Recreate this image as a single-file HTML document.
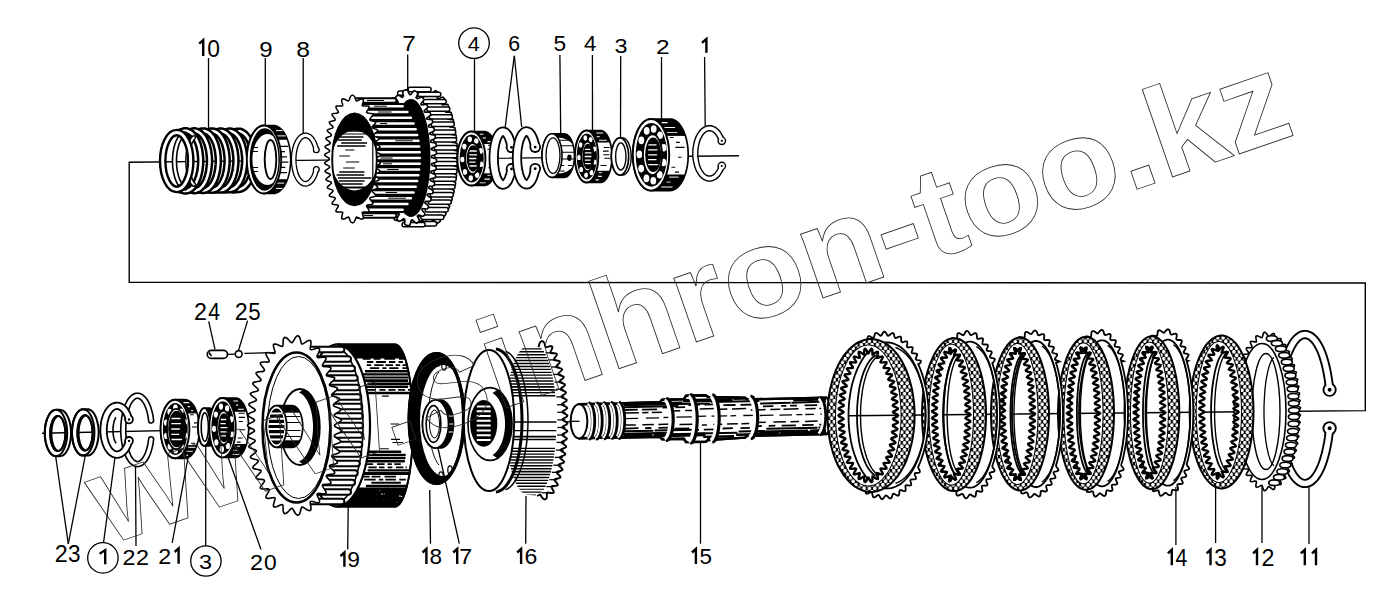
<!DOCTYPE html>
<html><head><meta charset="utf-8"><style>
html,body{margin:0;padding:0;background:#fff;overflow:hidden;}
svg{display:block;}
text{font-family:"Liberation Sans",sans-serif;}
</style></head><body>
<svg width="1381" height="607" viewBox="0 0 1381 607">
<rect width="1381" height="607" fill="#fff"/>
<defs>
<pattern id="tex" patternUnits="userSpaceOnUse" width="5.4" height="7">
<rect width="5.4" height="7" fill="#000"/>
<ellipse cx="2.7" cy="1.75" rx="1.7" ry="2.05" fill="#fff"/>
<ellipse cx="0" cy="5.25" rx="1.7" ry="2.05" fill="#fff"/>
<ellipse cx="5.4" cy="5.25" rx="1.7" ry="2.05" fill="#fff"/>
</pattern>
</defs>
<polyline points="739,155.7 129.2,162.2 129.2,282.3 1365.3,283 1365.3,410.6 850,415.7 42,433.3" fill="none" stroke="#000" stroke-width="1.4"/>
<path d="M231.3,131.5 231.9,131.3 232.6,131.1 233.2,131 233.9,131 234.6,131 235.2,131.1 235.9,131.3 236.5,131.5 237.2,131.7 237.8,132 238.5,132.4 239.1,132.8 239.7,133.3 240.3,133.8 240.9,134.4 241.5,135 242.1,135.7 242.6,136.4 243.2,137.2 243.7,138" fill="none" stroke="#000" stroke-width="5.5" />
<path d="M243.7,184 243.2,184.8 242.6,185.6 242.1,186.3 241.5,187 240.9,187.6 240.3,188.2 239.7,188.7 239.1,189.2 238.5,189.6 237.8,190 237.2,190.3 236.5,190.5 235.9,190.7 235.2,190.9 234.6,191 233.9,191 233.2,191 232.6,190.9 231.9,190.7 231.3,190.5" fill="none" stroke="#000" stroke-width="5.5" />
<path d="M222.5,131.5 223.1,131.3 223.8,131.1 224.4,131 225.1,131 225.8,131 226.4,131.1 227.1,131.3 227.7,131.5 228.4,131.7 229,132 229.7,132.4 230.3,132.8 230.9,133.3 231.5,133.8 232.1,134.4 232.7,135 233.3,135.7 233.8,136.4 234.4,137.2 234.9,138" fill="none" stroke="#000" stroke-width="5.5" />
<path d="M234.9,184 234.4,184.8 233.8,185.6 233.3,186.3 232.7,187 232.1,187.6 231.5,188.2 230.9,188.7 230.3,189.2 229.7,189.6 229,190 228.4,190.3 227.7,190.5 227.1,190.7 226.4,190.9 225.8,191 225.1,191 224.4,191 223.8,190.9 223.1,190.7 222.5,190.5" fill="none" stroke="#000" stroke-width="5.5" />
<path d="M213.7,131.5 214.3,131.3 215,131.1 215.6,131 216.3,131 217,131 217.6,131.1 218.3,131.3 218.9,131.5 219.6,131.7 220.2,132 220.9,132.4 221.5,132.8 222.1,133.3 222.7,133.8 223.3,134.4 223.9,135 224.5,135.7 225,136.4 225.6,137.2 226.1,138" fill="none" stroke="#000" stroke-width="5.5" />
<path d="M226.1,184 225.6,184.8 225,185.6 224.5,186.3 223.9,187 223.3,187.6 222.7,188.2 222.1,188.7 221.5,189.2 220.9,189.6 220.2,190 219.6,190.3 218.9,190.5 218.3,190.7 217.6,190.9 217,191 216.3,191 215.6,191 215,190.9 214.3,190.7 213.7,190.5" fill="none" stroke="#000" stroke-width="5.5" />
<path d="M204.9,131.5 205.5,131.3 206.2,131.1 206.8,131 207.5,131 208.2,131 208.8,131.1 209.5,131.3 210.1,131.5 210.8,131.7 211.4,132 212.1,132.4 212.7,132.8 213.3,133.3 213.9,133.8 214.5,134.4 215.1,135 215.7,135.7 216.2,136.4 216.8,137.2 217.3,138" fill="none" stroke="#000" stroke-width="5.5" />
<path d="M217.3,184 216.8,184.8 216.2,185.6 215.7,186.3 215.1,187 214.5,187.6 213.9,188.2 213.3,188.7 212.7,189.2 212.1,189.6 211.4,190 210.8,190.3 210.1,190.5 209.5,190.7 208.8,190.9 208.2,191 207.5,191 206.8,191 206.2,190.9 205.5,190.7 204.9,190.5" fill="none" stroke="#000" stroke-width="5.5" />
<path d="M196.1,131.5 196.7,131.3 197.4,131.1 198,131 198.7,131 199.4,131 200,131.1 200.7,131.3 201.3,131.5 202,131.7 202.6,132 203.3,132.4 203.9,132.8 204.5,133.3 205.1,133.8 205.7,134.4 206.3,135 206.9,135.7 207.4,136.4 208,137.2 208.5,138" fill="none" stroke="#000" stroke-width="5.5" />
<path d="M208.5,184 208,184.8 207.4,185.6 206.9,186.3 206.3,187 205.7,187.6 205.1,188.2 204.5,188.7 203.9,189.2 203.3,189.6 202.6,190 202,190.3 201.3,190.5 200.7,190.7 200,190.9 199.4,191 198.7,191 198,191 197.4,190.9 196.7,190.7 196.1,190.5" fill="none" stroke="#000" stroke-width="5.5" />
<path d="M187.3,131.5 187.9,131.3 188.6,131.1 189.2,131 189.9,131 190.6,131 191.2,131.1 191.9,131.3 192.5,131.5 193.2,131.7 193.8,132 194.5,132.4 195.1,132.8 195.7,133.3 196.3,133.8 196.9,134.4 197.5,135 198.1,135.7 198.6,136.4 199.2,137.2 199.7,138" fill="none" stroke="#000" stroke-width="5.5" />
<path d="M199.7,184 199.2,184.8 198.6,185.6 198.1,186.3 197.5,187 196.9,187.6 196.3,188.2 195.7,188.7 195.1,189.2 194.5,189.6 193.8,190 193.2,190.3 192.5,190.5 191.9,190.7 191.2,190.9 190.6,191 189.9,191 189.2,191 188.6,190.9 187.9,190.7 187.3,190.5" fill="none" stroke="#000" stroke-width="5.5" />
<path d="M178.5,131.5 179.1,131.3 179.8,131.1 180.4,131 181.1,131 181.8,131 182.4,131.1 183.1,131.3 183.7,131.5 184.4,131.7 185,132 185.7,132.4 186.3,132.8 186.9,133.3 187.5,133.8 188.1,134.4 188.7,135 189.3,135.7 189.8,136.4 190.4,137.2 190.9,138" fill="none" stroke="#000" stroke-width="5.5" />
<path d="M190.9,184 190.4,184.8 189.8,185.6 189.3,186.3 188.7,187 188.1,187.6 187.5,188.2 186.9,188.7 186.3,189.2 185.7,189.6 185,190 184.4,190.3 183.7,190.5 183.1,190.7 182.4,190.9 181.8,191 181.1,191 180.4,191 179.8,190.9 179.1,190.7 178.5,190.5" fill="none" stroke="#000" stroke-width="5.5" />
<path d="M234.4,132.1 235.3,131.7 236.2,131.4 237.1,131.2 238,131.2 239,131.2 239.9,131.3 240.8,131.5 241.7,131.9 242.6,132.4 243.5,132.9 244.4,133.6 245.2,134.3 246,135.2 246.8,136.1 247.6,137.2 248.3,138.3 249,139.5 249.6,140.8 250.2,142.2 250.8,143.6 251.3,145.1 251.7,146.6 252.1,148.2 252.5,149.9 252.8,151.5 253,153.2 253.2,155 253.4,156.7 253.5,158.5 253.5,160.3 253.5,162.1 253.4,163.9 253.2,165.6 253,167.4 252.8,169.1 252.5,170.7 252.1,172.4 251.7,174 251.3,175.5 250.8,177 250.2,178.4 249.6,179.8 249,181.1 248.3,182.3 247.6,183.4 246.8,184.5 246,185.4 245.2,186.3 244.4,187 243.5,187.7 242.6,188.2 241.7,188.7 240.8,189.1 239.9,189.3 239,189.4 238,189.4 237.1,189.4 236.2,189.2 235.3,188.9 234.4,188.5" fill="none" stroke="#000" stroke-width="7.6" stroke-linecap="round"/>
<path d="M234.4,132.1 235.3,131.7 236.2,131.4 237.1,131.2 238,131.2 239,131.2 239.9,131.3 240.8,131.5 241.7,131.9 242.6,132.4 243.5,132.9 244.4,133.6 245.2,134.3 246,135.2 246.8,136.1 247.6,137.2 248.3,138.3 249,139.5 249.6,140.8 250.2,142.2 250.8,143.6 251.3,145.1 251.7,146.6 252.1,148.2 252.5,149.9 252.8,151.5 253,153.2 253.2,155 253.4,156.7 253.5,158.5 253.5,160.3 253.5,162.1 253.4,163.9 253.2,165.6 253,167.4 252.8,169.1 252.5,170.7 252.1,172.4 251.7,174 251.3,175.5 250.8,177 250.2,178.4 249.6,179.8 249,181.1 248.3,182.3 247.6,183.4 246.8,184.5 246,185.4 245.2,186.3 244.4,187 243.5,187.7 242.6,188.2 241.7,188.7 240.8,189.1 239.9,189.3 239,189.4 238,189.4 237.1,189.4 236.2,189.2 235.3,188.9 234.4,188.5" fill="none" stroke="#fff" stroke-width="2.6" stroke-linecap="round"/>
<path d="M225.6,132.1 226.5,131.7 227.4,131.4 228.3,131.2 229.2,131.1 230.2,131.1 231.1,131.3 232,131.5 232.9,131.9 233.8,132.3 234.7,132.9 235.6,133.5 236.4,134.3 237.2,135.2 238,136.1 238.8,137.2 239.5,138.3 240.2,139.5 240.8,140.8 241.4,142.2 242,143.6 242.5,145.1 242.9,146.6 243.3,148.2 243.7,149.9 244,151.6 244.2,153.3 244.4,155.1 244.6,156.8 244.7,158.6 244.7,160.4 244.7,162.2 244.6,164 244.4,165.7 244.2,167.5 244,169.2 243.7,170.9 243.3,172.6 242.9,174.2 242.5,175.7 242,177.2 241.4,178.6 240.8,180 240.2,181.3 239.5,182.5 238.8,183.6 238,184.7 237.2,185.6 236.4,186.5 235.6,187.3 234.7,187.9 233.8,188.5 232.9,188.9 232,189.3 231.1,189.5 230.2,189.7 229.2,189.7 228.3,189.6 227.4,189.4 226.5,189.1 225.6,188.7" fill="none" stroke="#000" stroke-width="7.6" stroke-linecap="round"/>
<path d="M225.6,132.1 226.5,131.7 227.4,131.4 228.3,131.2 229.2,131.1 230.2,131.1 231.1,131.3 232,131.5 232.9,131.9 233.8,132.3 234.7,132.9 235.6,133.5 236.4,134.3 237.2,135.2 238,136.1 238.8,137.2 239.5,138.3 240.2,139.5 240.8,140.8 241.4,142.2 242,143.6 242.5,145.1 242.9,146.6 243.3,148.2 243.7,149.9 244,151.6 244.2,153.3 244.4,155.1 244.6,156.8 244.7,158.6 244.7,160.4 244.7,162.2 244.6,164 244.4,165.7 244.2,167.5 244,169.2 243.7,170.9 243.3,172.6 242.9,174.2 242.5,175.7 242,177.2 241.4,178.6 240.8,180 240.2,181.3 239.5,182.5 238.8,183.6 238,184.7 237.2,185.6 236.4,186.5 235.6,187.3 234.7,187.9 233.8,188.5 232.9,188.9 232,189.3 231.1,189.5 230.2,189.7 229.2,189.7 228.3,189.6 227.4,189.4 226.5,189.1 225.6,188.7" fill="none" stroke="#fff" stroke-width="2.6" stroke-linecap="round"/>
<path d="M216.8,132.1 217.7,131.6 218.6,131.3 219.5,131.1 220.4,131.1 221.4,131.1 222.3,131.2 223.2,131.5 224.1,131.8 225,132.3 225.9,132.8 226.8,133.5 227.6,134.3 228.4,135.1 229.2,136.1 230,137.1 230.7,138.3 231.4,139.5 232,140.8 232.6,142.2 233.2,143.6 233.7,145.1 234.1,146.7 234.5,148.3 234.9,149.9 235.2,151.6 235.4,153.4 235.6,155.1 235.8,156.9 235.9,158.7 235.9,160.5 235.9,162.3 235.8,164.1 235.6,165.9 235.4,167.6 235.2,169.4 234.9,171.1 234.5,172.7 234.1,174.3 233.7,175.9 233.2,177.4 232.6,178.8 232,180.2 231.4,181.5 230.7,182.7 230,183.9 229.2,184.9 228.4,185.9 227.6,186.7 226.8,187.5 225.9,188.2 225,188.7 224.1,189.2 223.2,189.5 222.3,189.8 221.4,189.9 220.4,189.9 219.5,189.9 218.6,189.7 217.7,189.4 216.8,188.9" fill="none" stroke="#000" stroke-width="7.6" stroke-linecap="round"/>
<path d="M216.8,132.1 217.7,131.6 218.6,131.3 219.5,131.1 220.4,131.1 221.4,131.1 222.3,131.2 223.2,131.5 224.1,131.8 225,132.3 225.9,132.8 226.8,133.5 227.6,134.3 228.4,135.1 229.2,136.1 230,137.1 230.7,138.3 231.4,139.5 232,140.8 232.6,142.2 233.2,143.6 233.7,145.1 234.1,146.7 234.5,148.3 234.9,149.9 235.2,151.6 235.4,153.4 235.6,155.1 235.8,156.9 235.9,158.7 235.9,160.5 235.9,162.3 235.8,164.1 235.6,165.9 235.4,167.6 235.2,169.4 234.9,171.1 234.5,172.7 234.1,174.3 233.7,175.9 233.2,177.4 232.6,178.8 232,180.2 231.4,181.5 230.7,182.7 230,183.9 229.2,184.9 228.4,185.9 227.6,186.7 226.8,187.5 225.9,188.2 225,188.7 224.1,189.2 223.2,189.5 222.3,189.8 221.4,189.9 220.4,189.9 219.5,189.9 218.6,189.7 217.7,189.4 216.8,188.9" fill="none" stroke="#fff" stroke-width="2.6" stroke-linecap="round"/>
<path d="M208,132 208.9,131.6 209.8,131.3 210.7,131.1 211.6,131 212.6,131 213.5,131.2 214.4,131.4 215.3,131.8 216.2,132.2 217.1,132.8 218,133.5 218.8,134.2 219.6,135.1 220.4,136.1 221.2,137.1 221.9,138.3 222.6,139.5 223.2,140.8 223.8,142.2 224.4,143.6 224.9,145.1 225.3,146.7 225.7,148.3 226.1,150 226.4,151.7 226.6,153.4 226.8,155.2 227,157 227.1,158.8 227.1,160.6 227.1,162.4 227,164.2 226.8,166 226.6,167.8 226.4,169.5 226.1,171.2 225.7,172.9 225.3,174.5 224.9,176.1 224.4,177.6 223.8,179 223.2,180.4 222.6,181.7 221.9,182.9 221.2,184.1 220.4,185.1 219.6,186.1 218.8,187 218,187.7 217.1,188.4 216.2,189 215.3,189.4 214.4,189.8 213.5,190 212.6,190.2 211.6,190.2 210.7,190.1 209.8,189.9 208.9,189.6 208,189.2" fill="none" stroke="#000" stroke-width="7.6" stroke-linecap="round"/>
<path d="M208,132 208.9,131.6 209.8,131.3 210.7,131.1 211.6,131 212.6,131 213.5,131.2 214.4,131.4 215.3,131.8 216.2,132.2 217.1,132.8 218,133.5 218.8,134.2 219.6,135.1 220.4,136.1 221.2,137.1 221.9,138.3 222.6,139.5 223.2,140.8 223.8,142.2 224.4,143.6 224.9,145.1 225.3,146.7 225.7,148.3 226.1,150 226.4,151.7 226.6,153.4 226.8,155.2 227,157 227.1,158.8 227.1,160.6 227.1,162.4 227,164.2 226.8,166 226.6,167.8 226.4,169.5 226.1,171.2 225.7,172.9 225.3,174.5 224.9,176.1 224.4,177.6 223.8,179 223.2,180.4 222.6,181.7 221.9,182.9 221.2,184.1 220.4,185.1 219.6,186.1 218.8,187 218,187.7 217.1,188.4 216.2,189 215.3,189.4 214.4,189.8 213.5,190 212.6,190.2 211.6,190.2 210.7,190.1 209.8,189.9 208.9,189.6 208,189.2" fill="none" stroke="#fff" stroke-width="2.6" stroke-linecap="round"/>
<path d="M199.2,132 200.1,131.5 201,131.2 201.9,131 202.8,131 203.8,131 204.7,131.1 205.6,131.4 206.5,131.7 207.4,132.2 208.3,132.7 209.2,133.4 210,134.2 210.8,135.1 211.6,136 212.4,137.1 213.1,138.2 213.8,139.5 214.4,140.8 215,142.2 215.6,143.6 216.1,145.2 216.5,146.7 216.9,148.4 217.3,150 217.6,151.8 217.8,153.5 218,155.3 218.2,157.1 218.3,158.9 218.3,160.7 218.3,162.5 218.2,164.3 218,166.1 217.8,167.9 217.6,169.6 217.3,171.4 216.9,173 216.5,174.7 216.1,176.2 215.6,177.8 215,179.2 214.4,180.6 213.8,181.9 213.1,183.2 212.4,184.3 211.6,185.4 210.8,186.3 210,187.2 209.2,188 208.3,188.7 207.4,189.2 206.5,189.7 205.6,190 204.7,190.3 203.8,190.4 202.8,190.4 201.9,190.4 201,190.2 200.1,189.9 199.2,189.4" fill="none" stroke="#000" stroke-width="7.6" stroke-linecap="round"/>
<path d="M199.2,132 200.1,131.5 201,131.2 201.9,131 202.8,131 203.8,131 204.7,131.1 205.6,131.4 206.5,131.7 207.4,132.2 208.3,132.7 209.2,133.4 210,134.2 210.8,135.1 211.6,136 212.4,137.1 213.1,138.2 213.8,139.5 214.4,140.8 215,142.2 215.6,143.6 216.1,145.2 216.5,146.7 216.9,148.4 217.3,150 217.6,151.8 217.8,153.5 218,155.3 218.2,157.1 218.3,158.9 218.3,160.7 218.3,162.5 218.2,164.3 218,166.1 217.8,167.9 217.6,169.6 217.3,171.4 216.9,173 216.5,174.7 216.1,176.2 215.6,177.8 215,179.2 214.4,180.6 213.8,181.9 213.1,183.2 212.4,184.3 211.6,185.4 210.8,186.3 210,187.2 209.2,188 208.3,188.7 207.4,189.2 206.5,189.7 205.6,190 204.7,190.3 203.8,190.4 202.8,190.4 201.9,190.4 201,190.2 200.1,189.9 199.2,189.4" fill="none" stroke="#fff" stroke-width="2.6" stroke-linecap="round"/>
<path d="M190.4,131.9 191.3,131.5 192.2,131.2 193.1,131 194,130.9 195,130.9 195.9,131.1 196.8,131.3 197.7,131.7 198.6,132.1 199.5,132.7 200.4,133.4 201.2,134.2 202,135 202.8,136 203.6,137.1 204.3,138.2 205,139.5 205.6,140.8 206.2,142.2 206.8,143.7 207.3,145.2 207.7,146.8 208.1,148.4 208.5,150.1 208.8,151.8 209,153.6 209.2,155.4 209.4,157.2 209.5,159 209.5,160.8 209.5,162.6 209.4,164.4 209.2,166.2 209,168 208.8,169.8 208.5,171.5 208.1,173.2 207.7,174.8 207.3,176.4 206.8,177.9 206.2,179.4 205.6,180.8 205,182.1 204.3,183.4 203.6,184.5 202.8,185.6 202,186.6 201.2,187.4 200.4,188.2 199.5,188.9 198.6,189.5 197.7,189.9 196.8,190.3 195.9,190.5 195,190.7 194,190.7 193.1,190.6 192.2,190.4 191.3,190.1 190.4,189.7" fill="none" stroke="#000" stroke-width="7.6" stroke-linecap="round"/>
<path d="M190.4,131.9 191.3,131.5 192.2,131.2 193.1,131 194,130.9 195,130.9 195.9,131.1 196.8,131.3 197.7,131.7 198.6,132.1 199.5,132.7 200.4,133.4 201.2,134.2 202,135 202.8,136 203.6,137.1 204.3,138.2 205,139.5 205.6,140.8 206.2,142.2 206.8,143.7 207.3,145.2 207.7,146.8 208.1,148.4 208.5,150.1 208.8,151.8 209,153.6 209.2,155.4 209.4,157.2 209.5,159 209.5,160.8 209.5,162.6 209.4,164.4 209.2,166.2 209,168 208.8,169.8 208.5,171.5 208.1,173.2 207.7,174.8 207.3,176.4 206.8,177.9 206.2,179.4 205.6,180.8 205,182.1 204.3,183.4 203.6,184.5 202.8,185.6 202,186.6 201.2,187.4 200.4,188.2 199.5,188.9 198.6,189.5 197.7,189.9 196.8,190.3 195.9,190.5 195,190.7 194,190.7 193.1,190.6 192.2,190.4 191.3,190.1 190.4,189.7" fill="none" stroke="#fff" stroke-width="2.6" stroke-linecap="round"/>
<path d="M181.6,131.9 182.5,131.5 183.4,131.1 184.3,130.9 185.2,130.9 186.2,130.9 187.1,131 188,131.3 188.9,131.6 189.8,132.1 190.7,132.7 191.6,133.3 192.4,134.1 193.2,135 194,136 194.8,137.1 195.5,138.2 196.2,139.5 196.8,140.8 197.4,142.2 198,143.7 198.5,145.2 198.9,146.8 199.3,148.4 199.7,150.1 200,151.9 200.2,153.6 200.4,155.4 200.6,157.2 200.7,159.1 200.7,160.9 200.7,162.7 200.6,164.6 200.4,166.4 200.2,168.2 200,169.9 199.7,171.7 199.3,173.4 198.9,175 198.5,176.6 198,178.1 197.4,179.6 196.8,181 196.2,182.3 195.5,183.6 194.8,184.7 194,185.8 193.2,186.8 192.4,187.7 191.6,188.5 190.7,189.1 189.8,189.7 188.9,190.2 188,190.5 187.1,190.8 186.2,190.9 185.2,190.9 184.3,190.9 183.4,190.7 182.5,190.3 181.6,189.9" fill="none" stroke="#000" stroke-width="7.6" stroke-linecap="round"/>
<path d="M181.6,131.9 182.5,131.5 183.4,131.1 184.3,130.9 185.2,130.9 186.2,130.9 187.1,131 188,131.3 188.9,131.6 189.8,132.1 190.7,132.7 191.6,133.3 192.4,134.1 193.2,135 194,136 194.8,137.1 195.5,138.2 196.2,139.5 196.8,140.8 197.4,142.2 198,143.7 198.5,145.2 198.9,146.8 199.3,148.4 199.7,150.1 200,151.9 200.2,153.6 200.4,155.4 200.6,157.2 200.7,159.1 200.7,160.9 200.7,162.7 200.6,164.6 200.4,166.4 200.2,168.2 200,169.9 199.7,171.7 199.3,173.4 198.9,175 198.5,176.6 198,178.1 197.4,179.6 196.8,181 196.2,182.3 195.5,183.6 194.8,184.7 194,185.8 193.2,186.8 192.4,187.7 191.6,188.5 190.7,189.1 189.8,189.7 188.9,190.2 188,190.5 187.1,190.8 186.2,190.9 185.2,190.9 184.3,190.9 183.4,190.7 182.5,190.3 181.6,189.9" fill="none" stroke="#fff" stroke-width="2.6" stroke-linecap="round"/>
<path d="M185,187.9 184.4,187.7 183.9,187.5 183.3,187.3 182.8,186.9 182.2,186.5 181.7,186 181.2,185.5 180.7,184.9 180.2,184.3 179.7,183.6 179.2,182.8 178.8,182 178.3,181.1 177.9,180.2 177.5,179.2 177.1,178.2 176.8,177.2 176.5,176.1 176.2,175 175.9,173.8 175.6,172.6 175.4,171.4 175.2,170.2 175,168.9 174.8,167.6 174.7,166.3 174.6,165 174.6,163.7 174.5,162.3 174.5,161 174.5,159.7 174.6,158.3 174.6,157 174.7,155.7 174.8,154.4 175,153.1 175.2,151.8 175.4,150.6 175.6,149.4 175.9,148.2 176.2,147 176.5,145.9 176.8,144.8 177.1,143.8 177.5,142.8 177.9,141.8 178.3,140.9 178.8,140 179.2,139.2 179.7,138.4 180.2,137.7 180.7,137.1 181.2,136.5 181.7,136 182.2,135.5 182.8,135.1 183.3,134.7 183.9,134.5 184.4,134.3 185,134.1" fill="none" stroke="#000" stroke-width="5.6" stroke-linecap="round"/>
<path d="M185,187.9 184.4,187.7 183.9,187.5 183.3,187.3 182.8,186.9 182.2,186.5 181.7,186 181.2,185.5 180.7,184.9 180.2,184.3 179.7,183.6 179.2,182.8 178.8,182 178.3,181.1 177.9,180.2 177.5,179.2 177.1,178.2 176.8,177.2 176.5,176.1 176.2,175 175.9,173.8 175.6,172.6 175.4,171.4 175.2,170.2 175,168.9 174.8,167.6 174.7,166.3 174.6,165 174.6,163.7 174.5,162.3 174.5,161 174.5,159.7 174.6,158.3 174.6,157 174.7,155.7 174.8,154.4 175,153.1 175.2,151.8 175.4,150.6 175.6,149.4 175.9,148.2 176.2,147 176.5,145.9 176.8,144.8 177.1,143.8 177.5,142.8 177.9,141.8 178.3,140.9 178.8,140 179.2,139.2 179.7,138.4 180.2,137.7 180.7,137.1 181.2,136.5 181.7,136 182.2,135.5 182.8,135.1 183.3,134.7 183.9,134.5 184.4,134.3 185,134.1" fill="none" stroke="#fff" stroke-width="2.4" stroke-linecap="round"/>
<path d="M193.8,184.5 193.4,184.1 193,183.7 192.7,183.3 192.3,182.8 192,182.3 191.7,181.7 191.4,181.1 191.1,180.5 190.8,179.9 190.5,179.2 190.2,178.5 189.9,177.7 189.7,177 189.4,176.2 189.2,175.3 189,174.5 188.8,173.6 188.6,172.7 188.4,171.8 188.3,170.9 188.1,170 188,169 187.9,168 187.8,167 187.7,166.1 187.6,165.1 187.6,164 187.5,163 187.5,162 187.5,161 187.5,160 187.5,159 187.6,158 187.6,156.9 187.7,155.9 187.8,155 187.9,154 188,153 188.1,152 188.3,151.1 188.4,150.2 188.6,149.3 188.8,148.4 189,147.5 189.2,146.7 189.4,145.8 189.7,145 189.9,144.3 190.2,143.5 190.5,142.8 190.8,142.1 191.1,141.5 191.4,140.9 191.7,140.3 192,139.7 192.3,139.2 192.7,138.7 193,138.3 193.4,137.9 193.8,137.5" fill="none" stroke="#000" stroke-width="4.8" stroke-linecap="round"/>
<path d="M193.8,184.5 193.4,184.1 193,183.7 192.7,183.3 192.3,182.8 192,182.3 191.7,181.7 191.4,181.1 191.1,180.5 190.8,179.9 190.5,179.2 190.2,178.5 189.9,177.7 189.7,177 189.4,176.2 189.2,175.3 189,174.5 188.8,173.6 188.6,172.7 188.4,171.8 188.3,170.9 188.1,170 188,169 187.9,168 187.8,167 187.7,166.1 187.6,165.1 187.6,164 187.5,163 187.5,162 187.5,161 187.5,160 187.5,159 187.6,158 187.6,156.9 187.7,155.9 187.8,155 187.9,154 188,153 188.1,152 188.3,151.1 188.4,150.2 188.6,149.3 188.8,148.4 189,147.5 189.2,146.7 189.4,145.8 189.7,145 189.9,144.3 190.2,143.5 190.5,142.8 190.8,142.1 191.1,141.5 191.4,140.9 191.7,140.3 192,139.7 192.3,139.2 192.7,138.7 193,138.3 193.4,137.9 193.8,137.5" fill="none" stroke="#fff" stroke-width="2.0" stroke-linecap="round"/>
<ellipse cx="176.7" cy="161.0" rx="14.0" ry="28.4" fill="none" stroke="#000" stroke-width="7.8" />
<ellipse cx="176.7" cy="161.0" rx="14.0" ry="28.4" fill="none" stroke="#fff" stroke-width="3.0" />
<path d="M264,193.5 262.7,193.4 261.3,193.1 260,192.6 258.7,191.8 257.4,190.9 256.2,189.8 255,188.5 253.9,187 252.8,185.4 251.8,183.5 250.9,181.6 250.1,179.5 249.3,177.3 248.7,174.9 248.1,172.5 247.6,170 247.3,167.4 247,164.8 246.9,162.2 246.8,159.5 246.9,156.8 247,154.2 247.3,151.6 247.6,149 248.1,146.5 248.7,144.1 249.3,141.7 250.1,139.5 250.9,137.4 251.8,135.5 252.8,133.6 253.9,132 255,130.5 256.2,129.2 257.4,128.1 258.7,127.2 260,126.4 261.3,125.9 262.7,125.6 264,125.5 273.5,125.5 274.8,125.6 276.2,125.9 277.5,126.4 278.8,127.2 280.1,128.1 281.3,129.2 282.5,130.5 283.6,132 284.7,133.6 285.7,135.5 286.6,137.4 287.4,139.5 288.2,141.7 288.8,144.1 289.4,146.5 289.9,149 290.2,151.6 290.5,154.2 290.6,156.8 290.7,159.5 290.6,162.2 290.5,164.8 290.2,167.4 289.9,170 289.4,172.5 288.8,174.9 288.2,177.3 287.4,179.5 286.6,181.6 285.7,183.5 284.7,185.4 283.6,187 282.5,188.5 281.3,189.8 280.1,190.9 278.8,191.8 277.5,192.6 276.2,193.1 274.8,193.4 273.5,193.5Z" fill="#fff" stroke="#000" stroke-width="1.6" />
<clipPath id="k1"><path d="M273.5,125.5 274.8,125.6 276.2,125.9 277.5,126.4 278.8,127.2 280.1,128.1 281.3,129.2 282.5,130.5 283.6,132 284.7,133.6 285.7,135.5 286.6,137.4 287.4,139.5 288.2,141.7 288.8,144.1 289.4,146.5 289.9,149 290.2,151.6 290.5,154.2 290.6,156.8 290.7,159.5 290.6,162.2 290.5,164.8 290.2,167.4 289.9,170 289.4,172.5 288.8,174.9 288.2,177.3 287.4,179.5 286.6,181.6 285.7,183.5 284.7,185.4 283.6,187 282.5,188.5 281.3,189.8 280.1,190.9 278.8,191.8 277.5,192.6 276.2,193.1 274.8,193.4 273.5,193.5 264,193.5 265.3,193.4 266.7,193.1 268,192.6 269.3,191.8 270.6,190.9 271.8,189.8 273,188.5 274.1,187 275.2,185.4 276.2,183.5 277.1,181.6 277.9,179.5 278.7,177.3 279.3,174.9 279.9,172.5 280.4,170 280.7,167.4 281,164.8 281.1,162.2 281.2,159.5 281.1,156.8 281,154.2 280.7,151.6 280.4,149 279.9,146.5 279.3,144.1 278.7,141.7 277.9,139.5 277.1,137.4 276.2,135.5 275.2,133.6 274.1,132 273,130.5 271.8,129.2 270.6,128.1 269.3,127.2 268,126.4 266.7,125.9 265.3,125.6 264,125.5Z"/></clipPath><g clip-path="url(#k1)">
<rect x="264" y="125.5" width="28.7" height="14.28" fill="#000"/>
<rect x="264" y="179.22" width="28.7" height="14.28" fill="#000"/>
<line x1="276.0" y1="130.6" x2="286.2" y2="130.6" stroke="#fff" stroke-width="1.0" />
<line x1="276.0" y1="135.9" x2="285.8" y2="135.9" stroke="#fff" stroke-width="1.0" />
<line x1="276.0" y1="141.1" x2="284.7" y2="141.1" stroke="#fff" stroke-width="1.0" />
<line x1="278.6" y1="146.4" x2="288.3" y2="146.4" stroke="#000" stroke-width="1.2" />
<line x1="278.6" y1="151.6" x2="285.0" y2="151.6" stroke="#000" stroke-width="1.2" />
<line x1="278.6" y1="156.9" x2="286.9" y2="156.9" stroke="#000" stroke-width="1.2" />
<line x1="278.6" y1="162.1" x2="288.4" y2="162.1" stroke="#000" stroke-width="1.2" />
<line x1="278.6" y1="167.4" x2="285.3" y2="167.4" stroke="#000" stroke-width="1.2" />
<line x1="278.6" y1="172.6" x2="287.1" y2="172.6" stroke="#000" stroke-width="1.2" />
<line x1="276.0" y1="177.9" x2="287.0" y2="177.9" stroke="#fff" stroke-width="1.0" />
<line x1="276.0" y1="183.1" x2="284.2" y2="183.1" stroke="#fff" stroke-width="1.0" />
<line x1="276.0" y1="188.4" x2="285.9" y2="188.4" stroke="#fff" stroke-width="1.0" />
</g>
<ellipse cx="264.0" cy="159.5" rx="17.2" ry="34.0" fill="#fff" stroke="#000" stroke-width="1.9" />
<clipPath id="k2"><path d="M279.2,159.5 279,164.3 278.5,168.9 277.6,173.3 276.4,177.4 275,181 273.3,184.1 271.3,186.6 269.2,188.4 267.1,189.5 264.8,189.9 262.5,189.5 260.4,188.4 258.3,186.6 256.3,184.1 254.6,181 253.2,177.4 252,173.3 251.1,168.9 250.6,164.3 250.4,159.5 250.6,154.7 251.1,150.1 252,145.7 253.2,141.6 254.6,138 256.3,134.9 258.3,132.4 260.4,130.6 262.5,129.5 264.8,129.1 267.1,129.5 269.2,130.6 271.3,132.4 273.3,134.9 275,138 276.4,141.6 277.6,145.7 278.5,150.1 279,154.7 279.2,159.5Z"/></clipPath><g clip-path="url(#k2)">
<ellipse cx="264.8" cy="159.5" rx="14.4" ry="30.4" fill="#000" stroke="#000" stroke-width="0" />
<ellipse cx="267.3" cy="159.5" rx="14.9" ry="25.4" fill="#fff" stroke="#000" stroke-width="0" />
<line x1="250.0" y1="147.5" x2="258.0" y2="147.5" stroke="#000" stroke-width="1.1" />
<line x1="250.0" y1="151.5" x2="258.0" y2="151.5" stroke="#000" stroke-width="1.1" />
<line x1="250.0" y1="167.5" x2="258.0" y2="167.5" stroke="#000" stroke-width="1.1" />
<line x1="250.0" y1="171.5" x2="258.0" y2="171.5" stroke="#000" stroke-width="1.1" />
</g>
<ellipse cx="264.8" cy="159.5" rx="14.4" ry="30.4" fill="none" stroke="#000" stroke-width="1.5" />
<ellipse cx="270.5" cy="159.5" rx="5.8" ry="19.5" fill="none" stroke="#000" stroke-width="1.9" />
<path d="M316.3,169.4 315.9,170.9 315.5,172.4 315.1,173.7 314.6,175 314.1,176.3 313.5,177.4 312.9,178.5 312.2,179.5 311.6,180.4 310.9,181.2 310.1,181.9 309.4,182.5 308.6,182.9 307.8,183.3 307,183.6 306.2,183.8 305.4,183.8 304.6,183.7 303.8,183.6 303,183.3 302.3,182.9 301.5,182.4 300.8,181.8 300,181 299.3,180.2 298.7,179.3 298,178.3 297.4,177.2 296.9,176.1 296.3,174.8 295.8,173.5 295.4,172.1 295,170.7 294.7,169.2 294.4,167.7 294.1,166.1 293.9,164.5 293.8,162.9 293.7,161.2 293.7,159.6 293.7,158 293.8,156.3 293.9,154.7 294.1,153.1 294.4,151.5 294.7,150 295,148.5 295.4,147.1 295.8,145.7 296.3,144.4 296.9,143.1 297.4,142 298,140.9 298.7,139.9 299.3,139 300,138.2 300.8,137.4 301.5,136.8 302.3,136.3 303,135.9 303.8,135.6 304.6,135.5 305.4,135.4 306.2,135.4 307,135.6 307.8,135.9 308.6,136.3 309.4,136.7 310.1,137.3 310.9,138 311.6,138.8 312.2,139.7 312.9,140.7 313.5,141.8 314.1,142.9 314.6,144.2 315.1,145.5 315.5,146.8 315.9,148.3 316.3,149.8" fill="none" stroke="#000" stroke-width="5.800000000000001" stroke-linecap="round"/>
<circle cx="316.3" cy="169.4" r="3.5" fill="#000"/>
<circle cx="316.3" cy="149.8" r="3.5" fill="#000"/>
<path d="M316.3,169.4 315.9,170.9 315.5,172.4 315.1,173.7 314.6,175 314.1,176.3 313.5,177.4 312.9,178.5 312.2,179.5 311.6,180.4 310.9,181.2 310.1,181.9 309.4,182.5 308.6,182.9 307.8,183.3 307,183.6 306.2,183.8 305.4,183.8 304.6,183.7 303.8,183.6 303,183.3 302.3,182.9 301.5,182.4 300.8,181.8 300,181 299.3,180.2 298.7,179.3 298,178.3 297.4,177.2 296.9,176.1 296.3,174.8 295.8,173.5 295.4,172.1 295,170.7 294.7,169.2 294.4,167.7 294.1,166.1 293.9,164.5 293.8,162.9 293.7,161.2 293.7,159.6 293.7,158 293.8,156.3 293.9,154.7 294.1,153.1 294.4,151.5 294.7,150 295,148.5 295.4,147.1 295.8,145.7 296.3,144.4 296.9,143.1 297.4,142 298,140.9 298.7,139.9 299.3,139 300,138.2 300.8,137.4 301.5,136.8 302.3,136.3 303,135.9 303.8,135.6 304.6,135.5 305.4,135.4 306.2,135.4 307,135.6 307.8,135.9 308.6,136.3 309.4,136.7 310.1,137.3 310.9,138 311.6,138.8 312.2,139.7 312.9,140.7 313.5,141.8 314.1,142.9 314.6,144.2 315.1,145.5 315.5,146.8 315.9,148.3 316.3,149.8" fill="none" stroke="#fff" stroke-width="3.2" stroke-linecap="round"/>
<circle cx="316.3" cy="169.4" r="2.2" fill="#fff"/>
<circle cx="316.3" cy="149.8" r="2.2" fill="#fff"/>
<path d="M452.5,157.5 455.8,158.4 457.5,159.4 457.5,160.3 457.5,161.2 457.4,162.1 454.5,163 452.4,163.8 452.4,164.7 453.9,165.7 457.1,166.8 457.2,167.7 457.2,168.6 457.1,169.5 455.8,170.4 452.5,171 451.9,171.9 451.8,172.8 454.9,174 456.6,175.1 456.5,176 456.4,176.9 456.3,177.9 453.4,178.4 451.1,179.1 451,180 452.4,181.1 455.5,182.5 455.6,183.4 455.4,184.3 455.3,185.3 454,186 450.6,186.3 449.9,187.1 449.7,188 452.5,189.5 454.2,190.8 454,191.7 453.8,192.6 453.6,193.5 450.7,193.8 448.3,194.1 448.1,195 449.2,196.2 452.1,198 452.2,199 451.9,199.9 451.6,200.8 450.3,201.4 446.9,201.3 446,201.9 445.7,202.7 448.1,204.6 449.7,206.3 449.3,207.2 448.9,208.1 448.5,209 445.7,208.7 443.2,208.5 442.8,209.3 443.5,210.8 445.9,213.2 445.8,214.3 445.2,215.2 444.6,216 443.3,216.3 440.1,215.1 438.9,215.4 438.3,216.1 439.7,218.8 440.4,221 439.5,221.8 438.6,222.5 437.5,223.2 435.2,221.6 433.3,219.8 432.4,220.1 431.8,221.6 431.1,225 429.6,225.5 428.2,225.4 426.8,225.1 425.7,223.9 425.9,220.4 425.5,219.2 424.7,218.8 422.3,220.5 420,221.4 419.2,220.6 418.4,219.8 417.6,219 418.9,216.6 420.3,214.3 419.8,213.6 418.3,213.5 415,214.4 414,213.8 413.5,213 413,212.1 413.3,210.8 415.8,208.5 416.2,207.3 415.9,206.5 413,206.7 410.5,206.7 410.2,205.8 409.8,204.9 409.5,204 411.4,202.3 413.6,200.6 413.3,199.8 412,199.2 408.6,199.3 407.7,198.6 407.5,197.6 407.2,196.7 407.6,195.6 410.6,193.9 411.4,192.8 411.2,191.9 408.4,191.6 405.9,191.2 405.7,190.3 405.5,189.4 405.3,188.5 407.4,187.1 409.9,185.8 409.7,184.9 408.6,184.1 405.3,183.8 404.4,182.9 404.2,182 404.1,181.1 404.6,180.1 407.7,178.8 408.7,177.7 408.6,176.8 405.9,176.2 403.4,175.6 403.3,174.6 403.2,173.7 403.2,172.8 405.3,171.7 408,170.6 407.9,169.7 407,168.8 403.7,168.1 402.8,167.2 402.7,166.3 402.7,165.4 403.2,164.4 406.4,163.4 407.6,162.5 407.5,161.6 405.1,160.7 402.5,159.8 402.5,158.9 402.5,158 402.5,157 404.6,156.1 407.5,155.2 407.5,154.3 406.8,153.4 403.5,152.4 402.6,151.5 402.6,150.5 402.7,149.6 403.2,148.7 406.5,148 407.8,147.1 407.9,146.2 405.5,145.2 403,144.1 403.1,143.1 403.2,142.2 403.2,141.3 405.3,140.6 408.4,140 408.5,139.1 407.9,138.1 404.8,136.8 403.8,135.7 404,134.8 404.1,133.9 404.6,133 407.9,132.6 409.4,131.9 409.6,131 407.5,129.7 405,128.4 405.1,127.4 405.3,126.5 405.5,125.6 407.6,125.1 410.8,124.8 411,123.9 410.6,122.9 407.6,121.3 406.7,120.1 407,119.2 407.2,118.3 407.7,117.4 411.1,117.4 412.8,117 413,116.1 411.2,114.6 408.9,112.8 409.2,111.9 409.5,111 409.8,110.1 411.9,109.9 415.2,110.2 415.5,109.3 415.4,108.3 412.8,106.1 412.1,104.7 412.5,103.8 413,102.9 413.6,102.1 417,102.9 418.8,102.9 419.2,102.2 418,100.2 416.3,97.7 416.9,96.8 417.6,96 418.4,95.2 420.4,95.6 423.3,97.4 424,96.8 424.5,95.9 423.7,92.6 424.2,90.8 425.4,90.3 426.8,89.9 428.2,89.7 429.7,92.9 430.7,94.5 431.6,94.7 433,92.9 435.2,90.6 436.4,91.1 437.5,91.8 438.6,92.5 438.5,94.5 437.1,97.6 437.7,98.3 438.6,98.7 441.7,97.3 443.4,97.3 444,98.1 444.6,99 445.2,99.8 443,102.4 441.9,104.1 442.4,104.9 444.5,104.8 447.7,104.3 448.1,105.1 448.5,106 448.9,106.9 447.8,108.4 445.2,110.5 445.3,111.4 445.9,112.2 449.3,111.9 451,112.4 451.3,113.3 451.6,114.2 451.9,115.1 449.1,116.9 447.6,118.3 447.8,119.1 449.9,119.5 453.2,119.6 453.4,120.6 453.6,121.5 453.8,122.4 452.6,123.6 449.6,125.2 449.5,126.1 449.9,127 453.2,127.3 454.9,127.9 455.1,128.8 455.3,129.7 455.4,130.7 452.5,132.1 450.8,133.2 450.9,134.1 452.8,134.8 456.1,135.3 456.2,136.2 456.3,137.1 456.4,138.1 455.1,139.1 452,140.4 451.7,141.3 451.9,142.2 455.2,142.8 457,143.6 457,144.5 457.1,145.5 457.2,146.4 454.2,147.5 452.3,148.5 452.3,149.4 454,150.2 457.3,151 457.4,151.9 457.4,152.9 457.5,153.8 456.2,154.7 452.9,155.7 452.5,156.6 452.5,157.5Z" fill="#fff" stroke="#000" stroke-width="1.6" />
<rect x="391.6" y="98.0" width="23.0" height="4.4" rx="2" fill="#fff" stroke="#000" stroke-width="1.5"/>
<rect x="397.6" y="90.9" width="23.0" height="4.4" rx="2" fill="#fff" stroke="#000" stroke-width="1.5"/>
<rect x="408.1" y="87.3" width="23.0" height="4.4" rx="2" fill="#fff" stroke="#000" stroke-width="1.5"/>
<rect x="417.8" y="92.2" width="23.0" height="4.4" rx="2" fill="#fff" stroke="#000" stroke-width="1.5"/>
<rect x="423.2" y="99.4" width="23.0" height="4.4" rx="2" fill="#fff" stroke="#000" stroke-width="1.5"/>
<rect x="426.8" y="106.9" width="23.0" height="4.4" rx="2" fill="#fff" stroke="#000" stroke-width="1.5"/>
<rect x="429.4" y="114.7" width="23.0" height="4.4" rx="2" fill="#fff" stroke="#000" stroke-width="1.5"/>
<rect x="431.2" y="122.1" width="23.0" height="4.4" rx="2" fill="#fff" stroke="#000" stroke-width="1.5"/>
<rect x="432.7" y="130.1" width="23.0" height="4.4" rx="2" fill="#fff" stroke="#000" stroke-width="1.5"/>
<rect x="433.6" y="137.7" width="23.0" height="4.4" rx="2" fill="#fff" stroke="#000" stroke-width="1.5"/>
<rect x="434.2" y="145.5" width="23.0" height="4.4" rx="2" fill="#fff" stroke="#000" stroke-width="1.5"/>
<rect x="434.5" y="153.4" width="23.0" height="4.4" rx="2" fill="#fff" stroke="#000" stroke-width="1.5"/>
<rect x="434.4" y="161.4" width="23.0" height="4.4" rx="2" fill="#fff" stroke="#000" stroke-width="1.5"/>
<rect x="434.0" y="169.3" width="23.0" height="4.4" rx="2" fill="#fff" stroke="#000" stroke-width="1.5"/>
<rect x="433.2" y="176.9" width="23.0" height="4.4" rx="2" fill="#fff" stroke="#000" stroke-width="1.5"/>
<rect x="432.0" y="184.7" width="23.0" height="4.4" rx="2" fill="#fff" stroke="#000" stroke-width="1.5"/>
<rect x="430.3" y="192.5" width="23.0" height="4.4" rx="2" fill="#fff" stroke="#000" stroke-width="1.5"/>
<rect x="428.2" y="199.9" width="23.0" height="4.4" rx="2" fill="#fff" stroke="#000" stroke-width="1.5"/>
<rect x="425.2" y="207.5" width="23.0" height="4.4" rx="2" fill="#fff" stroke="#000" stroke-width="1.5"/>
<rect x="420.8" y="215.0" width="23.0" height="4.4" rx="2" fill="#fff" stroke="#000" stroke-width="1.5"/>
<rect x="413.6" y="221.6" width="23.0" height="4.4" rx="2" fill="#fff" stroke="#000" stroke-width="1.5"/>
<rect x="402.1" y="222.4" width="23.0" height="4.4" rx="2" fill="#fff" stroke="#000" stroke-width="1.5"/>
<rect x="394.1" y="216.2" width="23.0" height="4.4" rx="2" fill="#fff" stroke="#000" stroke-width="1.5"/>
<path d="M431.5,157.5 434.8,158.4 436.5,159.4 436.5,160.3 436.5,161.2 436.4,162.1 433.5,163 431.4,163.8 431.4,164.7 432.9,165.7 436.1,166.8 436.2,167.7 436.2,168.6 436.1,169.5 434.8,170.4 431.5,171 430.9,171.9 430.8,172.8 433.9,174 435.6,175.1 435.5,176 435.4,176.9 435.3,177.9 432.4,178.4 430.1,179.1 430,180 431.4,181.1 434.5,182.5 434.6,183.4 434.4,184.3 434.3,185.3 433,186 429.6,186.3 428.9,187.1 428.7,188 431.5,189.5 433.2,190.8 433,191.7 432.8,192.6 432.6,193.5 429.7,193.8 427.3,194.1 427.1,195 428.2,196.2 431.1,198 431.2,199 430.9,199.9 430.6,200.8 429.3,201.4 425.9,201.3 425,201.9 424.7,202.7 427.1,204.6 428.7,206.3 428.3,207.2 427.9,208.1 427.5,209 424.7,208.7 422.2,208.5 421.8,209.3 422.5,210.8 424.9,213.2 424.8,214.3 424.2,215.2 423.6,216 422.3,216.3 419.1,215.1 417.9,215.4 417.3,216.1 418.7,218.8 419.4,221 418.5,221.8 417.6,222.5 416.5,223.2 414.2,221.6 412.3,219.8 411.4,220.1 410.8,221.6 410.1,225 408.6,225.5 407.2,225.4 405.8,225.1 404.7,223.9 404.9,220.4 404.5,219.2 403.7,218.8 401.3,220.5 399,221.4 398.2,220.6 397.4,219.8 396.6,219 397.9,216.6 399.3,214.3 398.8,213.6 397.3,213.5 394,214.4 393,213.8 392.5,213 392,212.1 392.3,210.8 394.8,208.5 395.2,207.3 394.9,206.5 392,206.7 389.5,206.7 389.2,205.8 388.8,204.9 388.5,204 390.4,202.3 392.6,200.6 392.3,199.8 391,199.2 387.6,199.3 386.7,198.6 386.5,197.6 386.2,196.7 386.6,195.6 389.6,193.9 390.4,192.8 390.2,191.9 387.4,191.6 384.9,191.2 384.7,190.3 384.5,189.4 384.3,188.5 386.4,187.1 388.9,185.8 388.7,184.9 387.6,184.1 384.3,183.8 383.4,182.9 383.2,182 383.1,181.1 383.6,180.1 386.7,178.8 387.7,177.7 387.6,176.8 384.9,176.2 382.4,175.6 382.3,174.6 382.2,173.7 382.2,172.8 384.3,171.7 387,170.6 386.9,169.7 386,168.8 382.7,168.1 381.8,167.2 381.7,166.3 381.7,165.4 382.2,164.4 385.4,163.4 386.6,162.5 386.5,161.6 384.1,160.7 381.5,159.8 381.5,158.9 381.5,158 381.5,157 383.6,156.1 386.5,155.2 386.5,154.3 385.8,153.4 382.5,152.4 381.6,151.5 381.6,150.5 381.7,149.6 382.2,148.7 385.5,148 386.8,147.1 386.9,146.2 384.5,145.2 382,144.1 382.1,143.1 382.2,142.2 382.2,141.3 384.3,140.6 387.4,140 387.5,139.1 386.9,138.1 383.8,136.8 382.8,135.7 383,134.8 383.1,133.9 383.6,133 386.9,132.6 388.4,131.9 388.6,131 386.5,129.7 384,128.4 384.1,127.4 384.3,126.5 384.5,125.6 386.6,125.1 389.8,124.8 390,123.9 389.6,122.9 386.6,121.3 385.7,120.1 386,119.2 386.2,118.3 386.7,117.4 390.1,117.4 391.8,117 392,116.1 390.2,114.6 387.9,112.8 388.2,111.9 388.5,111 388.8,110.1 390.9,109.9 394.2,110.2 394.5,109.3 394.4,108.3 391.8,106.1 391.1,104.7 391.5,103.8 392,102.9 392.6,102.1 396,102.9 397.8,102.9 398.2,102.2 397,100.2 395.3,97.7 395.9,96.8 396.6,96 397.4,95.2 399.4,95.6 402.3,97.4 403,96.8 403.5,95.9 402.7,92.6 403.2,90.8 404.4,90.3 405.8,89.9 407.2,89.7 408.7,92.9 409.7,94.5 410.6,94.7 412,92.9 414.2,90.6 415.4,91.1 416.5,91.8 417.6,92.5 417.5,94.5 416.1,97.6 416.7,98.3 417.6,98.7 420.7,97.3 422.4,97.3 423,98.1 423.6,99 424.2,99.8 422,102.4 420.9,104.1 421.4,104.9 423.5,104.8 426.7,104.3 427.1,105.1 427.5,106 427.9,106.9 426.8,108.4 424.2,110.5 424.3,111.4 424.9,112.2 428.3,111.9 430,112.4 430.3,113.3 430.6,114.2 430.9,115.1 428.1,116.9 426.6,118.3 426.8,119.1 428.9,119.5 432.2,119.6 432.4,120.6 432.6,121.5 432.8,122.4 431.6,123.6 428.6,125.2 428.5,126.1 428.9,127 432.2,127.3 433.9,127.9 434.1,128.8 434.3,129.7 434.4,130.7 431.5,132.1 429.8,133.2 429.9,134.1 431.8,134.8 435.1,135.3 435.2,136.2 435.3,137.1 435.4,138.1 434.1,139.1 431,140.4 430.7,141.3 430.9,142.2 434.2,142.8 436,143.6 436,144.5 436.1,145.5 436.2,146.4 433.2,147.5 431.3,148.5 431.3,149.4 433,150.2 436.3,151 436.4,151.9 436.4,152.9 436.5,153.8 435.2,154.7 431.9,155.7 431.5,156.6 431.5,157.5Z" fill="#fff" stroke="#000" stroke-width="1.6" />
<ellipse cx="411.0" cy="158.0" rx="19.5" ry="59.0" fill="#000" stroke="#000" stroke-width="0" />
<rect x="353.4" y="98.3" width="43.0" height="4.4" rx="2.2" fill="#fff" stroke="#000" stroke-width="1.9"/>
<line x1="367.0" y1="100.5" x2="384.1" y2="100.5" stroke="#000" stroke-width="1.0" />
<rect x="359.5" y="104.0" width="45.3" height="4.4" rx="2.2" fill="#fff" stroke="#000" stroke-width="1.9"/>
<line x1="373.8" y1="106.2" x2="386.8" y2="106.2" stroke="#000" stroke-width="1.0" />
<rect x="363.0" y="109.8" width="46.6" height="4.4" rx="2.2" fill="#fff" stroke="#000" stroke-width="1.9"/>
<line x1="378.0" y1="112.0" x2="391.6" y2="112.0" stroke="#000" stroke-width="1.0" />
<rect x="365.5" y="115.5" width="47.6" height="4.4" rx="2.2" fill="#fff" stroke="#000" stroke-width="1.9"/>
<rect x="367.5" y="121.3" width="48.3" height="4.4" rx="2.2" fill="#fff" stroke="#000" stroke-width="1.9"/>
<line x1="380.1" y1="123.5" x2="387.2" y2="123.5" stroke="#000" stroke-width="1.0" />
<rect x="369.0" y="127.0" width="48.9" height="4.4" rx="2.2" fill="#fff" stroke="#000" stroke-width="1.9"/>
<rect x="370.1" y="132.8" width="49.3" height="4.4" rx="2.2" fill="#fff" stroke="#000" stroke-width="1.9"/>
<rect x="371.0" y="138.6" width="49.6" height="4.4" rx="2.2" fill="#fff" stroke="#000" stroke-width="1.9"/>
<line x1="395.3" y1="140.8" x2="412.8" y2="140.8" stroke="#000" stroke-width="1.0" />
<rect x="371.5" y="144.3" width="49.8" height="4.4" rx="2.2" fill="#fff" stroke="#000" stroke-width="1.9"/>
<rect x="371.9" y="150.1" width="50.0" height="4.4" rx="2.2" fill="#fff" stroke="#000" stroke-width="1.9"/>
<rect x="372.0" y="155.8" width="50.0" height="4.4" rx="2.2" fill="#fff" stroke="#000" stroke-width="1.9"/>
<line x1="380.3" y1="158.0" x2="392.6" y2="158.0" stroke="#000" stroke-width="1.0" />
<rect x="371.9" y="161.6" width="50.0" height="4.4" rx="2.2" fill="#fff" stroke="#000" stroke-width="1.9"/>
<line x1="383.1" y1="163.8" x2="392.0" y2="163.8" stroke="#000" stroke-width="1.0" />
<rect x="371.5" y="167.3" width="49.8" height="4.4" rx="2.2" fill="#fff" stroke="#000" stroke-width="1.9"/>
<line x1="387.3" y1="169.5" x2="398.6" y2="169.5" stroke="#000" stroke-width="1.0" />
<rect x="371.0" y="173.1" width="49.6" height="4.4" rx="2.2" fill="#fff" stroke="#000" stroke-width="1.9"/>
<rect x="370.1" y="178.8" width="49.3" height="4.4" rx="2.2" fill="#fff" stroke="#000" stroke-width="1.9"/>
<rect x="369.0" y="184.6" width="48.9" height="4.4" rx="2.2" fill="#fff" stroke="#000" stroke-width="1.9"/>
<rect x="367.5" y="190.3" width="48.3" height="4.4" rx="2.2" fill="#fff" stroke="#000" stroke-width="1.9"/>
<line x1="385.6" y1="192.5" x2="397.1" y2="192.5" stroke="#000" stroke-width="1.0" />
<rect x="365.5" y="196.1" width="47.6" height="4.4" rx="2.2" fill="#fff" stroke="#000" stroke-width="1.9"/>
<line x1="388.1" y1="198.2" x2="406.0" y2="198.2" stroke="#000" stroke-width="1.0" />
<rect x="363.0" y="201.8" width="46.6" height="4.4" rx="2.2" fill="#fff" stroke="#000" stroke-width="1.9"/>
<rect x="359.5" y="207.6" width="45.3" height="4.4" rx="2.2" fill="#fff" stroke="#000" stroke-width="1.9"/>
<rect x="353.4" y="213.3" width="43.0" height="4.4" rx="2.2" fill="#fff" stroke="#000" stroke-width="1.9"/>
<line x1="363.7" y1="215.5" x2="373.1" y2="215.5" stroke="#000" stroke-width="1.0" />
<path d="M375.5,159 376.1,159.9 377.6,160.8 379.3,161.8 380.3,162.7 380.2,163.6 379,164.5 377.2,165.4 375.7,166.2 375.3,167.1 376.1,168.1 377.6,169.1 379.2,170.1 380,171.1 379.6,172 378.1,172.8 376.3,173.5 375,174.3 374.7,175.2 375.6,176.2 377.1,177.3 378.6,178.4 379.1,179.4 378.5,180.3 376.8,181 375,181.6 373.8,182.3 373.6,183.2 374.6,184.3 376.2,185.6 377.4,186.7 377.7,187.8 376.8,188.5 375,189.1 373.2,189.6 372.1,190.3 372.1,191.2 373.1,192.4 374.6,193.8 375.6,195 375.6,196 374.4,196.6 372.5,197 370.7,197.4 369.8,198 369.9,199 370.9,200.4 372.2,201.9 373,203.2 372.6,204.1 371.2,204.6 369.3,204.7 367.5,204.9 366.6,205.5 366.8,206.6 367.8,208.2 368.8,209.9 369.1,211.2 368.4,212 366.8,212.1 364.8,211.9 363.2,211.9 362.3,212.4 362.4,213.6 363,215.5 363.4,217.4 363.1,218.7 361.9,219.1 360.2,218.7 358.4,217.8 356.9,217.1 356.1,217.4 355.5,218.7 354.9,220.6 353.8,222.3 352.5,223 351.2,222.3 350.1,220.6 349.5,218.7 348.9,217.4 348.1,217.1 346.6,217.8 344.8,218.7 343.1,219.1 341.9,218.7 341.6,217.4 342,215.5 342.6,213.6 342.7,212.4 341.8,211.9 340.2,211.9 338.2,212.1 336.6,212 335.9,211.2 336.2,209.9 337.2,208.2 338.2,206.6 338.4,205.5 337.5,204.9 335.7,204.7 333.8,204.6 332.4,204.1 332,203.2 332.8,201.9 334.1,200.4 335.1,199 335.2,198 334.3,197.4 332.5,197 330.6,196.6 329.4,196 329.4,195 330.4,193.8 331.9,192.4 332.9,191.2 332.9,190.3 331.8,189.6 330,189.1 328.2,188.5 327.3,187.8 327.6,186.7 328.8,185.6 330.4,184.3 331.4,183.2 331.2,182.3 330,181.6 328.2,181 326.5,180.3 325.9,179.4 326.4,178.4 327.9,177.3 329.4,176.2 330.3,175.2 330,174.3 328.7,173.5 326.9,172.8 325.4,172 325,171.1 325.8,170.1 327.4,169.1 328.9,168.1 329.7,167.1 329.3,166.2 327.8,165.4 326,164.5 324.8,163.6 324.7,162.7 325.7,161.8 327.4,160.8 328.9,159.9 329.5,159 328.9,158.1 327.4,157.2 325.7,156.2 324.7,155.3 324.8,154.4 326,153.5 327.8,152.6 329.3,151.8 329.7,150.9 328.9,149.9 327.4,148.9 325.8,147.9 325,146.9 325.4,146 326.9,145.2 328.7,144.5 330,143.7 330.3,142.8 329.4,141.8 327.9,140.7 326.4,139.6 325.9,138.6 326.5,137.7 328.2,137 330,136.4 331.2,135.7 331.4,134.8 330.4,133.7 328.8,132.4 327.6,131.3 327.3,130.2 328.2,129.5 330,128.9 331.8,128.4 332.9,127.7 332.9,126.8 331.9,125.6 330.4,124.2 329.4,123 329.4,122 330.6,121.4 332.5,121 334.3,120.6 335.2,120 335.1,119 334.1,117.6 332.8,116.1 332,114.8 332.4,113.9 333.8,113.4 335.7,113.3 337.5,113.1 338.4,112.5 338.2,111.4 337.2,109.8 336.2,108.1 335.9,106.8 336.6,106 338.2,105.9 340.2,106.1 341.8,106.1 342.7,105.6 342.6,104.4 342,102.5 341.6,100.6 341.9,99.3 343.1,98.9 344.8,99.3 346.6,100.2 348.1,100.9 348.9,100.6 349.5,99.3 350.1,97.4 351.2,95.7 352.5,95 353.8,95.7 354.9,97.4 355.5,99.3 356.1,100.6 356.9,100.9 358.4,100.2 360.2,99.3 361.9,98.9 363.1,99.3 363.4,100.6 363,102.5 362.4,104.4 362.3,105.6 363.2,106.1 364.8,106.1 366.8,105.9 368.4,106 369.1,106.8 368.8,108.1 367.8,109.8 366.8,111.4 366.6,112.5 367.5,113.1 369.3,113.3 371.2,113.4 372.6,113.9 373,114.8 372.2,116.1 370.9,117.6 369.9,119 369.8,120 370.7,120.6 372.5,121 374.4,121.4 375.6,122 375.6,123 374.6,124.2 373.1,125.6 372.1,126.8 372.1,127.7 373.2,128.4 375,128.9 376.8,129.5 377.7,130.2 377.4,131.3 376.2,132.4 374.6,133.7 373.6,134.8 373.8,135.7 375,136.4 376.8,137 378.5,137.7 379.1,138.6 378.6,139.6 377.1,140.7 375.6,141.8 374.7,142.8 375,143.7 376.3,144.5 378.1,145.2 379.6,146 380,146.9 379.2,147.9 377.6,148.9 376.1,149.9 375.3,150.9 375.7,151.8 377.2,152.6 379,153.5 380.2,154.4 380.3,155.3 379.3,156.2 377.6,157.2 376.1,158.1 375.5,159Z" fill="#fff" stroke="#000" stroke-width="1.5" />
<clipPath id="k3"><path d="M376.8,159.4 376.5,166.6 375.7,173.6 374.4,180.3 372.5,186.4 370.3,191.9 367.6,196.6 364.6,200.4 361.4,203.1 358,204.8 354.5,205.4 351,204.8 347.6,203.1 344.4,200.4 341.4,196.6 338.7,191.9 336.5,186.4 334.6,180.3 333.3,173.6 332.5,166.6 332.2,159.4 332.5,152.2 333.3,145.2 334.6,138.5 336.5,132.4 338.7,126.9 341.4,122.2 344.4,118.4 347.6,115.7 351,114 354.5,113.4 358,114 361.4,115.7 364.6,118.4 367.6,122.2 370.3,126.9 372.5,132.4 374.4,138.5 375.7,145.2 376.5,152.2 376.8,159.4Z"/></clipPath><g clip-path="url(#k3)">
<ellipse cx="354.5" cy="159.4" rx="22.3" ry="46.0" fill="#000" stroke="#000" stroke-width="0" />
<ellipse cx="354.5" cy="160.4" rx="22.8" ry="30.0" fill="#fff" stroke="#000" stroke-width="0" />
<line x1="337.6" y1="131.0" x2="366.4" y2="131.0" stroke="#000" stroke-width="1.4219730999288476" />
<line x1="339.8" y1="134.0" x2="365.5" y2="134.0" stroke="#000" stroke-width="1.239317315543888" />
<line x1="336.3" y1="137.0" x2="363.4" y2="137.0" stroke="#000" stroke-width="1.3556124085968047" />
<line x1="337.6" y1="140.0" x2="361.8" y2="140.0" stroke="#000" stroke-width="1.4821581045134686" />
<line x1="341.2" y1="143.0" x2="367.0" y2="143.0" stroke="#000" stroke-width="1.583440884326497" />
<line x1="337.1" y1="146.0" x2="365.5" y2="146.0" stroke="#000" stroke-width="1.720827184285978" />
<line x1="339.3" y1="172.0" x2="364.4" y2="172.0" stroke="#000" stroke-width="1.6028468852217554" />
<line x1="336.6" y1="175.0" x2="364.2" y2="175.0" stroke="#000" stroke-width="1.5546597497587906" />
<line x1="338.0" y1="178.0" x2="371.5" y2="178.0" stroke="#000" stroke-width="1.7193163421873674" />
<line x1="339.0" y1="181.0" x2="364.6" y2="181.0" stroke="#000" stroke-width="1.727287680153289" />
<line x1="340.5" y1="184.0" x2="362.6" y2="184.0" stroke="#000" stroke-width="1.4369780424004464" />
<line x1="341.0" y1="187.5" x2="367.4" y2="187.5" stroke="#000" stroke-width="1.7613520330227126" />
<line x1="345.2" y1="150.0" x2="354.4" y2="150.0" stroke="#000" stroke-width="1.0" />
<line x1="339.3" y1="156.0" x2="349.9" y2="156.0" stroke="#000" stroke-width="1.0" />
<line x1="345.9" y1="162.0" x2="359.2" y2="162.0" stroke="#000" stroke-width="1.0" />
<line x1="343.2" y1="168.0" x2="354.8" y2="168.0" stroke="#000" stroke-width="1.0" />
<line x1="372.8" y1="129.4" x2="372.8" y2="189.4" stroke="#000" stroke-width="1.2" />
</g>
<ellipse cx="354.5" cy="159.4" rx="22.3" ry="46.0" fill="none" stroke="#000" stroke-width="1.9" />
<path d="M471.4,185.5 470.3,185.4 469.2,185.2 468.1,184.8 467.1,184.2 466,183.4 465,182.6 464.1,181.5 463.2,180.3 462.3,179 461.5,177.6 460.8,176 460.1,174.4 459.5,172.6 458.9,170.8 458.5,168.8 458.1,166.8 457.8,164.8 457.6,162.7 457.4,160.6 457.4,158.5 457.4,156.4 457.6,154.3 457.8,152.2 458.1,150.2 458.5,148.2 458.9,146.2 459.5,144.4 460.1,142.6 460.8,141 461.5,139.4 462.3,138 463.2,136.7 464.1,135.5 465,134.4 466,133.6 467.1,132.8 468.1,132.2 469.2,131.8 470.3,131.6 471.4,131.5 483.8,131.5 484.9,131.6 486,131.8 487.1,132.2 488.1,132.8 489.2,133.6 490.2,134.4 491.1,135.5 492,136.7 492.9,138 493.7,139.4 494.4,141 495.1,142.6 495.7,144.4 496.3,146.2 496.7,148.2 497.1,150.2 497.4,152.2 497.6,154.3 497.8,156.4 497.8,158.5 497.8,160.6 497.6,162.7 497.4,164.8 497.1,166.8 496.7,168.8 496.3,170.8 495.7,172.6 495.1,174.4 494.4,176 493.7,177.6 492.9,179 492,180.3 491.1,181.5 490.2,182.6 489.2,183.4 488.1,184.2 487.1,184.8 486,185.2 484.9,185.4 483.8,185.5Z" fill="#fff" stroke="#000" stroke-width="1.7" />
<clipPath id="k4"><path d="M483.8,131.5 484.9,131.6 486,131.8 487.1,132.2 488.1,132.8 489.2,133.6 490.2,134.4 491.1,135.5 492,136.7 492.9,138 493.7,139.4 494.4,141 495.1,142.6 495.7,144.4 496.3,146.2 496.7,148.2 497.1,150.2 497.4,152.2 497.6,154.3 497.8,156.4 497.8,158.5 497.8,160.6 497.6,162.7 497.4,164.8 497.1,166.8 496.7,168.8 496.3,170.8 495.7,172.6 495.1,174.4 494.4,176 493.7,177.6 492.9,179 492,180.3 491.1,181.5 490.2,182.6 489.2,183.4 488.1,184.2 487.1,184.8 486,185.2 484.9,185.4 483.8,185.5 471.4,185.5 472.5,185.4 473.6,185.2 474.7,184.8 475.7,184.2 476.8,183.4 477.8,182.6 478.7,181.5 479.6,180.3 480.5,179 481.3,177.6 482,176 482.7,174.4 483.3,172.6 483.9,170.8 484.3,168.8 484.7,166.8 485,164.8 485.2,162.7 485.4,160.6 485.4,158.5 485.4,156.4 485.2,154.3 485,152.2 484.7,150.2 484.3,148.2 483.9,146.2 483.3,144.4 482.7,142.6 482,141 481.3,139.4 480.5,138 479.6,136.7 478.7,135.5 477.8,134.4 476.8,133.6 475.7,132.8 474.7,132.2 473.6,131.8 472.5,131.6 471.4,131.5Z"/></clipPath><g clip-path="url(#k4)">
<rect x="471.4" y="130.5" width="28.4" height="13.5" fill="#000"/>
<rect x="471.4" y="173.3" width="28.4" height="13.5" fill="#000"/>
<line x1="479.9" y1="134.2" x2="483.4" y2="134.2" stroke="#fff" stroke-width="0.9980291213053405" />
<line x1="482.6" y1="137.9" x2="486.1" y2="137.9" stroke="#fff" stroke-width="1.0007955072425374" />
<line x1="487.5" y1="141.7" x2="492.5" y2="141.7" stroke="#fff" stroke-width="1.1825813012527193" />
<line x1="488.3" y1="145.4" x2="492.2" y2="145.4" stroke="#000" stroke-width="1.1" />
<line x1="487.5" y1="149.2" x2="491.1" y2="149.2" stroke="#000" stroke-width="1.1" />
<line x1="488.3" y1="167.8" x2="493.3" y2="167.8" stroke="#000" stroke-width="1.1" />
<line x1="487.3" y1="175.3" x2="493.0" y2="175.3" stroke="#fff" stroke-width="0.8433591263174609" />
<line x1="484.4" y1="179.1" x2="489.9" y2="179.1" stroke="#fff" stroke-width="1.0529768878552077" />
<line x1="479.7" y1="182.8" x2="485.7" y2="182.8" stroke="#fff" stroke-width="0.8446731036326952" />
</g>
<ellipse cx="471.4" cy="158.5" rx="14.0" ry="27.0" fill="#fff" stroke="#000" stroke-width="1.9" />
<ellipse cx="471.7" cy="158.5" rx="12.0" ry="24.0" fill="#000" stroke="#000" stroke-width="0" />
<ellipse cx="481.1" cy="164.3" rx="2.2" ry="2.8" fill="#fff" stroke="#000" stroke-width="0" />
<ellipse cx="477.1" cy="175.1" rx="2.2" ry="2.8" fill="#fff" stroke="#000" stroke-width="0" />
<ellipse cx="470.8" cy="178.1" rx="2.2" ry="2.8" fill="#fff" stroke="#000" stroke-width="0" />
<ellipse cx="465.0" cy="171.9" rx="2.2" ry="2.8" fill="#fff" stroke="#000" stroke-width="0" />
<ellipse cx="462.5" cy="159.5" rx="2.2" ry="2.8" fill="#fff" stroke="#000" stroke-width="0" />
<ellipse cx="464.4" cy="146.6" rx="2.2" ry="2.8" fill="#fff" stroke="#000" stroke-width="0" />
<ellipse cx="469.8" cy="139.3" rx="2.2" ry="2.8" fill="#fff" stroke="#000" stroke-width="0" />
<ellipse cx="476.3" cy="141.0" rx="2.2" ry="2.8" fill="#fff" stroke="#000" stroke-width="0" />
<ellipse cx="480.7" cy="150.9" rx="2.2" ry="2.8" fill="#fff" stroke="#000" stroke-width="0" />
<ellipse cx="472.5" cy="158.5" rx="7.3" ry="15.4" fill="#fff" stroke="#000" stroke-width="1.8" />
<clipPath id="k5"><path d="M478.7,158.5 478.6,160.4 478.4,162.3 478.1,164.1 477.6,165.8 477,167.3 476.4,168.5 475.6,169.6 474.8,170.3 474,170.8 473.1,170.9 472.2,170.8 471.3,170.3 470.5,169.6 469.8,168.5 469.1,167.3 468.5,165.8 468.1,164.1 467.8,162.3 467.5,160.4 467.5,158.5 467.5,156.6 467.8,154.7 468.1,152.9 468.5,151.2 469.1,149.7 469.8,148.5 470.5,147.4 471.3,146.7 472.2,146.2 473.1,146.1 474,146.2 474.8,146.7 475.6,147.4 476.4,148.5 477,149.7 477.6,151.2 478.1,152.9 478.4,154.7 478.6,156.6 478.7,158.5Z"/></clipPath><g clip-path="url(#k5)">
<ellipse cx="473.1" cy="158.5" rx="5.6" ry="12.4" fill="#000" stroke="#000" stroke-width="0" />
<line x1="469.2" y1="151.0" x2="477.4" y2="151.0" stroke="#fff" stroke-width="1.3" />
<line x1="469.2" y1="154.8" x2="477.2" y2="154.8" stroke="#fff" stroke-width="1.3" />
<line x1="469.2" y1="158.5" x2="476.3" y2="158.5" stroke="#fff" stroke-width="1.3" />
<line x1="469.2" y1="162.2" x2="475.6" y2="162.2" stroke="#fff" stroke-width="1.3" />
<line x1="469.2" y1="166.0" x2="477.3" y2="166.0" stroke="#fff" stroke-width="1.3" />
</g>
<ellipse cx="473.1" cy="158.5" rx="5.6" ry="12.4" fill="none" stroke="#000" stroke-width="1.5" />
<path d="M511.5,168.9 511.2,170.5 510.9,172.1 510.6,173.6 510.2,175 509.7,176.3 509.3,177.6 508.8,178.8 508.3,179.9 507.8,180.8 507.2,181.7 506.6,182.5 506.1,183.1 505.5,183.7 504.8,184.1 504.2,184.4 503.6,184.5 503,184.6 502.3,184.5 501.7,184.3 501.1,184 500.5,183.6 499.8,183 499.3,182.4 498.7,181.6 498.1,180.7 497.6,179.7 497.1,178.6 496.6,177.4 496.2,176.1 495.8,174.8 495.4,173.3 495,171.8 494.7,170.3 494.5,168.6 494.2,166.9 494,165.2 493.9,163.5 493.8,161.7 493.7,159.9 493.7,158.1 493.7,156.3 493.8,154.5 493.9,152.7 494,151 494.2,149.3 494.5,147.6 494.7,145.9 495,144.4 495.4,142.9 495.8,141.4 496.2,140.1 496.6,138.8 497.1,137.6 497.6,136.5 498.1,135.5 498.7,134.6 499.3,133.8 499.8,133.2 500.5,132.6 501.1,132.2 501.7,131.9 502.3,131.7 503,131.6 503.6,131.7 504.2,131.8 504.8,132.1 505.5,132.5 506.1,133.1 506.6,133.7 507.2,134.5 507.8,135.4 508.3,136.3 508.8,137.4 509.3,138.6 509.7,139.9 510.2,141.2 510.6,142.6 510.9,144.1 511.2,145.7 511.5,147.3" fill="none" stroke="#000" stroke-width="10.2" stroke-linecap="round"/>
<circle cx="511.5" cy="168.9" r="5.8" fill="#000"/>
<circle cx="511.5" cy="147.3" r="5.8" fill="#000"/>
<path d="M511.5,168.9 511.2,170.5 510.9,172.1 510.6,173.6 510.2,175 509.7,176.3 509.3,177.6 508.8,178.8 508.3,179.9 507.8,180.8 507.2,181.7 506.6,182.5 506.1,183.1 505.5,183.7 504.8,184.1 504.2,184.4 503.6,184.5 503,184.6 502.3,184.5 501.7,184.3 501.1,184 500.5,183.6 499.8,183 499.3,182.4 498.7,181.6 498.1,180.7 497.6,179.7 497.1,178.6 496.6,177.4 496.2,176.1 495.8,174.8 495.4,173.3 495,171.8 494.7,170.3 494.5,168.6 494.2,166.9 494,165.2 493.9,163.5 493.8,161.7 493.7,159.9 493.7,158.1 493.7,156.3 493.8,154.5 493.9,152.7 494,151 494.2,149.3 494.5,147.6 494.7,145.9 495,144.4 495.4,142.9 495.8,141.4 496.2,140.1 496.6,138.8 497.1,137.6 497.6,136.5 498.1,135.5 498.7,134.6 499.3,133.8 499.8,133.2 500.5,132.6 501.1,132.2 501.7,131.9 502.3,131.7 503,131.6 503.6,131.7 504.2,131.8 504.8,132.1 505.5,132.5 506.1,133.1 506.6,133.7 507.2,134.5 507.8,135.4 508.3,136.3 508.8,137.4 509.3,138.6 509.7,139.9 510.2,141.2 510.6,142.6 510.9,144.1 511.2,145.7 511.5,147.3" fill="none" stroke="#fff" stroke-width="6.6" stroke-linecap="round"/>
<circle cx="511.5" cy="168.9" r="4.0" fill="#fff"/>
<circle cx="511.5" cy="147.3" r="4.0" fill="#fff"/>
<circle cx="511.5" cy="168.9" r="1.4" fill="#000"/>
<circle cx="511.5" cy="147.3" r="1.4" fill="#000"/>
<path d="M535.2,168.7 534.9,170.3 534.6,171.9 534.2,173.4 533.8,174.8 533.4,176.1 532.9,177.4 532.4,178.6 531.9,179.7 531.4,180.6 530.8,181.5 530.2,182.3 529.6,182.9 529,183.5 528.4,183.9 527.7,184.2 527.1,184.3 526.5,184.4 525.8,184.3 525.2,184.1 524.5,183.8 523.9,183.4 523.3,182.8 522.7,182.2 522.1,181.4 521.5,180.5 521,179.5 520.5,178.4 520,177.2 519.5,175.9 519.1,174.6 518.7,173.1 518.4,171.6 518.1,170.1 517.8,168.4 517.5,166.7 517.3,165 517.2,163.3 517.1,161.5 517,159.7 517,157.9 517,156.1 517.1,154.3 517.2,152.5 517.3,150.8 517.5,149.1 517.8,147.4 518.1,145.7 518.4,144.2 518.7,142.7 519.1,141.2 519.5,139.9 520,138.6 520.5,137.4 521,136.3 521.5,135.3 522.1,134.4 522.7,133.6 523.3,133 523.9,132.4 524.5,132 525.2,131.7 525.8,131.5 526.5,131.4 527.1,131.5 527.7,131.6 528.4,131.9 529,132.3 529.6,132.9 530.2,133.5 530.8,134.3 531.4,135.2 531.9,136.1 532.4,137.2 532.9,138.4 533.4,139.7 533.8,141 534.2,142.4 534.6,143.9 534.9,145.5 535.2,147.1" fill="none" stroke="#000" stroke-width="10.2" stroke-linecap="round"/>
<circle cx="535.2" cy="168.7" r="5.8" fill="#000"/>
<circle cx="535.2" cy="147.1" r="5.8" fill="#000"/>
<path d="M535.2,168.7 534.9,170.3 534.6,171.9 534.2,173.4 533.8,174.8 533.4,176.1 532.9,177.4 532.4,178.6 531.9,179.7 531.4,180.6 530.8,181.5 530.2,182.3 529.6,182.9 529,183.5 528.4,183.9 527.7,184.2 527.1,184.3 526.5,184.4 525.8,184.3 525.2,184.1 524.5,183.8 523.9,183.4 523.3,182.8 522.7,182.2 522.1,181.4 521.5,180.5 521,179.5 520.5,178.4 520,177.2 519.5,175.9 519.1,174.6 518.7,173.1 518.4,171.6 518.1,170.1 517.8,168.4 517.5,166.7 517.3,165 517.2,163.3 517.1,161.5 517,159.7 517,157.9 517,156.1 517.1,154.3 517.2,152.5 517.3,150.8 517.5,149.1 517.8,147.4 518.1,145.7 518.4,144.2 518.7,142.7 519.1,141.2 519.5,139.9 520,138.6 520.5,137.4 521,136.3 521.5,135.3 522.1,134.4 522.7,133.6 523.3,133 523.9,132.4 524.5,132 525.2,131.7 525.8,131.5 526.5,131.4 527.1,131.5 527.7,131.6 528.4,131.9 529,132.3 529.6,132.9 530.2,133.5 530.8,134.3 531.4,135.2 531.9,136.1 532.4,137.2 532.9,138.4 533.4,139.7 533.8,141 534.2,142.4 534.6,143.9 534.9,145.5 535.2,147.1" fill="none" stroke="#fff" stroke-width="6.6" stroke-linecap="round"/>
<circle cx="535.2" cy="168.7" r="4.0" fill="#fff"/>
<circle cx="535.2" cy="147.1" r="4.0" fill="#fff"/>
<circle cx="535.2" cy="168.7" r="1.4" fill="#000"/>
<circle cx="535.2" cy="147.1" r="1.4" fill="#000"/>
<path d="M552,177.4 551.2,177.3 550.4,177.1 549.7,176.8 548.9,176.3 548.2,175.7 547.5,175 546.8,174.2 546.1,173.2 545.5,172.2 544.9,171 544.4,169.8 543.9,168.4 543.5,167 543.1,165.5 542.8,163.9 542.5,162.3 542.3,160.7 542.1,159 542,157.3 542,155.6 542,153.9 542.1,152.2 542.3,150.5 542.5,148.9 542.8,147.3 543.1,145.7 543.5,144.2 543.9,142.8 544.4,141.4 544.9,140.2 545.5,139 546.1,138 546.8,137 547.5,136.2 548.2,135.5 548.9,134.9 549.7,134.4 550.4,134.1 551.2,133.9 552,133.8 564.4,133.8 565.2,133.9 566,134.1 566.7,134.4 567.5,134.9 568.2,135.5 568.9,136.2 569.6,137 570.3,138 570.9,139 571.5,140.2 572,141.4 572.5,142.8 572.9,144.2 573.3,145.7 573.6,147.3 573.9,148.9 574.1,150.5 574.3,152.2 574.4,153.9 574.4,155.6 574.4,157.3 574.3,159 574.1,160.7 573.9,162.3 573.6,163.9 573.3,165.5 572.9,167 572.5,168.4 572,169.8 571.5,171 570.9,172.2 570.3,173.2 569.6,174.2 568.9,175 568.2,175.7 567.5,176.3 566.7,176.8 566,177.1 565.2,177.3 564.4,177.4Z" fill="#fff" stroke="#000" stroke-width="1.5" />
<clipPath id="k6"><path d="M564.4,133.8 565.2,133.9 566,134.1 566.7,134.4 567.5,134.9 568.2,135.5 568.9,136.2 569.6,137 570.3,138 570.9,139 571.5,140.2 572,141.4 572.5,142.8 572.9,144.2 573.3,145.7 573.6,147.3 573.9,148.9 574.1,150.5 574.3,152.2 574.4,153.9 574.4,155.6 574.4,157.3 574.3,159 574.1,160.7 573.9,162.3 573.6,163.9 573.3,165.5 572.9,167 572.5,168.4 572,169.8 571.5,171 570.9,172.2 570.3,173.2 569.6,174.2 568.9,175 568.2,175.7 567.5,176.3 566.7,176.8 566,177.1 565.2,177.3 564.4,177.4 552,177.4 552.8,177.3 553.6,177.1 554.3,176.8 555.1,176.3 555.8,175.7 556.5,175 557.2,174.2 557.9,173.2 558.5,172.2 559.1,171 559.6,169.8 560.1,168.4 560.5,167 560.9,165.5 561.2,163.9 561.5,162.3 561.7,160.7 561.9,159 562,157.3 562,155.6 562,153.9 561.9,152.2 561.7,150.5 561.5,148.9 561.2,147.3 560.9,145.7 560.5,144.2 560.1,142.8 559.6,141.4 559.1,140.2 558.5,139 557.9,138 557.2,137 556.5,136.2 555.8,135.5 555.1,134.9 554.3,134.4 553.6,134.1 552.8,133.9 552,133.8Z"/></clipPath><g clip-path="url(#k6)">
<line x1="542.0" y1="134.1" x2="574.4" y2="134.1" stroke="#000" stroke-width="1.1" />
<line x1="542.0" y1="136.2" x2="574.4" y2="136.2" stroke="#000" stroke-width="1.1" />
<line x1="542.0" y1="140.2" x2="574.4" y2="140.2" stroke="#000" stroke-width="1.1" />
<line x1="542.0" y1="145.7" x2="574.4" y2="145.7" stroke="#000" stroke-width="1.1" />
<line x1="542.0" y1="152.2" x2="574.4" y2="152.2" stroke="#000" stroke-width="1.1" />
<line x1="542.0" y1="159.0" x2="574.4" y2="159.0" stroke="#000" stroke-width="1.1" />
<line x1="542.0" y1="165.5" x2="550.1" y2="165.5" stroke="#000" stroke-width="1.1" />
<line x1="554.0" y1="165.5" x2="564.1" y2="165.5" stroke="#000" stroke-width="1.1" />
<line x1="567.8" y1="165.5" x2="572.0" y2="165.5" stroke="#000" stroke-width="1.1" />
<line x1="542.0" y1="171.0" x2="551.0" y2="171.0" stroke="#000" stroke-width="1.1" />
<line x1="553.7" y1="171.0" x2="556.8" y2="171.0" stroke="#000" stroke-width="1.1" />
<line x1="558.5" y1="171.0" x2="564.6" y2="171.0" stroke="#000" stroke-width="1.1" />
<line x1="568.3" y1="171.0" x2="574.4" y2="171.0" stroke="#000" stroke-width="1.1" />
<line x1="542.0" y1="175.0" x2="574.4" y2="175.0" stroke="#000" stroke-width="1.1" />
<line x1="542.0" y1="177.1" x2="551.8" y2="177.1" stroke="#000" stroke-width="1.1" />
<line x1="553.2" y1="177.1" x2="556.2" y2="177.1" stroke="#000" stroke-width="1.1" />
<line x1="559.8" y1="177.1" x2="565.1" y2="177.1" stroke="#000" stroke-width="1.1" />
<line x1="566.8" y1="177.1" x2="574.4" y2="177.1" stroke="#000" stroke-width="1.1" />
<path d="M580.6,155.6 580.3,159 579.5,162.3 578.2,165.5 576.3,168.4 574,171 571.4,173.2 568.4,175 565.1,176.3 561.7,177.1 558.2,177.4 554.7,177.1 551.3,176.3 548,175 545,173.2 542.4,171 540.1,168.4 538.2,165.5 536.9,162.3 536.1,159 535.8,155.6 536.1,152.2 536.9,148.9 538.2,145.7 540.1,142.8 542.4,140.2 545,138 548,136.2 551.3,134.9 554.7,134.1 558.2,133.8 561.7,134.1 565.1,134.9 568.4,136.2 571.4,138 574,140.2 576.3,142.8 578.2,145.7 579.5,148.9 580.3,152.2 580.6,155.6Z" fill="none" stroke="#000" stroke-width="7.63" />
</g>
<ellipse cx="552.0" cy="155.6" rx="10.0" ry="21.8" fill="#fff" stroke="#000" stroke-width="1.6" />
<ellipse cx="553.0" cy="155.6" rx="7.0" ry="17.8" fill="none" stroke="#000" stroke-width="1.3" />
<ellipse cx="569.4" cy="157.7" rx="2.2" ry="3.2" fill="#000" stroke="#000" stroke-width="0" />
<path d="M586.6,182.5 585.7,182.4 584.8,182.2 583.9,181.8 583,181.2 582.1,180.5 581.3,179.7 580.5,178.7 579.7,177.5 579,176.3 578.3,174.9 577.7,173.4 577.1,171.8 576.6,170.1 576.2,168.3 575.8,166.4 575.5,164.5 575.2,162.6 575,160.6 574.9,158.5 574.9,156.5 574.9,154.5 575,152.4 575.2,150.4 575.5,148.5 575.8,146.6 576.2,144.7 576.6,142.9 577.1,141.2 577.7,139.6 578.3,138.1 579,136.7 579.7,135.5 580.5,134.3 581.3,133.3 582.1,132.5 583,131.8 583.9,131.2 584.8,130.8 585.7,130.6 586.6,130.5 600.3,130.5 601.2,130.6 602.1,130.8 603,131.2 603.9,131.8 604.8,132.5 605.6,133.3 606.4,134.3 607.2,135.5 607.9,136.7 608.6,138.1 609.2,139.6 609.8,141.2 610.3,142.9 610.7,144.7 611.1,146.6 611.4,148.5 611.7,150.4 611.9,152.4 612,154.5 612,156.5 612,158.5 611.9,160.6 611.7,162.6 611.4,164.5 611.1,166.4 610.7,168.3 610.3,170.1 609.8,171.8 609.2,173.4 608.6,174.9 607.9,176.3 607.2,177.5 606.4,178.7 605.6,179.7 604.8,180.5 603.9,181.2 603,181.8 602.1,182.2 601.2,182.4 600.3,182.5Z" fill="#fff" stroke="#000" stroke-width="1.7" />
<clipPath id="k7"><path d="M600.3,130.5 601.2,130.6 602.1,130.8 603,131.2 603.9,131.8 604.8,132.5 605.6,133.3 606.4,134.3 607.2,135.5 607.9,136.7 608.6,138.1 609.2,139.6 609.8,141.2 610.3,142.9 610.7,144.7 611.1,146.6 611.4,148.5 611.7,150.4 611.9,152.4 612,154.5 612,156.5 612,158.5 611.9,160.6 611.7,162.6 611.4,164.5 611.1,166.4 610.7,168.3 610.3,170.1 609.8,171.8 609.2,173.4 608.6,174.9 607.9,176.3 607.2,177.5 606.4,178.7 605.6,179.7 604.8,180.5 603.9,181.2 603,181.8 602.1,182.2 601.2,182.4 600.3,182.5 586.6,182.5 587.5,182.4 588.4,182.2 589.3,181.8 590.2,181.2 591.1,180.5 591.9,179.7 592.7,178.7 593.5,177.5 594.2,176.3 594.9,174.9 595.5,173.4 596.1,171.8 596.6,170.1 597,168.3 597.4,166.4 597.7,164.5 598,162.6 598.2,160.6 598.3,158.5 598.3,156.5 598.3,154.5 598.2,152.4 598,150.4 597.7,148.5 597.4,146.6 597,144.7 596.6,142.9 596.1,141.2 595.5,139.6 594.9,138.1 594.2,136.7 593.5,135.5 592.7,134.3 591.9,133.3 591.1,132.5 590.2,131.8 589.3,131.2 588.4,130.8 587.5,130.6 586.6,130.5Z"/></clipPath><g clip-path="url(#k7)">
<rect x="586.6" y="129.5" width="27.4" height="13.0" fill="#000"/>
<rect x="586.6" y="170.8" width="27.4" height="13.0" fill="#000"/>
<line x1="596.4" y1="133.1" x2="602.9" y2="133.1" stroke="#fff" stroke-width="1.0425173139654726" />
<line x1="596.7" y1="136.7" x2="599.8" y2="136.7" stroke="#fff" stroke-width="1.131409281441884" />
<line x1="599.1" y1="140.3" x2="606.6" y2="140.3" stroke="#fff" stroke-width="0.9865801860369208" />
<line x1="603.7" y1="147.5" x2="609.5" y2="147.5" stroke="#000" stroke-width="1.1" />
<line x1="603.0" y1="151.1" x2="608.6" y2="151.1" stroke="#000" stroke-width="1.1" />
<line x1="603.3" y1="154.7" x2="609.4" y2="154.7" stroke="#000" stroke-width="1.1" />
<line x1="604.4" y1="158.3" x2="610.0" y2="158.3" stroke="#000" stroke-width="1.1" />
<line x1="600.5" y1="165.5" x2="606.6" y2="165.5" stroke="#000" stroke-width="1.1" />
<line x1="599.0" y1="172.7" x2="602.0" y2="172.7" stroke="#fff" stroke-width="0.8985810223994672" />
<line x1="598.2" y1="176.3" x2="601.8" y2="176.3" stroke="#fff" stroke-width="1.2756865018817898" />
<line x1="595.6" y1="179.9" x2="598.7" y2="179.9" stroke="#fff" stroke-width="1.127701996686592" />
</g>
<ellipse cx="586.6" cy="156.5" rx="11.7" ry="26.0" fill="#fff" stroke="#000" stroke-width="1.9" />
<ellipse cx="586.8" cy="156.5" rx="10.1" ry="23.1" fill="#000" stroke="#000" stroke-width="0" />
<ellipse cx="594.7" cy="162.1" rx="1.9" ry="2.7" fill="#fff" stroke="#000" stroke-width="0" />
<ellipse cx="591.4" cy="172.5" rx="1.9" ry="2.7" fill="#fff" stroke="#000" stroke-width="0" />
<ellipse cx="586.1" cy="175.3" rx="1.9" ry="2.7" fill="#fff" stroke="#000" stroke-width="0" />
<ellipse cx="581.2" cy="169.4" rx="1.9" ry="2.7" fill="#fff" stroke="#000" stroke-width="0" />
<ellipse cx="579.1" cy="157.4" rx="1.9" ry="2.7" fill="#fff" stroke="#000" stroke-width="0" />
<ellipse cx="580.7" cy="145.0" rx="1.9" ry="2.7" fill="#fff" stroke="#000" stroke-width="0" />
<ellipse cx="585.3" cy="138.0" rx="1.9" ry="2.7" fill="#fff" stroke="#000" stroke-width="0" />
<ellipse cx="590.7" cy="139.6" rx="1.9" ry="2.7" fill="#fff" stroke="#000" stroke-width="0" />
<ellipse cx="594.4" cy="149.1" rx="1.9" ry="2.7" fill="#fff" stroke="#000" stroke-width="0" />
<ellipse cx="587.5" cy="156.5" rx="6.1" ry="14.8" fill="#fff" stroke="#000" stroke-width="1.8" />
<clipPath id="k8"><path d="M592.7,156.5 592.6,158.4 592.5,160.2 592.2,161.9 591.8,163.5 591.3,165 590.8,166.2 590.1,167.2 589.5,167.9 588.7,168.3 588,168.5 587.3,168.3 586.6,167.9 585.9,167.2 585.3,166.2 584.7,165 584.2,163.5 583.8,161.9 583.6,160.2 583.4,158.4 583.3,156.5 583.4,154.6 583.6,152.8 583.8,151.1 584.2,149.5 584.7,148 585.3,146.8 585.9,145.8 586.6,145.1 587.3,144.7 588,144.5 588.7,144.7 589.5,145.1 590.1,145.8 590.8,146.8 591.3,148 591.8,149.5 592.2,151.1 592.5,152.8 592.6,154.6 592.7,156.5Z"/></clipPath><g clip-path="url(#k8)">
<ellipse cx="588.0" cy="156.5" rx="4.7" ry="12.0" fill="#000" stroke="#000" stroke-width="0" />
<line x1="584.7" y1="149.3" x2="590.3" y2="149.3" stroke="#fff" stroke-width="1.3" />
<line x1="584.7" y1="152.9" x2="591.6" y2="152.9" stroke="#fff" stroke-width="1.3" />
<line x1="584.7" y1="156.5" x2="591.5" y2="156.5" stroke="#fff" stroke-width="1.3" />
<line x1="584.7" y1="160.1" x2="590.6" y2="160.1" stroke="#fff" stroke-width="1.3" />
<line x1="584.7" y1="163.7" x2="590.9" y2="163.7" stroke="#fff" stroke-width="1.3" />
</g>
<ellipse cx="588.0" cy="156.5" rx="4.7" ry="12.0" fill="none" stroke="#000" stroke-width="1.5" />
<path d="M620,175.1 619.3,175 618.6,174.9 618,174.6 617.3,174.2 616.7,173.7 616.1,173.1 615.5,172.4 614.9,171.5 614.3,170.6 613.8,169.7 613.4,168.6 613,167.4 612.6,166.2 612.2,164.9 612,163.6 611.7,162.2 611.5,160.8 611.4,159.4 611.3,158 611.3,156.5 611.3,155 611.4,153.6 611.5,152.2 611.7,150.8 612,149.4 612.2,148.1 612.6,146.8 613,145.6 613.4,144.4 613.8,143.3 614.3,142.4 614.9,141.5 615.5,140.6 616.1,139.9 616.7,139.3 617.3,138.8 618,138.4 618.6,138.1 619.3,138 620,137.9 622.5,137.9 623.2,138 623.9,138.1 624.5,138.4 625.2,138.8 625.8,139.3 626.4,139.9 627,140.6 627.6,141.5 628.2,142.4 628.7,143.3 629.1,144.4 629.5,145.6 629.9,146.8 630.3,148.1 630.5,149.4 630.8,150.8 631,152.2 631.1,153.6 631.2,155 631.2,156.5 631.2,158 631.1,159.4 631,160.8 630.8,162.2 630.5,163.6 630.3,164.9 629.9,166.2 629.5,167.4 629.1,168.6 628.7,169.7 628.2,170.6 627.6,171.5 627,172.4 626.4,173.1 625.8,173.7 625.2,174.2 624.5,174.6 623.9,174.9 623.2,175 622.5,175.1Z" fill="#fff" stroke="#000" stroke-width="1.4" />
<ellipse cx="620.0" cy="156.5" rx="8.7" ry="18.6" fill="#fff" stroke="#000" stroke-width="1.6" />
<ellipse cx="620.8" cy="156.5" rx="5.2" ry="13.6" fill="none" stroke="#000" stroke-width="1.4" />
<path d="M651,190.6 649.6,190.5 648.2,190.2 646.8,189.6 645.4,188.8 644,187.9 642.7,186.7 641.5,185.3 640.3,183.8 639.2,182 638.1,180.1 637.2,178.1 636.3,175.8 635.5,173.5 634.8,171.1 634.2,168.5 633.7,165.9 633.3,163.2 633,160.4 632.9,157.6 632.8,154.8 632.9,152 633,149.2 633.3,146.4 633.7,143.7 634.2,141.1 634.8,138.5 635.5,136.1 636.3,133.8 637.2,131.5 638.1,129.5 639.2,127.6 640.3,125.8 641.5,124.3 642.7,122.9 644,121.7 645.4,120.8 646.8,120 648.2,119.4 649.6,119.1 651,119 670,119 671.4,119.1 672.8,119.4 674.2,120 675.6,120.8 677,121.7 678.3,122.9 679.5,124.3 680.7,125.8 681.8,127.6 682.9,129.5 683.8,131.5 684.7,133.8 685.5,136.1 686.2,138.5 686.8,141.1 687.3,143.7 687.7,146.4 688,149.2 688.1,152 688.2,154.8 688.1,157.6 688,160.4 687.7,163.2 687.3,165.9 686.8,168.5 686.2,171.1 685.5,173.5 684.7,175.8 683.8,178.1 682.9,180.1 681.8,182 680.7,183.8 679.5,185.3 678.3,186.7 677,187.9 675.6,188.8 674.2,189.6 672.8,190.2 671.4,190.5 670,190.6Z" fill="#fff" stroke="#000" stroke-width="1.7" />
<clipPath id="k9"><path d="M670,119 671.4,119.1 672.8,119.4 674.2,120 675.6,120.8 677,121.7 678.3,122.9 679.5,124.3 680.7,125.8 681.8,127.6 682.9,129.5 683.8,131.5 684.7,133.8 685.5,136.1 686.2,138.5 686.8,141.1 687.3,143.7 687.7,146.4 688,149.2 688.1,152 688.2,154.8 688.1,157.6 688,160.4 687.7,163.2 687.3,165.9 686.8,168.5 686.2,171.1 685.5,173.5 684.7,175.8 683.8,178.1 682.9,180.1 681.8,182 680.7,183.8 679.5,185.3 678.3,186.7 677,187.9 675.6,188.8 674.2,189.6 672.8,190.2 671.4,190.5 670,190.6 651,190.6 652.4,190.5 653.8,190.2 655.2,189.6 656.6,188.8 658,187.9 659.3,186.7 660.5,185.3 661.7,183.8 662.8,182 663.9,180.1 664.8,178.1 665.7,175.8 666.5,173.5 667.2,171.1 667.8,168.5 668.3,165.9 668.7,163.2 669,160.4 669.1,157.6 669.2,154.8 669.1,152 669,149.2 668.7,146.4 668.3,143.7 667.8,141.1 667.2,138.5 666.5,136.1 665.7,133.8 664.8,131.5 663.9,129.5 662.8,127.6 661.7,125.8 660.5,124.3 659.3,122.9 658,121.7 656.6,120.8 655.2,120 653.8,119.4 652.4,119.1 651,119Z"/></clipPath><g clip-path="url(#k9)">
<rect x="651.0" y="118.0" width="39.2" height="17.9" fill="#000"/>
<rect x="651.0" y="174.5" width="39.2" height="17.9" fill="#000"/>
<line x1="661.7" y1="122.6" x2="667.6" y2="122.6" stroke="#fff" stroke-width="1.125467236519927" />
<line x1="664.6" y1="127.5" x2="675.1" y2="127.5" stroke="#fff" stroke-width="0.9828444584562928" />
<line x1="667.0" y1="132.5" x2="677.3" y2="132.5" stroke="#fff" stroke-width="0.8187478292209924" />
<line x1="669.9" y1="137.5" x2="673.5" y2="137.5" stroke="#000" stroke-width="1.1" />
<line x1="676.0" y1="142.4" x2="679.8" y2="142.4" stroke="#000" stroke-width="1.1" />
<line x1="675.4" y1="147.4" x2="684.6" y2="147.4" stroke="#000" stroke-width="1.1" />
<line x1="678.1" y1="157.3" x2="681.4" y2="157.3" stroke="#000" stroke-width="1.1" />
<line x1="671.5" y1="167.2" x2="675.3" y2="167.2" stroke="#000" stroke-width="1.1" />
<line x1="674.8" y1="172.1" x2="679.0" y2="172.1" stroke="#000" stroke-width="1.1" />
<line x1="669.1" y1="177.1" x2="678.5" y2="177.1" stroke="#fff" stroke-width="0.9861987713628657" />
<line x1="666.5" y1="182.1" x2="670.6" y2="182.1" stroke="#fff" stroke-width="0.8298005849831164" />
<line x1="661.3" y1="187.0" x2="672.6" y2="187.0" stroke="#fff" stroke-width="1.0137961528347015" />
</g>
<ellipse cx="651.0" cy="154.8" rx="18.2" ry="35.8" fill="#fff" stroke="#000" stroke-width="1.9" />
<ellipse cx="651.4" cy="154.8" rx="15.7" ry="31.9" fill="#000" stroke="#000" stroke-width="0" />
<ellipse cx="663.6" cy="162.5" rx="2.9" ry="3.8" fill="#fff" stroke="#000" stroke-width="0" />
<ellipse cx="659.7" cy="174.8" rx="2.9" ry="3.8" fill="#fff" stroke="#000" stroke-width="0" />
<ellipse cx="653.3" cy="180.7" rx="2.9" ry="3.8" fill="#fff" stroke="#000" stroke-width="0" />
<ellipse cx="646.4" cy="178.4" rx="2.9" ry="3.8" fill="#fff" stroke="#000" stroke-width="0" />
<ellipse cx="641.2" cy="168.6" rx="2.9" ry="3.8" fill="#fff" stroke="#000" stroke-width="0" />
<ellipse cx="639.4" cy="154.4" rx="2.9" ry="3.8" fill="#fff" stroke="#000" stroke-width="0" />
<ellipse cx="641.4" cy="140.4" rx="2.9" ry="3.8" fill="#fff" stroke="#000" stroke-width="0" />
<ellipse cx="646.7" cy="130.9" rx="2.9" ry="3.8" fill="#fff" stroke="#000" stroke-width="0" />
<ellipse cx="653.7" cy="129.0" rx="2.9" ry="3.8" fill="#fff" stroke="#000" stroke-width="0" />
<ellipse cx="660.0" cy="135.3" rx="2.9" ry="3.8" fill="#fff" stroke="#000" stroke-width="0" />
<ellipse cx="663.7" cy="147.8" rx="2.9" ry="3.8" fill="#fff" stroke="#000" stroke-width="0" />
<ellipse cx="652.5" cy="154.8" rx="9.5" ry="20.4" fill="#fff" stroke="#000" stroke-width="1.8" />
<clipPath id="k10"><path d="M660.5,154.8 660.4,157.4 660.1,159.9 659.7,162.3 659.1,164.5 658.3,166.4 657.5,168.1 656.5,169.5 655.4,170.5 654.3,171.1 653.2,171.3 652,171.1 650.9,170.5 649.9,169.5 648.9,168.1 648,166.4 647.3,164.5 646.7,162.3 646.3,159.9 646,157.4 645.9,154.8 646,152.2 646.3,149.7 646.7,147.3 647.3,145.1 648,143.2 648.9,141.5 649.9,140.1 650.9,139.1 652,138.5 653.2,138.3 654.3,138.5 655.4,139.1 656.5,140.1 657.5,141.5 658.3,143.2 659.1,145.1 659.7,147.3 660.1,149.7 660.4,152.2 660.5,154.8Z"/></clipPath><g clip-path="url(#k10)">
<ellipse cx="653.2" cy="154.8" rx="7.3" ry="16.5" fill="#000" stroke="#000" stroke-width="0" />
<line x1="648.1" y1="144.9" x2="656.5" y2="144.9" stroke="#fff" stroke-width="1.3" />
<line x1="648.1" y1="149.9" x2="657.5" y2="149.9" stroke="#fff" stroke-width="1.3" />
<line x1="648.1" y1="154.8" x2="657.0" y2="154.8" stroke="#fff" stroke-width="1.3" />
<line x1="648.1" y1="159.7" x2="656.5" y2="159.7" stroke="#fff" stroke-width="1.3" />
<line x1="648.1" y1="164.7" x2="658.3" y2="164.7" stroke="#fff" stroke-width="1.3" />
</g>
<ellipse cx="653.2" cy="154.8" rx="7.3" ry="16.5" fill="none" stroke="#000" stroke-width="1.5" />
<path d="M721.8,166 721.3,167.4 720.8,168.7 720.2,170 719.5,171.2 718.9,172.3 718.1,173.4 717.4,174.4 716.6,175.2 715.8,176 714.9,176.7 714.1,177.3 713.2,177.7 712.3,178.1 711.4,178.4 710.4,178.5 709.5,178.6 708.6,178.5 707.6,178.4 706.7,178.1 705.8,177.7 704.9,177.3 704.1,176.7 703.2,176 702.4,175.2 701.6,174.4 700.9,173.4 700.1,172.3 699.5,171.2 698.8,170 698.2,168.7 697.7,167.4 697.2,166 696.8,164.5 696.4,163 696.1,161.5 695.8,159.9 695.6,158.3 695.4,156.7 695.3,155 695.3,153.4 695.3,151.8 695.4,150.1 695.6,148.5 695.8,146.9 696.1,145.3 696.4,143.8 696.8,142.3 697.2,140.8 697.7,139.4 698.2,138.1 698.8,136.8 699.5,135.6 700.1,134.5 700.9,133.4 701.6,132.4 702.4,131.6 703.2,130.8 704.1,130.1 704.9,129.5 705.8,129.1 706.7,128.7 707.6,128.4 708.6,128.3 709.5,128.2 710.4,128.3 711.4,128.4 712.3,128.7 713.2,129.1 714.1,129.5 714.9,130.1 715.8,130.8 716.6,131.6 717.4,132.4 718.1,133.4 718.9,134.5 719.5,135.6 720.2,136.8 720.8,138.1 721.3,139.4 721.8,140.8" fill="none" stroke="#000" stroke-width="6.4" stroke-linecap="round"/>
<circle cx="721.8" cy="166.0" r="4.4" fill="#000"/>
<circle cx="721.8" cy="140.8" r="4.4" fill="#000"/>
<path d="M721.8,166 721.3,167.4 720.8,168.7 720.2,170 719.5,171.2 718.9,172.3 718.1,173.4 717.4,174.4 716.6,175.2 715.8,176 714.9,176.7 714.1,177.3 713.2,177.7 712.3,178.1 711.4,178.4 710.4,178.5 709.5,178.6 708.6,178.5 707.6,178.4 706.7,178.1 705.8,177.7 704.9,177.3 704.1,176.7 703.2,176 702.4,175.2 701.6,174.4 700.9,173.4 700.1,172.3 699.5,171.2 698.8,170 698.2,168.7 697.7,167.4 697.2,166 696.8,164.5 696.4,163 696.1,161.5 695.8,159.9 695.6,158.3 695.4,156.7 695.3,155 695.3,153.4 695.3,151.8 695.4,150.1 695.6,148.5 695.8,146.9 696.1,145.3 696.4,143.8 696.8,142.3 697.2,140.8 697.7,139.4 698.2,138.1 698.8,136.8 699.5,135.6 700.1,134.5 700.9,133.4 701.6,132.4 702.4,131.6 703.2,130.8 704.1,130.1 704.9,129.5 705.8,129.1 706.7,128.7 707.6,128.4 708.6,128.3 709.5,128.2 710.4,128.3 711.4,128.4 712.3,128.7 713.2,129.1 714.1,129.5 714.9,130.1 715.8,130.8 716.6,131.6 717.4,132.4 718.1,133.4 718.9,134.5 719.5,135.6 720.2,136.8 720.8,138.1 721.3,139.4 721.8,140.8" fill="none" stroke="#fff" stroke-width="3.6" stroke-linecap="round"/>
<circle cx="721.8" cy="166.0" r="3.0" fill="#fff"/>
<circle cx="721.8" cy="140.8" r="3.0" fill="#fff"/>
<circle cx="721.8" cy="166.0" r="1.1" fill="#000"/>
<circle cx="721.8" cy="140.8" r="1.1" fill="#000"/>
<path d="M56,456.2 55.1,456.1 54.2,455.9 53.4,455.6 52.5,455.1 51.7,454.4 50.9,453.7 50.1,452.8 49.4,451.8 48.7,450.6 48.1,449.4 47.5,448.1 46.9,446.6 46.5,445.1 46,443.5 45.7,441.9 45.3,440.2 45.1,438.4 44.9,436.6 44.8,434.8 44.8,433 44.8,431.2 44.9,429.4 45.1,427.6 45.3,425.8 45.7,424.1 46,422.5 46.5,420.9 46.9,419.4 47.5,417.9 48.1,416.6 48.7,415.4 49.4,414.2 50.1,413.2 50.9,412.3 51.7,411.6 52.5,410.9 53.4,410.4 54.2,410.1 55.1,409.9 56,409.8 59.8,409.8 60.7,409.9 61.6,410.1 62.4,410.4 63.3,410.9 64.1,411.6 64.9,412.3 65.7,413.2 66.4,414.2 67.1,415.4 67.7,416.6 68.3,417.9 68.9,419.4 69.3,420.9 69.8,422.5 70.1,424.1 70.5,425.8 70.7,427.6 70.9,429.4 71,431.2 71,433 71,434.8 70.9,436.6 70.7,438.4 70.5,440.2 70.1,441.9 69.8,443.5 69.3,445.1 68.9,446.6 68.3,448.1 67.7,449.4 67.1,450.6 66.4,451.8 65.7,452.8 64.9,453.7 64.1,454.4 63.3,455.1 62.4,455.6 61.6,455.9 60.7,456.1 59.8,456.2Z M65.4,433.5 65.4,435.3 65.2,437.2 65,438.9 64.7,440.7 64.4,442.3 63.9,443.8 63.4,445.3 62.9,446.6 62.3,447.7 61.6,448.7 60.9,449.6 60.1,450.2 59.4,450.7 58.6,451 57.8,451.1 57,451 56.2,450.7 55.5,450.2 54.7,449.6 54,448.7 53.3,447.7 52.7,446.6 52.2,445.3 51.7,443.8 51.2,442.3 50.9,440.7 50.6,438.9 50.4,437.2 50.2,435.3 50.2,433.5 50.2,431.7 50.4,429.8 50.6,428.1 50.9,426.3 51.2,424.7 51.7,423.2 52.2,421.7 52.7,420.4 53.3,419.3 54,418.3 54.7,417.4 55.5,416.8 56.2,416.3 57,416 57.8,415.9 58.6,416 59.4,416.3 60.1,416.8 60.9,417.4 61.6,418.3 62.3,419.3 62.9,420.4 63.4,421.7 63.9,423.2 64.4,424.7 64.7,426.3 65,428.1 65.2,429.8 65.4,431.7 65.4,433.5Z" fill="#fff" stroke="#000" stroke-width="2.0" fill-rule="evenodd"/>
<ellipse cx="56.0" cy="433.0" rx="11.2" ry="23.2" fill="none" stroke="#000" stroke-width="2.0" />
<path d="M56.5,450.8 56,450.6 55.5,450.2 55,449.8 54.5,449.3 54,448.7 53.6,448.1 53.1,447.4 52.7,446.6 52.3,445.7 52,444.8 51.7,443.8 51.4,442.8 51.1,441.8 50.9,440.7 50.7,439.5 50.5,438.4 50.4,437.2 50.3,435.9 50.2,434.7 50.2,433.5 50.2,432.3 50.3,431 50.4,429.8 50.5,428.6 50.7,427.5 50.9,426.3 51.1,425.2 51.4,424.2 51.7,423.2 52,422.2 52.3,421.3 52.7,420.4 53.1,419.6 53.6,418.9 54,418.3 54.5,417.7 55,417.2 55.5,416.8 56,416.4 56.5,416.2 57.9,417.3 57.4,417.6 57,417.9 56.5,418.3 56.1,418.8 55.7,419.3 55.3,419.9 54.9,420.6 54.6,421.3 54.3,422.1 53.9,423 53.7,423.9 53.4,424.8 53.2,425.8 53,426.8 52.8,427.9 52.7,429 52.5,430.1 52.5,431.2 52.4,432.4 52.4,433.5 52.4,434.6 52.5,435.8 52.5,436.9 52.7,438 52.8,439.1 53,440.2 53.2,441.2 53.4,442.2 53.7,443.1 53.9,444 54.3,444.9 54.6,445.7 54.9,446.4 55.3,447.1 55.7,447.7 56.1,448.2 56.5,448.7 57,449.1 57.4,449.4 57.9,449.6Z" fill="#000" stroke="#000" stroke-width="0" />
<ellipse cx="57.8" cy="433.5" rx="7.6" ry="17.6" fill="none" stroke="#000" stroke-width="1.9" />
<path d="M83.2,455.6 82.3,455.5 81.4,455.3 80.6,455 79.7,454.5 78.9,453.8 78.1,453.1 77.3,452.2 76.6,451.2 75.9,450.1 75.3,448.8 74.7,447.5 74.1,446.1 73.7,444.5 73.2,442.9 72.9,441.3 72.5,439.6 72.3,437.8 72.1,436 72,434.2 72,432.4 72,430.6 72.1,428.8 72.3,427 72.5,425.2 72.9,423.5 73.2,421.9 73.7,420.3 74.1,418.8 74.7,417.3 75.3,416 75.9,414.8 76.6,413.6 77.3,412.6 78.1,411.7 78.9,411 79.7,410.3 80.6,409.9 81.4,409.5 82.3,409.3 83.2,409.2 87.4,409.2 88.3,409.3 89.2,409.5 90,409.9 90.9,410.3 91.7,411 92.5,411.7 93.3,412.6 94,413.6 94.7,414.8 95.3,416 95.9,417.3 96.5,418.8 96.9,420.3 97.4,421.9 97.7,423.5 98.1,425.2 98.3,427 98.5,428.8 98.6,430.6 98.6,432.4 98.6,434.2 98.5,436 98.3,437.8 98.1,439.6 97.7,441.3 97.4,442.9 96.9,444.5 96.5,446.1 95.9,447.5 95.3,448.8 94.7,450.1 94,451.2 93.3,452.2 92.5,453.1 91.7,453.8 90.9,454.5 90,455 89.2,455.3 88.3,455.5 87.4,455.6Z M92.6,432.9 92.6,434.8 92.4,436.6 92.2,438.4 91.9,440.1 91.6,441.7 91.1,443.3 90.6,444.7 90.1,446 89.5,447.2 88.8,448.2 88.1,449 87.3,449.7 86.6,450.1 85.8,450.4 85,450.5 84.2,450.4 83.4,450.1 82.7,449.7 81.9,449 81.2,448.2 80.5,447.2 79.9,446 79.4,444.7 78.9,443.3 78.4,441.7 78.1,440.1 77.8,438.4 77.6,436.6 77.4,434.8 77.4,432.9 77.4,431.1 77.6,429.3 77.8,427.5 78.1,425.8 78.4,424.1 78.9,422.6 79.4,421.1 79.9,419.8 80.5,418.7 81.2,417.7 81.9,416.8 82.7,416.2 83.4,415.7 84.2,415.4 85,415.3 85.8,415.4 86.6,415.7 87.3,416.2 88.1,416.8 88.8,417.7 89.5,418.7 90.1,419.8 90.6,421.1 91.1,422.6 91.6,424.1 91.9,425.8 92.2,427.5 92.4,429.3 92.6,431.1 92.6,432.9Z" fill="#fff" stroke="#000" stroke-width="2.0" fill-rule="evenodd"/>
<ellipse cx="83.2" cy="432.4" rx="11.2" ry="23.2" fill="none" stroke="#000" stroke-width="2.0" />
<path d="M83.7,450.2 83.2,450 82.7,449.7 82.2,449.2 81.7,448.7 81.2,448.2 80.8,447.5 80.3,446.8 79.9,446 79.5,445.1 79.2,444.2 78.9,443.3 78.6,442.2 78.3,441.2 78.1,440.1 77.9,438.9 77.7,437.8 77.6,436.6 77.5,435.4 77.4,434.1 77.4,432.9 77.4,431.7 77.5,430.5 77.6,429.3 77.7,428.1 77.9,426.9 78.1,425.8 78.3,424.7 78.6,423.6 78.9,422.6 79.2,421.6 79.5,420.7 79.9,419.8 80.3,419 80.8,418.3 81.2,417.7 81.7,417.1 82.2,416.6 82.7,416.2 83.2,415.8 83.7,415.6 85.1,416.8 84.6,417 84.2,417.3 83.7,417.7 83.3,418.2 82.9,418.7 82.5,419.3 82.1,420 81.8,420.7 81.5,421.5 81.1,422.4 80.9,423.3 80.6,424.2 80.4,425.2 80.2,426.2 80,427.3 79.9,428.4 79.7,429.5 79.7,430.6 79.6,431.8 79.6,432.9 79.6,434.1 79.7,435.2 79.7,436.3 79.9,437.4 80,438.5 80.2,439.6 80.4,440.6 80.6,441.6 80.9,442.6 81.1,443.5 81.5,444.3 81.8,445.1 82.1,445.8 82.5,446.5 82.9,447.1 83.3,447.7 83.7,448.1 84.2,448.5 84.6,448.8 85.1,449.1Z" fill="#000" stroke="#000" stroke-width="0" />
<ellipse cx="85.0" cy="432.9" rx="7.6" ry="17.6" fill="none" stroke="#000" stroke-width="1.9" />
<path d="M151.1,439.3 150.8,441.7 150.5,443.9 150,446.1 149.5,448.2 148.9,450.2 148.3,452.2 147.6,454 146.9,455.6 146.1,457.2 145.2,458.6 144.4,459.8 143.5,460.9 142.5,461.9 141.6,462.7 140.6,463.3 139.6,463.7 138.6,464 137.5,464.1 136.5,464 135.5,463.8 134.5,463.3 133.5,462.7 132.6,462 131.6,461 130.7,460 129.8,458.7 129,457.3 128.2,455.8 127.5,454.1 126.8,452.3 126.1,450.4 125.6,448.4 125,446.3 124.6,444.1 124.2,441.9 123.9,439.6 123.6,437.2 123.4,434.8 123.3,432.3 123.3,429.9 123.3,427.5 123.4,425 123.6,422.6 123.9,420.2 124.2,417.9 124.6,415.7 125,413.5 125.6,411.4 126.1,409.4 126.8,407.5 127.5,405.7 128.2,404 129,402.5 129.8,401.1 130.7,399.8 131.6,398.8 132.6,397.8 133.5,397.1 134.5,396.5 135.5,396 136.5,395.8 137.5,395.7 138.6,395.8 139.6,396.1 140.6,396.5 141.6,397.1 142.5,397.9 143.5,398.9 144.4,400 145.2,401.2 146.1,402.6 146.9,404.2 147.6,405.8 148.3,407.6 148.9,409.6 149.5,411.6 150,413.7 150.5,415.9 150.8,418.1 151.1,420.5" fill="none" stroke="#000" stroke-width="6.6" stroke-linecap="round"/>
<path d="M151.1,439.3 150.8,441.7 150.5,443.9 150,446.1 149.5,448.2 148.9,450.2 148.3,452.2 147.6,454 146.9,455.6 146.1,457.2 145.2,458.6 144.4,459.8 143.5,460.9 142.5,461.9 141.6,462.7 140.6,463.3 139.6,463.7 138.6,464 137.5,464.1 136.5,464 135.5,463.8 134.5,463.3 133.5,462.7 132.6,462 131.6,461 130.7,460 129.8,458.7 129,457.3 128.2,455.8 127.5,454.1 126.8,452.3 126.1,450.4 125.6,448.4 125,446.3 124.6,444.1 124.2,441.9 123.9,439.6 123.6,437.2 123.4,434.8 123.3,432.3 123.3,429.9 123.3,427.5 123.4,425 123.6,422.6 123.9,420.2 124.2,417.9 124.6,415.7 125,413.5 125.6,411.4 126.1,409.4 126.8,407.5 127.5,405.7 128.2,404 129,402.5 129.8,401.1 130.7,399.8 131.6,398.8 132.6,397.8 133.5,397.1 134.5,396.5 135.5,396 136.5,395.8 137.5,395.7 138.6,395.8 139.6,396.1 140.6,396.5 141.6,397.1 142.5,397.9 143.5,398.9 144.4,400 145.2,401.2 146.1,402.6 146.9,404.2 147.6,405.8 148.3,407.6 148.9,409.6 149.5,411.6 150,413.7 150.5,415.9 150.8,418.1 151.1,420.5" fill="none" stroke="#fff" stroke-width="3.4" stroke-linecap="round"/>
<path d="M129,440.9 128.6,442.3 128.1,443.7 127.6,445.1 127.1,446.3 126.4,447.5 125.8,448.6 125.1,449.7 124.3,450.6 123.6,451.5 122.8,452.2 121.9,452.9 121.1,453.4 120.2,453.9 119.3,454.2 118.5,454.5 117.6,454.6 116.7,454.6 115.8,454.5 114.9,454.3 114,454 113.1,453.6 112.3,453 111.4,452.4 110.6,451.7 109.8,450.8 109.1,449.9 108.4,448.9 107.7,447.8 107.1,446.6 106.5,445.4 106,444.1 105.5,442.7 105.1,441.3 104.7,439.8 104.3,438.2 104.1,436.7 103.9,435.1 103.7,433.5 103.6,431.8 103.6,430.2 103.6,428.6 103.7,426.9 103.9,425.3 104.1,423.7 104.3,422.2 104.7,420.6 105.1,419.1 105.5,417.7 106,416.3 106.5,415 107.1,413.8 107.7,412.6 108.4,411.5 109.1,410.5 109.8,409.6 110.6,408.7 111.4,408 112.3,407.4 113.1,406.8 114,406.4 114.9,406.1 115.8,405.9 116.7,405.8 117.6,405.8 118.5,405.9 119.3,406.2 120.2,406.5 121.1,407 121.9,407.5 122.8,408.2 123.6,408.9 124.3,409.8 125.1,410.7 125.8,411.8 126.4,412.9 127.1,414.1 127.6,415.3 128.1,416.7 128.6,418.1 129,419.5" fill="none" stroke="#000" stroke-width="8.2" stroke-linecap="round"/>
<circle cx="129.0" cy="440.9" r="4.8" fill="#000"/>
<circle cx="129.0" cy="419.5" r="4.8" fill="#000"/>
<path d="M129,440.9 128.6,442.3 128.1,443.7 127.6,445.1 127.1,446.3 126.4,447.5 125.8,448.6 125.1,449.7 124.3,450.6 123.6,451.5 122.8,452.2 121.9,452.9 121.1,453.4 120.2,453.9 119.3,454.2 118.5,454.5 117.6,454.6 116.7,454.6 115.8,454.5 114.9,454.3 114,454 113.1,453.6 112.3,453 111.4,452.4 110.6,451.7 109.8,450.8 109.1,449.9 108.4,448.9 107.7,447.8 107.1,446.6 106.5,445.4 106,444.1 105.5,442.7 105.1,441.3 104.7,439.8 104.3,438.2 104.1,436.7 103.9,435.1 103.7,433.5 103.6,431.8 103.6,430.2 103.6,428.6 103.7,426.9 103.9,425.3 104.1,423.7 104.3,422.2 104.7,420.6 105.1,419.1 105.5,417.7 106,416.3 106.5,415 107.1,413.8 107.7,412.6 108.4,411.5 109.1,410.5 109.8,409.6 110.6,408.7 111.4,408 112.3,407.4 113.1,406.8 114,406.4 114.9,406.1 115.8,405.9 116.7,405.8 117.6,405.8 118.5,405.9 119.3,406.2 120.2,406.5 121.1,407 121.9,407.5 122.8,408.2 123.6,408.9 124.3,409.8 125.1,410.7 125.8,411.8 126.4,412.9 127.1,414.1 127.6,415.3 128.1,416.7 128.6,418.1 129,419.5" fill="none" stroke="#fff" stroke-width="4.6" stroke-linecap="round"/>
<circle cx="129.0" cy="440.9" r="3.0" fill="#fff"/>
<circle cx="129.0" cy="419.5" r="3.0" fill="#fff"/>
<circle cx="129.0" cy="440.9" r="1.2" fill="#000"/>
<circle cx="129.0" cy="419.5" r="1.2" fill="#000"/>
<path d="M116,443.2 115.7,442.8 115.5,442.3 115.2,441.9 115,441.3 114.8,440.8 114.5,440.2 114.3,439.6 114.1,439 114,438.4 113.8,437.7 113.7,437 113.5,436.3 113.4,435.6 113.3,434.8 113.2,434.1 113.1,433.3 113.1,432.5 113,431.8 113,431 113,430.2 113,429.4 113,428.6 113.1,427.9 113.1,427.1 113.2,426.3 113.3,425.6 113.4,424.8 113.5,424.1 113.7,423.4 113.8,422.7 114,422 114.1,421.4 114.3,420.8 114.5,420.2 114.8,419.6 115,419.1 115.2,418.5 115.5,418.1 115.7,417.6 116,417.2" fill="none" stroke="#000" stroke-width="1.6" />
<path d="M175,458.3 173.9,458.2 172.7,457.9 171.6,457.5 170.6,456.9 169.5,456.1 168.5,455.1 167.5,454 166.5,452.7 165.6,451.3 164.8,449.7 164.1,448 163.4,446.2 162.7,444.3 162.2,442.3 161.7,440.2 161.3,438.1 161,435.8 160.8,433.6 160.6,431.3 160.6,429 160.6,426.7 160.8,424.4 161,422.2 161.3,419.9 161.7,417.8 162.2,415.7 162.7,413.7 163.4,411.8 164.1,410 164.8,408.3 165.6,406.7 166.5,405.3 167.5,404 168.5,402.9 169.5,401.9 170.6,401.1 171.6,400.5 172.7,400.1 173.9,399.8 175,399.7 185,399.7 186.1,399.8 187.3,400.1 188.4,400.5 189.4,401.1 190.5,401.9 191.5,402.9 192.5,404 193.5,405.3 194.4,406.7 195.2,408.3 195.9,410 196.6,411.8 197.3,413.7 197.8,415.7 198.3,417.8 198.7,419.9 199,422.2 199.2,424.4 199.4,426.7 199.4,429 199.4,431.3 199.2,433.6 199,435.8 198.7,438.1 198.3,440.2 197.8,442.3 197.3,444.3 196.6,446.2 195.9,448 195.2,449.7 194.4,451.3 193.5,452.7 192.5,454 191.5,455.1 190.5,456.1 189.4,456.9 188.4,457.5 187.3,457.9 186.1,458.2 185,458.3Z" fill="#fff" stroke="#000" stroke-width="1.7" />
<clipPath id="k11"><path d="M185,399.7 186.1,399.8 187.3,400.1 188.4,400.5 189.4,401.1 190.5,401.9 191.5,402.9 192.5,404 193.5,405.3 194.4,406.7 195.2,408.3 195.9,410 196.6,411.8 197.3,413.7 197.8,415.7 198.3,417.8 198.7,419.9 199,422.2 199.2,424.4 199.4,426.7 199.4,429 199.4,431.3 199.2,433.6 199,435.8 198.7,438.1 198.3,440.2 197.8,442.3 197.3,444.3 196.6,446.2 195.9,448 195.2,449.7 194.4,451.3 193.5,452.7 192.5,454 191.5,455.1 190.5,456.1 189.4,456.9 188.4,457.5 187.3,457.9 186.1,458.2 185,458.3 175,458.3 176.1,458.2 177.3,457.9 178.4,457.5 179.4,456.9 180.5,456.1 181.5,455.1 182.5,454 183.5,452.7 184.4,451.3 185.2,449.7 185.9,448 186.6,446.2 187.3,444.3 187.8,442.3 188.3,440.2 188.7,438.1 189,435.8 189.2,433.6 189.4,431.3 189.4,429 189.4,426.7 189.2,424.4 189,422.2 188.7,419.9 188.3,417.8 187.8,415.7 187.3,413.7 186.6,411.8 185.9,410 185.2,408.3 184.4,406.7 183.5,405.3 182.5,404 181.5,402.9 180.5,401.9 179.4,401.1 178.4,400.5 177.3,400.1 176.1,399.8 175,399.7Z"/></clipPath><g clip-path="url(#k11)">
<rect x="175.0" y="398.7" width="26.4" height="14.7" fill="#000"/>
<rect x="175.0" y="445.1" width="26.4" height="14.7" fill="#000"/>
<line x1="183.4" y1="402.6" x2="189.2" y2="402.6" stroke="#fff" stroke-width="1.1174999702023602" />
<line x1="187.7" y1="406.7" x2="189.9" y2="406.7" stroke="#fff" stroke-width="1.1963166791001232" />
<line x1="191.0" y1="410.7" x2="193.3" y2="410.7" stroke="#fff" stroke-width="1.0525420767350058" />
<line x1="190.1" y1="414.8" x2="193.8" y2="414.8" stroke="#000" stroke-width="1.1" />
<line x1="194.0" y1="422.9" x2="197.4" y2="422.9" stroke="#000" stroke-width="1.1" />
<line x1="192.0" y1="427.0" x2="197.0" y2="427.0" stroke="#000" stroke-width="1.1" />
<line x1="191.1" y1="443.2" x2="195.1" y2="443.2" stroke="#000" stroke-width="1.1" />
<line x1="188.2" y1="447.3" x2="195.5" y2="447.3" stroke="#fff" stroke-width="0.9842233204216665" />
<line x1="186.5" y1="451.3" x2="192.9" y2="451.3" stroke="#fff" stroke-width="0.8624385506235543" />
<line x1="186.5" y1="455.4" x2="188.0" y2="455.4" stroke="#fff" stroke-width="1.0760014374869245" />
</g>
<ellipse cx="175.0" cy="429.0" rx="14.4" ry="29.3" fill="#fff" stroke="#000" stroke-width="1.9" />
<ellipse cx="175.3" cy="429.0" rx="12.4" ry="26.1" fill="#000" stroke="#000" stroke-width="0" />
<ellipse cx="184.9" cy="435.3" rx="2.3" ry="3.1" fill="#fff" stroke="#000" stroke-width="0" />
<ellipse cx="181.4" cy="446.1" rx="2.3" ry="3.1" fill="#fff" stroke="#000" stroke-width="0" />
<ellipse cx="175.7" cy="450.4" rx="2.3" ry="3.1" fill="#fff" stroke="#000" stroke-width="0" />
<ellipse cx="169.9" cy="446.5" rx="2.3" ry="3.1" fill="#fff" stroke="#000" stroke-width="0" />
<ellipse cx="166.3" cy="435.9" rx="2.3" ry="3.1" fill="#fff" stroke="#000" stroke-width="0" />
<ellipse cx="166.2" cy="422.7" rx="2.3" ry="3.1" fill="#fff" stroke="#000" stroke-width="0" />
<ellipse cx="169.7" cy="411.9" rx="2.3" ry="3.1" fill="#fff" stroke="#000" stroke-width="0" />
<ellipse cx="175.4" cy="407.6" rx="2.3" ry="3.1" fill="#fff" stroke="#000" stroke-width="0" />
<ellipse cx="181.2" cy="411.5" rx="2.3" ry="3.1" fill="#fff" stroke="#000" stroke-width="0" />
<ellipse cx="184.8" cy="422.1" rx="2.3" ry="3.1" fill="#fff" stroke="#000" stroke-width="0" />
<ellipse cx="176.2" cy="429.0" rx="9.2" ry="20.2" fill="#fff" stroke="#000" stroke-width="1.8" />
<clipPath id="k12"><path d="M184.5,429 184.4,431.8 184.1,434.4 183.7,437 183,439.3 182.2,441.4 181.3,443.2 180.3,444.7 179.1,445.7 177.9,446.4 176.7,446.6 175.5,446.4 174.3,445.7 173.2,444.7 172.2,443.2 171.2,441.4 170.4,439.3 169.8,437 169.3,434.4 169,431.8 169,429 169,426.2 169.3,423.6 169.8,421 170.4,418.7 171.2,416.6 172.2,414.8 173.2,413.3 174.3,412.3 175.5,411.6 176.7,411.4 177.9,411.6 179.1,412.3 180.3,413.3 181.3,414.8 182.2,416.6 183,418.7 183.7,421 184.1,423.6 184.4,426.2 184.5,429Z"/></clipPath><g clip-path="url(#k12)">
<ellipse cx="176.7" cy="429.0" rx="7.8" ry="17.6" fill="#000" stroke="#000" stroke-width="0" />
<line x1="171.3" y1="418.5" x2="180.4" y2="418.5" stroke="#fff" stroke-width="1.3" />
<line x1="171.3" y1="423.7" x2="180.9" y2="423.7" stroke="#fff" stroke-width="1.3" />
<line x1="171.3" y1="429.0" x2="179.8" y2="429.0" stroke="#fff" stroke-width="1.3" />
<line x1="171.3" y1="434.3" x2="179.2" y2="434.3" stroke="#fff" stroke-width="1.3" />
<line x1="171.3" y1="439.5" x2="182.4" y2="439.5" stroke="#fff" stroke-width="1.3" />
</g>
<ellipse cx="176.7" cy="429.0" rx="7.8" ry="17.6" fill="none" stroke="#000" stroke-width="1.5" />
<path d="M204.2,445.8 203.7,445.7 203.2,445.6 202.8,445.3 202.3,444.9 201.8,444.4 201.4,443.8 201,443 200.6,442.2 200.2,441.3 199.8,440.3 199.5,439.2 199.2,438.1 198.9,436.8 198.7,435.5 198.5,434.2 198.3,432.8 198.2,431.4 198.1,429.9 198,428.5 198,427 198,425.5 198.1,424.1 198.2,422.6 198.3,421.2 198.5,419.8 198.7,418.5 198.9,417.2 199.2,415.9 199.5,414.8 199.8,413.7 200.2,412.7 200.6,411.8 201,411 201.4,410.2 201.8,409.6 202.3,409.1 202.8,408.7 203.2,408.4 203.7,408.3 204.2,408.2 209.7,408.2 210.2,408.3 210.7,408.4 211.1,408.7 211.6,409.1 212.1,409.6 212.5,410.2 212.9,411 213.3,411.8 213.7,412.7 214.1,413.7 214.4,414.8 214.7,415.9 215,417.2 215.2,418.5 215.4,419.8 215.6,421.2 215.7,422.6 215.8,424.1 215.9,425.5 215.9,427 215.9,428.5 215.8,429.9 215.7,431.4 215.6,432.8 215.4,434.2 215.2,435.5 215,436.8 214.7,438.1 214.4,439.2 214.1,440.3 213.7,441.3 213.3,442.2 212.9,443 212.5,443.8 212.1,444.4 211.6,444.9 211.1,445.3 210.7,445.6 210.2,445.7 209.7,445.8Z" fill="#fff" stroke="#000" stroke-width="1.7" />
<clipPath id="k13"><path d="M209.7,408.2 210.2,408.3 210.7,408.4 211.1,408.7 211.6,409.1 212.1,409.6 212.5,410.2 212.9,411 213.3,411.8 213.7,412.7 214.1,413.7 214.4,414.8 214.7,415.9 215,417.2 215.2,418.5 215.4,419.8 215.6,421.2 215.7,422.6 215.8,424.1 215.9,425.5 215.9,427 215.9,428.5 215.8,429.9 215.7,431.4 215.6,432.8 215.4,434.2 215.2,435.5 215,436.8 214.7,438.1 214.4,439.2 214.1,440.3 213.7,441.3 213.3,442.2 212.9,443 212.5,443.8 212.1,444.4 211.6,444.9 211.1,445.3 210.7,445.6 210.2,445.7 209.7,445.8 204.2,445.8 204.7,445.7 205.2,445.6 205.6,445.3 206.1,444.9 206.6,444.4 207,443.8 207.4,443 207.8,442.2 208.2,441.3 208.6,440.3 208.9,439.2 209.2,438.1 209.5,436.8 209.7,435.5 209.9,434.2 210.1,432.8 210.2,431.4 210.3,429.9 210.4,428.5 210.4,427 210.4,425.5 210.3,424.1 210.2,422.6 210.1,421.2 209.9,419.8 209.7,418.5 209.5,417.2 209.2,415.9 208.9,414.8 208.6,413.7 208.2,412.7 207.8,411.8 207.4,411 207,410.2 206.6,409.6 206.1,409.1 205.6,408.7 205.2,408.4 204.7,408.3 204.2,408.2Z"/></clipPath><g clip-path="url(#k13)">
<path d="M209.7,408.2 210.2,408.3 210.7,408.4 211.1,408.7 211.6,409.1 212.1,409.6 212.5,410.2 212.9,411 213.3,411.8 213.7,412.7 214.1,413.7 214.4,414.8 214.7,415.9 215,417.2 215.2,418.5 215.4,419.8 215.6,421.2 215.7,422.6 215.8,424.1 215.9,425.5 215.9,427 215.9,428.5 215.8,429.9 215.7,431.4 215.6,432.8 215.4,434.2 215.2,435.5 215,436.8 214.7,438.1 214.4,439.2 214.1,440.3 213.7,441.3 213.3,442.2 212.9,443 212.5,443.8 212.1,444.4 211.6,444.9 211.1,445.3 210.7,445.6 210.2,445.7 209.7,445.8 204.2,445.8 204.7,445.7 205.2,445.6 205.6,445.3 206.1,444.9 206.6,444.4 207,443.8 207.4,443 207.8,442.2 208.2,441.3 208.6,440.3 208.9,439.2 209.2,438.1 209.5,436.8 209.7,435.5 209.9,434.2 210.1,432.8 210.2,431.4 210.3,429.9 210.4,428.5 210.4,427 210.4,425.5 210.3,424.1 210.2,422.6 210.1,421.2 209.9,419.8 209.7,418.5 209.5,417.2 209.2,415.9 208.9,414.8 208.6,413.7 208.2,412.7 207.8,411.8 207.4,411 207,410.2 206.6,409.6 206.1,409.1 205.6,408.7 205.2,408.4 204.7,408.3 204.2,408.2Z" fill="#000" stroke="#000" stroke-width="0" />
<line x1="208.2" y1="421.0" x2="216.2" y2="421.0" stroke="#fff" stroke-width="1.0" />
<line x1="208.2" y1="429.0" x2="216.2" y2="429.0" stroke="#fff" stroke-width="1.0" />
<line x1="208.2" y1="436.0" x2="216.2" y2="436.0" stroke="#fff" stroke-width="1.0" />
</g>
<ellipse cx="204.2" cy="427.0" rx="6.2" ry="18.8" fill="#fff" stroke="#000" stroke-width="1.8" />
<ellipse cx="204.8" cy="427.0" rx="3.6" ry="14.3" fill="none" stroke="#000" stroke-width="1.6" />
<path d="M222.5,457.4 221.5,457.3 220.4,457 219.4,456.6 218.4,455.9 217.4,455.1 216.5,454.2 215.6,453 214.7,451.7 213.9,450.3 213.2,448.7 212.5,447 211.8,445.2 211.2,443.2 210.7,441.2 210.3,439.1 209.9,436.9 209.7,434.6 209.5,432.3 209.3,430 209.3,427.7 209.3,425.4 209.5,423.1 209.7,420.8 209.9,418.5 210.3,416.3 210.7,414.2 211.2,412.2 211.8,410.2 212.5,408.4 213.2,406.7 213.9,405.1 214.7,403.7 215.6,402.4 216.5,401.2 217.4,400.3 218.4,399.5 219.4,398.8 220.4,398.4 221.5,398.1 222.5,398 235.5,398 236.5,398.1 237.6,398.4 238.6,398.8 239.6,399.5 240.6,400.3 241.5,401.2 242.4,402.4 243.3,403.7 244.1,405.1 244.8,406.7 245.5,408.4 246.2,410.2 246.8,412.2 247.3,414.2 247.7,416.3 248.1,418.5 248.3,420.8 248.5,423.1 248.7,425.4 248.7,427.7 248.7,430 248.5,432.3 248.3,434.6 248.1,436.9 247.7,439.1 247.3,441.2 246.8,443.2 246.2,445.2 245.5,447 244.8,448.7 244.1,450.3 243.3,451.7 242.4,453 241.5,454.2 240.6,455.1 239.6,455.9 238.6,456.6 237.6,457 236.5,457.3 235.5,457.4Z" fill="#fff" stroke="#000" stroke-width="1.7" />
<clipPath id="k14"><path d="M235.5,398 236.5,398.1 237.6,398.4 238.6,398.8 239.6,399.5 240.6,400.3 241.5,401.2 242.4,402.4 243.3,403.7 244.1,405.1 244.8,406.7 245.5,408.4 246.2,410.2 246.8,412.2 247.3,414.2 247.7,416.3 248.1,418.5 248.3,420.8 248.5,423.1 248.7,425.4 248.7,427.7 248.7,430 248.5,432.3 248.3,434.6 248.1,436.9 247.7,439.1 247.3,441.2 246.8,443.2 246.2,445.2 245.5,447 244.8,448.7 244.1,450.3 243.3,451.7 242.4,453 241.5,454.2 240.6,455.1 239.6,455.9 238.6,456.6 237.6,457 236.5,457.3 235.5,457.4 222.5,457.4 223.5,457.3 224.6,457 225.6,456.6 226.6,455.9 227.6,455.1 228.5,454.2 229.4,453 230.3,451.7 231.1,450.3 231.8,448.7 232.5,447 233.2,445.2 233.8,443.2 234.3,441.2 234.7,439.1 235.1,436.9 235.3,434.6 235.5,432.3 235.7,430 235.7,427.7 235.7,425.4 235.5,423.1 235.3,420.8 235.1,418.5 234.7,416.3 234.3,414.2 233.8,412.2 233.2,410.2 232.5,408.4 231.8,406.7 231.1,405.1 230.3,403.7 229.4,402.4 228.5,401.2 227.6,400.3 226.6,399.5 225.6,398.8 224.6,398.4 223.5,398.1 222.5,398Z"/></clipPath><g clip-path="url(#k14)">
<rect x="222.5" y="397.0" width="28.2" height="14.8" fill="#000"/>
<rect x="222.5" y="444.0" width="28.2" height="14.8" fill="#000"/>
<line x1="233.4" y1="401.0" x2="238.1" y2="401.0" stroke="#fff" stroke-width="1.183254628181322" />
<line x1="236.2" y1="405.1" x2="238.1" y2="405.1" stroke="#fff" stroke-width="1.1178629348029947" />
<line x1="237.9" y1="409.2" x2="243.9" y2="409.2" stroke="#fff" stroke-width="1.086470334624611" />
<line x1="238.3" y1="413.3" x2="244.8" y2="413.3" stroke="#000" stroke-width="1.1" />
<line x1="238.7" y1="417.4" x2="245.0" y2="417.4" stroke="#000" stroke-width="1.1" />
<line x1="238.8" y1="421.5" x2="242.9" y2="421.5" stroke="#000" stroke-width="1.1" />
<line x1="240.0" y1="429.8" x2="245.2" y2="429.8" stroke="#000" stroke-width="1.1" />
<line x1="237.7" y1="438.0" x2="242.7" y2="438.0" stroke="#000" stroke-width="1.1" />
<line x1="236.9" y1="442.1" x2="240.6" y2="442.1" stroke="#000" stroke-width="1.1" />
<line x1="237.1" y1="446.2" x2="240.1" y2="446.2" stroke="#fff" stroke-width="1.1451249050229149" />
<line x1="233.2" y1="450.3" x2="237.2" y2="450.3" stroke="#fff" stroke-width="0.8116723636819174" />
<line x1="232.6" y1="454.4" x2="239.2" y2="454.4" stroke="#fff" stroke-width="0.9098328067881283" />
</g>
<ellipse cx="222.5" cy="427.7" rx="13.2" ry="29.7" fill="#fff" stroke="#000" stroke-width="1.9" />
<ellipse cx="222.8" cy="427.7" rx="11.4" ry="26.4" fill="#000" stroke="#000" stroke-width="0" />
<ellipse cx="231.6" cy="434.1" rx="2.1" ry="3.1" fill="#fff" stroke="#000" stroke-width="0" />
<ellipse cx="227.9" cy="445.9" rx="2.1" ry="3.1" fill="#fff" stroke="#000" stroke-width="0" />
<ellipse cx="221.9" cy="449.2" rx="2.1" ry="3.1" fill="#fff" stroke="#000" stroke-width="0" />
<ellipse cx="216.4" cy="442.4" rx="2.1" ry="3.1" fill="#fff" stroke="#000" stroke-width="0" />
<ellipse cx="214.1" cy="428.8" rx="2.1" ry="3.1" fill="#fff" stroke="#000" stroke-width="0" />
<ellipse cx="215.9" cy="414.6" rx="2.1" ry="3.1" fill="#fff" stroke="#000" stroke-width="0" />
<ellipse cx="221.0" cy="406.6" rx="2.1" ry="3.1" fill="#fff" stroke="#000" stroke-width="0" />
<ellipse cx="227.1" cy="408.4" rx="2.1" ry="3.1" fill="#fff" stroke="#000" stroke-width="0" />
<ellipse cx="231.3" cy="419.3" rx="2.1" ry="3.1" fill="#fff" stroke="#000" stroke-width="0" />
<ellipse cx="223.6" cy="427.7" rx="6.9" ry="16.9" fill="#fff" stroke="#000" stroke-width="1.8" />
<clipPath id="k15"><path d="M229.4,427.7 229.3,429.8 229.1,431.9 228.8,433.9 228.4,435.7 227.8,437.4 227.2,438.8 226.5,439.9 225.7,440.7 224.9,441.2 224.1,441.4 223.3,441.2 222.5,440.7 221.7,439.9 221,438.8 220.4,437.4 219.8,435.7 219.4,433.9 219.1,431.9 218.9,429.8 218.8,427.7 218.9,425.6 219.1,423.5 219.4,421.5 219.8,419.7 220.4,418 221,416.6 221.7,415.5 222.5,414.7 223.3,414.2 224.1,414 224.9,414.2 225.7,414.7 226.5,415.5 227.2,416.6 227.8,418 228.4,419.7 228.8,421.5 229.1,423.5 229.3,425.6 229.4,427.7Z"/></clipPath><g clip-path="url(#k15)">
<ellipse cx="224.1" cy="427.7" rx="5.3" ry="13.7" fill="#000" stroke="#000" stroke-width="0" />
<line x1="220.4" y1="419.5" x2="226.3" y2="419.5" stroke="#fff" stroke-width="1.3" />
<line x1="220.4" y1="423.6" x2="225.7" y2="423.6" stroke="#fff" stroke-width="1.3" />
<line x1="220.4" y1="427.7" x2="227.4" y2="427.7" stroke="#fff" stroke-width="1.3" />
<line x1="220.4" y1="431.8" x2="226.5" y2="431.8" stroke="#fff" stroke-width="1.3" />
<line x1="220.4" y1="435.9" x2="226.0" y2="435.9" stroke="#fff" stroke-width="1.3" />
</g>
<ellipse cx="224.1" cy="427.7" rx="5.3" ry="13.7" fill="none" stroke="#000" stroke-width="1.5" />
<rect x="207.3" y="350.4" width="20.2" height="8" rx="4" fill="#fff" stroke="#000" stroke-width="1.7"/>
<line x1="209.0" y1="352.5" x2="211.5" y2="356.0" stroke="#000" stroke-width="1.6" />
<line x1="227.5" y1="354.3" x2="235.3" y2="354.2" stroke="#000" stroke-width="1.3" />
<circle cx="238.7" cy="354" r="3.4" fill="#fff" stroke="#000" stroke-width="1.6"/>
<line x1="244.4" y1="353.4" x2="293.0" y2="352.0" stroke="#000" stroke-width="1.3" />
<path d="M337,506.5 334.4,506.3 331.8,505.5 329.3,504.3 326.8,502.5 324.4,500.3 322,497.7 319.8,494.6 317.6,491 315.6,487.1 313.7,482.8 311.9,478.1 310.3,473.1 308.9,467.8 307.6,462.3 306.5,456.5 305.6,450.5 304.9,444.4 304.4,438.2 304.1,431.9 304,425.5 304.1,419.1 304.4,412.8 304.9,406.6 305.6,400.5 306.5,394.5 307.6,388.7 308.9,383.2 310.3,377.9 311.9,372.9 313.7,368.2 315.6,363.9 317.6,360 319.8,356.4 322,353.3 324.4,350.7 326.8,348.5 329.3,346.7 331.8,345.5 334.4,344.7 337,344.5 395,344.5 396.4,344.7 397.8,345.5 399.2,346.7 400.6,348.5 401.9,350.7 403.2,353.3 404.4,356.4 405.6,360 406.7,363.9 407.7,368.2 408.7,372.9 409.6,377.9 410.3,383.2 411,388.7 411.6,394.5 412.1,400.5 412.5,406.6 412.8,412.8 412.9,419.1 413,425.5 412.9,431.9 412.8,438.2 412.5,444.4 412.1,450.5 411.6,456.5 411,462.3 410.3,467.8 409.6,473.1 408.7,478.1 407.7,482.8 406.7,487.1 405.6,491 404.4,494.6 403.2,497.7 401.9,500.3 400.6,502.5 399.2,504.3 397.8,505.5 396.4,506.3 395,506.5Z" fill="#fff" stroke="#000" stroke-width="1.8" />
<clipPath id="k16"><path d="M395,344.5 396.4,344.7 397.8,345.5 399.2,346.7 400.6,348.5 401.9,350.7 403.2,353.3 404.4,356.4 405.6,360 406.7,363.9 407.7,368.2 408.7,372.9 409.6,377.9 410.3,383.2 411,388.7 411.6,394.5 412.1,400.5 412.5,406.6 412.8,412.8 412.9,419.1 413,425.5 412.9,431.9 412.8,438.2 412.5,444.4 412.1,450.5 411.6,456.5 411,462.3 410.3,467.8 409.6,473.1 408.7,478.1 407.7,482.8 406.7,487.1 405.6,491 404.4,494.6 403.2,497.7 401.9,500.3 400.6,502.5 399.2,504.3 397.8,505.5 396.4,506.3 395,506.5 337,506.5 339.6,506.3 342.2,505.5 344.7,504.3 347.2,502.5 349.6,500.3 352,497.7 354.2,494.6 356.4,491 358.4,487.1 360.3,482.8 362.1,478.1 363.7,473.1 365.1,467.8 366.4,462.3 367.5,456.5 368.4,450.5 369.1,444.4 369.6,438.2 369.9,431.9 370,425.5 369.9,419.1 369.6,412.8 369.1,406.6 368.4,400.5 367.5,394.5 366.4,388.7 365.1,383.2 363.7,377.9 362.1,372.9 360.3,368.2 358.4,363.9 356.4,360 354.2,356.4 352,353.3 349.6,350.7 347.2,348.5 344.7,346.7 342.2,345.5 339.6,344.7 337,344.5Z"/></clipPath><g clip-path="url(#k16)">
<rect x="330" y="343.5" width="100" height="15" fill="#000"/>
<rect x="330" y="487.5" width="100" height="20" fill="#000"/>
<rect x="396.4" y="501.3" width="1.3" height="1.3" fill="#fff"/>
<rect x="390.7" y="497.2" width="1.3" height="1.3" fill="#fff"/>
<rect x="386.2" y="504.5" width="1.3" height="1.3" fill="#fff"/>
<rect x="382.4" y="491.7" width="1.3" height="1.3" fill="#fff"/>
<rect x="381.4" y="493.4" width="1.3" height="1.3" fill="#fff"/>
<rect x="383.8" y="493.5" width="1.3" height="1.3" fill="#fff"/>
<rect x="375.9" y="494.4" width="1.3" height="1.3" fill="#fff"/>
<rect x="383.2" y="498.0" width="1.3" height="1.3" fill="#fff"/>
<rect x="379.3" y="490.6" width="1.3" height="1.3" fill="#fff"/>
<rect x="379.3" y="497.6" width="1.3" height="1.3" fill="#fff"/>
<rect x="386.0" y="500.5" width="1.3" height="1.3" fill="#fff"/>
<rect x="400.9" y="495.7" width="1.3" height="1.3" fill="#fff"/>
<rect x="375.6" y="500.4" width="1.3" height="1.3" fill="#fff"/>
<rect x="399.2" y="495.4" width="1.3" height="1.3" fill="#fff"/>
<line x1="366.2" y1="346.5" x2="404.8" y2="346.5" stroke="#000" stroke-width="2.667045492878671" />
<line x1="368.5" y1="349.6" x2="415.3" y2="349.6" stroke="#000" stroke-width="2.4362015460526885" />
<line x1="367.4" y1="352.7" x2="412.8" y2="352.7" stroke="#000" stroke-width="2.110834801999655" />
<line x1="365.6" y1="355.8" x2="401.7" y2="355.8" stroke="#000" stroke-width="2.00556392047985" />
<line x1="362.7" y1="358.9" x2="370.6" y2="358.9" stroke="#000" stroke-width="1.8" />
<line x1="373.6" y1="358.9" x2="380.5" y2="358.9" stroke="#000" stroke-width="1.8" />
<line x1="384.3" y1="358.9" x2="395.2" y2="358.9" stroke="#000" stroke-width="1.8" />
<line x1="399.0" y1="358.9" x2="405.0" y2="358.9" stroke="#000" stroke-width="1.8" />
<line x1="407.0" y1="358.9" x2="407.7" y2="358.9" stroke="#000" stroke-width="1.8" />
<line x1="367.0" y1="362.0" x2="373.3" y2="362.0" stroke="#000" stroke-width="1.8" />
<line x1="376.1" y1="362.0" x2="385.9" y2="362.0" stroke="#000" stroke-width="1.8" />
<line x1="388.9" y1="362.0" x2="395.3" y2="362.0" stroke="#000" stroke-width="1.8" />
<line x1="398.6" y1="362.0" x2="403.0" y2="362.0" stroke="#000" stroke-width="1.8" />
<line x1="366.7" y1="365.1" x2="371.2" y2="365.1" stroke="#000" stroke-width="1.8" />
<line x1="374.2" y1="365.1" x2="383.5" y2="365.1" stroke="#000" stroke-width="1.8" />
<line x1="385.5" y1="365.1" x2="393.0" y2="365.1" stroke="#000" stroke-width="1.8" />
<line x1="395.6" y1="365.1" x2="400.2" y2="365.1" stroke="#000" stroke-width="1.8" />
<line x1="402.6" y1="365.1" x2="408.9" y2="365.1" stroke="#000" stroke-width="1.8" />
<line x1="411.8" y1="365.1" x2="412.0" y2="365.1" stroke="#000" stroke-width="1.8" />
<line x1="369.9" y1="368.2" x2="379.1" y2="368.2" stroke="#000" stroke-width="1.8" />
<line x1="382.4" y1="368.2" x2="386.5" y2="368.2" stroke="#000" stroke-width="1.8" />
<line x1="389.2" y1="368.2" x2="398.5" y2="368.2" stroke="#000" stroke-width="1.8" />
<line x1="402.4" y1="368.2" x2="410.9" y2="368.2" stroke="#000" stroke-width="1.8" />
<line x1="365.0" y1="371.3" x2="415.3" y2="371.3" stroke="#000" stroke-width="2.407314308389643" />
<line x1="356.0" y1="374.4" x2="412.4" y2="374.4" stroke="#000" stroke-width="2.168466931963939" />
<line x1="358.4" y1="377.5" x2="408.4" y2="377.5" stroke="#000" stroke-width="2.108710098194188" />
<line x1="360.5" y1="380.6" x2="408.2" y2="380.6" stroke="#000" stroke-width="2.7075824184219113" />
<line x1="367.3" y1="383.7" x2="415.3" y2="383.7" stroke="#000" stroke-width="2.5450205596014848" />
<line x1="359.9" y1="386.8" x2="408.1" y2="386.8" stroke="#000" stroke-width="2.3827641483286905" />
<line x1="356.1" y1="389.9" x2="363.7" y2="389.9" stroke="#000" stroke-width="1.8" />
<line x1="367.6" y1="389.9" x2="375.7" y2="389.9" stroke="#000" stroke-width="1.8" />
<line x1="379.4" y1="389.9" x2="385.5" y2="389.9" stroke="#000" stroke-width="1.8" />
<line x1="388.4" y1="389.9" x2="395.5" y2="389.9" stroke="#000" stroke-width="1.8" />
<line x1="398.1" y1="389.9" x2="405.1" y2="389.9" stroke="#000" stroke-width="1.8" />
<line x1="408.0" y1="389.9" x2="413.6" y2="389.9" stroke="#000" stroke-width="1.8" />
<line x1="356.6" y1="393.0" x2="410.7" y2="393.0" stroke="#000" stroke-width="2.330528739794528" />
<line x1="382.1" y1="396.1" x2="388.7" y2="396.1" stroke="#000" stroke-width="1.1" />
<line x1="390.6" y1="424.0" x2="399.0" y2="424.0" stroke="#000" stroke-width="1.1" />
<line x1="391.1" y1="439.4" x2="400.0" y2="439.4" stroke="#000" stroke-width="1.1" />
<line x1="392.5" y1="442.5" x2="403.1" y2="442.5" stroke="#000" stroke-width="1.1" />
<line x1="380.1" y1="448.7" x2="388.8" y2="448.7" stroke="#000" stroke-width="1.1" />
<line x1="362.6" y1="451.8" x2="401.2" y2="451.8" stroke="#000" stroke-width="2.437792202267758" />
<line x1="364.8" y1="454.9" x2="405.7" y2="454.9" stroke="#000" stroke-width="2.541464705711555" />
<line x1="359.4" y1="458.0" x2="405.5" y2="458.0" stroke="#000" stroke-width="2.176833680600862" />
<line x1="362.6" y1="461.1" x2="404.9" y2="461.1" stroke="#000" stroke-width="2.636119338501527" />
<line x1="357.1" y1="464.2" x2="362.1" y2="464.2" stroke="#000" stroke-width="1.8" />
<line x1="365.1" y1="464.2" x2="373.1" y2="464.2" stroke="#000" stroke-width="1.8" />
<line x1="377.0" y1="464.2" x2="384.6" y2="464.2" stroke="#000" stroke-width="1.8" />
<line x1="387.6" y1="464.2" x2="391.8" y2="464.2" stroke="#000" stroke-width="1.8" />
<line x1="394.3" y1="464.2" x2="400.8" y2="464.2" stroke="#000" stroke-width="1.8" />
<line x1="368.4" y1="467.3" x2="376.7" y2="467.3" stroke="#000" stroke-width="1.8" />
<line x1="379.0" y1="467.3" x2="384.5" y2="467.3" stroke="#000" stroke-width="1.8" />
<line x1="387.7" y1="467.3" x2="392.4" y2="467.3" stroke="#000" stroke-width="1.8" />
<line x1="395.9" y1="467.3" x2="403.4" y2="467.3" stroke="#000" stroke-width="1.8" />
<line x1="405.5" y1="467.3" x2="406.7" y2="467.3" stroke="#000" stroke-width="1.8" />
<line x1="367.6" y1="470.4" x2="413.5" y2="470.4" stroke="#000" stroke-width="2.2171761289142" />
<line x1="363.3" y1="473.5" x2="411.9" y2="473.5" stroke="#000" stroke-width="2.7734455434369556" />
<line x1="362.2" y1="476.6" x2="369.6" y2="476.6" stroke="#000" stroke-width="1.8" />
<line x1="371.6" y1="476.6" x2="380.5" y2="476.6" stroke="#000" stroke-width="1.8" />
<line x1="384.5" y1="476.6" x2="396.0" y2="476.6" stroke="#000" stroke-width="1.8" />
<line x1="400.0" y1="476.6" x2="400.3" y2="476.6" stroke="#000" stroke-width="1.8" />
<line x1="356.2" y1="479.7" x2="360.8" y2="479.7" stroke="#000" stroke-width="1.8" />
<line x1="364.1" y1="479.7" x2="375.7" y2="479.7" stroke="#000" stroke-width="1.8" />
<line x1="378.8" y1="479.7" x2="383.3" y2="479.7" stroke="#000" stroke-width="1.8" />
<line x1="385.3" y1="479.7" x2="395.9" y2="479.7" stroke="#000" stroke-width="1.8" />
<line x1="399.3" y1="479.7" x2="405.8" y2="479.7" stroke="#000" stroke-width="1.8" />
<line x1="409.7" y1="479.7" x2="414.9" y2="479.7" stroke="#000" stroke-width="1.8" />
<line x1="371.4" y1="482.8" x2="400.9" y2="482.8" stroke="#000" stroke-width="2.1439092643040385" />
<line x1="365.9" y1="485.9" x2="407.8" y2="485.9" stroke="#000" stroke-width="2.5021973756956277" />
<line x1="356.8" y1="489.0" x2="415.7" y2="489.0" stroke="#000" stroke-width="2.1670043410916726" />
<line x1="365.1" y1="492.1" x2="404.3" y2="492.1" stroke="#000" stroke-width="2.2521750749227802" />
<line x1="358.6" y1="495.2" x2="370.5" y2="495.2" stroke="#000" stroke-width="1.8" />
<line x1="374.1" y1="495.2" x2="379.9" y2="495.2" stroke="#000" stroke-width="1.8" />
<line x1="383.1" y1="495.2" x2="388.5" y2="495.2" stroke="#000" stroke-width="1.8" />
<line x1="390.9" y1="495.2" x2="397.9" y2="495.2" stroke="#000" stroke-width="1.8" />
<line x1="401.4" y1="495.2" x2="405.9" y2="495.2" stroke="#000" stroke-width="1.8" />
<line x1="359.3" y1="498.3" x2="402.6" y2="498.3" stroke="#000" stroke-width="2.7241048783396145" />
<line x1="362.1" y1="501.4" x2="408.6" y2="501.4" stroke="#000" stroke-width="2.4217947330309566" />
<line x1="360.9" y1="504.5" x2="403.0" y2="504.5" stroke="#000" stroke-width="2.5048798898295566" />
</g>
<path d="M337,506.5 334.4,506.3 331.8,505.5 329.3,504.3 326.8,502.5 324.4,500.3 322,497.7 319.8,494.6 317.6,491 315.6,487.1 313.7,482.8 311.9,478.1 310.3,473.1 308.9,467.8 307.6,462.3 306.5,456.5 305.6,450.5 304.9,444.4 304.4,438.2 304.1,431.9 304,425.5 304.1,419.1 304.4,412.8 304.9,406.6 305.6,400.5 306.5,394.5 307.6,388.7 308.9,383.2 310.3,377.9 311.9,372.9 313.7,368.2 315.6,363.9 317.6,360 319.8,356.4 322,353.3 324.4,350.7 326.8,348.5 329.3,346.7 331.8,345.5 334.4,344.7 337,344.5 395,344.5 396.4,344.7 397.8,345.5 399.2,346.7 400.6,348.5 401.9,350.7 403.2,353.3 404.4,356.4 405.6,360 406.7,363.9 407.7,368.2 408.7,372.9 409.6,377.9 410.3,383.2 411,388.7 411.6,394.5 412.1,400.5 412.5,406.6 412.8,412.8 412.9,419.1 413,425.5 412.9,431.9 412.8,438.2 412.5,444.4 412.1,450.5 411.6,456.5 411,462.3 410.3,467.8 409.6,473.1 408.7,478.1 407.7,482.8 406.7,487.1 405.6,491 404.4,494.6 403.2,497.7 401.9,500.3 400.6,502.5 399.2,504.3 397.8,505.5 396.4,506.3 395,506.5Z" fill="none" stroke="#000" stroke-width="1.8" />
<path d="M337,344.5 339.6,344.7 342.2,345.5 344.7,346.7 347.2,348.5 349.6,350.7 352,353.3 354.2,356.4 356.4,360 358.4,363.9 360.3,368.2 362.1,372.9 363.7,377.9 365.1,383.2 366.4,388.7 367.5,394.5 368.4,400.5 369.1,406.6 369.6,412.8 369.9,419.1 370,425.5 369.9,431.9 369.6,438.2 369.1,444.4 368.4,450.5 367.5,456.5 366.4,462.3 365.1,467.8 363.7,473.1 362.1,478.1 360.3,482.8 358.4,487.1 356.4,491 354.2,494.6 352,497.7 349.6,500.3 347.2,502.5 344.7,504.3 342.2,505.5 339.6,506.3 337,506.5" fill="none" stroke="#000" stroke-width="2.2" />
<path d="M337,347.7 339,348.3 341.1,349.4 343.1,350.9 345.1,352.8 347.1,355.1 348.9,357.8 350.7,360.9 352.4,364.4 354,368.2 355.5,372.3 356.9,376.7 358.1,381.4 359.2,386.4 360.2,391.6 361.1,396.9 361.7,402.4 362.3,408.1 362.7,413.8 362.9,419.7 363,425.5 362.9,431.3 362.7,437.2 362.3,442.9 361.7,448.6 361.1,454.1 360.2,459.4 359.2,464.6 358.1,469.6 356.9,474.3 355.5,478.7 354,482.8 352.4,486.6 350.7,490.1 348.9,493.2 347.1,495.9 345.1,498.2 343.1,500.1 341.1,501.6 339,502.7 337,503.3" fill="none" stroke="#000" stroke-width="1.6" />
<rect x="301.0" y="346.7" width="43.4" height="5.6" rx="2.8" fill="#fff" stroke="#000" stroke-width="2.0"/>
<rect x="310.7" y="356.2" width="40.3" height="5.6" rx="2.8" fill="#fff" stroke="#000" stroke-width="2.0"/>
<rect x="316.6" y="365.7" width="38.4" height="5.6" rx="2.8" fill="#fff" stroke="#000" stroke-width="2.0"/>
<rect x="320.7" y="375.2" width="37.0" height="5.6" rx="2.8" fill="#fff" stroke="#000" stroke-width="2.0"/>
<rect x="323.7" y="384.7" width="36.1" height="5.6" rx="2.8" fill="#fff" stroke="#000" stroke-width="2.0"/>
<rect x="325.9" y="394.2" width="35.4" height="5.6" rx="2.8" fill="#fff" stroke="#000" stroke-width="2.0"/>
<rect x="327.4" y="403.7" width="34.9" height="5.6" rx="2.8" fill="#fff" stroke="#000" stroke-width="2.0"/>
<rect x="328.2" y="413.2" width="34.6" height="5.6" rx="2.8" fill="#fff" stroke="#000" stroke-width="2.0"/>
<rect x="328.5" y="422.7" width="34.5" height="5.6" rx="2.8" fill="#fff" stroke="#000" stroke-width="2.0"/>
<rect x="328.2" y="432.2" width="34.6" height="5.6" rx="2.8" fill="#fff" stroke="#000" stroke-width="2.0"/>
<rect x="327.4" y="441.7" width="34.9" height="5.6" rx="2.8" fill="#fff" stroke="#000" stroke-width="2.0"/>
<rect x="325.9" y="451.2" width="35.4" height="5.6" rx="2.8" fill="#fff" stroke="#000" stroke-width="2.0"/>
<rect x="323.7" y="460.7" width="36.1" height="5.6" rx="2.8" fill="#fff" stroke="#000" stroke-width="2.0"/>
<rect x="320.7" y="470.2" width="37.0" height="5.6" rx="2.8" fill="#fff" stroke="#000" stroke-width="2.0"/>
<rect x="316.6" y="479.7" width="38.4" height="5.6" rx="2.8" fill="#fff" stroke="#000" stroke-width="2.0"/>
<rect x="310.7" y="489.2" width="40.3" height="5.6" rx="2.8" fill="#fff" stroke="#000" stroke-width="2.0"/>
<rect x="301.0" y="498.7" width="43.4" height="5.6" rx="2.8" fill="#fff" stroke="#000" stroke-width="2.0"/>
<path d="M334.5,425.5 335,426.4 336.4,427.3 338.3,428.3 340.1,429.2 341.2,430.2 341.4,431.1 340.5,432 338.8,432.9 336.8,433.7 335.2,434.6 334.3,435.4 334.4,436.3 335.5,437.3 337.2,438.3 339,439.4 340.3,440.4 340.8,441.4 340.2,442.3 338.7,443.1 336.7,443.8 334.8,444.5 333.6,445.3 333.3,446.2 334,447.2 335.5,448.3 337.3,449.5 338.8,450.6 339.5,451.7 339.2,452.6 337.9,453.3 336,454 333.9,454.5 332.4,455.2 331.7,456 332.1,457 333.3,458.1 334.9,459.4 336.5,460.7 337.4,461.9 337.4,462.8 336.3,463.5 334.5,464.1 332.4,464.5 330.6,465 329.6,465.6 329.5,466.6 330.4,467.7 331.8,469.1 333.4,470.5 334.5,471.9 334.7,472.9 333.9,473.7 332.3,474.1 330.2,474.4 328.2,474.7 326.8,475.2 326.3,476 326.8,477.1 328,478.5 329.4,480.1 330.6,481.6 331,482.8 330.5,483.6 329,484.1 327,484.2 324.9,484.3 323.2,484.5 322.4,485.1 322.4,486.1 323.3,487.6 324.5,489.3 325.6,491 326.1,492.4 325.8,493.3 324.5,493.7 322.6,493.7 320.5,493.5 318.6,493.4 317.4,493.6 317,494.5 317.4,495.9 318.3,497.7 319.2,499.6 319.6,501.3 319.4,502.4 318.3,502.9 316.6,502.7 314.5,502.1 312.6,501.5 311.1,501.3 310.3,501.8 310.2,503 310.5,504.9 310.9,507 311,509 310.6,510.3 309.6,510.7 308,510.3 306.2,509.3 304.5,508.1 303,507.2 302,507 301.3,507.8 300.8,509.5 300.4,511.6 299.7,513.6 298.7,514.9 297.6,515.3 296.3,514.5 295.1,513 294,511 293.1,509.4 292.2,508.4 291.3,508.5 290.2,509.4 288.8,511 287.3,512.5 285.7,513.5 284.5,513.6 283.6,512.6 283.2,510.9 283.1,508.7 283.1,506.7 282.9,505.2 282.2,504.6 281,504.7 279.3,505.5 277.3,506.4 275.4,507 274.1,506.9 273.4,506.1 273.5,504.5 274,502.5 274.7,500.6 275.1,498.9 274.9,497.9 273.9,497.5 272.3,497.7 270.2,498.1 268.2,498.4 266.7,498.3 265.9,497.5 266.1,496.2 266.9,494.5 268,492.7 268.9,491.1 269.2,489.8 268.6,489.1 267.1,488.9 265.1,489 263,489 261.3,488.8 260.4,488.2 260.4,487.1 261.3,485.6 262.6,483.9 263.8,482.4 264.5,481.1 264.3,480.2 263.2,479.6 261.3,479.4 259.2,479.2 257.4,478.9 256.2,478.3 256.1,477.4 256.8,476.1 258.2,474.6 259.7,473.2 260.8,471.8 261,470.8 260.2,470.1 258.6,469.7 256.5,469.3 254.6,468.9 253.2,468.3 252.8,467.4 253.4,466.3 254.7,465 256.3,463.6 257.7,462.3 258.3,461.3 258,460.4 256.7,459.8 254.7,459.3 252.7,458.7 251.1,458.1 250.4,457.3 250.8,456.3 252,455.1 253.7,453.8 255.3,452.6 256.3,451.6 256.3,450.6 255.3,449.9 253.6,449.2 251.6,448.6 249.8,447.9 248.9,447 248.9,446.1 250,445 251.6,443.9 253.4,442.8 254.7,441.7 255.2,440.8 254.6,439.9 253.1,439.2 251.2,438.4 249.3,437.6 248.1,436.7 247.9,435.8 248.7,434.8 250.2,433.8 252.1,432.8 253.7,431.8 254.5,430.9 254.3,430 253.1,429.1 251.3,428.3 249.4,427.4 248,426.4 247.5,425.5 248,424.6 249.4,423.6 251.3,422.7 253.1,421.9 254.3,421 254.5,420.1 253.7,419.2 252.1,418.2 250.2,417.2 248.7,416.2 247.9,415.2 248.1,414.3 249.3,413.4 251.2,412.6 253.1,411.8 254.6,411.1 255.2,410.2 254.7,409.3 253.4,408.2 251.6,407.1 250,406 248.9,404.9 248.9,404 249.8,403.1 251.6,402.4 253.6,401.8 255.3,401.1 256.3,400.4 256.3,399.4 255.3,398.4 253.7,397.2 252,395.9 250.8,394.7 250.4,393.7 251.1,392.9 252.7,392.3 254.7,391.7 256.7,391.2 258,390.6 258.3,389.7 257.7,388.7 256.3,387.4 254.7,386 253.4,384.7 252.8,383.6 253.2,382.7 254.6,382.1 256.5,381.7 258.6,381.3 260.2,380.9 261,380.2 260.8,379.2 259.7,377.8 258.2,376.4 256.8,374.9 256.1,373.6 256.2,372.7 257.4,372.1 259.2,371.8 261.3,371.6 263.2,371.4 264.3,370.8 264.5,369.9 263.8,368.6 262.6,367.1 261.3,365.4 260.4,363.9 260.4,362.8 261.3,362.2 263,362 265.1,362 267.1,362.1 268.6,361.9 269.2,361.2 268.9,359.9 268,358.3 266.9,356.5 266.1,354.8 265.9,353.5 266.7,352.7 268.2,352.6 270.2,352.9 272.3,353.3 273.9,353.5 274.9,353.1 275.1,352.1 274.7,350.4 274,348.5 273.5,346.5 273.4,344.9 274.1,344.1 275.4,344 277.3,344.6 279.3,345.5 281,346.3 282.2,346.4 282.9,345.8 283.1,344.3 283.1,342.3 283.2,340.1 283.6,338.4 284.5,337.4 285.7,337.5 287.3,338.5 288.8,340 290.2,341.6 291.3,342.5 292.2,342.6 293.1,341.6 294,340 295.1,338 296.3,336.5 297.6,335.7 298.7,336.1 299.7,337.4 300.4,339.4 300.8,341.5 301.3,343.2 302,344 303,343.8 304.5,342.9 306.2,341.7 308,340.7 309.6,340.3 310.6,340.7 311,342 310.9,344 310.5,346.1 310.2,348 310.3,349.2 311.1,349.7 312.6,349.5 314.5,348.9 316.6,348.3 318.3,348.1 319.4,348.6 319.6,349.7 319.2,351.4 318.3,353.3 317.4,355.1 317,356.5 317.4,357.4 318.6,357.6 320.5,357.5 322.6,357.3 324.5,357.3 325.8,357.7 326.1,358.6 325.6,360 324.5,361.7 323.3,363.4 322.4,364.9 322.4,365.9 323.2,366.5 324.9,366.7 327,366.8 329,366.9 330.5,367.4 331,368.2 330.6,369.4 329.4,370.9 328,372.5 326.8,373.9 326.3,375 326.8,375.8 328.2,376.3 330.2,376.6 332.3,376.9 333.9,377.3 334.7,378.1 334.5,379.1 333.4,380.5 331.8,381.9 330.4,383.3 329.5,384.4 329.6,385.4 330.6,386 332.4,386.5 334.5,386.9 336.3,387.5 337.4,388.2 337.4,389.1 336.5,390.3 334.9,391.6 333.3,392.9 332.1,394 331.7,395 332.4,395.8 333.9,396.5 336,397 337.9,397.7 339.2,398.4 339.5,399.3 338.8,400.4 337.3,401.5 335.5,402.7 334,403.8 333.3,404.8 333.6,405.7 334.8,406.5 336.7,407.2 338.7,407.9 340.2,408.7 340.8,409.6 340.3,410.6 339,411.6 337.2,412.7 335.5,413.7 334.4,414.7 334.3,415.6 335.2,416.4 336.8,417.3 338.8,418.1 340.5,419 341.4,419.9 341.2,420.8 340.1,421.8 338.3,422.7 336.4,423.7 335,424.6 334.5,425.5Z" fill="#fff" stroke="#000" stroke-width="1.6" />
<ellipse cx="296.5" cy="427.5" rx="34.0" ry="75.0" fill="none" stroke="#000" stroke-width="2.6" />
<ellipse cx="298.5" cy="427.5" rx="31.0" ry="71.0" fill="none" stroke="#000" stroke-width="1.0" />
<ellipse cx="300.0" cy="427.0" rx="19.8" ry="38.0" fill="#fff" stroke="#000" stroke-width="1.8" />
<path d="M303.4,389.6 304.8,390.1 306.1,390.9 307.4,391.8 308.7,392.8 309.9,394.1 311.1,395.5 312.2,397.1 313.2,398.8 314.2,400.6 315.2,402.6 316,404.7 316.8,406.9 317.5,409.2 318.1,411.5 318.6,414 319,416.5 319.4,419.1 319.6,421.7 319.8,424.3 319.8,427 319.8,429.7 319.6,432.3 319.4,434.9 319,437.5 318.6,440 318.1,442.5 317.5,444.8 316.8,447.1 316,449.3 315.2,451.4 314.2,453.4 313.2,455.2 312.2,456.9 311.1,458.5 309.9,459.9 308.7,461.2 307.4,462.2 306.1,463.1 304.8,463.9 303.4,464.4 299,461.5 300.1,461 301.3,460.3 302.4,459.5 303.5,458.5 304.5,457.3 305.5,456 306.5,454.6 307.4,453 308.2,451.3 309,449.5 309.8,447.6 310.4,445.5 311,443.4 311.5,441.2 312,439 312.3,436.6 312.6,434.3 312.8,431.9 313,429.4 313,427 313,424.6 312.8,422.1 312.6,419.7 312.3,417.4 312,415 311.5,412.8 311,410.6 310.4,408.5 309.8,406.4 309,404.5 308.2,402.7 307.4,401 306.5,399.4 305.5,398 304.5,396.7 303.5,395.5 302.4,394.5 301.3,393.7 300.1,393 299,392.5Z" fill="#000" stroke="#000" stroke-width="0" />
<path d="M276.5,447.3 275.7,447.2 274.9,447 274.1,446.7 273.3,446.3 272.6,445.7 271.9,445 271.2,444.2 270.5,443.3 269.9,442.3 269.3,441.2 268.7,440 268.2,438.7 267.8,437.4 267.4,435.9 267.1,434.5 266.8,432.9 266.6,431.4 266.4,429.8 266.3,428.1 266.3,426.5 266.3,424.9 266.4,423.2 266.6,421.6 266.8,420.1 267.1,418.5 267.4,417.1 267.8,415.6 268.2,414.3 268.7,413 269.3,411.8 269.9,410.7 270.5,409.7 271.2,408.8 271.9,408 272.6,407.3 273.3,406.7 274.1,406.3 274.9,406 275.7,405.8 276.5,405.7 292.5,405.7 293.3,405.8 294.1,406 294.9,406.3 295.7,406.7 296.4,407.3 297.1,408 297.8,408.8 298.5,409.7 299.1,410.7 299.7,411.8 300.3,413 300.8,414.3 301.2,415.6 301.6,417.1 301.9,418.5 302.2,420.1 302.4,421.6 302.6,423.2 302.7,424.9 302.7,426.5 302.7,428.1 302.6,429.8 302.4,431.4 302.2,432.9 301.9,434.5 301.6,435.9 301.2,437.4 300.8,438.7 300.3,440 299.7,441.2 299.1,442.3 298.5,443.3 297.8,444.2 297.1,445 296.4,445.7 295.7,446.3 294.9,446.7 294.1,447 293.3,447.2 292.5,447.3Z" fill="#fff" stroke="#000" stroke-width="1.7" />
<clipPath id="k17"><path d="M292.5,405.7 293.3,405.8 294.1,406 294.9,406.3 295.7,406.7 296.4,407.3 297.1,408 297.8,408.8 298.5,409.7 299.1,410.7 299.7,411.8 300.3,413 300.8,414.3 301.2,415.6 301.6,417.1 301.9,418.5 302.2,420.1 302.4,421.6 302.6,423.2 302.7,424.9 302.7,426.5 302.7,428.1 302.6,429.8 302.4,431.4 302.2,432.9 301.9,434.5 301.6,435.9 301.2,437.4 300.8,438.7 300.3,440 299.7,441.2 299.1,442.3 298.5,443.3 297.8,444.2 297.1,445 296.4,445.7 295.7,446.3 294.9,446.7 294.1,447 293.3,447.2 292.5,447.3 276.5,447.3 277.3,447.2 278.1,447 278.9,446.7 279.7,446.3 280.4,445.7 281.1,445 281.8,444.2 282.5,443.3 283.1,442.3 283.7,441.2 284.3,440 284.8,438.7 285.2,437.4 285.6,435.9 285.9,434.5 286.2,432.9 286.4,431.4 286.6,429.8 286.7,428.1 286.7,426.5 286.7,424.9 286.6,423.2 286.4,421.6 286.2,420.1 285.9,418.5 285.6,417.1 285.2,415.6 284.8,414.3 284.3,413 283.7,411.8 283.1,410.7 282.5,409.7 281.8,408.8 281.1,408 280.4,407.3 279.7,406.7 278.9,406.3 278.1,406 277.3,405.8 276.5,405.7Z"/></clipPath><g clip-path="url(#k17)">
<rect x="276.5" y="405.7" width="30" height="7" fill="#000"/>
<rect x="276.5" y="440.3" width="30" height="7" fill="#000"/>
<line x1="281.5" y1="416.5" x2="300.5" y2="416.5" stroke="#000" stroke-width="1.1" />
<line x1="281.5" y1="422.5" x2="300.5" y2="422.5" stroke="#000" stroke-width="1.1" />
<line x1="281.5" y1="430.5" x2="300.5" y2="430.5" stroke="#000" stroke-width="1.1" />
<line x1="281.5" y1="436.5" x2="300.5" y2="436.5" stroke="#000" stroke-width="1.1" />
</g>
<ellipse cx="276.5" cy="426.5" rx="10.2" ry="20.8" fill="#fff" stroke="#000" stroke-width="1.8" />
<clipPath id="k18"><path d="M284.7,426.5 284.6,429.4 284.3,432.2 283.8,434.8 283.1,437.3 282.3,439.4 281.3,441.3 280.2,442.8 279,443.9 277.8,444.6 276.5,444.8 275.2,444.6 274,443.9 272.8,442.8 271.7,441.3 270.7,439.4 269.9,437.3 269.2,434.8 268.7,432.2 268.4,429.4 268.3,426.5 268.4,423.6 268.7,420.8 269.2,418.2 269.9,415.7 270.7,413.6 271.7,411.7 272.8,410.2 274,409.1 275.2,408.4 276.5,408.2 277.8,408.4 279,409.1 280.2,410.2 281.3,411.7 282.3,413.6 283.1,415.7 283.8,418.2 284.3,420.8 284.6,423.6 284.7,426.5Z"/></clipPath><g clip-path="url(#k18)">
<ellipse cx="276.5" cy="426.5" rx="8.2" ry="18.3" fill="#000" stroke="#000" stroke-width="0" />
<line x1="267.5" y1="413.5" x2="285.5" y2="413.5" stroke="#fff" stroke-width="2.0" />
<line x1="267.5" y1="418.7" x2="285.5" y2="418.7" stroke="#fff" stroke-width="2.0" />
<line x1="267.5" y1="423.9" x2="285.5" y2="423.9" stroke="#fff" stroke-width="2.0" />
<line x1="267.5" y1="429.1" x2="285.5" y2="429.1" stroke="#fff" stroke-width="2.0" />
<line x1="267.5" y1="434.3" x2="285.5" y2="434.3" stroke="#fff" stroke-width="2.0" />
<line x1="267.5" y1="439.5" x2="285.5" y2="439.5" stroke="#fff" stroke-width="2.0" />
</g>
<ellipse cx="436.5" cy="418.5" rx="28.0" ry="65.5" fill="#fff" stroke="#000" stroke-width="2.0" />
<clipPath id="k19"><path d="M464.5,418.5 464.2,428.7 463.1,438.7 461.4,448.2 459.2,457 456.3,464.8 453,471.5 449.2,476.9 445.2,480.8 440.9,483.2 436.5,484 432.1,483.2 427.8,480.8 423.8,476.9 420,471.5 416.7,464.8 413.8,457 411.6,448.2 409.9,438.7 408.8,428.7 408.5,418.5 408.8,408.3 409.9,398.3 411.6,388.8 413.8,380 416.7,372.2 420,365.5 423.8,360.1 427.8,356.2 432.1,353.8 436.5,353 440.9,353.8 445.2,356.2 449.2,360.1 453,365.5 456.3,372.2 459.2,380 461.4,388.8 463.1,398.3 464.2,408.3 464.5,418.5Z"/></clipPath><g clip-path="url(#k19)">
<ellipse cx="436.5" cy="418.5" rx="28.0" ry="65.5" fill="#000" stroke="#000" stroke-width="0" />
<ellipse cx="443.0" cy="420.5" rx="23.0" ry="55.5" fill="#fff" stroke="#000" stroke-width="0" />
</g>
<ellipse cx="436.5" cy="418.5" rx="28.0" ry="65.5" fill="none" stroke="#000" stroke-width="2.0" />
<path d="M442.8,356.9 444.5,357.9 446.2,359.1 447.9,360.6 449.5,362.3 451,364.4 452.5,366.7 453.9,369.2 455.2,372.1 456.5,375.1 457.7,378.3 458.7,381.8 459.7,385.4 460.6,389.2 461.3,393.1 462,397.1 462.5,401.3 463,405.5 463.3,409.8 463.4,414.1 463.5,418.5 463.4,422.9 463.3,427.2 463,431.5 462.5,435.7 462,439.9 461.3,443.9 460.6,447.8 459.7,451.6 458.7,455.2 457.7,458.7 456.5,461.9 455.2,464.9 453.9,467.8 452.5,470.3 451,472.6 449.5,474.7 447.9,476.4 446.2,477.9 444.5,479.1 442.8,480.1" fill="none" stroke="#000" stroke-width="2.6" />
<path d="M446.9,361 448.3,362.2 449.5,363.5 450.8,365.1 452,367 453.2,369 454.3,371.3 455.3,373.8 456.3,376.4 457.3,379.3 458.2,382.3 459,385.4 459.7,388.8 460.3,392.2 460.9,395.7 461.4,399.4 461.8,403.1 462.1,406.9 462.3,410.7 462.5,414.6 462.5,418.5 462.5,422.4 462.3,426.3 462.1,430.1 461.8,433.9 461.4,437.6 460.9,441.3 460.3,444.8 459.7,448.2 459,451.6 458.2,454.7 457.3,457.7 456.3,460.6 455.3,463.2 454.3,465.7 453.2,468 452,470 450.8,471.9 449.5,473.5 448.3,474.8 446.9,476" fill="none" stroke="#000" stroke-width="1.2" />
<ellipse cx="438.0" cy="362.0" rx="2.2" ry="4.2" fill="none" stroke="#000" stroke-width="1.2" />
<ellipse cx="444.0" cy="366.0" rx="2.2" ry="4.2" fill="none" stroke="#000" stroke-width="1.2" />
<ellipse cx="450.0" cy="470.0" rx="2.2" ry="4.2" fill="none" stroke="#000" stroke-width="1.2" />
<ellipse cx="441.0" cy="476.0" rx="2.2" ry="4.2" fill="none" stroke="#000" stroke-width="1.2" />
<path d="M439,465 438.1,463.9 437.2,462.6 436.4,461.2 435.6,459.5 434.8,457.8 434,455.9 433.3,453.8 432.6,451.6 432,449.3 431.4,446.9 430.9,444.4 430.4,441.7 429.9,439 429.6,436.2 429.2,433.4 429,430.5 428.8,427.5 428.6,424.5 428.5,421.5 428.5,418.5 428.5,415.5 428.6,412.5 428.8,409.5 429,406.5 429.2,403.6 429.6,400.8 429.9,398 430.4,395.3 430.9,392.6 431.4,390.1 432,387.7 432.6,385.4 433.3,383.2 434,381.1 434.8,379.2 435.6,377.5 436.4,375.8 437.2,374.4 438.1,373.1 439,372" fill="none" stroke="#000" stroke-width="1.0" />
<path d="M435.5,448 434.5,447.9 433.5,447.7 432.5,447.3 431.5,446.8 430.5,446.2 429.6,445.4 428.7,444.5 427.9,443.4 427.1,442.2 426.3,441 425.6,439.6 425,438.1 424.4,436.5 423.9,434.9 423.5,433.2 423.1,431.4 422.9,429.6 422.7,427.8 422.5,425.9 422.5,424 422.5,422.1 422.7,420.2 422.9,418.4 423.1,416.6 423.5,414.8 423.9,413.1 424.4,411.5 425,409.9 425.6,408.4 426.3,407 427.1,405.8 427.9,404.6 428.7,403.5 429.6,402.6 430.5,401.8 431.5,401.2 432.5,400.7 433.5,400.3 434.5,400.1 435.5,400 440.5,400 441.5,400.1 442.5,400.3 443.5,400.7 444.5,401.2 445.5,401.8 446.4,402.6 447.3,403.5 448.1,404.6 448.9,405.8 449.7,407 450.4,408.4 451,409.9 451.6,411.5 452.1,413.1 452.5,414.8 452.9,416.6 453.1,418.4 453.3,420.2 453.5,422.1 453.5,424 453.5,425.9 453.3,427.8 453.1,429.6 452.9,431.4 452.5,433.2 452.1,434.9 451.6,436.5 451,438.1 450.4,439.6 449.7,441 448.9,442.2 448.1,443.4 447.3,444.5 446.4,445.4 445.5,446.2 444.5,446.8 443.5,447.3 442.5,447.7 441.5,447.9 440.5,448Z" fill="#fff" stroke="#000" stroke-width="1.6" />
<clipPath id="k20"><path d="M440.5,400 441.5,400.1 442.5,400.3 443.5,400.7 444.5,401.2 445.5,401.8 446.4,402.6 447.3,403.5 448.1,404.6 448.9,405.8 449.7,407 450.4,408.4 451,409.9 451.6,411.5 452.1,413.1 452.5,414.8 452.9,416.6 453.1,418.4 453.3,420.2 453.5,422.1 453.5,424 453.5,425.9 453.3,427.8 453.1,429.6 452.9,431.4 452.5,433.2 452.1,434.9 451.6,436.5 451,438.1 450.4,439.6 449.7,441 448.9,442.2 448.1,443.4 447.3,444.5 446.4,445.4 445.5,446.2 444.5,446.8 443.5,447.3 442.5,447.7 441.5,447.9 440.5,448 435.5,448 436.5,447.9 437.5,447.7 438.5,447.3 439.5,446.8 440.5,446.2 441.4,445.4 442.3,444.5 443.1,443.4 443.9,442.2 444.7,441 445.4,439.6 446,438.1 446.6,436.5 447.1,434.9 447.5,433.2 447.9,431.4 448.1,429.6 448.3,427.8 448.5,425.9 448.5,424 448.5,422.1 448.3,420.2 448.1,418.4 447.9,416.6 447.5,414.8 447.1,413.1 446.6,411.5 446,409.9 445.4,408.4 444.7,407 443.9,405.8 443.1,404.6 442.3,403.5 441.4,402.6 440.5,401.8 439.5,401.2 438.5,400.7 437.5,400.3 436.5,400.1 435.5,400Z"/></clipPath><g clip-path="url(#k20)">
<path d="M440.5,400 441.5,400.1 442.5,400.3 443.5,400.7 444.5,401.2 445.5,401.8 446.4,402.6 447.3,403.5 448.1,404.6 448.9,405.8 449.7,407 450.4,408.4 451,409.9 451.6,411.5 452.1,413.1 452.5,414.8 452.9,416.6 453.1,418.4 453.3,420.2 453.5,422.1 453.5,424 453.5,425.9 453.3,427.8 453.1,429.6 452.9,431.4 452.5,433.2 452.1,434.9 451.6,436.5 451,438.1 450.4,439.6 449.7,441 448.9,442.2 448.1,443.4 447.3,444.5 446.4,445.4 445.5,446.2 444.5,446.8 443.5,447.3 442.5,447.7 441.5,447.9 440.5,448 435.5,448 436.5,447.9 437.5,447.7 438.5,447.3 439.5,446.8 440.5,446.2 441.4,445.4 442.3,444.5 443.1,443.4 443.9,442.2 444.7,441 445.4,439.6 446,438.1 446.6,436.5 447.1,434.9 447.5,433.2 447.9,431.4 448.1,429.6 448.3,427.8 448.5,425.9 448.5,424 448.5,422.1 448.3,420.2 448.1,418.4 447.9,416.6 447.5,414.8 447.1,413.1 446.6,411.5 446,409.9 445.4,408.4 444.7,407 443.9,405.8 443.1,404.6 442.3,403.5 441.4,402.6 440.5,401.8 439.5,401.2 438.5,400.7 437.5,400.3 436.5,400.1 435.5,400Z" fill="#000" stroke="#000" stroke-width="0" />
<line x1="443.5" y1="416.0" x2="453.5" y2="416.0" stroke="#fff" stroke-width="1.0" />
<line x1="443.5" y1="424.0" x2="453.5" y2="424.0" stroke="#fff" stroke-width="1.0" />
<line x1="443.5" y1="432.0" x2="453.5" y2="432.0" stroke="#fff" stroke-width="1.0" />
</g>
<ellipse cx="435.5" cy="424.0" rx="13.0" ry="24.0" fill="#fff" stroke="#000" stroke-width="1.7" />
<ellipse cx="433.5" cy="424.0" rx="7.4" ry="18.4" fill="none" stroke="#000" stroke-width="1.6" />
<ellipse cx="434.5" cy="424.0" rx="5.0" ry="14.0" fill="none" stroke="#000" stroke-width="1.0" />
<path d="M538.4,347.1 538.9,346.1 539.3,344.1 540.2,342.1 541.7,341 543.3,341.5 544.5,343.3 545,345.4 545.3,346.9 546.2,347.3 547.8,346.8 549.8,346.2 551.6,346.1 552.4,346.9 552.2,348.5 551.3,350.3 550.5,351.9 550.7,352.9 551.9,353.3 553.9,353.3 555.8,353.4 556.9,354 556.7,355.2 555.6,356.7 554.3,358.3 553.8,359.5 554.5,360.2 556.2,360.5 558.2,360.8 559.6,361.3 559.8,362.3 558.8,363.6 557.4,365 556.3,366.3 556.4,367.2 557.7,367.7 559.7,368.2 561.4,368.7 562.1,369.5 561.4,370.6 560,371.9 558.5,373.2 558.1,374.2 558.9,375 560.7,375.5 562.6,376.1 563.7,376.8 563.5,377.8 562.2,379 560.5,380.2 559.6,381.3 559.8,382.2 561.3,382.9 563.2,383.5 564.7,384.2 565,385.1 564,386.2 562.4,387.3 561,388.4 560.6,389.4 561.6,390.2 563.5,390.9 565.2,391.6 566,392.4 565.5,393.4 564,394.5 562.3,395.6 561.4,396.6 561.9,397.4 563.5,398.2 565.3,399 566.6,399.8 566.6,400.7 565.3,401.7 563.6,402.8 562.2,403.8 562.1,404.7 563.3,405.5 565.1,406.3 566.7,407.2 567.2,408.1 566.4,409 564.7,410 563,411 562.4,411.9 563,412.8 564.7,413.7 566.4,414.5 567.4,415.4 567.1,416.4 565.6,417.3 563.8,418.2 562.6,419.1 562.7,420 564,421 565.8,421.9 567.2,422.8 567.4,423.7 566.3,424.6 564.5,425.5 562.9,426.4 562.4,427.3 563.3,428.2 565,429.2 566.6,430.1 567.3,431.1 566.6,432 565,432.8 563.2,433.7 562.2,434.5 562.5,435.4 563.9,436.4 565.6,437.5 566.8,438.4 566.6,439.4 565.3,440.2 563.4,441 561.9,441.8 561.7,442.6 562.7,443.6 564.4,444.7 565.8,445.8 566.2,446.7 565.3,447.6 563.4,448.3 561.7,449 560.8,449.8 561.3,450.8 562.8,451.9 564.5,453 565.3,454.1 564.8,455 563.3,455.7 561.3,456.3 560,457 559.9,457.9 561.1,459 562.7,460.2 563.9,461.4 564,462.3 562.7,463.1 560.8,463.6 559.1,464.2 558.5,465 559.1,466.1 560.6,467.3 562,468.6 562.5,469.7 561.7,470.5 560,471 558,471.4 556.8,472.1 556.9,473 558.1,474.3 559.6,475.7 560.5,476.9 560.1,477.8 558.6,478.3 556.6,478.7 555,479.1 554.5,479.9 555.2,481.1 556.5,482.6 557.6,484.1 557.7,485.2 556.5,485.7 554.5,485.9 552.6,486 551.5,486.5 551.6,487.5 552.5,489.2 553.5,490.9 553.8,492.4 552.9,493.1 551.1,493 549,492.6 547.5,492.5 546.9,493.1 546.9,494.7 546.9,496.9 546.4,498.7 545,499.5 543.2,498.8 541.8,497.1 540.8,495.4 540.1,494.7 538.9,495.1 537.1,496 524.1,493.9 522.6,492.8 521,491.4 519.6,489.6 518.1,487.5 516.8,485 515.4,482.3 514.1,479.2 512.9,475.9 511.8,472.3 510.8,468.4 509.8,464.3 508.9,460 508.1,455.5 507.4,450.8 506.9,446 506.4,441 506,436 505.7,430.9 505.6,425.7 505.5,420.5 505.6,415.3 505.7,410.1 506,405 506.4,400 506.9,395 507.4,390.2 508.1,385.5 508.9,381 509.8,376.7 510.8,372.6 511.8,368.7 512.9,365.1 514.1,361.8 515.4,358.7 516.8,356 518.1,353.5 519.6,351.4 521,349.6 522.6,348.2 524.1,347.1Z" fill="#fff" stroke="#000" stroke-width="0" />
<clipPath id="k21"><path d="M538.4,347.1 538.9,346.1 539.3,344.1 540.2,342.1 541.7,341 543.3,341.5 544.5,343.3 545,345.4 545.3,346.9 546.2,347.3 547.8,346.8 549.8,346.2 551.6,346.1 552.4,346.9 552.2,348.5 551.3,350.3 550.5,351.9 550.7,352.9 551.9,353.3 553.9,353.3 555.8,353.4 556.9,354 556.7,355.2 555.6,356.7 554.3,358.3 553.8,359.5 554.5,360.2 556.2,360.5 558.2,360.8 559.6,361.3 559.8,362.3 558.8,363.6 557.4,365 556.3,366.3 556.4,367.2 557.7,367.7 559.7,368.2 561.4,368.7 562.1,369.5 561.4,370.6 560,371.9 558.5,373.2 558.1,374.2 558.9,375 560.7,375.5 562.6,376.1 563.7,376.8 563.5,377.8 562.2,379 560.5,380.2 559.6,381.3 559.8,382.2 561.3,382.9 563.2,383.5 564.7,384.2 565,385.1 564,386.2 562.4,387.3 561,388.4 560.6,389.4 561.6,390.2 563.5,390.9 565.2,391.6 566,392.4 565.5,393.4 564,394.5 562.3,395.6 561.4,396.6 561.9,397.4 563.5,398.2 565.3,399 566.6,399.8 566.6,400.7 565.3,401.7 563.6,402.8 562.2,403.8 562.1,404.7 563.3,405.5 565.1,406.3 566.7,407.2 567.2,408.1 566.4,409 564.7,410 563,411 562.4,411.9 563,412.8 564.7,413.7 566.4,414.5 567.4,415.4 567.1,416.4 565.6,417.3 563.8,418.2 562.6,419.1 562.7,420 564,421 565.8,421.9 567.2,422.8 567.4,423.7 566.3,424.6 564.5,425.5 562.9,426.4 562.4,427.3 563.3,428.2 565,429.2 566.6,430.1 567.3,431.1 566.6,432 565,432.8 563.2,433.7 562.2,434.5 562.5,435.4 563.9,436.4 565.6,437.5 566.8,438.4 566.6,439.4 565.3,440.2 563.4,441 561.9,441.8 561.7,442.6 562.7,443.6 564.4,444.7 565.8,445.8 566.2,446.7 565.3,447.6 563.4,448.3 561.7,449 560.8,449.8 561.3,450.8 562.8,451.9 564.5,453 565.3,454.1 564.8,455 563.3,455.7 561.3,456.3 560,457 559.9,457.9 561.1,459 562.7,460.2 563.9,461.4 564,462.3 562.7,463.1 560.8,463.6 559.1,464.2 558.5,465 559.1,466.1 560.6,467.3 562,468.6 562.5,469.7 561.7,470.5 560,471 558,471.4 556.8,472.1 556.9,473 558.1,474.3 559.6,475.7 560.5,476.9 560.1,477.8 558.6,478.3 556.6,478.7 555,479.1 554.5,479.9 555.2,481.1 556.5,482.6 557.6,484.1 557.7,485.2 556.5,485.7 554.5,485.9 552.6,486 551.5,486.5 551.6,487.5 552.5,489.2 553.5,490.9 553.8,492.4 552.9,493.1 551.1,493 549,492.6 547.5,492.5 546.9,493.1 546.9,494.7 546.9,496.9 546.4,498.7 545,499.5 543.2,498.8 541.8,497.1 540.8,495.4 540.1,494.7 538.9,495.1 537.1,496 524.1,493.9 522.6,492.8 521,491.4 519.6,489.6 518.1,487.5 516.8,485 515.4,482.3 514.1,479.2 512.9,475.9 511.8,472.3 510.8,468.4 509.8,464.3 508.9,460 508.1,455.5 507.4,450.8 506.9,446 506.4,441 506,436 505.7,430.9 505.6,425.7 505.5,420.5 505.6,415.3 505.7,410.1 506,405 506.4,400 506.9,395 507.4,390.2 508.1,385.5 508.9,381 509.8,376.7 510.8,372.6 511.8,368.7 512.9,365.1 514.1,361.8 515.4,358.7 516.8,356 518.1,353.5 519.6,351.4 521,349.6 522.6,348.2 524.1,347.1Z"/></clipPath><g clip-path="url(#k21)">
<line x1="505.0" y1="346.0" x2="536.0" y2="346.0" stroke="#000" stroke-width="1.3169136649484452" />
<line x1="505.0" y1="348.9" x2="541.7" y2="348.9" stroke="#000" stroke-width="1.3882883993607764" />
<line x1="505.0" y1="351.8" x2="544.0" y2="351.8" stroke="#000" stroke-width="1.350171575963399" />
<line x1="505.0" y1="354.8" x2="545.6" y2="354.8" stroke="#000" stroke-width="1.368055552270354" />
<line x1="505.0" y1="357.7" x2="547.0" y2="357.7" stroke="#000" stroke-width="1.3457094379699377" />
<line x1="505.0" y1="360.6" x2="548.2" y2="360.6" stroke="#000" stroke-width="1.4946234958365625" />
<line x1="505.0" y1="363.5" x2="549.2" y2="363.5" stroke="#000" stroke-width="1.255313229134047" />
<line x1="505.0" y1="366.5" x2="550.1" y2="366.5" stroke="#000" stroke-width="1.4809975544620904" />
<line x1="505.0" y1="369.4" x2="550.9" y2="369.4" stroke="#000" stroke-width="1.106077024176407" />
<line x1="505.0" y1="372.3" x2="551.6" y2="372.3" stroke="#000" stroke-width="1.2812262228797875" />
<line x1="505.0" y1="375.2" x2="552.3" y2="375.2" stroke="#000" stroke-width="1.3010380104186314" />
<line x1="505.0" y1="378.1" x2="552.9" y2="378.1" stroke="#000" stroke-width="1.1851703105197005" />
<line x1="505.0" y1="381.1" x2="553.4" y2="381.1" stroke="#000" stroke-width="1.5460485500191505" />
<line x1="505.0" y1="384.0" x2="553.9" y2="384.0" stroke="#000" stroke-width="1.2860649512209672" />
<line x1="505.0" y1="386.9" x2="554.3" y2="386.9" stroke="#000" stroke-width="1.5735451961473406" />
<line x1="505.0" y1="389.8" x2="554.7" y2="389.8" stroke="#000" stroke-width="1.6737230223542072" />
<line x1="505.0" y1="392.7" x2="555.0" y2="392.7" stroke="#000" stroke-width="1.2521036029772756" />
<line x1="505.0" y1="395.7" x2="555.3" y2="395.7" stroke="#000" stroke-width="1.5845820945771698" />
<line x1="505.0" y1="422.0" x2="556.5" y2="422.0" stroke="#000" stroke-width="1.3086683265609718" />
<line x1="505.0" y1="430.7" x2="556.3" y2="430.7" stroke="#000" stroke-width="1.275813197696606" />
<line x1="505.0" y1="436.6" x2="556.0" y2="436.6" stroke="#000" stroke-width="1.5995423406359943" />
<line x1="505.0" y1="439.5" x2="555.8" y2="439.5" stroke="#000" stroke-width="1.4140236006963316" />
<line x1="505.0" y1="448.3" x2="555.0" y2="448.3" stroke="#000" stroke-width="1.2825428500014897" />
<line x1="505.0" y1="451.2" x2="554.7" y2="451.2" stroke="#000" stroke-width="1.3765293901574502" />
<line x1="505.0" y1="454.1" x2="554.3" y2="454.1" stroke="#000" stroke-width="1.1394391707968239" />
<line x1="505.0" y1="457.0" x2="553.9" y2="457.0" stroke="#000" stroke-width="1.5195711321335457" />
<line x1="505.0" y1="459.9" x2="553.4" y2="459.9" stroke="#000" stroke-width="1.536729475184359" />
<line x1="505.0" y1="462.9" x2="552.9" y2="462.9" stroke="#000" stroke-width="1.1078406666746705" />
<line x1="505.0" y1="465.8" x2="552.3" y2="465.8" stroke="#000" stroke-width="1.6054570266498276" />
<line x1="505.0" y1="468.7" x2="551.6" y2="468.7" stroke="#000" stroke-width="1.3949191541104968" />
<line x1="505.0" y1="471.6" x2="550.9" y2="471.6" stroke="#000" stroke-width="1.6512592412824296" />
<line x1="505.0" y1="474.5" x2="550.1" y2="474.5" stroke="#000" stroke-width="1.3850469337359064" />
<line x1="505.0" y1="477.5" x2="549.2" y2="477.5" stroke="#000" stroke-width="1.5774429684412778" />
<line x1="505.0" y1="480.4" x2="548.2" y2="480.4" stroke="#000" stroke-width="1.3725598476810488" />
<line x1="505.0" y1="483.3" x2="547.0" y2="483.3" stroke="#000" stroke-width="1.467816387466283" />
<line x1="505.0" y1="486.2" x2="545.6" y2="486.2" stroke="#000" stroke-width="1.3995394408151793" />
<line x1="505.0" y1="489.2" x2="544.0" y2="489.2" stroke="#000" stroke-width="1.1136525644425326" />
<line x1="505.0" y1="492.1" x2="541.7" y2="492.1" stroke="#000" stroke-width="1.1863694535512341" />
<line x1="505.0" y1="495.0" x2="536.0" y2="495.0" stroke="#000" stroke-width="1.2393569406249818" />
</g>
<path d="M538.4,347.1 538.9,346.1 539.3,344.1 540.2,342.1 541.7,341 543.3,341.5 544.5,343.3 545,345.4 545.3,346.9 546.2,347.3 547.8,346.8 549.8,346.2 551.6,346.1 552.4,346.9 552.2,348.5 551.3,350.3 550.5,351.9 550.7,352.9 551.9,353.3 553.9,353.3 555.8,353.4 556.9,354 556.7,355.2 555.6,356.7 554.3,358.3 553.8,359.5 554.5,360.2 556.2,360.5 558.2,360.8 559.6,361.3 559.8,362.3 558.8,363.6 557.4,365 556.3,366.3 556.4,367.2 557.7,367.7 559.7,368.2 561.4,368.7 562.1,369.5 561.4,370.6 560,371.9 558.5,373.2 558.1,374.2 558.9,375 560.7,375.5 562.6,376.1 563.7,376.8 563.5,377.8 562.2,379 560.5,380.2 559.6,381.3 559.8,382.2 561.3,382.9 563.2,383.5 564.7,384.2 565,385.1 564,386.2 562.4,387.3 561,388.4 560.6,389.4 561.6,390.2 563.5,390.9 565.2,391.6 566,392.4 565.5,393.4 564,394.5 562.3,395.6 561.4,396.6 561.9,397.4 563.5,398.2 565.3,399 566.6,399.8 566.6,400.7 565.3,401.7 563.6,402.8 562.2,403.8 562.1,404.7 563.3,405.5 565.1,406.3 566.7,407.2 567.2,408.1 566.4,409 564.7,410 563,411 562.4,411.9 563,412.8 564.7,413.7 566.4,414.5 567.4,415.4 567.1,416.4 565.6,417.3 563.8,418.2 562.6,419.1 562.7,420 564,421 565.8,421.9 567.2,422.8 567.4,423.7 566.3,424.6 564.5,425.5 562.9,426.4 562.4,427.3 563.3,428.2 565,429.2 566.6,430.1 567.3,431.1 566.6,432 565,432.8 563.2,433.7 562.2,434.5 562.5,435.4 563.9,436.4 565.6,437.5 566.8,438.4 566.6,439.4 565.3,440.2 563.4,441 561.9,441.8 561.7,442.6 562.7,443.6 564.4,444.7 565.8,445.8 566.2,446.7 565.3,447.6 563.4,448.3 561.7,449 560.8,449.8 561.3,450.8 562.8,451.9 564.5,453 565.3,454.1 564.8,455 563.3,455.7 561.3,456.3 560,457 559.9,457.9 561.1,459 562.7,460.2 563.9,461.4 564,462.3 562.7,463.1 560.8,463.6 559.1,464.2 558.5,465 559.1,466.1 560.6,467.3 562,468.6 562.5,469.7 561.7,470.5 560,471 558,471.4 556.8,472.1 556.9,473 558.1,474.3 559.6,475.7 560.5,476.9 560.1,477.8 558.6,478.3 556.6,478.7 555,479.1 554.5,479.9 555.2,481.1 556.5,482.6 557.6,484.1 557.7,485.2 556.5,485.7 554.5,485.9 552.6,486 551.5,486.5 551.6,487.5 552.5,489.2 553.5,490.9 553.8,492.4 552.9,493.1 551.1,493 549,492.6 547.5,492.5 546.9,493.1 546.9,494.7 546.9,496.9 546.4,498.7 545,499.5 543.2,498.8 541.8,497.1 540.8,495.4 540.1,494.7 538.9,495.1 537.1,496" fill="none" stroke="#000" stroke-width="1.9" />
<line x1="545.6" y1="352.8" x2="553.6" y2="352.8" stroke="#000" stroke-width="1.3" />
<line x1="548.9" y1="359.9" x2="556.9" y2="359.9" stroke="#000" stroke-width="1.3" />
<line x1="551.3" y1="367.0" x2="559.3" y2="367.0" stroke="#000" stroke-width="1.3" />
<line x1="553.1" y1="374.4" x2="561.1" y2="374.4" stroke="#000" stroke-width="1.3" />
<line x1="554.6" y1="382.1" x2="562.6" y2="382.1" stroke="#000" stroke-width="1.3" />
<line x1="555.6" y1="389.3" x2="563.6" y2="389.3" stroke="#000" stroke-width="1.3" />
<line x1="556.4" y1="396.9" x2="564.4" y2="396.9" stroke="#000" stroke-width="1.3" />
<line x1="557.0" y1="404.8" x2="565.0" y2="404.8" stroke="#000" stroke-width="1.3" />
<line x1="557.4" y1="412.3" x2="565.4" y2="412.3" stroke="#000" stroke-width="1.3" />
<line x1="557.5" y1="419.9" x2="565.5" y2="419.9" stroke="#000" stroke-width="1.3" />
<line x1="557.4" y1="427.5" x2="565.4" y2="427.5" stroke="#000" stroke-width="1.3" />
<line x1="557.1" y1="435.0" x2="565.1" y2="435.0" stroke="#000" stroke-width="1.3" />
<line x1="556.6" y1="442.4" x2="564.6" y2="442.4" stroke="#000" stroke-width="1.3" />
<line x1="555.8" y1="450.1" x2="563.8" y2="450.1" stroke="#000" stroke-width="1.3" />
<line x1="554.8" y1="457.4" x2="562.8" y2="457.4" stroke="#000" stroke-width="1.3" />
<line x1="553.4" y1="465.2" x2="561.4" y2="465.2" stroke="#000" stroke-width="1.3" />
<line x1="551.7" y1="472.3" x2="559.7" y2="472.3" stroke="#000" stroke-width="1.3" />
<line x1="549.4" y1="479.7" x2="557.4" y2="479.7" stroke="#000" stroke-width="1.3" />
<line x1="546.4" y1="486.6" x2="554.4" y2="486.6" stroke="#000" stroke-width="1.3" />
<line x1="541.9" y1="492.8" x2="549.9" y2="492.8" stroke="#000" stroke-width="1.3" />
<path d="M495.9,349 498,349.4 500.1,350.3 502.1,351.5 504.1,353.1 506,355.2 507.8,357.6 509.6,360.4 511.3,363.5 512.9,367 514.4,370.8 515.8,374.9 517.1,379.3 518.2,383.9 519.2,388.7 520,393.7 520.7,398.9 521.3,404.2 521.7,409.6 521.9,415 522,420.5 521.9,426 521.7,431.4 521.3,436.8 520.7,442.1 520,447.3 519.2,452.3 518.2,457.1 517.1,461.7 515.8,466.1 514.4,470.2 512.9,474 511.3,477.5 509.6,480.6 507.8,483.4 506,485.8 504.1,487.9 502.1,489.5 500.1,490.7 498,491.6 495.9,492" fill="none" stroke="#000" stroke-width="3.0" />
<path d="M505.6,351.2 507.5,352.1 509.3,353.3 511,354.8 512.7,356.8 514.4,359 516,361.5 517.5,364.4 519,367.5 520.4,370.9 521.6,374.6 522.8,378.5 523.9,382.6 524.8,386.9 525.6,391.4 526.4,396 526.9,400.7 527.4,405.6 527.7,410.5 527.9,415.5 528,420.5 527.9,425.5 527.7,430.5 527.4,435.4 526.9,440.3 526.4,445 525.6,449.6 524.8,454.1 523.9,458.4 522.8,462.5 521.6,466.4 520.4,470.1 519,473.5 517.5,476.6 516,479.5 514.4,482 512.7,484.2 511,486.2 509.3,487.7 507.5,488.9 505.6,489.8" fill="none" stroke="#000" stroke-width="1.5" />
<ellipse cx="489.0" cy="420.5" rx="25.2" ry="70.5" fill="#fff" stroke="#000" stroke-width="2.0" />
<ellipse cx="490.0" cy="424.0" rx="22.0" ry="36.4" fill="#fff" stroke="#000" stroke-width="1.6" />
<path d="M497.5,389.8 498.8,390.6 500,391.6 501.2,392.6 502.3,393.8 503.4,395.1 504.4,396.5 505.4,398 506.3,399.6 507.2,401.3 508,403.1 508.8,405 509.4,406.9 510,408.9 510.5,411 511,413.1 511.3,415.2 511.6,417.4 511.8,419.6 512,421.8 512,424 512,426.2 511.8,428.4 511.6,430.6 511.3,432.8 511,434.9 510.5,437 510,439.1 509.4,441.1 508.8,443 508,444.9 507.2,446.7 506.3,448.4 505.4,450 504.4,451.5 503.4,452.9 502.3,454.2 501.2,455.4 500,456.4 498.8,457.4 497.5,458.2 492.5,455 493.6,454.3 494.6,453.4 495.6,452.4 496.6,451.4 497.6,450.2 498.5,448.9 499.3,447.5 500.1,446.1 500.9,444.5 501.6,442.9 502.2,441.2 502.8,439.5 503.3,437.7 503.7,435.8 504.1,433.9 504.4,432 504.7,430 504.9,428 505,426 505,424 505,422 504.9,420 504.7,418 504.4,416 504.1,414.1 503.7,412.2 503.3,410.3 502.8,408.5 502.2,406.8 501.6,405.1 500.9,403.5 500.1,401.9 499.3,400.5 498.5,399.1 497.6,397.8 496.6,396.6 495.6,395.6 494.6,394.6 493.6,393.7 492.5,393Z" fill="#000" stroke="#000" stroke-width="0" />
<clipPath id="k22"><path d="M496.4,423.4 496.2,426.9 495.8,430.3 495,433.6 494,436.6 492.7,439.2 491.2,441.5 489.5,443.4 487.6,444.7 485.7,445.5 483.7,445.8 481.7,445.5 479.8,444.7 477.9,443.4 476.2,441.5 474.7,439.2 473.4,436.6 472.4,433.6 471.6,430.3 471.2,426.9 471,423.4 471.2,419.9 471.6,416.5 472.4,413.2 473.4,410.2 474.7,407.6 476.2,405.3 477.9,403.4 479.8,402.1 481.7,401.3 483.7,401 485.7,401.3 487.6,402.1 489.5,403.4 491.2,405.3 492.7,407.6 494,410.2 495,413.2 495.8,416.5 496.2,419.9 496.4,423.4Z"/></clipPath><g clip-path="url(#k22)">
<ellipse cx="483.7" cy="423.4" rx="12.7" ry="22.4" fill="#000" stroke="#000" stroke-width="0" />
<line x1="476.7" y1="406.4" x2="490.7" y2="406.4" stroke="#fff" stroke-width="2.0" />
<line x1="476.7" y1="411.2" x2="490.7" y2="411.2" stroke="#fff" stroke-width="2.0" />
<line x1="476.7" y1="416.0" x2="490.7" y2="416.0" stroke="#fff" stroke-width="2.0" />
<line x1="476.7" y1="420.8" x2="490.7" y2="420.8" stroke="#fff" stroke-width="2.0" />
<line x1="476.7" y1="425.6" x2="490.7" y2="425.6" stroke="#fff" stroke-width="2.0" />
<line x1="476.7" y1="430.4" x2="490.7" y2="430.4" stroke="#fff" stroke-width="2.0" />
<line x1="476.7" y1="435.2" x2="490.7" y2="435.2" stroke="#fff" stroke-width="2.0" />
<line x1="476.7" y1="440.0" x2="490.7" y2="440.0" stroke="#fff" stroke-width="2.0" />
</g>
<ellipse cx="483.7" cy="423.4" rx="12.7" ry="22.4" fill="none" stroke="#000" stroke-width="1.8" />
<path d="M579,404.3 622,403.4 624,403.1 660,402.3 662,399.7 684,399.2 686,395.7 706,395.3 708,397 745,397.6 747,399.4 826,397.7 826,397.7 826.4,397.7 826.9,397.9 827.3,398.2 827.7,398.6 828.1,399.1 828.5,399.6 828.9,400.3 829.2,401.1 829.6,402 829.9,403 830.2,404 830.4,405.2 830.7,406.4 830.9,407.6 831.1,408.9 831.2,410.2 831.3,411.6 831.4,413 831.5,414.4 831.5,415.9 831.5,417.3 831.4,418.7 831.3,420.1 831.2,421.5 831.1,422.8 830.9,424.1 830.7,425.4 830.4,426.6 830.2,427.7 829.9,428.7 829.6,429.7 829.2,430.6 828.9,431.4 828.5,432.1 828.1,432.7 827.7,433.2 827.3,433.6 826.9,433.8 826.4,434 826,434.1 826,434.1 747,435.8 745,437.6 708,440 706,441.7 686,442.1 684,438.8 662,439.3 660,436.7 624,437.5 622,437.4 579,438.3Z" fill="#fff" stroke="#000" stroke-width="2.4" stroke-linejoin="round"/>
<clipPath id="k23"><path d="M579,404.3 622,403.4 624,403.1 660,402.3 662,399.7 684,399.2 686,395.7 706,395.3 708,397 745,397.6 747,399.4 826,397.7 826,397.7 826.4,397.7 826.9,397.9 827.3,398.2 827.7,398.6 828.1,399.1 828.5,399.6 828.9,400.3 829.2,401.1 829.6,402 829.9,403 830.2,404 830.4,405.2 830.7,406.4 830.9,407.6 831.1,408.9 831.2,410.2 831.3,411.6 831.4,413 831.5,414.4 831.5,415.9 831.5,417.3 831.4,418.7 831.3,420.1 831.2,421.5 831.1,422.8 830.9,424.1 830.7,425.4 830.4,426.6 830.2,427.7 829.9,428.7 829.6,429.7 829.2,430.6 828.9,431.4 828.5,432.1 828.1,432.7 827.7,433.2 827.3,433.6 826.9,433.8 826.4,434 826,434.1 826,434.1 747,435.8 745,437.6 708,440 706,441.7 686,442.1 684,438.8 662,439.3 660,436.7 624,437.5 622,437.4 579,438.3Z"/></clipPath><g clip-path="url(#k23)">
<line x1="624.0" y1="404.5" x2="682.6" y2="403.2" stroke="#000" stroke-width="3.6" />
<line x1="683.1" y1="400.8" x2="732.6" y2="399.7" stroke="#000" stroke-width="3.6" />
<line x1="733.3" y1="398.1" x2="792.8" y2="396.8" stroke="#000" stroke-width="3.6" />
<line x1="793.3" y1="399.8" x2="826.0" y2="398.6" stroke="#000" stroke-width="3.6" />
<line x1="624.0" y1="407.2" x2="678.3" y2="406.0" stroke="#000" stroke-width="2.0" />
<line x1="680.3" y1="404.0" x2="709.9" y2="403.4" stroke="#000" stroke-width="2.0" />
<line x1="710.9" y1="402.1" x2="759.2" y2="401.0" stroke="#000" stroke-width="2.0" />
<line x1="760.1" y1="403.5" x2="790.7" y2="402.8" stroke="#000" stroke-width="2.0" />
<line x1="791.5" y1="402.8" x2="826.0" y2="401.6" stroke="#000" stroke-width="2.0" />
<line x1="624.0" y1="410.0" x2="637.8" y2="409.7" stroke="#000" stroke-width="1.8" />
<line x1="641.9" y1="409.6" x2="657.1" y2="409.3" stroke="#000" stroke-width="1.8" />
<line x1="662.6" y1="407.6" x2="670.2" y2="407.4" stroke="#000" stroke-width="1.8" />
<line x1="675.4" y1="407.3" x2="685.1" y2="407.1" stroke="#000" stroke-width="1.8" />
<line x1="688.5" y1="405.0" x2="699.7" y2="404.7" stroke="#000" stroke-width="1.8" />
<line x1="704.5" y1="404.6" x2="715.7" y2="404.4" stroke="#000" stroke-width="1.8" />
<line x1="723.4" y1="405.2" x2="735.5" y2="405.0" stroke="#000" stroke-width="1.8" />
<line x1="740.5" y1="404.8" x2="755.0" y2="404.5" stroke="#000" stroke-width="1.8" />
<line x1="763.0" y1="406.3" x2="773.4" y2="406.1" stroke="#000" stroke-width="1.8" />
<line x1="781.1" y1="405.9" x2="786.3" y2="405.8" stroke="#000" stroke-width="1.8" />
<line x1="790.0" y1="405.7" x2="796.9" y2="405.6" stroke="#000" stroke-width="1.8" />
<line x1="804.6" y1="405.4" x2="817.2" y2="405.1" stroke="#000" stroke-width="1.8" />
<line x1="823.8" y1="405.0" x2="826.0" y2="404.8" stroke="#000" stroke-width="1.8" />
<line x1="624.0" y1="413.1" x2="638.8" y2="412.8" stroke="#000" stroke-width="1.5" />
<line x1="642.3" y1="412.7" x2="648.5" y2="412.5" stroke="#000" stroke-width="1.5" />
<line x1="651.8" y1="412.5" x2="661.9" y2="412.3" stroke="#000" stroke-width="1.5" />
<line x1="669.1" y1="411.0" x2="680.2" y2="410.8" stroke="#000" stroke-width="1.5" />
<line x1="685.2" y1="410.6" x2="695.8" y2="410.4" stroke="#000" stroke-width="1.5" />
<line x1="699.7" y1="408.9" x2="715.1" y2="408.6" stroke="#000" stroke-width="1.5" />
<line x1="719.9" y1="409.2" x2="727.4" y2="409.0" stroke="#000" stroke-width="1.5" />
<line x1="732.0" y1="408.9" x2="746.1" y2="408.6" stroke="#000" stroke-width="1.5" />
<line x1="750.7" y1="409.9" x2="765.6" y2="409.6" stroke="#000" stroke-width="1.5" />
<line x1="770.3" y1="409.4" x2="780.2" y2="409.2" stroke="#000" stroke-width="1.5" />
<line x1="783.5" y1="409.2" x2="798.5" y2="408.8" stroke="#000" stroke-width="1.5" />
<line x1="805.5" y1="408.7" x2="815.7" y2="408.4" stroke="#000" stroke-width="1.5" />
<line x1="819.3" y1="408.4" x2="826.0" y2="408.1" stroke="#000" stroke-width="1.5" />
<line x1="624.0" y1="418.6" x2="638.2" y2="418.3" stroke="#000" stroke-width="1.3" />
<line x1="645.9" y1="418.1" x2="659.0" y2="417.8" stroke="#000" stroke-width="1.3" />
<line x1="663.5" y1="417.5" x2="668.9" y2="417.3" stroke="#000" stroke-width="1.3" />
<line x1="676.4" y1="417.2" x2="691.8" y2="416.8" stroke="#000" stroke-width="1.3" />
<line x1="695.6" y1="416.4" x2="706.1" y2="416.2" stroke="#000" stroke-width="1.3" />
<line x1="711.5" y1="416.2" x2="727.2" y2="415.9" stroke="#000" stroke-width="1.3" />
<line x1="730.4" y1="415.8" x2="736.1" y2="415.7" stroke="#000" stroke-width="1.3" />
<line x1="743.3" y1="415.5" x2="754.6" y2="415.3" stroke="#000" stroke-width="1.3" />
<line x1="759.9" y1="415.5" x2="773.5" y2="415.2" stroke="#000" stroke-width="1.3" />
<line x1="779.4" y1="415.1" x2="792.0" y2="414.8" stroke="#000" stroke-width="1.3" />
<line x1="796.3" y1="414.7" x2="802.3" y2="414.6" stroke="#000" stroke-width="1.3" />
<line x1="805.3" y1="414.5" x2="814.0" y2="414.3" stroke="#000" stroke-width="1.3" />
<line x1="820.2" y1="414.2" x2="826.0" y2="414.0" stroke="#000" stroke-width="1.3" />
<line x1="624.0" y1="425.1" x2="635.8" y2="424.9" stroke="#000" stroke-width="1.5" />
<line x1="642.3" y1="424.7" x2="653.9" y2="424.5" stroke="#000" stroke-width="1.5" />
<line x1="658.4" y1="424.4" x2="672.5" y2="424.1" stroke="#000" stroke-width="1.5" />
<line x1="679.5" y1="424.6" x2="694.3" y2="424.3" stroke="#000" stroke-width="1.5" />
<line x1="701.8" y1="425.1" x2="706.9" y2="425.0" stroke="#000" stroke-width="1.5" />
<line x1="713.3" y1="424.4" x2="722.1" y2="424.2" stroke="#000" stroke-width="1.5" />
<line x1="727.1" y1="424.1" x2="737.8" y2="423.8" stroke="#000" stroke-width="1.5" />
<line x1="741.5" y1="423.7" x2="749.2" y2="423.6" stroke="#000" stroke-width="1.5" />
<line x1="757.1" y1="422.5" x2="765.8" y2="422.3" stroke="#000" stroke-width="1.5" />
<line x1="773.4" y1="422.1" x2="785.9" y2="421.8" stroke="#000" stroke-width="1.5" />
<line x1="790.5" y1="421.7" x2="799.0" y2="421.6" stroke="#000" stroke-width="1.5" />
<line x1="805.0" y1="421.4" x2="817.7" y2="421.1" stroke="#000" stroke-width="1.5" />
<line x1="822.4" y1="421.0" x2="826.0" y2="420.9" stroke="#000" stroke-width="1.5" />
<line x1="624.0" y1="428.6" x2="638.5" y2="428.2" stroke="#000" stroke-width="1.8" />
<line x1="645.1" y1="428.1" x2="651.3" y2="428.0" stroke="#000" stroke-width="1.8" />
<line x1="658.5" y1="427.8" x2="669.8" y2="427.6" stroke="#000" stroke-width="1.8" />
<line x1="674.5" y1="428.7" x2="689.3" y2="428.4" stroke="#000" stroke-width="1.8" />
<line x1="693.0" y1="429.9" x2="699.0" y2="429.8" stroke="#000" stroke-width="1.8" />
<line x1="703.8" y1="429.7" x2="716.9" y2="429.4" stroke="#000" stroke-width="1.8" />
<line x1="722.6" y1="428.5" x2="732.9" y2="428.2" stroke="#000" stroke-width="1.8" />
<line x1="740.5" y1="428.1" x2="749.8" y2="427.9" stroke="#000" stroke-width="1.8" />
<line x1="756.8" y1="426.1" x2="761.8" y2="426.0" stroke="#000" stroke-width="1.8" />
<line x1="768.7" y1="425.9" x2="775.4" y2="425.7" stroke="#000" stroke-width="1.8" />
<line x1="781.7" y1="425.6" x2="795.9" y2="425.3" stroke="#000" stroke-width="1.8" />
<line x1="802.2" y1="425.1" x2="813.6" y2="424.9" stroke="#000" stroke-width="1.8" />
<line x1="819.3" y1="424.7" x2="826.0" y2="424.5" stroke="#000" stroke-width="1.8" />
<line x1="624.0" y1="431.3" x2="653.3" y2="430.7" stroke="#000" stroke-width="2.0" />
<line x1="654.7" y1="430.6" x2="695.5" y2="429.7" stroke="#000" stroke-width="2.0" />
<line x1="696.2" y1="433.6" x2="737.4" y2="432.7" stroke="#000" stroke-width="2.0" />
<line x1="738.6" y1="431.5" x2="764.8" y2="431.0" stroke="#000" stroke-width="2.0" />
<line x1="766.4" y1="428.8" x2="817.5" y2="427.7" stroke="#000" stroke-width="2.0" />
<line x1="818.5" y1="427.7" x2="826.0" y2="426.5" stroke="#000" stroke-width="2.0" />
<line x1="624.0" y1="433.9" x2="670.5" y2="432.9" stroke="#000" stroke-width="2.4" />
<line x1="671.6" y1="434.9" x2="702.5" y2="434.2" stroke="#000" stroke-width="2.4" />
<line x1="703.2" y1="436.9" x2="734.1" y2="436.2" stroke="#000" stroke-width="2.4" />
<line x1="736.1" y1="434.8" x2="758.5" y2="434.3" stroke="#000" stroke-width="2.4" />
<line x1="760.4" y1="431.7" x2="808.3" y2="430.6" stroke="#000" stroke-width="2.4" />
<line x1="810.0" y1="430.6" x2="826.0" y2="430.1" stroke="#000" stroke-width="2.4" />
<line x1="624.0" y1="436.1" x2="652.2" y2="435.5" stroke="#000" stroke-width="3.8" />
<line x1="653.7" y1="435.5" x2="705.5" y2="434.3" stroke="#000" stroke-width="3.8" />
<line x1="707.1" y1="439.8" x2="748.5" y2="438.9" stroke="#000" stroke-width="3.8" />
<line x1="750.3" y1="434.3" x2="779.5" y2="433.6" stroke="#000" stroke-width="3.8" />
<line x1="780.2" y1="433.6" x2="826.0" y2="432.4" stroke="#000" stroke-width="3.8" />
</g>
<path d="M579,404.3 622,403.4 624,403.1 660,402.3 662,399.7 684,399.2 686,395.7 706,395.3 708,397 745,397.6 747,399.4 826,397.7 826,397.7 826.4,397.7 826.9,397.9 827.3,398.2 827.7,398.6 828.1,399.1 828.5,399.6 828.9,400.3 829.2,401.1 829.6,402 829.9,403 830.2,404 830.4,405.2 830.7,406.4 830.9,407.6 831.1,408.9 831.2,410.2 831.3,411.6 831.4,413 831.5,414.4 831.5,415.9 831.5,417.3 831.4,418.7 831.3,420.1 831.2,421.5 831.1,422.8 830.9,424.1 830.7,425.4 830.4,426.6 830.2,427.7 829.9,428.7 829.6,429.7 829.2,430.6 828.9,431.4 828.5,432.1 828.1,432.7 827.7,433.2 827.3,433.6 826.9,433.8 826.4,434 826,434.1 826,434.1 747,435.8 745,437.6 708,440 706,441.7 686,442.1 684,438.8 662,439.3 660,436.7 624,437.5 622,437.4 579,438.3Z" fill="none" stroke="#000" stroke-width="2.4" stroke-linejoin="round"/>
<path d="M588.5,404.1 588.9,404.1 589.3,404.3 589.7,404.6 590,404.9 590.4,405.4 590.8,405.9 591.1,406.6 591.4,407.3 591.7,408.2 592,409.1 592.3,410.1 592.5,411.1 592.8,412.2 593,413.4 593.1,414.6 593.3,415.8 593.4,417.1 593.4,418.4 593.5,419.8 593.5,421.1 593.5,422.4 593.4,423.8 593.4,425.1 593.3,426.3 593.1,427.6 593,428.8 592.8,430 592.5,431.1 592.3,432.1 592,433.1 591.7,434 591.4,434.8 591.1,435.6 590.8,436.2 590.4,436.8 590,437.3 589.7,437.6 589.3,437.9 588.9,438 588.5,438.1" fill="none" stroke="#000" stroke-width="5.2" />
<path d="M587.5,404.1 587.9,404.2 588.2,404.4 588.6,404.7 589,405.1 589.3,405.6 589.7,406.1 590,406.8 590.3,407.5 590.6,408.4 590.9,409.3 591.2,410.3 591.4,411.3 591.6,412.4 591.8,413.5 591.9,414.7 592.1,416 592.2,417.2 592.2,418.5 592.3,419.8 592.3,421.1 592.3,422.4 592.2,423.7 592.2,425 592.1,426.2 591.9,427.5 591.8,428.6 591.6,429.8 591.4,430.9 591.2,431.9 590.9,432.9 590.6,433.8 590.3,434.6 590,435.4 589.7,436 589.3,436.6 589,437.1 588.6,437.5 588.2,437.8 587.9,438 587.5,438.1" fill="none" stroke="#fff" stroke-width="2.0" />
<path d="M596,403.9 596.4,404 596.8,404.1 597.2,404.4 597.5,404.8 597.9,405.2 598.3,405.8 598.6,406.4 598.9,407.2 599.2,408 599.5,408.9 599.8,409.9 600,410.9 600.3,412 600.5,413.2 600.6,414.4 600.8,415.7 600.9,417 600.9,418.3 601,419.6 601,420.9 601,422.3 600.9,423.6 600.9,424.9 600.8,426.2 600.6,427.4 600.5,428.6 600.3,429.8 600,430.9 599.8,432 599.5,432.9 599.2,433.9 598.9,434.7 598.6,435.4 598.3,436.1 597.9,436.6 597.5,437.1 597.2,437.5 596.8,437.7 596.4,437.9 596,437.9" fill="none" stroke="#000" stroke-width="5.2" />
<path d="M595,403.9 595.4,404 595.7,404.2 596.1,404.5 596.5,404.9 596.8,405.4 597.2,406 597.5,406.6 597.8,407.4 598.1,408.2 598.4,409.1 598.7,410.1 598.9,411.1 599.1,412.2 599.3,413.4 599.4,414.6 599.6,415.8 599.7,417 599.7,418.3 599.8,419.6 599.8,420.9 599.8,422.2 599.7,423.5 599.7,424.8 599.6,426.1 599.4,427.3 599.3,428.5 599.1,429.6 598.9,430.7 598.7,431.8 598.4,432.7 598.1,433.6 597.8,434.5 597.5,435.2 597.2,435.9 596.8,436.5 596.5,436.9 596.1,437.3 595.7,437.6 595.4,437.8 595,437.9" fill="none" stroke="#fff" stroke-width="2.0" />
<path d="M603.5,403.8 603.9,403.8 604.3,404 604.7,404.2 605,404.6 605.4,405.1 605.8,405.6 606.1,406.3 606.4,407 606.7,407.8 607,408.7 607.3,409.7 607.5,410.8 607.8,411.9 608,413 608.1,414.3 608.3,415.5 608.4,416.8 608.4,418.1 608.5,419.4 608.5,420.8 608.5,422.1 608.4,423.4 608.4,424.7 608.3,426 608.1,427.3 608,428.5 607.8,429.6 607.5,430.8 607.3,431.8 607,432.8 606.7,433.7 606.4,434.5 606.1,435.3 605.8,435.9 605.4,436.5 605,436.9 604.7,437.3 604.3,437.6 603.9,437.7 603.5,437.8" fill="none" stroke="#000" stroke-width="5.2" />
<path d="M602.5,403.8 602.9,403.9 603.2,404.1 603.6,404.4 604,404.7 604.3,405.2 604.7,405.8 605,406.5 605.3,407.2 605.6,408 605.9,409 606.2,409.9 606.4,411 606.6,412.1 606.8,413.2 606.9,414.4 607.1,415.6 607.2,416.9 607.2,418.2 607.3,419.5 607.3,420.8 607.3,422.1 607.2,423.4 607.2,424.6 607.1,425.9 606.9,427.1 606.8,428.3 606.6,429.5 606.4,430.6 606.2,431.6 605.9,432.6 605.6,433.5 605.3,434.3 605,435.1 604.7,435.7 604.3,436.3 604,436.8 603.6,437.2 603.2,437.5 602.9,437.7 602.5,437.8" fill="none" stroke="#fff" stroke-width="2.0" />
<path d="M611,403.6 611.4,403.6 611.8,403.8 612.2,404.1 612.5,404.4 612.9,404.9 613.3,405.4 613.6,406.1 613.9,406.8 614.2,407.7 614.5,408.6 614.8,409.6 615,410.6 615.3,411.7 615.5,412.9 615.6,414.1 615.8,415.3 615.9,416.6 615.9,417.9 616,419.3 616,420.6 616,421.9 615.9,423.3 615.9,424.6 615.8,425.8 615.6,427.1 615.5,428.3 615.3,429.5 615,430.6 614.8,431.6 614.5,432.6 614.2,433.5 613.9,434.3 613.6,435.1 613.3,435.7 612.9,436.3 612.5,436.8 612.2,437.1 611.8,437.4 611.4,437.5 611,437.6" fill="none" stroke="#000" stroke-width="5.2" />
<path d="M610,403.6 610.4,403.7 610.7,403.9 611.1,404.2 611.5,404.6 611.8,405.1 612.2,405.6 612.5,406.3 612.8,407.1 613.1,407.9 613.4,408.8 613.7,409.8 613.9,410.8 614.1,411.9 614.3,413 614.4,414.2 614.6,415.5 614.7,416.7 614.7,418 614.8,419.3 614.8,420.6 614.8,421.9 614.7,423.2 614.7,424.5 614.6,425.7 614.4,427 614.3,428.2 614.1,429.3 613.9,430.4 613.7,431.4 613.4,432.4 613.1,433.3 612.8,434.1 612.5,434.9 612.2,435.6 611.8,436.1 611.5,436.6 611.1,437 610.7,437.3 610.4,437.5 610,437.6" fill="none" stroke="#fff" stroke-width="2.0" />
<path d="M618.5,403.4 618.9,403.5 619.3,403.6 619.7,403.9 620,404.3 620.4,404.7 620.8,405.3 621.1,405.9 621.4,406.7 621.7,407.5 622,408.4 622.3,409.4 622.5,410.4 622.8,411.5 623,412.7 623.1,413.9 623.3,415.2 623.4,416.5 623.4,417.8 623.5,419.1 623.5,420.4 623.5,421.8 623.4,423.1 623.4,424.4 623.3,425.7 623.1,426.9 623,428.1 622.8,429.3 622.5,430.4 622.3,431.5 622,432.5 621.7,433.4 621.4,434.2 621.1,434.9 620.8,435.6 620.4,436.1 620,436.6 619.7,437 619.3,437.2 618.9,437.4 618.5,437.4" fill="none" stroke="#000" stroke-width="5.2" />
<path d="M617.5,403.4 617.9,403.5 618.2,403.7 618.6,404 619,404.4 619.3,404.9 619.7,405.5 620,406.1 620.3,406.9 620.6,407.7 620.9,408.6 621.2,409.6 621.4,410.6 621.6,411.7 621.8,412.9 621.9,414.1 622.1,415.3 622.2,416.5 622.2,417.8 622.3,419.1 622.3,420.4 622.3,421.7 622.2,423 622.2,424.3 622.1,425.6 621.9,426.8 621.8,428 621.6,429.1 621.4,430.2 621.2,431.3 620.9,432.2 620.6,433.1 620.3,434 620,434.7 619.7,435.4 619.3,436 619,436.4 618.6,436.8 618.2,437.1 617.9,437.3 617.5,437.4" fill="none" stroke="#fff" stroke-width="2.0" />
<path d="M666,399.6 666.5,399.7 666.9,399.9 667.4,400.2 667.9,400.6 668.3,401.1 668.7,401.8 669.1,402.5 669.5,403.4 669.9,404.4 670.2,405.4 670.6,406.6 670.9,407.8 671.1,409.1 671.3,410.4 671.5,411.9 671.7,413.3 671.8,414.8 671.9,416.3 672,417.9 672,419.4 672,421 671.9,422.5 671.8,424.1 671.7,425.5 671.5,427 671.3,428.4 671.1,429.8 670.9,431.1 670.6,432.3 670.2,433.4 669.9,434.5 669.5,435.4 669.1,436.3 668.7,437.1 668.3,437.7 667.9,438.3 667.4,438.7 666.9,439 666.5,439.2 666,439.2" fill="none" stroke="#000" stroke-width="5.5" />
<path d="M664.5,400.2 665,400.4 665.4,400.7 665.8,401 666.2,401.5 666.7,402.1 667,402.8 667.4,403.6 667.8,404.4 668.1,405.4 668.4,406.4 668.7,407.5 669,408.6 669.2,409.9 669.4,411.1 669.6,412.4 669.7,413.8 669.9,415.2 669.9,416.6 670,418 670,419.4 670,420.9 669.9,422.3 669.9,423.7 669.7,425.1 669.6,426.4 669.4,427.7 669.2,429 669,430.2 668.7,431.4 668.4,432.5 668.1,433.5 667.8,434.4 667.4,435.3 667,436.1 666.7,436.7 666.2,437.3 665.8,437.8 665.4,438.2 665,438.5 664.5,438.7" fill="none" stroke="#fff" stroke-width="3.2" />
<path d="M690,395.7 690.5,395.8 690.9,396 691.4,396.3 691.9,396.8 692.3,397.5 692.7,398.2 693.1,399.1 693.5,400.1 693.9,401.3 694.2,402.5 694.6,403.8 694.9,405.3 695.1,406.8 695.3,408.4 695.5,410 695.7,411.7 695.8,413.5 695.9,415.3 696,417.1 696,418.9 696,420.7 695.9,422.5 695.8,424.3 695.7,426.1 695.5,427.8 695.3,429.4 695.1,431 694.9,432.5 694.6,434 694.2,435.3 693.9,436.5 693.5,437.7 693.1,438.7 692.7,439.6 692.3,440.3 691.9,441 691.4,441.5 690.9,441.8 690.5,442 690,442.1" fill="none" stroke="#000" stroke-width="5.5" />
<path d="M688.5,396.3 689,396.5 689.4,396.8 689.8,397.3 690.2,397.9 690.7,398.5 691,399.3 691.4,400.3 691.8,401.3 692.1,402.4 692.4,403.6 692.7,404.8 693,406.2 693.2,407.6 693.4,409.1 693.6,410.7 693.7,412.3 693.9,413.9 693.9,415.5 694,417.2 694,418.9 694,420.6 693.9,422.3 693.9,423.9 693.7,425.5 693.6,427.1 693.4,428.7 693.2,430.2 693,431.6 692.7,433 692.4,434.2 692.1,435.4 691.8,436.5 691.4,437.6 691,438.5 690.7,439.3 690.2,439.9 689.8,440.5 689.4,441 689,441.3 688.5,441.5" fill="none" stroke="#fff" stroke-width="3.2" />
<path d="M712,395.9 712.5,396 712.9,396.2 713.4,396.5 713.9,397 714.3,397.6 714.7,398.4 715.1,399.2 715.5,400.2 715.9,401.3 716.2,402.5 716.6,403.8 716.9,405.2 717.1,406.7 717.3,408.2 717.5,409.8 717.7,411.5 717.8,413.2 717.9,414.9 718,416.7 718,418.4 718,420.2 717.9,421.9 717.8,423.7 717.7,425.4 717.5,427 717.3,428.6 717.1,430.2 716.9,431.6 716.6,433 716.2,434.3 715.9,435.5 715.5,436.6 715.1,437.6 714.7,438.5 714.3,439.2 713.9,439.8 713.4,440.3 712.9,440.6 712.5,440.8 712,440.9" fill="none" stroke="#000" stroke-width="5.5" />
<path d="M710.5,396.5 711,396.7 711.4,397 711.8,397.5 712.2,398 712.7,398.7 713,399.5 713.4,400.3 713.8,401.3 714.1,402.4 714.4,403.6 714.7,404.8 715,406.1 715.2,407.5 715.4,408.9 715.6,410.4 715.7,412 715.9,413.6 715.9,415.2 716,416.8 716,418.4 716,420 715.9,421.7 715.9,423.3 715.7,424.9 715.6,426.4 715.4,427.9 715.2,429.3 715,430.7 714.7,432 714.4,433.3 714.1,434.4 713.8,435.5 713.4,436.5 713,437.4 712.7,438.1 712.2,438.8 711.8,439.4 711.4,439.8 711,440.1 710.5,440.3" fill="none" stroke="#fff" stroke-width="3.2" />
<path d="M750.5,397.6 751,397.6 751.4,397.8 751.9,398.1 752.4,398.5 752.8,399.1 753.2,399.8 753.6,400.5 754,401.4 754.4,402.4 754.7,403.4 755.1,404.6 755.4,405.8 755.6,407.1 755.8,408.5 756,409.9 756.2,411.4 756.3,412.9 756.4,414.4 756.5,416 756.5,417.6 756.5,419.1 756.4,420.7 756.3,422.2 756.2,423.8 756,425.2 755.8,426.7 755.6,428 755.4,429.3 755.1,430.6 754.7,431.7 754.4,432.8 754,433.8 753.6,434.6 753.2,435.4 752.8,436 752.4,436.6 751.9,437 751.4,437.3 751,437.5 750.5,437.6" fill="none" stroke="#000" stroke-width="5.5" />
<path d="M749,398.1 749.5,398.3 749.9,398.6 750.3,399 750.7,399.5 751.2,400.1 751.5,400.8 751.9,401.5 752.3,402.4 752.6,403.4 752.9,404.4 753.2,405.5 753.5,406.7 753.7,407.9 753.9,409.2 754.1,410.5 754.2,411.9 754.4,413.3 754.4,414.7 754.5,416.1 754.5,417.6 754.5,419 754.4,420.5 754.4,421.9 754.2,423.3 754.1,424.6 753.9,426 753.7,427.2 753.5,428.5 753.2,429.6 752.9,430.7 752.6,431.8 752.3,432.7 751.9,433.6 751.5,434.4 751.2,435.1 750.7,435.7 750.3,436.1 749.9,436.5 749.5,436.8 749,437" fill="none" stroke="#fff" stroke-width="3.2" />
<path d="M819.5,398.1 819.9,398.3 820.3,398.5 820.7,398.9 821.1,399.3 821.4,399.9 821.8,400.5 822.1,401.2 822.5,402 822.8,402.9 823.1,403.9 823.3,404.9 823.6,406 823.8,407.1 824,408.3 824.1,409.5 824.3,410.8 824.4,412 824.4,413.4 824.5,414.7 824.5,416 824.5,417.4 824.4,418.7 824.4,420 824.3,421.3 824.1,422.5 824,423.8 823.8,425 823.6,426.1 823.3,427.2 823.1,428.2 822.8,429.1 822.5,430 822.1,430.8 821.8,431.5 821.4,432.2 821.1,432.7 820.7,433.2 820.3,433.5 819.9,433.8 819.5,434" fill="none" stroke="#000" stroke-width="5" />
<path d="M818.5,398.8 818.8,399 819.2,399.4 819.6,399.8 819.9,400.3 820.2,400.9 820.6,401.5 820.9,402.2 821.2,403 821.5,403.9 821.7,404.8 821.9,405.7 822.2,406.7 822.4,407.8 822.5,408.9 822.7,410 822.8,411.2 822.9,412.4 822.9,413.6 823,414.8 823,416 823,417.2 822.9,418.5 822.9,419.7 822.8,420.8 822.7,422 822.5,423.1 822.4,424.2 822.2,425.3 821.9,426.3 821.7,427.3 821.5,428.2 821.2,429 820.9,429.8 820.6,430.5 820.2,431.2 819.9,431.7 819.6,432.2 819.2,432.7 818.8,433 818.5,433.3" fill="none" stroke="#fff" stroke-width="2.6" />
<ellipse cx="579.0" cy="421.3" rx="8.4" ry="17.0" fill="#fff" stroke="#000" stroke-width="2.0" />
<line x1="571.0" y1="421.3" x2="579.5" y2="421.3" stroke="#000" stroke-width="1.3" />
<path d="M1329.6,428.3 1329.1,433.4 1328.4,438.4 1327.6,443.3 1326.7,447.9 1325.7,452.4 1324.6,456.6 1323.4,460.6 1322.1,464.4 1320.7,467.8 1319.2,470.9 1317.6,473.8 1316,476.2 1314.3,478.4 1312.6,480.1 1310.8,481.6 1309,482.6 1307.2,483.2 1305.3,483.5 1303.5,483.4 1301.7,482.9 1299.9,482 1298.1,480.7 1296.3,479.1 1294.6,477.1 1293,474.7 1291.4,472 1289.9,469 1288.4,465.7 1287.1,462 1285.8,458.1 1284.7,454 1283.6,449.6 1282.7,445 1281.8,440.2 1281.1,435.2 1280.6,430.2 1280.1,425 1279.8,419.7 1279.6,414.4 1279.5,409 1279.6,403.6 1279.8,398.3 1280.1,393 1280.6,387.8 1281.1,382.8 1281.8,377.8 1282.7,373 1283.6,368.4 1284.7,364 1285.8,359.9 1287.1,356 1288.4,352.3 1289.9,349 1291.4,346 1293,343.3 1294.6,340.9 1296.3,338.9 1298.1,337.3 1299.9,336 1301.7,335.1 1303.5,334.6 1305.3,334.5 1307.2,334.8 1309,335.4 1310.8,336.4 1312.6,337.9 1314.3,339.6 1316,341.8 1317.6,344.2 1319.2,347.1 1320.7,350.2 1322.1,353.6 1323.4,357.4 1324.6,361.4 1325.7,365.6 1326.7,370.1 1327.6,374.7 1328.4,379.6 1329.1,384.6 1329.6,389.7" fill="none" stroke="#000" stroke-width="9.2" stroke-linecap="round"/>
<circle cx="1329.6" cy="428.3" r="7.1" fill="#000"/>
<circle cx="1329.6" cy="389.7" r="7.1" fill="#000"/>
<path d="M1329.6,428.3 1329.1,433.4 1328.4,438.4 1327.6,443.3 1326.7,447.9 1325.7,452.4 1324.6,456.6 1323.4,460.6 1322.1,464.4 1320.7,467.8 1319.2,470.9 1317.6,473.8 1316,476.2 1314.3,478.4 1312.6,480.1 1310.8,481.6 1309,482.6 1307.2,483.2 1305.3,483.5 1303.5,483.4 1301.7,482.9 1299.9,482 1298.1,480.7 1296.3,479.1 1294.6,477.1 1293,474.7 1291.4,472 1289.9,469 1288.4,465.7 1287.1,462 1285.8,458.1 1284.7,454 1283.6,449.6 1282.7,445 1281.8,440.2 1281.1,435.2 1280.6,430.2 1280.1,425 1279.8,419.7 1279.6,414.4 1279.5,409 1279.6,403.6 1279.8,398.3 1280.1,393 1280.6,387.8 1281.1,382.8 1281.8,377.8 1282.7,373 1283.6,368.4 1284.7,364 1285.8,359.9 1287.1,356 1288.4,352.3 1289.9,349 1291.4,346 1293,343.3 1294.6,340.9 1296.3,338.9 1298.1,337.3 1299.9,336 1301.7,335.1 1303.5,334.6 1305.3,334.5 1307.2,334.8 1309,335.4 1310.8,336.4 1312.6,337.9 1314.3,339.6 1316,341.8 1317.6,344.2 1319.2,347.1 1320.7,350.2 1322.1,353.6 1323.4,357.4 1324.6,361.4 1325.7,365.6 1326.7,370.1 1327.6,374.7 1328.4,379.6 1329.1,384.6 1329.6,389.7" fill="none" stroke="#fff" stroke-width="5.4" stroke-linecap="round"/>
<circle cx="1329.6" cy="428.3" r="5.2" fill="#fff"/>
<circle cx="1329.6" cy="389.7" r="5.2" fill="#fff"/>
<circle cx="1329.6" cy="428.3" r="2.0" fill="#000"/>
<circle cx="1329.6" cy="389.7" r="2.0" fill="#000"/>
<path d="M1296,411.5 1296.7,412.4 1298.3,413.3 1299.9,414.3 1300.5,415.2 1299.6,416.1 1297.9,417 1296.3,417.8 1295.9,418.7 1296.8,419.7 1298.5,420.6 1299.9,421.6 1300.1,422.6 1298.9,423.4 1297.1,424.2 1295.7,425 1295.6,425.9 1296.8,426.9 1298.4,428 1299.6,429 1299.4,429.9 1298,430.7 1296.1,431.4 1295,432.2 1295.1,433.1 1296.4,434.2 1298,435.3 1298.9,436.3 1298.3,437.2 1296.7,437.9 1294.9,438.6 1293.9,439.3 1294.4,440.3 1295.8,441.4 1297.3,442.6 1297.8,443.7 1296.9,444.4 1295.1,445 1293.4,445.6 1292.7,446.4 1293.3,447.5 1294.8,448.7 1296.1,449.9 1296.3,450.9 1295.1,451.6 1293.2,452.1 1291.6,452.6 1291.1,453.4 1292,454.6 1293.4,456 1294.5,457.2 1294.3,458.1 1292.8,458.7 1290.8,459 1289.4,459.5 1289.2,460.4 1290.2,461.7 1291.6,463.1 1292.3,464.4 1291.7,465.2 1290,465.5 1288.1,465.8 1286.9,466.2 1286.9,467.2 1287.9,468.7 1289.1,470.2 1289.4,471.4 1288.5,472.1 1286.7,472.2 1284.8,472.3 1283.8,472.7 1283.9,473.9 1284.9,475.5 1285.8,477.2 1285.7,478.3 1284.4,478.6 1282.5,478.4 1280.7,478.3 1279.9,478.8 1280.1,480.1 1280.8,482 1281.2,483.7 1280.6,484.6 1279,484.5 1277.1,483.8 1275.6,483.4 1274.8,483.9 1274.7,485.5 1274.8,487.5 1274.3,489.1 1273.2,489.5 1271.7,488.6 1270.2,487.3 1269,486.4 1268.2,486.8 1267.3,488.3 1266.1,490 1264.8,490.8 1263.7,490.2 1263,488.4 1262.5,486.5 1262,485.4 1260.9,485.5 1259.3,486.4 1257.5,487.2 1256.2,487.1 1255.8,485.9 1256.1,484 1256.5,482.2 1256.2,481.2 1254.9,481.1 1253,481.5 1251.2,481.7 1250.3,481.1 1250.6,479.7 1251.4,477.9 1252.1,476.4 1251.8,475.5 1250.3,475.3 1248.3,475.4 1246.7,475.2 1246.2,474.4 1246.9,473 1248,471.3 1248.7,470 1248.2,469.2 1246.6,469 1244.6,468.8 1243.2,468.4 1243.2,467.4 1244.2,466 1245.4,464.5 1246,463.3 1245.3,462.6 1243.5,462.3 1241.6,461.9 1240.6,461.3 1240.9,460.2 1242.1,458.9 1243.4,457.5 1243.8,456.5 1242.8,455.8 1241,455.4 1239.2,454.9 1238.5,454.1 1239.1,453 1240.6,451.7 1241.8,450.4 1241.9,449.5 1240.7,448.8 1238.8,448.3 1237.3,447.7 1236.9,446.8 1237.9,445.7 1239.4,444.5 1240.5,443.3 1240.4,442.5 1239,441.8 1237.1,441.2 1235.8,440.4 1235.8,439.5 1237,438.4 1238.6,437.2 1239.6,436.2 1239.1,435.4 1237.6,434.6 1235.7,433.9 1234.7,433.1 1235.1,432.2 1236.5,431.1 1238.1,430 1238.8,429 1238.1,428.2 1236.4,427.4 1234.7,426.7 1234,425.8 1234.7,424.8 1236.3,423.8 1237.8,422.8 1238.3,421.9 1237.3,421 1235.5,420.2 1234,419.3 1233.7,418.4 1234.7,417.5 1236.4,416.5 1237.8,415.6 1237.9,414.7 1236.7,413.8 1235,412.9 1233.7,412 1233.7,411.1 1235,410.1 1236.7,409.3 1237.9,408.4 1237.8,407.5 1236.4,406.5 1234.7,405.6 1233.7,404.6 1234,403.7 1235.5,402.9 1237.3,402 1238.3,401.2 1237.8,400.2 1236.3,399.2 1234.7,398.2 1234,397.3 1234.7,396.4 1236.4,395.6 1238.1,394.8 1238.8,394 1238.1,393 1236.5,392 1235.1,390.9 1234.7,389.9 1235.7,389.1 1237.6,388.4 1239.1,387.7 1239.6,386.8 1238.6,385.8 1237,384.6 1235.8,383.5 1235.8,382.6 1237.1,381.9 1239,381.3 1240.4,380.6 1240.5,379.7 1239.4,378.6 1237.9,377.3 1236.9,376.2 1237.3,375.3 1238.8,374.7 1240.7,374.2 1241.9,373.5 1241.8,372.6 1240.6,371.4 1239.1,370.1 1238.5,368.9 1239.2,368.2 1241,367.7 1242.8,367.2 1243.8,366.6 1243.4,365.5 1242.1,364.2 1240.9,362.8 1240.6,361.7 1241.6,361.1 1243.5,360.8 1245.3,360.4 1246,359.7 1245.4,358.6 1244.2,357.1 1243.2,355.7 1243.2,354.7 1244.6,354.2 1246.6,354.1 1248.2,353.8 1248.7,353.1 1248,351.7 1246.9,350.1 1246.2,348.7 1246.7,347.8 1248.3,347.6 1250.3,347.7 1251.8,347.5 1252.1,346.7 1251.4,345.1 1250.6,343.3 1250.3,341.9 1251.2,341.3 1253,341.5 1254.9,341.9 1256.2,341.9 1256.5,340.9 1256.1,339.1 1255.8,337.1 1256.2,335.9 1257.5,335.8 1259.3,336.6 1260.9,337.5 1262,337.6 1262.5,336.5 1263,334.6 1263.7,332.8 1264.8,332.2 1266.1,333 1267.3,334.7 1268.2,336.2 1269,336.6 1270.2,335.8 1271.7,334.4 1273.2,333.5 1274.3,333.9 1274.8,335.5 1274.7,337.5 1274.8,339.1 1275.6,339.6 1277.1,339.2 1279,338.5 1280.6,338.5 1281.2,339.3 1280.8,341 1280.1,342.9 1279.9,344.2 1280.7,344.7 1282.5,344.6 1284.4,344.4 1285.7,344.8 1285.8,345.9 1284.9,347.5 1283.9,349.2 1283.8,350.3 1284.8,350.8 1286.7,350.8 1288.5,351 1289.4,351.6 1289.1,352.8 1287.9,354.4 1286.9,355.8 1286.9,356.8 1288.1,357.3 1290,357.5 1291.7,357.9 1292.3,358.7 1291.6,359.9 1290.2,361.3 1289.2,362.6 1289.4,363.5 1290.8,364 1292.8,364.4 1294.3,364.9 1294.5,365.8 1293.4,367.1 1292,368.4 1291.1,369.6 1291.6,370.4 1293.2,371 1295.1,371.4 1296.3,372.1 1296.1,373.1 1294.8,374.3 1293.3,375.6 1292.7,376.6 1293.4,377.4 1295.1,378 1296.9,378.6 1297.8,379.4 1297.3,380.4 1295.8,381.6 1294.4,382.7 1293.9,383.7 1294.9,384.5 1296.7,385.1 1298.3,385.8 1298.9,386.7 1298,387.7 1296.4,388.9 1295.1,389.9 1295,390.9 1296.1,391.6 1298,392.4 1299.4,393.1 1299.6,394 1298.4,395.1 1296.8,396.1 1295.6,397.1 1295.7,398 1297.1,398.8 1298.9,399.6 1300.1,400.5 1299.9,401.4 1298.5,402.4 1296.8,403.4 1295.9,404.3 1296.3,405.2 1297.9,406.1 1299.6,406.9 1300.5,407.8 1299.9,408.8 1298.3,409.7 1296.7,410.6 1296,411.5Z" fill="#fff" stroke="#000" stroke-width="1.6" />
<ellipse cx="1271.8" cy="338.6" rx="5.5" ry="2.8" fill="#fff" stroke="#000" stroke-width="1.6"/>
<ellipse cx="1276.9" cy="343.2" rx="5.5" ry="2.8" fill="#fff" stroke="#000" stroke-width="1.6"/>
<ellipse cx="1280.9" cy="348.8" rx="5.5" ry="2.8" fill="#fff" stroke="#000" stroke-width="1.6"/>
<ellipse cx="1284.2" cy="355.3" rx="5.5" ry="2.8" fill="#fff" stroke="#000" stroke-width="1.6"/>
<ellipse cx="1286.8" cy="361.9" rx="5.5" ry="2.8" fill="#fff" stroke="#000" stroke-width="1.6"/>
<ellipse cx="1288.7" cy="368.4" rx="5.5" ry="2.8" fill="#fff" stroke="#000" stroke-width="1.6"/>
<ellipse cx="1290.4" cy="375.4" rx="5.5" ry="2.8" fill="#fff" stroke="#000" stroke-width="1.6"/>
<ellipse cx="1291.7" cy="382.3" rx="5.5" ry="2.8" fill="#fff" stroke="#000" stroke-width="1.6"/>
<ellipse cx="1292.7" cy="388.9" rx="5.5" ry="2.8" fill="#fff" stroke="#000" stroke-width="1.6"/>
<ellipse cx="1293.4" cy="396.3" rx="5.5" ry="2.8" fill="#fff" stroke="#000" stroke-width="1.6"/>
<ellipse cx="1293.8" cy="403.3" rx="5.5" ry="2.8" fill="#fff" stroke="#000" stroke-width="1.6"/>
<ellipse cx="1294.0" cy="410.3" rx="5.5" ry="2.8" fill="#fff" stroke="#000" stroke-width="1.6"/>
<ellipse cx="1293.9" cy="416.8" rx="5.5" ry="2.8" fill="#fff" stroke="#000" stroke-width="1.6"/>
<ellipse cx="1293.6" cy="423.8" rx="5.5" ry="2.8" fill="#fff" stroke="#000" stroke-width="1.6"/>
<ellipse cx="1293.0" cy="431.3" rx="5.5" ry="2.8" fill="#fff" stroke="#000" stroke-width="1.6"/>
<ellipse cx="1292.1" cy="438.0" rx="5.5" ry="2.8" fill="#fff" stroke="#000" stroke-width="1.6"/>
<ellipse cx="1290.9" cy="445.0" rx="5.5" ry="2.8" fill="#fff" stroke="#000" stroke-width="1.6"/>
<ellipse cx="1289.5" cy="451.7" rx="5.5" ry="2.8" fill="#fff" stroke="#000" stroke-width="1.6"/>
<ellipse cx="1287.6" cy="458.4" rx="5.5" ry="2.8" fill="#fff" stroke="#000" stroke-width="1.6"/>
<ellipse cx="1285.3" cy="465.0" rx="5.5" ry="2.8" fill="#fff" stroke="#000" stroke-width="1.6"/>
<ellipse cx="1282.4" cy="471.5" rx="5.5" ry="2.8" fill="#fff" stroke="#000" stroke-width="1.6"/>
<ellipse cx="1279.0" cy="477.2" rx="5.5" ry="2.8" fill="#fff" stroke="#000" stroke-width="1.6"/>
<ellipse cx="1274.2" cy="482.7" rx="5.5" ry="2.8" fill="#fff" stroke="#000" stroke-width="1.6"/>
<ellipse cx="1262.0" cy="411.5" rx="24.0" ry="68.0" fill="none" stroke="#000" stroke-width="1.6" />
<ellipse cx="1266.0" cy="411.5" rx="14.0" ry="58.0" fill="none" stroke="#000" stroke-width="1.4" />
<path d="M1273.9,465.7 1273.1,464.9 1272.3,463.8 1271.5,462.5 1270.7,461 1270,459.2 1269.3,457.1 1268.6,454.9 1268,452.4 1267.4,449.7 1266.8,446.9 1266.3,443.8 1265.8,440.7 1265.4,437.3 1265,433.9 1264.7,430.3 1264.5,426.7 1264.3,423 1264.1,419.2 1264,415.4 1264,411.5 1264,407.7 1264.1,403.9 1264.3,400.1 1264.5,396.4 1264.7,392.7 1265,389.1 1265.4,385.7 1265.8,382.4 1266.3,379.2 1266.8,376.2 1267.4,373.3 1268,370.6 1268.6,368.2 1269.3,365.9 1270,363.9 1270.7,362.1 1271.5,360.5 1272.3,359.2 1273.1,358.2 1273.9,357.4" fill="none" stroke="#000" stroke-width="1.3" />
<path d="M1253.5,412 1253.4,417.3 1253.2,422.6 1252.8,427.9 1252.3,433.1 1251.6,438.1 1250.7,443.1 1249.8,447.9 1248.7,452.5 1247.4,456.9 1246,461.2 1244.5,465.1 1242.9,468.8 1241.2,472.3 1239.4,475.4 1237.5,478.2 1235.6,480.7 1233.5,482.9 1231.5,484.7 1229.3,486.2 1227.1,487.3 1224.9,488.1 1222.7,488.4 1220.5,488.4 1218.3,488.1 1216.1,487.3 1213.9,486.2 1211.7,484.7 1209.7,482.9 1207.6,480.7 1205.6,478.2 1203.8,475.4 1202,472.3 1200.3,468.8 1198.7,465.1 1197.2,461.2 1195.8,456.9 1194.5,452.5 1193.4,447.9 1192.5,443.1 1191.6,438.1 1190.9,433.1 1190.4,427.9 1190,422.6 1189.8,417.3 1189.7,412 1189.8,406.6 1190,401.3 1190.4,396.1 1190.9,390.9 1191.6,385.8 1192.5,380.9 1193.4,376.1 1194.5,371.4 1195.8,367 1197.2,362.8 1198.7,358.8 1200.3,355.1 1202,351.7 1203.8,348.6 1205.6,345.7 1207.6,343.2 1209.7,341.1 1211.7,339.2 1213.9,337.8 1216.1,336.6 1218.3,335.9 1220.5,335.5 1222.7,335.5 1224.9,335.9 1227.1,336.6 1229.3,337.8 1231.5,339.2 1233.5,341.1 1235.6,343.2 1237.5,345.7 1239.4,348.6 1241.2,351.7 1242.9,355.1 1244.5,358.8 1246,362.8 1247.4,367 1248.7,371.4 1249.8,376.1 1250.7,380.9 1251.6,385.8 1252.3,390.9 1252.8,396.1 1253.2,401.3 1253.4,406.6 1253.5,412Z M1241,412 1240.9,407.1 1240.8,402.2 1240.5,397.4 1240.1,392.7 1239.7,388 1239.1,383.5 1238.4,379.1 1237.6,374.9 1236.8,370.8 1235.8,367 1234.8,363.4 1233.7,360 1232.5,356.8 1231.2,354 1229.9,351.4 1228.6,349.1 1227.1,347.1 1225.7,345.4 1224.2,344.1 1222.7,343 1221.2,342.4 1219.6,342 1218.1,342 1216.5,342.4 1215,343 1213.5,344.1 1212,345.4 1210.6,347.1 1209.1,349.1 1207.8,351.4 1206.5,354 1205.2,356.8 1204,360 1202.9,363.4 1201.9,367 1200.9,370.8 1200.1,374.9 1199.3,379.1 1198.6,383.5 1198,388 1197.6,392.7 1197.2,397.4 1196.9,402.2 1196.8,407.1 1196.7,412 1196.8,416.9 1196.9,421.7 1197.2,426.5 1197.6,431.3 1198,435.9 1198.6,440.5 1199.3,444.8 1200.1,449.1 1200.9,453.1 1201.9,457 1202.9,460.6 1204,464 1205.2,467.1 1206.5,470 1207.8,472.6 1209.1,474.9 1210.6,476.9 1212,478.6 1213.5,479.9 1215,480.9 1216.5,481.6 1218.1,481.9 1219.6,481.9 1221.2,481.6 1222.7,480.9 1224.2,479.9 1225.7,478.6 1227.1,476.9 1228.6,474.9 1229.9,472.6 1231.2,470 1232.5,467.1 1233.7,464 1234.8,460.6 1235.8,457 1236.8,453.1 1237.6,449.1 1238.4,444.8 1239.1,440.5 1239.7,435.9 1240.1,431.3 1240.5,426.5 1240.8,421.7 1240.9,416.9 1241,412Z" fill="url(#tex)" stroke="#000" stroke-width="2.0" fill-rule="evenodd"/>
<path d="M1241,412 1240.9,407.1 1240.8,402.2 1240.5,397.4 1240.1,392.7 1239.7,388 1239.1,383.5 1238.4,379.1 1237.6,374.9 1236.8,370.8 1235.8,367 1234.8,363.4 1233.7,360 1232.5,356.8 1231.2,354 1229.9,351.4 1228.6,349.1 1227.1,347.1 1225.7,345.4 1224.2,344.1 1222.7,343 1221.2,342.4 1219.6,342 1218.1,342 1216.5,342.4 1215,343 1213.5,344.1 1212,345.4 1210.6,347.1 1209.1,349.1 1207.8,351.4 1206.5,354 1205.2,356.8 1204,360 1202.9,363.4 1201.9,367 1200.9,370.8 1200.1,374.9 1199.3,379.1 1198.6,383.5 1198,388 1197.6,392.7 1197.2,397.4 1196.9,402.2 1196.8,407.1 1196.7,412 1196.8,416.9 1196.9,421.7 1197.2,426.5 1197.6,431.3 1198,435.9 1198.6,440.5 1199.3,444.8 1200.1,449.1 1200.9,453.1 1201.9,457 1202.9,460.6 1204,464 1205.2,467.1 1206.5,470 1207.8,472.6 1209.1,474.9 1210.6,476.9 1212,478.6 1213.5,479.9 1215,480.9 1216.5,481.6 1218.1,481.9 1219.6,481.9 1221.2,481.6 1222.7,480.9 1224.2,479.9 1225.7,478.6 1227.1,476.9 1228.6,474.9 1229.9,472.6 1231.2,470 1232.5,467.1 1233.7,464 1234.8,460.6 1235.8,457 1236.8,453.1 1237.6,449.1 1238.4,444.8 1239.1,440.5 1239.7,435.9 1240.1,431.3 1240.5,426.5 1240.8,421.7 1240.9,416.9 1241,412Z M1238.5,412 1237.7,411.1 1235.8,410.2 1234,409.3 1233.5,408.5 1234.6,407.6 1236.6,406.6 1238.1,405.7 1238.2,404.8 1236.8,403.9 1234.7,403.1 1233.4,402.3 1233.6,401.4 1235.2,400.4 1237.1,399.4 1238.1,398.5 1237.4,397.6 1235.5,396.8 1233.6,396.1 1232.9,395.3 1233.8,394.3 1235.7,393.3 1237.2,392.2 1237.4,391.3 1236.1,390.5 1234,389.8 1232.5,389.1 1232.4,388.2 1233.9,387.2 1235.8,386.1 1236.8,385 1236.2,384.2 1234.4,383.5 1232.3,382.9 1231.4,382.2 1232.1,381.2 1233.8,380 1235.4,378.9 1235.7,377.9 1234.5,377.2 1232.3,376.7 1230.6,376.1 1230.4,375.3 1231.6,374.1 1233.4,372.9 1234.4,371.7 1234,370.9 1232.2,370.4 1230.1,370 1228.9,369.4 1229.3,368.4 1230.8,367.1 1232.4,365.8 1232.8,364.7 1231.6,364.1 1229.5,363.9 1227.6,363.5 1227,362.8 1228,361.6 1229.6,360.1 1230.6,358.8 1230.2,358 1228.5,357.7 1226.3,357.7 1224.9,357.5 1224.9,356.6 1226.1,355 1227.4,353.4 1227.7,352.2 1226.6,351.8 1224.5,352.2 1222.6,352.5 1221.8,352.3 1222.2,351 1223.2,349.1 1223.7,347.4 1223.1,346.8 1221.6,347.4 1220.1,348.9 1219.2,349.9 1219.1,349.7 1219,348 1218.3,346.1 1217.3,345.2 1216.7,346.1 1216.8,348 1217.4,349.9 1217.4,350.7 1216.3,350.4 1214.4,349.6 1212.6,349.1 1211.8,349.6 1212.3,351 1213.5,352.8 1214.3,354.3 1213.9,354.9 1212.2,354.9 1210,354.7 1208.6,355 1208.6,356 1209.8,357.5 1211.2,359 1211.7,360.1 1210.7,360.6 1208.7,360.8 1206.7,361 1205.9,361.7 1206.7,362.9 1208.3,364.3 1209.6,365.6 1209.5,366.5 1207.9,366.9 1205.7,367.2 1204.2,367.8 1204.2,368.7 1205.6,370 1207.3,371.3 1208.1,372.3 1207.4,373.1 1205.4,373.5 1203.4,374 1202.5,374.8 1203.2,375.8 1205,377.1 1206.5,378.2 1206.7,379.2 1205.4,379.8 1203.2,380.4 1201.6,381 1201.5,381.9 1202.9,383 1204.7,384.2 1205.8,385.2 1205.3,386 1203.5,386.7 1201.5,387.4 1200.5,388.1 1201.1,389.1 1202.9,390.2 1204.6,391.3 1205.1,392.2 1203.9,393 1201.9,393.7 1200.2,394.4 1200,395.3 1201.2,396.3 1203.2,397.4 1204.5,398.3 1204.2,399.2 1202.6,400 1200.6,400.8 1199.5,401.6 1200,402.5 1201.8,403.5 1203.6,404.5 1204.3,405.4 1203.4,406.2 1201.4,407.1 1199.7,407.9 1199.3,408.8 1200.5,409.7 1202.5,410.7 1204,411.5 1204,412.4 1202.5,413.3 1200.5,414.2 1199.3,415.1 1199.7,416 1201.4,416.9 1203.4,417.7 1204.3,418.6 1203.6,419.5 1201.8,420.5 1200,421.4 1199.5,422.3 1200.6,423.2 1202.6,424 1204.2,424.8 1204.5,425.6 1203.2,426.6 1201.2,427.6 1200,428.6 1200.2,429.5 1201.9,430.3 1203.9,431 1205.1,431.8 1204.6,432.7 1202.9,433.8 1201.1,434.8 1200.5,435.8 1201.5,436.6 1203.5,437.3 1205.3,437.9 1205.8,438.8 1204.7,439.8 1202.9,440.9 1201.5,442 1201.6,442.9 1203.2,443.6 1205.4,444.2 1206.7,444.8 1206.5,445.7 1205,446.9 1203.2,448.1 1202.5,449.2 1203.4,449.9 1205.4,450.4 1207.4,450.9 1208.1,451.6 1207.3,452.7 1205.6,454 1204.2,455.3 1204.2,456.2 1205.7,456.7 1207.9,457 1209.5,457.5 1209.6,458.4 1208.3,459.6 1206.7,461.1 1205.9,462.3 1206.7,462.9 1208.7,463.2 1210.7,463.3 1211.7,463.8 1211.2,464.9 1209.8,466.5 1208.6,468 1208.6,469 1210,469.2 1212.2,469.1 1213.9,469 1214.3,469.7 1213.5,471.1 1212.3,472.9 1211.8,474.4 1212.6,474.9 1214.4,474.4 1216.3,473.5 1217.4,473.2 1217.4,474.1 1216.8,476 1216.7,477.9 1217.3,478.8 1218.3,477.9 1219,476 1219.1,474.3 1219.2,474 1220.1,475.1 1221.6,476.5 1223.1,477.2 1223.7,476.5 1223.2,474.8 1222.2,472.9 1221.8,471.7 1222.6,471.4 1224.5,471.8 1226.6,472.1 1227.7,471.8 1227.4,470.6 1226.1,468.9 1224.9,467.4 1224.9,466.5 1226.3,466.2 1228.5,466.2 1230.2,466 1230.6,465.2 1229.6,463.8 1228,462.3 1227,461.1 1227.6,460.4 1229.5,460.1 1231.6,459.8 1232.8,459.3 1232.4,458.2 1230.8,456.9 1229.3,455.5 1228.9,454.6 1230.1,454 1232.2,453.6 1234,453.1 1234.4,452.3 1233.4,451.1 1231.6,449.8 1230.4,448.7 1230.6,447.9 1232.3,447.3 1234.5,446.8 1235.7,446.1 1235.4,445.1 1233.8,443.9 1232.1,442.8 1231.4,441.8 1232.3,441 1234.4,440.4 1236.2,439.8 1236.8,439 1235.8,437.9 1233.9,436.8 1232.4,435.7 1232.5,434.9 1234,434.1 1236.1,433.4 1237.4,432.7 1237.2,431.8 1235.7,430.7 1233.8,429.7 1232.9,428.7 1233.6,427.9 1235.5,427.1 1237.4,426.4 1238.1,425.5 1237.1,424.5 1235.2,423.5 1233.6,422.6 1233.4,421.7 1234.7,420.9 1236.8,420 1238.2,419.2 1238.1,418.3 1236.6,417.3 1234.6,416.4 1233.5,415.5 1234,414.6 1235.8,413.8 1237.7,412.9 1238.5,412Z" fill="#fff" stroke="#000" stroke-width="0" fill-rule="evenodd"/>
<path d="M1238.5,412 1237.7,412.9 1235.8,413.8 1234,414.6 1233.5,415.5 1234.6,416.4 1236.6,417.3 1238.1,418.3 1238.2,419.2 1236.8,420 1234.7,420.9 1233.4,421.7 1233.6,422.6 1235.2,423.5 1237.1,424.5 1238.1,425.5 1237.4,426.4 1235.5,427.1 1233.6,427.9 1232.9,428.7 1233.8,429.7 1235.7,430.7 1237.2,431.8 1237.4,432.7 1236.1,433.4 1234,434.1 1232.5,434.9 1232.4,435.7 1233.9,436.8 1235.8,437.9 1236.8,439 1236.2,439.8 1234.4,440.4 1232.3,441 1231.4,441.8 1232.1,442.8 1233.8,443.9 1235.4,445.1 1235.7,446.1 1234.5,446.8 1232.3,447.3 1230.6,447.9 1230.4,448.7 1231.6,449.8 1233.4,451.1 1234.4,452.3 1234,453.1 1232.2,453.6 1230.1,454 1228.9,454.6 1229.3,455.5 1230.8,456.9 1232.4,458.2 1232.8,459.3 1231.6,459.8 1229.5,460.1 1227.6,460.4 1227,461.1 1228,462.3 1229.6,463.8 1230.6,465.2 1230.2,466 1228.5,466.2 1226.3,466.2 1224.9,466.5 1224.9,467.4 1226.1,468.9 1227.4,470.6 1227.7,471.8 1226.6,472.1 1224.5,471.8 1222.6,471.4 1221.8,471.7 1222.2,472.9 1223.2,474.8 1223.7,476.5 1223.1,477.2 1221.6,476.5 1220.1,475.1 1219.2,474 1219.1,474.3 1219,476 1218.3,477.9 1217.3,478.8 1216.7,477.9 1216.8,476 1217.4,474.1 1217.4,473.2 1216.3,473.5 1214.4,474.4 1212.6,474.9 1211.8,474.4 1212.3,472.9 1213.5,471.1 1214.3,469.7 1213.9,469 1212.2,469.1 1210,469.2 1208.6,469 1208.6,468 1209.8,466.5 1211.2,464.9 1211.7,463.8 1210.7,463.3 1208.7,463.2 1206.7,462.9 1205.9,462.3 1206.7,461.1 1208.3,459.6 1209.6,458.4 1209.5,457.5 1207.9,457 1205.7,456.7 1204.2,456.2 1204.2,455.3 1205.6,454 1207.3,452.7 1208.1,451.6 1207.4,450.9 1205.4,450.4 1203.4,449.9 1202.5,449.2 1203.2,448.1 1205,446.9 1206.5,445.7 1206.7,444.8 1205.4,444.2 1203.2,443.6 1201.6,442.9 1201.5,442 1202.9,440.9 1204.7,439.8 1205.8,438.8 1205.3,437.9 1203.5,437.3 1201.5,436.6 1200.5,435.8 1201.1,434.8 1202.9,433.8 1204.6,432.7 1205.1,431.8 1203.9,431 1201.9,430.3 1200.2,429.5 1200,428.6 1201.2,427.6 1203.2,426.6 1204.5,425.6 1204.2,424.8 1202.6,424 1200.6,423.2 1199.5,422.3 1200,421.4 1201.8,420.5 1203.6,419.5 1204.3,418.6 1203.4,417.7 1201.4,416.9 1199.7,416 1199.3,415.1 1200.5,414.2 1202.5,413.3 1204,412.4 1204,411.5 1202.5,410.7 1200.5,409.7 1199.3,408.8 1199.7,407.9 1201.4,407.1 1203.4,406.2 1204.3,405.4 1203.6,404.5 1201.8,403.5 1200,402.5 1199.5,401.6 1200.6,400.8 1202.6,400 1204.2,399.2 1204.5,398.3 1203.2,397.4 1201.2,396.3 1200,395.3 1200.2,394.4 1201.9,393.7 1203.9,393 1205.1,392.2 1204.6,391.3 1202.9,390.2 1201.1,389.1 1200.5,388.1 1201.5,387.4 1203.5,386.7 1205.3,386 1205.8,385.2 1204.7,384.2 1202.9,383 1201.5,381.9 1201.6,381 1203.2,380.4 1205.4,379.8 1206.7,379.2 1206.5,378.2 1205,377.1 1203.2,375.8 1202.5,374.8 1203.4,374 1205.4,373.5 1207.4,373.1 1208.1,372.3 1207.3,371.3 1205.6,370 1204.2,368.7 1204.2,367.8 1205.7,367.2 1207.9,366.9 1209.5,366.5 1209.6,365.6 1208.3,364.3 1206.7,362.9 1205.9,361.7 1206.7,361 1208.7,360.8 1210.7,360.6 1211.7,360.1 1211.2,359 1209.8,357.5 1208.6,356 1208.6,355 1210,354.7 1212.2,354.9 1213.9,354.9 1214.3,354.3 1213.5,352.8 1212.3,351 1211.8,349.6 1212.6,349.1 1214.4,349.6 1216.3,350.4 1217.4,350.7 1217.4,349.9 1216.8,348 1216.7,346.1 1217.3,345.2 1218.3,346.1 1219,348 1219.1,349.7 1219.2,349.9 1220.1,348.9 1221.6,347.4 1223.1,346.8 1223.7,347.4 1223.2,349.1 1222.2,351 1221.8,352.3 1222.6,352.5 1224.5,352.2 1226.6,351.8 1227.7,352.2 1227.4,353.4 1226.1,355 1224.9,356.6 1224.9,357.5 1226.3,357.7 1228.5,357.7 1230.2,358 1230.6,358.8 1229.6,360.1 1228,361.6 1227,362.8 1227.6,363.5 1229.5,363.9 1231.6,364.1 1232.8,364.7 1232.4,365.8 1230.8,367.1 1229.3,368.4 1228.9,369.4 1230.1,370 1232.2,370.4 1234,370.9 1234.4,371.7 1233.4,372.9 1231.6,374.1 1230.4,375.3 1230.6,376.1 1232.3,376.7 1234.5,377.2 1235.7,377.9 1235.4,378.9 1233.8,380 1232.1,381.2 1231.4,382.2 1232.3,382.9 1234.4,383.5 1236.2,384.2 1236.8,385 1235.8,386.1 1233.9,387.2 1232.4,388.2 1232.5,389.1 1234,389.8 1236.1,390.5 1237.4,391.3 1237.2,392.2 1235.7,393.3 1233.8,394.3 1232.9,395.3 1233.6,396.1 1235.5,396.8 1237.4,397.6 1238.1,398.5 1237.1,399.4 1235.2,400.4 1233.6,401.4 1233.4,402.3 1234.7,403.1 1236.8,403.9 1238.2,404.8 1238.1,405.7 1236.6,406.6 1234.6,407.6 1233.5,408.5 1234,409.3 1235.8,410.2 1237.7,411.1 1238.5,412Z" fill="none" stroke="#000" stroke-width="2.4" />
<path d="M1223.9,472.1 1222.9,471.2 1221.8,470 1220.8,468.5 1219.8,466.8 1218.8,464.8 1217.9,462.6 1217.1,460.1 1216.2,457.3 1215.4,454.4 1214.7,451.2 1214.1,447.8 1213.5,444.3 1212.9,440.6 1212.4,436.8 1212,432.8 1211.7,428.8 1211.4,424.7 1211.2,420.5 1211.1,416.2 1211.1,412 1211.1,407.7 1211.2,403.5 1211.4,399.3 1211.7,395.2 1212,391.1 1212.4,387.2 1212.9,383.3 1213.5,379.7 1214.1,376.1 1214.7,372.8 1215.4,369.6 1216.2,366.7 1217.1,363.9 1217.9,361.4 1218.8,359.2 1219.8,357.2 1220.8,355.4 1221.8,354 1222.9,352.8 1223.9,351.9" fill="none" stroke="#000" stroke-width="1.8" />
<path d="M1227.4,472.1 1226.4,471.2 1225.3,470 1224.3,468.5 1223.3,466.8 1222.3,464.8 1221.4,462.6 1220.6,460.1 1219.7,457.3 1218.9,454.4 1218.2,451.2 1217.6,447.8 1217,444.3 1216.4,440.6 1215.9,436.8 1215.5,432.8 1215.2,428.8 1214.9,424.7 1214.7,420.5 1214.6,416.2 1214.6,412 1214.6,407.7 1214.7,403.5 1214.9,399.3 1215.2,395.2 1215.5,391.1 1215.9,387.2 1216.4,383.3 1217,379.7 1217.6,376.1 1218.2,372.8 1218.9,369.6 1219.7,366.7 1220.6,363.9 1221.4,361.4 1222.3,359.2 1223.3,357.2 1224.3,355.4 1225.3,354 1226.4,352.8 1227.4,351.9" fill="none" stroke="#000" stroke-width="1.4" />
<path d="M1136.9,398.8 1136.5,397.9 1135.3,396.9 1134,395.8 1133.4,394.9 1133.9,394 1135.1,393.2 1136.6,392.4 1137.5,391.6 1137.3,390.6 1136.3,389.6 1135,388.6 1134.2,387.5 1134.4,386.6 1135.5,385.8 1137,385.1 1138.2,384.3 1138.4,383.5 1137.6,382.4 1136.3,381.3 1135.4,380.2 1135.3,379.3 1136.2,378.5 1137.7,377.8 1139.1,377.1 1139.6,376.3 1139.1,375.3 1137.9,374.1 1136.9,373 1136.6,372 1137.3,371.2 1138.7,370.6 1140.2,370 1141.1,369.2 1140.9,368.2 1139.9,367.1 1138.8,365.8 1138.3,364.8 1138.8,363.9 1140.1,363.3 1141.7,362.8 1142.8,362.2 1142.9,361.3 1142.2,360.1 1141.1,358.8 1140.5,357.6 1140.7,356.7 1141.9,356.1 1143.5,355.7 1144.9,355.2 1145.4,354.4 1144.9,353.3 1144,351.9 1143.2,350.6 1143.3,349.6 1144.3,349 1145.9,348.7 1147.5,348.4 1148.3,347.8 1148.2,346.7 1147.5,345.3 1146.8,343.9 1146.7,342.7 1147.6,342.1 1149.1,341.9 1150.8,341.9 1151.9,341.5 1152.2,340.6 1151.8,339.2 1151.3,337.6 1151.3,336.2 1152.1,335.6 1153.6,335.6 1155.2,335.9 1156.6,336 1157.3,335.4 1157.5,334.1 1157.6,332.4 1158,330.9 1159,330.2 1160.3,330.6 1161.8,331.6 1163,332.5 1164,332.7 1164.9,331.9 1165.9,330.6 1167.2,329.5 1168.5,329.4 1169.5,330.3 1170,331.9 1170.3,333.5 1170.9,334.5 1171.9,334.6 1173.4,334.1 1175,333.7 1176.3,333.9 1176.8,334.8 1176.7,336.4 1176.3,338 1176.3,339.3 1177,339.9 1178.4,340 1180.1,339.9 1181.4,340.2 1181.9,341 1181.6,342.4 1180.9,343.9 1180.4,345.2 1180.7,346.1 1181.9,346.5 1183.6,346.7 1185,347.1 1185.7,347.8 1185.4,349 1184.5,350.4 1183.7,351.7 1183.7,352.7 1184.6,353.3 1186.2,353.7 1187.7,354.1 1188.6,354.8 1188.4,355.9 1187.5,357.1 1186.5,358.4 1186.1,359.5 1186.7,360.3 1188.1,360.8 1186.7,361.3 1187.9,365.7 1189,370.3 1190,375.1 1190.8,380.1 1191.6,385.3 1192.2,390.6 1192.7,396 1193,401.5 1193.2,407.1 1193.3,412.7 1193.2,418.3 1193,423.8 1192.7,429.3 1192.2,434.7 1191.6,440 1190.8,445.2 1190,450.2 1189,455.1 1187.9,459.7 1186.7,464.1 1186.7,464.1 1186.9,465.1 1187.8,466.4 1188.8,467.7 1189.2,468.8 1188.5,469.5 1187.1,470 1185.5,470.4 1184.4,471 1184.3,471.9 1185,473.2 1185.9,474.5 1186.4,475.8 1186,476.6 1184.7,477.1 1183,477.3 1181.7,477.7 1181.2,478.4 1181.5,479.7 1182.3,481.2 1182.8,482.5 1182.6,483.5 1181.4,483.9 1179.7,484 1178.2,484.1 1177.4,484.6 1177.3,485.7 1177.8,487.3 1178.1,488.8 1177.8,490 1176.8,490.4 1175.2,490.2 1173.6,489.8 1172.4,489.9 1171.9,490.7 1171.7,492.2 1171.5,493.9 1170.8,495.1 1169.7,495.4 1168.3,494.7 1166.9,493.6 1165.9,492.8 1164.9,492.8 1163.9,493.8 1162.7,495 1161.3,495.8 1160.2,495.6 1159.4,494.4 1159.1,492.7 1158.8,491.2 1158.2,490.4 1157,490.5 1155.4,490.9 1153.8,491.2 1152.7,490.8 1152.5,489.6 1152.8,488 1153.1,486.5 1153,485.4 1152.1,484.9 1150.6,484.9 1148.9,484.8 1147.8,484.4 1147.5,483.4 1148,482 1148.8,480.5 1149.1,479.3 1148.6,478.6 1147.2,478.2 1145.5,478 1144.2,477.6 1143.8,476.7 1144.3,475.5 1145.3,474.1 1145.9,472.8 1145.7,471.9 1144.6,471.4 1143,471 1141.6,470.5 1141,469.7 1141.3,468.6 1142.3,467.3 1143.2,466.1 1143.4,465 1142.6,464.3 1141.1,463.8 1139.6,463.3 1138.8,462.6 1138.9,461.6 1139.9,460.4 1141,459.1 1141.5,458.1 1141,457.3 1139.7,456.6 1138.1,456 1137.1,455.3 1137,454.4 1137.8,453.3 1139,452.1 1139.8,451 1139.7,450.1 1138.6,449.4 1137.1,448.8 1135.8,448 1135.5,447.2 1136.1,446.1 1137.3,445 1138.4,443.9 1138.6,443 1137.8,442.2 1136.4,441.5 1135,440.7 1134.4,439.9 1134.8,438.9 1135.9,437.8 1137.2,436.8 1137.7,435.8 1137.2,434.9 1135.9,434.2 1134.5,433.4 1133.6,432.5 1133.8,431.6 1134.8,430.6 1136.1,429.6 1137,428.6 1136.8,427.7 1135.8,426.9 1134.3,426 1133.2,425.2 1133.1,424.3 1133.9,423.3 1135.3,422.3 1136.4,421.4 1136.6,420.5 1135.8,419.6 1134.4,418.7 1133.2,417.8 1132.7,416.9 1133.4,416 1134.7,415.1 1136,414.2 1136.5,413.2 1136,412.3 1134.7,411.4 1133.4,410.5 1132.7,409.6 1133.1,408.7 1134.3,407.8 1135.7,406.9 1136.5,406 1136.4,405.1 1135.3,404.2 1134,403.2 1133.1,402.2 1133.1,401.3 1134.2,400.5 1135.6,399.6 1136.7,398.8Z M1190.3,412.7 1190.2,407.6 1190.1,402.5 1189.8,397.5 1189.4,392.6 1188.9,387.7 1188.4,383 1187.7,378.4 1186.9,374 1186,369.8 1185.1,365.8 1184,362 1182.9,358.4 1181.7,355.2 1180.4,352.2 1179.1,349.5 1177.7,347.1 1176.3,345 1174.8,343.3 1173.3,341.8 1171.8,340.8 1170.2,340.1 1168.7,339.7 1167.1,339.7 1165.6,340.1 1164,340.8 1162.5,341.8 1161,343.3 1159.5,345 1158.1,347.1 1156.7,349.5 1155.4,352.2 1154.1,355.2 1152.9,358.4 1151.8,362 1150.7,365.8 1149.8,369.8 1148.9,374 1148.1,378.4 1147.4,383 1146.9,387.7 1146.4,392.6 1146,397.5 1145.7,402.5 1145.6,407.6 1145.5,412.7 1145.6,417.8 1145.7,422.8 1146,427.9 1146.4,432.8 1146.9,437.6 1147.4,442.4 1148.1,447 1148.9,451.4 1149.8,455.6 1150.7,459.6 1151.8,463.4 1152.9,466.9 1154.1,470.2 1155.4,473.2 1156.7,475.9 1158.1,478.3 1159.5,480.4 1161,482.1 1162.5,483.5 1164,484.6 1165.6,485.3 1167.1,485.6 1168.7,485.6 1170.2,485.3 1171.8,484.6 1173.3,483.5 1174.8,482.1 1176.3,480.4 1177.7,478.3 1179.1,475.9 1180.4,473.2 1181.7,470.2 1182.9,466.9 1184,463.4 1185.1,459.6 1186,455.6 1186.9,451.4 1187.7,447 1188.4,442.4 1188.9,437.6 1189.4,432.8 1189.8,427.9 1190.1,422.8 1190.2,417.8 1190.3,412.7Z" fill="#fff" stroke="#000" stroke-width="1.8" fill-rule="evenodd"/>
<path d="M1173.4,344.7 1174.8,345.7 1176.2,347.1 1177.5,348.7 1178.8,350.7 1180.1,352.9 1181.3,355.5 1182.5,358.3 1183.6,361.4 1184.6,364.7 1185.5,368.3 1186.4,372.1 1187.2,376.1 1187.9,380.3 1188.5,384.6 1189.1,389.1 1189.5,393.7 1189.9,398.3 1190.1,403.1 1190.3,407.9 1190.3,412.7 1190.3,417.5 1190.1,422.3 1189.9,427 1189.5,431.7 1189.1,436.3 1188.5,440.7 1187.9,445.1 1187.2,449.2 1186.4,453.2 1185.5,457 1184.6,460.6 1183.6,464 1182.5,467.1 1181.3,469.9 1180.1,472.4 1178.8,474.7 1177.5,476.7 1176.2,478.3 1174.8,479.6 1173.4,480.6" fill="none" stroke="#000" stroke-width="1.4" />
<path d="M1179.3,412.7 1179.2,418 1179,423.3 1178.7,428.6 1178.2,433.8 1177.6,438.8 1176.9,443.8 1176.1,448.6 1175.1,453.2 1174.1,457.6 1172.9,461.9 1171.6,465.8 1170.2,469.5 1168.8,473 1167.2,476.1 1165.6,478.9 1163.9,481.4 1162.2,483.6 1160.4,485.4 1158.5,486.9 1156.7,488 1154.8,488.8 1152.9,489.1 1150.9,489.1 1149,488.8 1147.1,488 1145.3,486.9 1143.4,485.4 1141.6,483.6 1139.9,481.4 1138.2,478.9 1136.6,476.1 1135,473 1133.6,469.5 1132.2,465.8 1130.9,461.9 1129.7,457.6 1128.7,453.2 1127.7,448.6 1126.9,443.8 1126.2,438.8 1125.6,433.8 1125.1,428.6 1124.8,423.3 1124.6,418 1124.5,412.7 1124.6,407.3 1124.8,402 1125.1,396.8 1125.6,391.6 1126.2,386.5 1126.9,381.6 1127.7,376.8 1128.7,372.1 1129.7,367.7 1130.9,363.5 1132.2,359.5 1133.6,355.8 1135,352.4 1136.6,349.3 1138.2,346.4 1139.9,343.9 1141.6,341.8 1143.4,339.9 1145.3,338.5 1147.1,337.3 1149,336.6 1150.9,336.2 1152.9,336.2 1154.8,336.6 1156.7,337.3 1158.5,338.5 1160.4,339.9 1162.2,341.8 1163.9,343.9 1165.6,346.4 1167.2,349.3 1168.8,352.4 1170.2,355.8 1171.6,359.5 1172.9,363.5 1174.1,367.7 1175.1,372.1 1176.1,376.8 1176.9,381.6 1177.6,386.5 1178.2,391.6 1178.7,396.8 1179,402 1179.2,407.3 1179.3,412.7Z M1167.8,412.7 1167.8,407.8 1167.6,402.9 1167.4,398.1 1167.1,393.4 1166.7,388.7 1166.2,384.2 1165.6,379.8 1165,375.6 1164.3,371.5 1163.5,367.7 1162.6,364.1 1161.7,360.7 1160.7,357.5 1159.7,354.6 1158.6,352.1 1157.5,349.8 1156.3,347.8 1155.1,346.1 1153.9,344.8 1152.6,343.7 1151.3,343.1 1150,342.7 1148.8,342.7 1147.5,343.1 1146.2,343.7 1144.9,344.8 1143.7,346.1 1142.5,347.8 1141.3,349.8 1140.2,352.1 1139.1,354.6 1138.1,357.5 1137.1,360.7 1136.2,364.1 1135.3,367.7 1134.5,371.5 1133.8,375.6 1133.2,379.8 1132.6,384.2 1132.1,388.7 1131.7,393.4 1131.4,398.1 1131.2,402.9 1131,407.8 1131,412.7 1131,417.6 1131.2,422.4 1131.4,427.2 1131.7,432 1132.1,436.6 1132.6,441.2 1133.2,445.5 1133.8,449.8 1134.5,453.8 1135.3,457.7 1136.2,461.3 1137.1,464.7 1138.1,467.8 1139.1,470.7 1140.2,473.3 1141.3,475.6 1142.5,477.6 1143.7,479.3 1144.9,480.6 1146.2,481.6 1147.5,482.3 1148.8,482.6 1150,482.6 1151.3,482.3 1152.6,481.6 1153.9,480.6 1155.1,479.3 1156.3,477.6 1157.5,475.6 1158.6,473.3 1159.7,470.7 1160.7,467.8 1161.7,464.7 1162.6,461.3 1163.5,457.7 1164.3,453.8 1165,449.8 1165.6,445.5 1166.2,441.2 1166.7,436.6 1167.1,432 1167.4,427.2 1167.6,422.4 1167.8,417.6 1167.8,412.7Z" fill="url(#tex)" stroke="#000" stroke-width="2.0" fill-rule="evenodd"/>
<path d="M1167.8,412.7 1167.8,407.8 1167.6,402.9 1167.4,398.1 1167.1,393.4 1166.7,388.7 1166.2,384.2 1165.6,379.8 1165,375.6 1164.3,371.5 1163.5,367.7 1162.6,364.1 1161.7,360.7 1160.7,357.5 1159.7,354.6 1158.6,352.1 1157.5,349.8 1156.3,347.8 1155.1,346.1 1153.9,344.8 1152.6,343.7 1151.3,343.1 1150,342.7 1148.8,342.7 1147.5,343.1 1146.2,343.7 1144.9,344.8 1143.7,346.1 1142.5,347.8 1141.3,349.8 1140.2,352.1 1139.1,354.6 1138.1,357.5 1137.1,360.7 1136.2,364.1 1135.3,367.7 1134.5,371.5 1133.8,375.6 1133.2,379.8 1132.6,384.2 1132.1,388.7 1131.7,393.4 1131.4,398.1 1131.2,402.9 1131,407.8 1131,412.7 1131,417.6 1131.2,422.4 1131.4,427.2 1131.7,432 1132.1,436.6 1132.6,441.2 1133.2,445.5 1133.8,449.8 1134.5,453.8 1135.3,457.7 1136.2,461.3 1137.1,464.7 1138.1,467.8 1139.1,470.7 1140.2,473.3 1141.3,475.6 1142.5,477.6 1143.7,479.3 1144.9,480.6 1146.2,481.6 1147.5,482.3 1148.8,482.6 1150,482.6 1151.3,482.3 1152.6,481.6 1153.9,480.6 1155.1,479.3 1156.3,477.6 1157.5,475.6 1158.6,473.3 1159.7,470.7 1160.7,467.8 1161.7,464.7 1162.6,461.3 1163.5,457.7 1164.3,453.8 1165,449.8 1165.6,445.5 1166.2,441.2 1166.7,436.6 1167.1,432 1167.4,427.2 1167.6,422.4 1167.8,417.6 1167.8,412.7Z M1165.3,412.7 1164.5,411.8 1162.6,410.9 1160.8,410 1160.3,409.1 1161.5,408.2 1163.4,407.3 1165,406.4 1165,405.5 1163.6,404.6 1161.5,403.8 1160.2,402.9 1160.5,402 1162.1,401.1 1164,400.1 1165,399.2 1164.3,398.3 1162.3,397.5 1160.5,396.7 1159.8,395.9 1160.8,394.9 1162.7,393.9 1164.2,392.9 1164.4,392 1163,391.2 1160.9,390.5 1159.5,389.7 1159.5,388.8 1161,387.8 1162.9,386.7 1163.9,385.7 1163.3,384.8 1161.4,384.1 1159.4,383.5 1158.6,382.7 1159.3,381.7 1161.1,380.6 1162.7,379.5 1163,378.5 1161.7,377.8 1159.6,377.2 1158,376.6 1157.8,375.7 1159.1,374.6 1161,373.4 1162,372.3 1161.5,371.5 1159.7,370.9 1157.6,370.4 1156.5,369.8 1157,368.8 1158.7,367.5 1160.3,366.2 1160.6,365.2 1159.4,364.6 1157.2,364.2 1155.4,363.8 1155,363 1156.1,361.8 1157.8,360.4 1158.8,359.2 1158.4,358.4 1156.6,358.1 1154.4,357.9 1153.1,357.5 1153.4,356.5 1154.7,355.1 1156.1,353.5 1156.3,352.4 1155.1,352 1153,352.2 1151.2,352.5 1150.5,352.1 1151.1,350.8 1152.2,349 1152.7,347.4 1152,346.8 1150.5,347.7 1149.4,349.5 1149.3,350.6 1149.5,350.2 1148.9,348.6 1147.5,347.1 1146.3,346.9 1146.2,348.1 1147.1,349.9 1148.1,351.6 1148.1,352.4 1146.8,352.4 1144.7,352.1 1142.9,352.1 1142.4,352.9 1143.3,354.3 1144.8,355.9 1145.7,357.1 1145.2,357.8 1143.4,358 1141.2,358.2 1140,358.7 1140.3,359.8 1141.8,361.1 1143.4,362.5 1143.8,363.5 1142.6,364.1 1140.5,364.4 1138.6,364.9 1138.2,365.7 1139.2,366.8 1141,368.1 1142.2,369.3 1141.9,370.1 1140.2,370.7 1138.1,371.2 1136.8,371.8 1137.1,372.8 1138.7,374 1140.5,375.2 1141.1,376.2 1140.2,376.9 1138.1,377.5 1136.3,378.1 1135.7,379 1136.7,380 1138.6,381.2 1140,382.2 1140,383.1 1138.4,383.8 1136.3,384.5 1135,385.2 1135.2,386.2 1136.8,387.2 1138.7,388.3 1139.5,389.3 1138.8,390.1 1136.8,390.8 1134.9,391.6 1134.3,392.4 1135.2,393.4 1137.1,394.4 1138.7,395.4 1138.9,396.3 1137.5,397.1 1135.4,397.9 1134,398.7 1134.1,399.6 1135.7,400.6 1137.6,401.6 1138.7,402.5 1138.1,403.4 1136.3,404.2 1134.3,405 1133.6,405.9 1134.5,406.8 1136.4,407.8 1138.1,408.7 1138.5,409.6 1137.2,410.5 1135.2,411.3 1133.7,412.2 1133.7,413.1 1135.2,414 1137.2,414.9 1138.5,415.8 1138.1,416.7 1136.4,417.6 1134.5,418.5 1133.6,419.4 1134.3,420.3 1136.3,421.2 1138.1,422 1138.7,422.9 1137.6,423.8 1135.7,424.8 1134.1,425.7 1134,426.6 1135.4,427.5 1137.5,428.2 1138.9,429.1 1138.7,430 1137.1,430.9 1135.2,432 1134.3,432.9 1134.9,433.8 1136.8,434.5 1138.8,435.3 1139.5,436.1 1138.7,437.1 1136.8,438.1 1135.2,439.2 1135,440.1 1136.3,440.9 1138.4,441.5 1140,442.3 1140,443.1 1138.6,444.2 1136.7,445.3 1135.7,446.4 1136.3,447.2 1138.1,447.9 1140.2,448.4 1141.1,449.2 1140.5,450.2 1138.7,451.4 1137.1,452.5 1136.8,453.5 1138.1,454.2 1140.2,454.7 1141.9,455.2 1142.2,456.1 1141,457.2 1139.2,458.5 1138.2,459.7 1138.6,460.5 1140.5,461 1142.6,461.3 1143.8,461.9 1143.4,462.9 1141.8,464.2 1140.3,465.6 1140,466.7 1141.2,467.2 1143.4,467.4 1145.2,467.6 1145.7,468.3 1144.8,469.5 1143.3,471.1 1142.4,472.5 1142.9,473.2 1144.7,473.3 1146.8,473 1148.1,473 1148.1,473.8 1147.1,475.4 1146.2,477.3 1146.3,478.4 1147.5,478.2 1148.9,476.8 1149.5,475.2 1149.3,474.7 1149.4,475.9 1150.5,477.6 1152,478.5 1152.7,478 1152.2,476.4 1151.1,474.5 1150.5,473.3 1151.2,472.9 1153,473.1 1155.1,473.3 1156.3,472.9 1156.1,471.8 1154.7,470.3 1153.4,468.8 1153.1,467.9 1154.4,467.4 1156.6,467.3 1158.4,467 1158.8,466.2 1157.8,464.9 1156.1,463.5 1155,462.3 1155.4,461.6 1157.2,461.1 1159.4,460.8 1160.6,460.1 1160.3,459.1 1158.7,457.9 1157,456.6 1156.5,455.6 1157.6,454.9 1159.7,454.4 1161.5,453.9 1162,453.1 1161,452 1159.1,450.8 1157.8,449.6 1158,448.8 1159.6,448.1 1161.7,447.6 1163,446.8 1162.7,445.9 1161.1,444.8 1159.3,443.6 1158.6,442.7 1159.4,441.9 1161.4,441.2 1163.3,440.5 1163.9,439.7 1162.9,438.7 1161,437.6 1159.5,436.6 1159.5,435.7 1160.9,434.9 1163,434.2 1164.4,433.4 1164.2,432.5 1162.7,431.5 1160.8,430.4 1159.8,429.5 1160.5,428.6 1162.3,427.9 1164.3,427.1 1165,426.2 1164,425.3 1162.1,424.3 1160.5,423.3 1160.2,422.4 1161.5,421.6 1163.6,420.7 1165,419.9 1165,419 1163.4,418.1 1161.5,417.1 1160.3,416.2 1160.8,415.3 1162.6,414.5 1164.5,413.6 1165.3,412.7Z" fill="#fff" stroke="#000" stroke-width="0" fill-rule="evenodd"/>
<path d="M1165.3,412.7 1164.5,413.6 1162.6,414.5 1160.8,415.3 1160.3,416.2 1161.5,417.1 1163.4,418.1 1165,419 1165,419.9 1163.6,420.7 1161.5,421.6 1160.2,422.4 1160.5,423.3 1162.1,424.3 1164,425.3 1165,426.2 1164.3,427.1 1162.3,427.9 1160.5,428.6 1159.8,429.5 1160.8,430.4 1162.7,431.5 1164.2,432.5 1164.4,433.4 1163,434.2 1160.9,434.9 1159.5,435.7 1159.5,436.6 1161,437.6 1162.9,438.7 1163.9,439.7 1163.3,440.5 1161.4,441.2 1159.4,441.9 1158.6,442.7 1159.3,443.6 1161.1,444.8 1162.7,445.9 1163,446.8 1161.7,447.6 1159.6,448.1 1158,448.8 1157.8,449.6 1159.1,450.8 1161,452 1162,453.1 1161.5,453.9 1159.7,454.4 1157.6,454.9 1156.5,455.6 1157,456.6 1158.7,457.9 1160.3,459.1 1160.6,460.1 1159.4,460.8 1157.2,461.1 1155.4,461.6 1155,462.3 1156.1,463.5 1157.8,464.9 1158.8,466.2 1158.4,467 1156.6,467.3 1154.4,467.4 1153.1,467.9 1153.4,468.8 1154.7,470.3 1156.1,471.8 1156.3,472.9 1155.1,473.3 1153,473.1 1151.2,472.9 1150.5,473.3 1151.1,474.5 1152.2,476.4 1152.7,478 1152,478.5 1150.5,477.6 1149.4,475.9 1149.3,474.7 1149.5,475.2 1148.9,476.8 1147.5,478.2 1146.3,478.4 1146.2,477.3 1147.1,475.4 1148.1,473.8 1148.1,473 1146.8,473 1144.7,473.3 1142.9,473.2 1142.4,472.5 1143.3,471.1 1144.8,469.5 1145.7,468.3 1145.2,467.6 1143.4,467.4 1141.2,467.2 1140,466.7 1140.3,465.6 1141.8,464.2 1143.4,462.9 1143.8,461.9 1142.6,461.3 1140.5,461 1138.6,460.5 1138.2,459.7 1139.2,458.5 1141,457.2 1142.2,456.1 1141.9,455.2 1140.2,454.7 1138.1,454.2 1136.8,453.5 1137.1,452.5 1138.7,451.4 1140.5,450.2 1141.1,449.2 1140.2,448.4 1138.1,447.9 1136.3,447.2 1135.7,446.4 1136.7,445.3 1138.6,444.2 1140,443.1 1140,442.3 1138.4,441.5 1136.3,440.9 1135,440.1 1135.2,439.2 1136.8,438.1 1138.7,437.1 1139.5,436.1 1138.8,435.3 1136.8,434.5 1134.9,433.8 1134.3,432.9 1135.2,432 1137.1,430.9 1138.7,430 1138.9,429.1 1137.5,428.2 1135.4,427.5 1134,426.6 1134.1,425.7 1135.7,424.8 1137.6,423.8 1138.7,422.9 1138.1,422 1136.3,421.2 1134.3,420.3 1133.6,419.4 1134.5,418.5 1136.4,417.6 1138.1,416.7 1138.5,415.8 1137.2,414.9 1135.2,414 1133.7,413.1 1133.7,412.2 1135.2,411.3 1137.2,410.5 1138.5,409.6 1138.1,408.7 1136.4,407.8 1134.5,406.8 1133.6,405.9 1134.3,405 1136.3,404.2 1138.1,403.4 1138.7,402.5 1137.6,401.6 1135.7,400.6 1134.1,399.6 1134,398.7 1135.4,397.9 1137.5,397.1 1138.9,396.3 1138.7,395.4 1137.1,394.4 1135.2,393.4 1134.3,392.4 1134.9,391.6 1136.8,390.8 1138.8,390.1 1139.5,389.3 1138.7,388.3 1136.8,387.2 1135.2,386.2 1135,385.2 1136.3,384.5 1138.4,383.8 1140,383.1 1140,382.2 1138.6,381.2 1136.7,380 1135.7,379 1136.3,378.1 1138.1,377.5 1140.2,376.9 1141.1,376.2 1140.5,375.2 1138.7,374 1137.1,372.8 1136.8,371.8 1138.1,371.2 1140.2,370.7 1141.9,370.1 1142.2,369.3 1141,368.1 1139.2,366.8 1138.2,365.7 1138.6,364.9 1140.5,364.4 1142.6,364.1 1143.8,363.5 1143.4,362.5 1141.8,361.1 1140.3,359.8 1140,358.7 1141.2,358.2 1143.4,358 1145.2,357.8 1145.7,357.1 1144.8,355.9 1143.3,354.3 1142.4,352.9 1142.9,352.1 1144.7,352.1 1146.8,352.4 1148.1,352.4 1148.1,351.6 1147.1,349.9 1146.2,348.1 1146.3,346.9 1147.5,347.1 1148.9,348.6 1149.5,350.2 1149.3,350.6 1149.4,349.5 1150.5,347.7 1152,346.8 1152.7,347.4 1152.2,349 1151.1,350.8 1150.5,352.1 1151.2,352.5 1153,352.2 1155.1,352 1156.3,352.4 1156.1,353.5 1154.7,355.1 1153.4,356.5 1153.1,357.5 1154.4,357.9 1156.6,358.1 1158.4,358.4 1158.8,359.2 1157.8,360.4 1156.1,361.8 1155,363 1155.4,363.8 1157.2,364.2 1159.4,364.6 1160.6,365.2 1160.3,366.2 1158.7,367.5 1157,368.8 1156.5,369.8 1157.6,370.4 1159.7,370.9 1161.5,371.5 1162,372.3 1161,373.4 1159.1,374.6 1157.8,375.7 1158,376.6 1159.6,377.2 1161.7,377.8 1163,378.5 1162.7,379.5 1161.1,380.6 1159.3,381.7 1158.6,382.7 1159.4,383.5 1161.4,384.1 1163.3,384.8 1163.9,385.7 1162.9,386.7 1161,387.8 1159.5,388.8 1159.5,389.7 1160.9,390.5 1163,391.2 1164.4,392 1164.2,392.9 1162.7,393.9 1160.8,394.9 1159.8,395.9 1160.5,396.7 1162.3,397.5 1164.3,398.3 1165,399.2 1164,400.1 1162.1,401.1 1160.5,402 1160.2,402.9 1161.5,403.8 1163.6,404.6 1165,405.5 1165,406.4 1163.4,407.3 1161.5,408.2 1160.3,409.1 1160.8,410 1162.6,410.9 1164.5,411.8 1165.3,412.7Z" fill="none" stroke="#000" stroke-width="2.4" />
<path d="M1153.6,472.8 1152.7,471.9 1151.9,470.7 1151,469.2 1150.2,467.5 1149.4,465.5 1148.6,463.3 1147.9,460.7 1147.2,458 1146.6,455.1 1146,451.9 1145.4,448.5 1144.9,445 1144.5,441.3 1144.1,437.5 1143.7,433.5 1143.5,429.5 1143.2,425.4 1143.1,421.2 1143,416.9 1143,412.7 1143,408.4 1143.1,404.2 1143.2,400 1143.5,395.9 1143.7,391.8 1144.1,387.9 1144.5,384 1144.9,380.4 1145.4,376.8 1146,373.5 1146.6,370.3 1147.2,367.3 1147.9,364.6 1148.6,362.1 1149.4,359.9 1150.2,357.9 1151,356.1 1151.9,354.7 1152.7,353.5 1153.6,352.6" fill="none" stroke="#000" stroke-width="1.8" />
<path d="M1157.1,472.8 1156.2,471.9 1155.4,470.7 1154.5,469.2 1153.7,467.5 1152.9,465.5 1152.1,463.3 1151.4,460.7 1150.7,458 1150.1,455.1 1149.5,451.9 1148.9,448.5 1148.4,445 1148,441.3 1147.6,437.5 1147.2,433.5 1147,429.5 1146.7,425.4 1146.6,421.2 1146.5,416.9 1146.5,412.7 1146.5,408.4 1146.6,404.2 1146.7,400 1147,395.9 1147.2,391.8 1147.6,387.9 1148,384 1148.4,380.4 1148.9,376.8 1149.5,373.5 1150.1,370.3 1150.7,367.3 1151.4,364.6 1152.1,362.1 1152.9,359.9 1153.7,357.9 1154.5,356.1 1155.4,354.7 1156.2,353.5 1157.1,352.6" fill="none" stroke="#000" stroke-width="1.4" />
<path d="M1070.4,399.4 1070,398.5 1068.8,397.5 1067.5,396.5 1066.9,395.5 1067.4,394.7 1068.6,393.8 1070.1,393.1 1071,392.2 1070.9,391.3 1069.9,390.3 1068.6,389.2 1067.7,388.2 1067.9,387.3 1069,386.5 1070.5,385.8 1071.7,385 1071.9,384.2 1071.2,383.1 1069.9,382 1068.9,380.9 1068.8,380 1069.7,379.2 1071.2,378.5 1072.6,377.8 1073.2,377 1072.7,376 1071.6,374.9 1070.5,373.7 1070.1,372.7 1070.8,371.9 1072.2,371.3 1073.7,370.7 1074.6,370 1074.5,369 1073.6,367.8 1072.5,366.6 1071.9,365.5 1072.3,364.6 1073.6,364 1075.2,363.5 1076.3,362.9 1076.6,362.1 1075.9,360.9 1074.9,359.6 1074.1,358.4 1074.3,357.5 1075.4,356.8 1077,356.4 1078.4,356 1079,355.2 1078.7,354.1 1077.8,352.8 1077,351.4 1076.9,350.4 1077.8,349.8 1079.4,349.4 1081,349.2 1081.9,348.6 1082,347.6 1081.3,346.2 1080.6,344.8 1080.4,343.6 1081.1,342.9 1082.6,342.6 1084.3,342.6 1085.5,342.3 1086,341.5 1085.7,340.2 1085.2,338.6 1085.1,337.2 1085.7,336.4 1087.1,336.3 1088.8,336.6 1090.2,336.8 1091,336.4 1091.3,335.2 1091.3,333.5 1091.6,331.9 1092.5,331.1 1093.8,331.2 1095.3,332.1 1096.6,333.1 1097.6,333.4 1098.4,332.8 1099.4,331.5 1100.6,330.3 1101.9,329.8 1103,330.5 1103.7,332 1104.1,333.6 1104.6,334.8 1105.5,335 1106.9,334.6 1108.5,334.1 1109.9,334 1110.6,334.8 1110.7,336.2 1110.3,337.9 1110.2,339.3 1110.7,340 1112,340.2 1113.7,340.1 1115.2,340.2 1115.9,340.9 1115.8,342.1 1115.2,343.7 1114.6,345.1 1114.7,346.1 1115.7,346.6 1117.3,346.8 1118.9,347 1119.8,347.6 1119.8,348.7 1119,350.1 1118.2,351.4 1117.9,352.6 1118.5,353.3 1120,353.7 1121.6,354 1122.7,354.6 1122.9,355.6 1122.1,356.8 1121.1,358.1 1120.5,359.3 1120.8,360.1 1122,360.7 1123.6,361.2 1121.2,361.9 1122.5,366.3 1123.6,370.9 1124.6,375.8 1125.5,380.8 1126.3,386 1126.9,391.3 1127.4,396.7 1127.7,402.2 1127.9,407.8 1128,413.3 1127.9,418.9 1127.7,424.5 1127.4,430 1126.9,435.4 1126.3,440.7 1125.5,445.9 1124.6,450.9 1123.6,455.7 1122.5,460.4 1121.2,464.8 1121.2,464.8 1121.4,465.8 1122.4,467 1123.4,468.3 1123.7,469.4 1123,470.2 1121.6,470.7 1120,471 1118.9,471.6 1118.8,472.5 1119.5,473.8 1120.4,475.2 1120.9,476.4 1120.5,477.3 1119.2,477.7 1117.5,477.9 1116.2,478.3 1115.6,479 1116,480.2 1116.7,481.7 1117.3,483.1 1117,484.1 1115.9,484.6 1114.2,484.6 1112.7,484.7 1111.8,485.1 1111.7,486.2 1112.1,487.8 1112.5,489.4 1112.3,490.5 1111.2,491 1109.7,490.8 1108,490.4 1106.9,490.4 1106.3,491.1 1106.1,492.6 1105.9,494.3 1105.3,495.6 1104.2,496 1102.8,495.4 1101.4,494.3 1100.3,493.4 1099.4,493.4 1098.5,494.4 1097.3,495.6 1096,496.5 1094.8,496.5 1093.9,495.3 1093.5,493.7 1093.2,492.2 1092.6,491.4 1091.5,491.4 1089.9,491.9 1088.3,492.2 1087.1,491.9 1086.7,490.9 1087,489.3 1087.3,487.7 1087.3,486.5 1086.4,486 1084.9,486 1083.3,486 1082,485.7 1081.6,484.8 1082,483.4 1082.8,481.9 1083.1,480.6 1082.7,479.8 1081.4,479.4 1079.7,479.3 1078.4,478.9 1077.8,478.1 1078.2,476.9 1079.1,475.5 1079.8,474.2 1079.7,473.2 1078.7,472.6 1077.2,472.3 1075.7,471.8 1074.9,471.1 1075.1,470.1 1076,468.8 1077,467.5 1077.3,466.4 1076.6,465.7 1075.2,465.2 1073.6,464.7 1072.6,464 1072.6,463 1073.5,461.8 1074.6,460.6 1075.2,459.5 1074.9,458.6 1073.7,458 1072.1,457.4 1070.9,456.8 1070.6,455.9 1071.3,454.8 1072.5,453.6 1073.4,452.5 1073.5,451.6 1072.6,450.8 1071.1,450.2 1069.7,449.5 1069.1,448.7 1069.6,447.6 1070.7,446.5 1071.9,445.4 1072.3,444.4 1071.7,443.6 1070.3,442.9 1068.9,442.2 1068,441.4 1068.2,440.4 1069.3,439.4 1070.5,438.3 1071.3,437.3 1071,436.4 1069.9,435.6 1068.4,434.9 1067.3,434 1067.2,433.1 1068.1,432.1 1069.4,431.1 1070.4,430.1 1070.5,429.2 1069.6,428.4 1068.2,427.5 1067,426.7 1066.6,425.8 1067.2,424.9 1068.5,423.9 1069.7,422.9 1070.2,422 1069.6,421.1 1068.3,420.2 1066.9,419.4 1066.3,418.5 1066.6,417.6 1067.8,416.6 1069.2,415.7 1070,414.8 1069.7,413.9 1068.6,413 1067.2,412.1 1066.3,411.1 1066.4,410.2 1067.4,409.3 1068.8,408.4 1069.9,407.6 1070,406.7 1069.2,405.7 1067.8,404.8 1066.7,403.8 1066.5,402.9 1067.3,402 1068.7,401.2 1070,400.3 1070.4,399.4Z M1125,413.3 1124.9,408.2 1124.8,403.2 1124.5,398.2 1124.1,393.2 1123.6,388.4 1123,383.6 1122.3,379.1 1121.5,374.7 1120.6,370.4 1119.6,366.4 1118.5,362.6 1117.4,359.1 1116.2,355.8 1114.9,352.8 1113.5,350.1 1112.1,347.7 1110.6,345.7 1109.1,343.9 1107.6,342.5 1106,341.4 1104.4,340.7 1102.8,340.4 1101.2,340.4 1099.6,340.7 1098,341.4 1096.4,342.5 1094.9,343.9 1093.4,345.7 1091.9,347.7 1090.5,350.1 1089.1,352.8 1087.8,355.8 1086.6,359.1 1085.5,362.6 1084.4,366.4 1083.4,370.4 1082.5,374.7 1081.7,379.1 1081,383.6 1080.4,388.4 1079.9,393.2 1079.5,398.2 1079.2,403.2 1079.1,408.2 1079,413.3 1079.1,418.4 1079.2,423.5 1079.5,428.5 1079.9,433.5 1080.4,438.3 1081,443 1081.7,447.6 1082.5,452 1083.4,456.2 1084.4,460.3 1085.5,464.1 1086.6,467.6 1087.8,470.9 1089.1,473.9 1090.5,476.6 1091.9,479 1093.4,481 1094.9,482.8 1096.4,484.2 1098,485.2 1099.6,485.9 1101.2,486.3 1102.8,486.3 1104.4,485.9 1106,485.2 1107.6,484.2 1109.1,482.8 1110.6,481 1112.1,479 1113.5,476.6 1114.9,473.9 1116.2,470.9 1117.4,467.6 1118.5,464.1 1119.6,460.3 1120.6,456.2 1121.5,452 1122.3,447.6 1123,443 1123.6,438.3 1124.1,433.5 1124.5,428.5 1124.8,423.5 1124.9,418.4 1125,413.3Z" fill="#fff" stroke="#000" stroke-width="1.8" fill-rule="evenodd"/>
<path d="M1107.6,345.4 1109.1,346.4 1110.5,347.7 1111.9,349.4 1113.2,351.3 1114.5,353.6 1115.7,356.1 1116.9,359 1118.1,362.1 1119.1,365.4 1120.1,369 1121,372.8 1121.8,376.8 1122.5,380.9 1123.2,385.3 1123.7,389.7 1124.2,394.3 1124.5,399 1124.8,403.7 1124.9,408.5 1125,413.3 1124.9,418.2 1124.8,422.9 1124.5,427.7 1124.2,432.4 1123.7,436.9 1123.2,441.4 1122.5,445.7 1121.8,449.9 1121,453.9 1120.1,457.7 1119.1,461.3 1118.1,464.6 1116.9,467.7 1115.7,470.5 1114.5,473.1 1113.2,475.4 1111.9,477.3 1110.5,479 1109.1,480.3 1107.6,481.3" fill="none" stroke="#000" stroke-width="1.4" />
<path d="M1114,413.3 1113.9,418.7 1113.7,424 1113.4,429.2 1112.9,434.4 1112.3,439.5 1111.6,444.5 1110.7,449.3 1109.7,453.9 1108.7,458.3 1107.4,462.5 1106.1,466.5 1104.7,470.2 1103.2,473.6 1101.7,476.8 1100,479.6 1098.3,482.1 1096.5,484.3 1094.7,486.1 1092.8,487.6 1090.9,488.7 1088.9,489.4 1087,489.8 1085,489.8 1083.1,489.4 1081.1,488.7 1079.2,487.6 1077.3,486.1 1075.5,484.3 1073.7,482.1 1072,479.6 1070.3,476.8 1068.8,473.6 1067.3,470.2 1065.9,466.5 1064.6,462.5 1063.3,458.3 1062.3,453.9 1061.3,449.3 1060.4,444.5 1059.7,439.5 1059.1,434.4 1058.6,429.2 1058.3,424 1058.1,418.7 1058,413.3 1058.1,408 1058.3,402.7 1058.6,397.4 1059.1,392.3 1059.7,387.2 1060.4,382.2 1061.3,377.4 1062.3,372.8 1063.3,368.4 1064.6,364.2 1065.9,360.2 1067.3,356.5 1068.8,353.1 1070.3,349.9 1072,347.1 1073.7,344.6 1075.5,342.4 1077.3,340.6 1079.2,339.1 1081.1,338 1083.1,337.3 1085,336.9 1087,336.9 1088.9,337.3 1090.9,338 1092.8,339.1 1094.7,340.6 1096.5,342.4 1098.3,344.6 1100,347.1 1101.7,349.9 1103.2,353.1 1104.7,356.5 1106.1,360.2 1107.4,364.2 1108.7,368.4 1109.7,372.8 1110.7,377.4 1111.6,382.2 1112.3,387.2 1112.9,392.3 1113.4,397.4 1113.7,402.7 1113.9,408 1114,413.3Z M1102.5,413.3 1102.5,408.5 1102.3,403.6 1102.1,398.8 1101.8,394 1101.4,389.4 1100.9,384.9 1100.3,380.5 1099.6,376.2 1098.9,372.2 1098.1,368.3 1097.2,364.7 1096.2,361.3 1095.2,358.2 1094.1,355.3 1093,352.7 1091.8,350.4 1090.6,348.4 1089.4,346.8 1088.1,345.4 1086.8,344.4 1085.5,343.7 1084.2,343.4 1082.8,343.4 1081.5,343.7 1080.2,344.4 1078.9,345.4 1077.6,346.8 1076.4,348.4 1075.2,350.4 1074,352.7 1072.9,355.3 1071.8,358.2 1070.8,361.3 1069.8,364.7 1068.9,368.3 1068.1,372.2 1067.4,376.2 1066.7,380.5 1066.1,384.9 1065.6,389.4 1065.2,394 1064.9,398.8 1064.7,403.6 1064.5,408.5 1064.5,413.3 1064.5,418.2 1064.7,423.1 1064.9,427.9 1065.2,432.6 1065.6,437.3 1066.1,441.8 1066.7,446.2 1067.4,450.4 1068.1,454.5 1068.9,458.3 1069.8,462 1070.8,465.4 1071.8,468.5 1072.9,471.4 1074,474 1075.2,476.3 1076.4,478.2 1077.6,479.9 1078.9,481.3 1080.2,482.3 1081.5,483 1082.8,483.3 1084.2,483.3 1085.5,483 1086.8,482.3 1088.1,481.3 1089.4,479.9 1090.6,478.2 1091.8,476.3 1093,474 1094.1,471.4 1095.2,468.5 1096.2,465.4 1097.2,462 1098.1,458.3 1098.9,454.5 1099.6,450.4 1100.3,446.2 1100.9,441.8 1101.4,437.3 1101.8,432.6 1102.1,427.9 1102.3,423.1 1102.5,418.2 1102.5,413.3Z" fill="url(#tex)" stroke="#000" stroke-width="2.0" fill-rule="evenodd"/>
<path d="M1102.5,413.3 1102.5,408.5 1102.3,403.6 1102.1,398.8 1101.8,394 1101.4,389.4 1100.9,384.9 1100.3,380.5 1099.6,376.2 1098.9,372.2 1098.1,368.3 1097.2,364.7 1096.2,361.3 1095.2,358.2 1094.1,355.3 1093,352.7 1091.8,350.4 1090.6,348.4 1089.4,346.8 1088.1,345.4 1086.8,344.4 1085.5,343.7 1084.2,343.4 1082.8,343.4 1081.5,343.7 1080.2,344.4 1078.9,345.4 1077.6,346.8 1076.4,348.4 1075.2,350.4 1074,352.7 1072.9,355.3 1071.8,358.2 1070.8,361.3 1069.8,364.7 1068.9,368.3 1068.1,372.2 1067.4,376.2 1066.7,380.5 1066.1,384.9 1065.6,389.4 1065.2,394 1064.9,398.8 1064.7,403.6 1064.5,408.5 1064.5,413.3 1064.5,418.2 1064.7,423.1 1064.9,427.9 1065.2,432.6 1065.6,437.3 1066.1,441.8 1066.7,446.2 1067.4,450.4 1068.1,454.5 1068.9,458.3 1069.8,462 1070.8,465.4 1071.8,468.5 1072.9,471.4 1074,474 1075.2,476.3 1076.4,478.2 1077.6,479.9 1078.9,481.3 1080.2,482.3 1081.5,483 1082.8,483.3 1084.2,483.3 1085.5,483 1086.8,482.3 1088.1,481.3 1089.4,479.9 1090.6,478.2 1091.8,476.3 1093,474 1094.1,471.4 1095.2,468.5 1096.2,465.4 1097.2,462 1098.1,458.3 1098.9,454.5 1099.6,450.4 1100.3,446.2 1100.9,441.8 1101.4,437.3 1101.8,432.6 1102.1,427.9 1102.3,423.1 1102.5,418.2 1102.5,413.3Z M1100,413.3 1099.2,412.4 1097.3,411.6 1095.5,410.7 1095,409.8 1096.1,408.9 1098.1,408 1099.7,407 1099.7,406.1 1098.3,405.3 1096.3,404.4 1094.9,403.6 1095.1,402.7 1096.7,401.7 1098.7,400.8 1099.6,399.8 1099,398.9 1097.1,398.2 1095.2,397.4 1094.5,396.5 1095.3,395.6 1097.2,394.6 1098.8,393.5 1099.1,392.6 1097.8,391.8 1095.8,391.1 1094.2,390.4 1094.1,389.5 1095.5,388.4 1097.4,387.4 1098.5,386.3 1098.1,385.5 1096.3,384.8 1094.2,384.1 1093.2,383.4 1093.8,382.4 1095.5,381.3 1097.2,380.1 1097.7,379.2 1096.5,378.4 1094.4,377.8 1092.7,377.2 1092.3,376.4 1093.5,375.3 1095.3,374.1 1096.5,373 1096.2,372.1 1094.5,371.5 1092.4,371.1 1091.1,370.4 1091.4,369.5 1092.9,368.2 1094.6,366.9 1095.1,365.9 1094.1,365.2 1092.1,364.8 1090.1,364.5 1089.4,363.8 1090.3,362.6 1091.9,361.2 1093.2,359.9 1093,359 1091.4,358.6 1089.2,358.5 1087.7,358.2 1087.6,357.4 1088.7,356 1090.2,354.4 1090.7,353.1 1089.8,352.6 1087.8,352.8 1085.8,353.1 1084.8,352.9 1085.2,351.8 1086.2,350.1 1086.8,348.3 1086.4,347.5 1085,348.1 1083.8,349.7 1083.4,351.1 1083.6,351.1 1083.2,349.7 1082,348.1 1080.6,347.5 1080.2,348.3 1080.8,350.1 1081.8,351.8 1082.2,352.9 1081.2,353.1 1079.2,352.8 1077.2,352.6 1076.3,353.1 1076.8,354.4 1078.3,356 1079.4,357.4 1079.3,358.2 1077.8,358.5 1075.6,358.6 1074,359 1073.8,359.9 1075.1,361.2 1076.7,362.6 1077.6,363.8 1076.9,364.5 1074.9,364.8 1072.9,365.2 1071.9,365.9 1072.4,366.9 1074.1,368.2 1075.6,369.5 1075.9,370.4 1074.6,371.1 1072.5,371.5 1070.8,372.1 1070.5,373 1071.7,374.1 1073.5,375.3 1074.7,376.4 1074.3,377.2 1072.6,377.8 1070.5,378.4 1069.3,379.2 1069.8,380.1 1071.5,381.3 1073.2,382.4 1073.8,383.4 1072.8,384.1 1070.7,384.8 1068.9,385.5 1068.5,386.3 1069.6,387.4 1071.5,388.4 1072.9,389.5 1072.8,390.4 1071.2,391.1 1069.2,391.8 1067.9,392.6 1068.2,393.5 1069.8,394.6 1071.7,395.6 1072.5,396.5 1071.8,397.4 1069.9,398.2 1068,398.9 1067.4,399.8 1068.3,400.8 1070.3,401.7 1071.9,402.7 1072.1,403.6 1070.7,404.4 1068.7,405.3 1067.3,406.1 1067.3,407 1068.9,408 1070.9,408.9 1072,409.8 1071.5,410.7 1069.7,411.6 1067.8,412.4 1067,413.3 1067.8,414.2 1069.7,415.1 1071.5,416 1072,416.9 1070.9,417.8 1068.9,418.7 1067.3,419.6 1067.3,420.6 1068.7,421.4 1070.7,422.2 1072.1,423.1 1071.9,424 1070.3,424.9 1068.3,425.9 1067.4,426.9 1068,427.7 1069.9,428.5 1071.8,429.3 1072.5,430.1 1071.7,431.1 1069.8,432.1 1068.2,433.1 1067.9,434.1 1069.2,434.9 1071.2,435.6 1072.8,436.3 1072.9,437.2 1071.5,438.2 1069.6,439.3 1068.5,440.4 1068.9,441.2 1070.7,441.9 1072.8,442.6 1073.8,443.3 1073.2,444.3 1071.5,445.4 1069.8,446.5 1069.3,447.5 1070.5,448.3 1072.6,448.8 1074.3,449.4 1074.7,450.3 1073.5,451.4 1071.7,452.6 1070.5,453.7 1070.8,454.6 1072.5,455.2 1074.6,455.6 1075.9,456.3 1075.6,457.2 1074.1,458.4 1072.4,459.7 1071.9,460.8 1072.9,461.5 1074.9,461.9 1076.9,462.2 1077.6,462.9 1076.7,464.1 1075.1,465.5 1073.8,466.8 1074,467.7 1075.6,468.1 1077.8,468.2 1079.3,468.5 1079.4,469.3 1078.3,470.7 1076.8,472.3 1076.3,473.6 1077.2,474.1 1079.2,473.9 1081.2,473.6 1082.2,473.8 1081.8,474.8 1080.8,476.6 1080.2,478.4 1080.6,479.2 1082,478.6 1083.2,477 1083.6,475.6 1083.4,475.6 1083.8,477 1085,478.6 1086.4,479.2 1086.8,478.4 1086.2,476.6 1085.2,474.8 1084.8,473.8 1085.8,473.6 1087.8,473.9 1089.8,474.1 1090.7,473.6 1090.2,472.3 1088.7,470.7 1087.6,469.3 1087.7,468.5 1089.2,468.2 1091.4,468.1 1093,467.7 1093.2,466.8 1091.9,465.5 1090.3,464.1 1089.4,462.9 1090.1,462.2 1092.1,461.9 1094.1,461.5 1095.1,460.8 1094.6,459.7 1092.9,458.4 1091.4,457.2 1091.1,456.3 1092.4,455.6 1094.5,455.2 1096.2,454.6 1096.5,453.7 1095.3,452.6 1093.5,451.4 1092.3,450.3 1092.7,449.4 1094.4,448.8 1096.5,448.3 1097.7,447.5 1097.2,446.5 1095.5,445.4 1093.8,444.3 1093.2,443.3 1094.2,442.6 1096.3,441.9 1098.1,441.2 1098.5,440.4 1097.4,439.3 1095.5,438.2 1094.1,437.2 1094.2,436.3 1095.8,435.6 1097.8,434.9 1099.1,434.1 1098.8,433.1 1097.2,432.1 1095.3,431.1 1094.5,430.1 1095.2,429.3 1097.1,428.5 1099,427.7 1099.6,426.9 1098.7,425.9 1096.7,424.9 1095.1,424 1094.9,423.1 1096.3,422.2 1098.3,421.4 1099.7,420.6 1099.7,419.6 1098.1,418.7 1096.1,417.8 1095,416.9 1095.5,416 1097.3,415.1 1099.2,414.2 1100,413.3Z" fill="#fff" stroke="#000" stroke-width="0" fill-rule="evenodd"/>
<path d="M1100,413.3 1099.2,414.2 1097.3,415.1 1095.5,416 1095,416.9 1096.1,417.8 1098.1,418.7 1099.7,419.6 1099.7,420.6 1098.3,421.4 1096.3,422.2 1094.9,423.1 1095.1,424 1096.7,424.9 1098.7,425.9 1099.6,426.9 1099,427.7 1097.1,428.5 1095.2,429.3 1094.5,430.1 1095.3,431.1 1097.2,432.1 1098.8,433.1 1099.1,434.1 1097.8,434.9 1095.8,435.6 1094.2,436.3 1094.1,437.2 1095.5,438.2 1097.4,439.3 1098.5,440.4 1098.1,441.2 1096.3,441.9 1094.2,442.6 1093.2,443.3 1093.8,444.3 1095.5,445.4 1097.2,446.5 1097.7,447.5 1096.5,448.3 1094.4,448.8 1092.7,449.4 1092.3,450.3 1093.5,451.4 1095.3,452.6 1096.5,453.7 1096.2,454.6 1094.5,455.2 1092.4,455.6 1091.1,456.3 1091.4,457.2 1092.9,458.4 1094.6,459.7 1095.1,460.8 1094.1,461.5 1092.1,461.9 1090.1,462.2 1089.4,462.9 1090.3,464.1 1091.9,465.5 1093.2,466.8 1093,467.7 1091.4,468.1 1089.2,468.2 1087.7,468.5 1087.6,469.3 1088.7,470.7 1090.2,472.3 1090.7,473.6 1089.8,474.1 1087.8,473.9 1085.8,473.6 1084.8,473.8 1085.2,474.8 1086.2,476.6 1086.8,478.4 1086.4,479.2 1085,478.6 1083.8,477 1083.4,475.6 1083.6,475.6 1083.2,477 1082,478.6 1080.6,479.2 1080.2,478.4 1080.8,476.6 1081.8,474.8 1082.2,473.8 1081.2,473.6 1079.2,473.9 1077.2,474.1 1076.3,473.6 1076.8,472.3 1078.3,470.7 1079.4,469.3 1079.3,468.5 1077.8,468.2 1075.6,468.1 1074,467.7 1073.8,466.8 1075.1,465.5 1076.7,464.1 1077.6,462.9 1076.9,462.2 1074.9,461.9 1072.9,461.5 1071.9,460.8 1072.4,459.7 1074.1,458.4 1075.6,457.2 1075.9,456.3 1074.6,455.6 1072.5,455.2 1070.8,454.6 1070.5,453.7 1071.7,452.6 1073.5,451.4 1074.7,450.3 1074.3,449.4 1072.6,448.8 1070.5,448.3 1069.3,447.5 1069.8,446.5 1071.5,445.4 1073.2,444.3 1073.8,443.3 1072.8,442.6 1070.7,441.9 1068.9,441.2 1068.5,440.4 1069.6,439.3 1071.5,438.2 1072.9,437.2 1072.8,436.3 1071.2,435.6 1069.2,434.9 1067.9,434.1 1068.2,433.1 1069.8,432.1 1071.7,431.1 1072.5,430.1 1071.8,429.3 1069.9,428.5 1068,427.7 1067.4,426.9 1068.3,425.9 1070.3,424.9 1071.9,424 1072.1,423.1 1070.7,422.2 1068.7,421.4 1067.3,420.6 1067.3,419.6 1068.9,418.7 1070.9,417.8 1072,416.9 1071.5,416 1069.7,415.1 1067.8,414.2 1067,413.3 1067.8,412.4 1069.7,411.6 1071.5,410.7 1072,409.8 1070.9,408.9 1068.9,408 1067.3,407 1067.3,406.1 1068.7,405.3 1070.7,404.4 1072.1,403.6 1071.9,402.7 1070.3,401.7 1068.3,400.8 1067.4,399.8 1068,398.9 1069.9,398.2 1071.8,397.4 1072.5,396.5 1071.7,395.6 1069.8,394.6 1068.2,393.5 1067.9,392.6 1069.2,391.8 1071.2,391.1 1072.8,390.4 1072.9,389.5 1071.5,388.4 1069.6,387.4 1068.5,386.3 1068.9,385.5 1070.7,384.8 1072.8,384.1 1073.8,383.4 1073.2,382.4 1071.5,381.3 1069.8,380.1 1069.3,379.2 1070.5,378.4 1072.6,377.8 1074.3,377.2 1074.7,376.4 1073.5,375.3 1071.7,374.1 1070.5,373 1070.8,372.1 1072.5,371.5 1074.6,371.1 1075.9,370.4 1075.6,369.5 1074.1,368.2 1072.4,366.9 1071.9,365.9 1072.9,365.2 1074.9,364.8 1076.9,364.5 1077.6,363.8 1076.7,362.6 1075.1,361.2 1073.8,359.9 1074,359 1075.6,358.6 1077.8,358.5 1079.3,358.2 1079.4,357.4 1078.3,356 1076.8,354.4 1076.3,353.1 1077.2,352.6 1079.2,352.8 1081.2,353.1 1082.2,352.9 1081.8,351.8 1080.8,350.1 1080.2,348.3 1080.6,347.5 1082,348.1 1083.2,349.7 1083.6,351.1 1083.4,351.1 1083.8,349.7 1085,348.1 1086.4,347.5 1086.8,348.3 1086.2,350.1 1085.2,351.8 1084.8,352.9 1085.8,353.1 1087.8,352.8 1089.8,352.6 1090.7,353.1 1090.2,354.4 1088.7,356 1087.6,357.4 1087.7,358.2 1089.2,358.5 1091.4,358.6 1093,359 1093.2,359.9 1091.9,361.2 1090.3,362.6 1089.4,363.8 1090.1,364.5 1092.1,364.8 1094.1,365.2 1095.1,365.9 1094.6,366.9 1092.9,368.2 1091.4,369.5 1091.1,370.4 1092.4,371.1 1094.5,371.5 1096.2,372.1 1096.5,373 1095.3,374.1 1093.5,375.3 1092.3,376.4 1092.7,377.2 1094.4,377.8 1096.5,378.4 1097.7,379.2 1097.2,380.1 1095.5,381.3 1093.8,382.4 1093.2,383.4 1094.2,384.1 1096.3,384.8 1098.1,385.5 1098.5,386.3 1097.4,387.4 1095.5,388.4 1094.1,389.5 1094.2,390.4 1095.8,391.1 1097.8,391.8 1099.1,392.6 1098.8,393.5 1097.2,394.6 1095.3,395.6 1094.5,396.5 1095.2,397.4 1097.1,398.2 1099,398.9 1099.6,399.8 1098.7,400.8 1096.7,401.7 1095.1,402.7 1094.9,403.6 1096.3,404.4 1098.3,405.3 1099.7,406.1 1099.7,407 1098.1,408 1096.1,408.9 1095,409.8 1095.5,410.7 1097.3,411.6 1099.2,412.4 1100,413.3Z" fill="none" stroke="#000" stroke-width="2.4" />
<path d="M1087.8,473.4 1086.9,472.5 1086,471.4 1085.2,469.9 1084.3,468.2 1083.5,466.2 1082.7,463.9 1082,461.4 1081.3,458.7 1080.6,455.7 1080,452.6 1079.4,449.2 1078.9,445.7 1078.4,442 1078,438.2 1077.7,434.2 1077.4,430.2 1077.1,426 1077,421.8 1076.9,417.6 1076.9,413.3 1076.9,409.1 1077,404.9 1077.1,400.7 1077.4,396.5 1077.7,392.5 1078,388.5 1078.4,384.7 1078.9,381 1079.4,377.5 1080,374.1 1080.6,371 1081.3,368 1082,365.3 1082.7,362.8 1083.5,360.5 1084.3,358.5 1085.2,356.8 1086,355.3 1086.9,354.2 1087.8,353.3" fill="none" stroke="#000" stroke-width="1.8" />
<path d="M1091.3,473.4 1090.4,472.5 1089.5,471.4 1088.7,469.9 1087.8,468.2 1087,466.2 1086.2,463.9 1085.5,461.4 1084.8,458.7 1084.1,455.7 1083.5,452.6 1082.9,449.2 1082.4,445.7 1081.9,442 1081.5,438.2 1081.2,434.2 1080.9,430.2 1080.6,426 1080.5,421.8 1080.4,417.6 1080.4,413.3 1080.4,409.1 1080.5,404.9 1080.6,400.7 1080.9,396.5 1081.2,392.5 1081.5,388.5 1081.9,384.7 1082.4,381 1082.9,377.5 1083.5,374.1 1084.1,371 1084.8,368 1085.5,365.3 1086.2,362.8 1087,360.5 1087.8,358.5 1088.7,356.8 1089.5,355.3 1090.4,354.2 1091.3,353.3" fill="none" stroke="#000" stroke-width="1.4" />
<path d="M1003.5,400.1 1003,399.2 1001.8,398.2 1000.5,397.2 1000,396.2 1000.4,395.3 1001.7,394.5 1003.1,393.7 1004,392.9 1003.9,392 1002.9,390.9 1001.6,389.9 1000.8,388.8 1001,387.9 1002.1,387.2 1003.6,386.4 1004.8,385.7 1005,384.8 1004.2,383.8 1003,382.6 1002,381.6 1001.9,380.6 1002.9,379.8 1004.4,379.2 1005.7,378.5 1006.3,377.7 1005.8,376.7 1004.7,375.5 1003.6,374.3 1003.3,373.3 1004,372.5 1005.4,371.9 1006.9,371.3 1007.8,370.6 1007.6,369.6 1006.7,368.4 1005.6,367.2 1005.1,366.1 1005.5,365.3 1006.9,364.7 1008.5,364.2 1009.6,363.6 1009.8,362.7 1009.1,361.5 1008.1,360.2 1007.4,359 1007.6,358.1 1008.8,357.5 1010.4,357.1 1011.8,356.7 1012.3,355.9 1011.9,354.8 1011,353.4 1010.3,352.1 1010.3,351 1011.3,350.4 1012.9,350.2 1014.5,349.9 1015.3,349.3 1015.3,348.3 1014.6,346.9 1013.9,345.4 1013.9,344.2 1014.7,343.6 1016.2,343.4 1017.9,343.4 1019,343.1 1019.4,342.2 1019.1,340.8 1018.6,339.2 1018.6,337.8 1019.3,337.1 1020.7,337.1 1022.4,337.5 1023.8,337.6 1024.6,337.1 1024.8,335.8 1024.8,334.1 1025.2,332.6 1026,331.9 1027.4,332.1 1028.9,333.1 1030.1,334 1031.1,334.1 1032,333.4 1032.9,332 1034.1,330.8 1035.3,330.4 1036.3,331.1 1037.1,332.6 1037.6,334.2 1038.2,335.2 1039.1,335.3 1040.6,334.7 1042.2,334.1 1043.5,334.1 1044.2,334.9 1044.3,336.4 1044,338.1 1044,339.4 1044.7,340.1 1046,340.1 1047.7,339.9 1049.2,340.1 1049.8,340.8 1049.7,342.1 1049,343.7 1048.6,345.1 1048.8,346 1050,346.4 1051.6,346.5 1053.1,346.8 1053.9,347.4 1053.8,348.6 1053,350 1052.3,351.4 1052.2,352.4 1053,353 1054.5,353.4 1056.1,353.7 1057.1,354.4 1057.1,355.4 1056.3,356.7 1055.3,358 1054.9,359.1 1055.4,359.9 1056.7,360.4 1058.3,360.9 1059.5,361.5 1056,362.6 1057.3,367 1058.4,371.6 1059.5,376.4 1060.4,381.5 1061.2,386.6 1061.8,391.9 1062.3,397.4 1062.7,402.9 1062.9,408.4 1063,414 1062.9,419.6 1062.7,425.1 1062.3,430.6 1061.8,436.1 1061.2,441.4 1060.4,446.5 1059.5,451.6 1058.4,456.4 1057.3,461 1056,465.4 1056,465.4 1056.2,466.4 1057.1,467.7 1058.1,469 1058.4,470.1 1057.7,470.9 1056.3,471.3 1054.7,471.7 1053.6,472.3 1053.5,473.2 1054.1,474.4 1055.1,475.8 1055.5,477.1 1055.1,477.9 1053.8,478.3 1052.1,478.6 1050.8,478.9 1050.2,479.7 1050.6,480.9 1051.3,482.4 1051.8,483.8 1051.5,484.7 1050.4,485.2 1048.7,485.2 1047.2,485.2 1046.3,485.7 1046.2,486.8 1046.6,488.4 1047,490 1046.7,491.1 1045.7,491.5 1044.1,491.3 1042.5,490.9 1041.3,490.9 1040.7,491.7 1040.6,493.2 1040.4,494.9 1039.8,496.2 1038.7,496.5 1037.3,495.8 1035.9,494.8 1034.8,494 1033.9,494.1 1033,495.1 1031.9,496.4 1030.6,497.4 1029.4,497.3 1028.5,496.2 1028,494.5 1027.6,493.1 1026.9,492.4 1025.8,492.5 1024.2,493.1 1022.7,493.5 1021.5,493.2 1021.1,492.1 1021.3,490.5 1021.5,488.9 1021.4,487.8 1020.5,487.4 1019,487.4 1017.3,487.5 1016.1,487.1 1015.7,486.2 1016.1,484.8 1016.8,483.2 1017.1,482 1016.5,481.2 1015.2,481 1013.5,480.8 1012.2,480.4 1011.7,479.6 1012.1,478.4 1012.9,476.9 1013.6,475.6 1013.4,474.7 1012.3,474.2 1010.7,473.9 1009.2,473.5 1008.5,472.7 1008.8,471.6 1009.7,470.3 1010.6,469 1010.9,468 1010.1,467.3 1008.6,466.8 1007,466.3 1006.1,465.6 1006.2,464.6 1007.1,463.4 1008.1,462.2 1008.7,461.1 1008.3,460.2 1007,459.6 1005.4,459.1 1004.3,458.4 1004.1,457.5 1004.8,456.4 1006,455.2 1006.8,454.1 1006.8,453.2 1005.7,452.4 1004.2,451.8 1002.9,451.1 1002.4,450.3 1003,449.3 1004.2,448.1 1005.2,447 1005.5,446 1004.8,445.2 1003.3,444.5 1001.9,443.8 1001.2,443 1001.5,442 1002.6,441 1003.8,439.9 1004.5,438.9 1004.1,438 1002.8,437.3 1001.3,436.5 1000.4,435.7 1000.4,434.7 1001.4,433.7 1002.7,432.7 1003.6,431.7 1003.5,430.8 1002.5,430 1001.1,429.2 999.9,428.3 999.7,427.4 1000.4,426.5 1001.8,425.5 1002.9,424.5 1003.2,423.6 1002.5,422.7 1001.1,421.9 999.8,421 999.3,420.1 999.8,419.1 1001.1,418.2 1002.4,417.3 1003,416.4 1002.6,415.5 1001.4,414.6 1000,413.6 999.2,412.7 999.5,411.8 1000.6,410.9 1002,410 1003,409.1 1002.9,408.2 1001.9,407.3 1000.5,406.3 999.6,405.4 999.5,404.5 1000.4,403.6 1001.9,402.7 1003.1,401.9 1003.4,401 1002.6,400.1Z M1060,414 1059.9,408.9 1059.8,403.8 1059.5,398.8 1059.1,393.9 1058.6,389 1057.9,384.3 1057.2,379.7 1056.4,375.3 1055.4,371.1 1054.4,367.1 1053.3,363.3 1052.1,359.8 1050.8,356.5 1049.4,353.5 1048,350.8 1046.5,348.4 1045,346.3 1043.4,344.6 1041.8,343.2 1040.2,342.1 1038.5,341.4 1036.8,341 1035.2,341 1033.5,341.4 1031.8,342.1 1030.2,343.2 1028.6,344.6 1027,346.3 1025.5,348.4 1024,350.8 1022.6,353.5 1021.2,356.5 1019.9,359.8 1018.7,363.3 1017.6,367.1 1016.6,371.1 1015.6,375.3 1014.8,379.7 1014.1,384.3 1013.4,389 1012.9,393.9 1012.5,398.8 1012.2,403.8 1012.1,408.9 1012,414 1012.1,419.1 1012.2,424.2 1012.5,429.2 1012.9,434.1 1013.4,439 1014.1,443.7 1014.8,448.3 1015.6,452.7 1016.6,456.9 1017.6,460.9 1018.7,464.7 1019.9,468.2 1021.2,471.5 1022.6,474.5 1024,477.2 1025.5,479.6 1027,481.7 1028.6,483.4 1030.2,484.8 1031.8,485.9 1033.5,486.6 1035.2,487 1036.8,487 1038.5,486.6 1040.2,485.9 1041.8,484.8 1043.4,483.4 1045,481.7 1046.5,479.6 1048,477.2 1049.4,474.5 1050.8,471.5 1052.1,468.2 1053.3,464.7 1054.4,460.9 1055.4,456.9 1056.4,452.7 1057.2,448.3 1057.9,443.7 1058.6,439 1059.1,434.1 1059.5,429.2 1059.8,424.2 1059.9,419.1 1060,414Z" fill="#fff" stroke="#000" stroke-width="1.8" fill-rule="evenodd"/>
<path d="M1041.8,346 1043.3,347 1044.8,348.4 1046.2,350 1047.6,352 1049,354.2 1050.3,356.8 1051.5,359.6 1052.7,362.7 1053.8,366.1 1054.9,369.6 1055.8,373.4 1056.7,377.4 1057.4,381.6 1058.1,385.9 1058.7,390.4 1059.1,395 1059.5,399.7 1059.8,404.4 1059.9,409.2 1060,414 1059.9,418.8 1059.8,423.6 1059.5,428.3 1059.1,433 1058.7,437.6 1058.1,442.1 1057.4,446.4 1056.7,450.6 1055.8,454.6 1054.9,458.4 1053.8,461.9 1052.7,465.3 1051.5,468.4 1050.3,471.2 1049,473.8 1047.6,476 1046.2,478 1044.8,479.6 1043.3,481 1041.8,482" fill="none" stroke="#000" stroke-width="1.4" />
<path d="M1049,414 1048.9,419.3 1048.7,424.6 1048.4,429.9 1047.9,435.1 1047.3,440.2 1046.5,445.1 1045.6,449.9 1044.6,454.5 1043.5,459 1042.2,463.2 1040.9,467.1 1039.4,470.9 1037.9,474.3 1036.2,477.4 1034.5,480.3 1032.7,482.8 1030.9,484.9 1029,486.8 1027,488.2 1025,489.3 1023,490.1 1021,490.5 1019,490.5 1017,490.1 1015,489.3 1013,488.2 1011,486.8 1009.1,484.9 1007.3,482.8 1005.5,480.3 1003.8,477.4 1002.1,474.3 1000.6,470.9 999.1,467.1 997.8,463.2 996.5,459 995.4,454.5 994.4,449.9 993.5,445.1 992.7,440.2 992.1,435.1 991.6,429.9 991.3,424.6 991.1,419.3 991,414 991.1,408.7 991.3,403.4 991.6,398.1 992.1,392.9 992.7,387.8 993.5,382.9 994.4,378.1 995.4,373.5 996.5,369 997.8,364.8 999.1,360.9 1000.6,357.1 1002.1,353.7 1003.8,350.6 1005.5,347.7 1007.3,345.2 1009.1,343.1 1011,341.2 1013,339.8 1015,338.7 1017,337.9 1019,337.5 1021,337.5 1023,337.9 1025,338.7 1027,339.8 1029,341.2 1030.9,343.1 1032.7,345.2 1034.5,347.7 1036.2,350.6 1037.9,353.7 1039.4,357.1 1040.9,360.9 1042.2,364.8 1043.5,369 1044.6,373.5 1045.6,378.1 1046.5,382.9 1047.3,387.8 1047.9,392.9 1048.4,398.1 1048.7,403.4 1048.9,408.7 1049,414Z M1037.5,414 1037.5,409.1 1037.3,404.3 1037.1,399.4 1036.7,394.7 1036.3,390.1 1035.8,385.5 1035.2,381.1 1034.5,376.9 1033.7,372.9 1032.8,369 1031.9,365.4 1030.9,362 1029.8,358.8 1028.7,356 1027.5,353.4 1026.3,351.1 1025,349.1 1023.7,347.4 1022.3,346.1 1021,345.1 1019.6,344.4 1018.2,344 1016.8,344 1015.4,344.4 1014,345.1 1012.7,346.1 1011.3,347.4 1010,349.1 1008.7,351.1 1007.5,353.4 1006.3,356 1005.2,358.8 1004.1,362 1003.1,365.4 1002.2,369 1001.3,372.9 1000.5,376.9 999.8,381.1 999.2,385.5 998.7,390.1 998.3,394.7 997.9,399.4 997.7,404.3 997.5,409.1 997.5,414 997.5,418.9 997.7,423.7 997.9,428.6 998.3,433.3 998.7,437.9 999.2,442.5 999.8,446.9 1000.5,451.1 1001.3,455.1 1002.2,459 1003.1,462.6 1004.1,466 1005.2,469.2 1006.3,472 1007.5,474.6 1008.7,476.9 1010,478.9 1011.3,480.6 1012.7,481.9 1014,482.9 1015.4,483.6 1016.8,484 1018.2,484 1019.6,483.6 1021,482.9 1022.3,481.9 1023.7,480.6 1025,478.9 1026.3,476.9 1027.5,474.6 1028.7,472 1029.8,469.2 1030.9,466 1031.9,462.6 1032.8,459 1033.7,455.1 1034.5,451.1 1035.2,446.9 1035.8,442.5 1036.3,437.9 1036.7,433.3 1037.1,428.6 1037.3,423.7 1037.5,418.9 1037.5,414Z" fill="url(#tex)" stroke="#000" stroke-width="2.0" fill-rule="evenodd"/>
<path d="M1037.5,414 1037.5,409.1 1037.3,404.3 1037.1,399.4 1036.7,394.7 1036.3,390.1 1035.8,385.5 1035.2,381.1 1034.5,376.9 1033.7,372.9 1032.8,369 1031.9,365.4 1030.9,362 1029.8,358.8 1028.7,356 1027.5,353.4 1026.3,351.1 1025,349.1 1023.7,347.4 1022.3,346.1 1021,345.1 1019.6,344.4 1018.2,344 1016.8,344 1015.4,344.4 1014,345.1 1012.7,346.1 1011.3,347.4 1010,349.1 1008.7,351.1 1007.5,353.4 1006.3,356 1005.2,358.8 1004.1,362 1003.1,365.4 1002.2,369 1001.3,372.9 1000.5,376.9 999.8,381.1 999.2,385.5 998.7,390.1 998.3,394.7 997.9,399.4 997.7,404.3 997.5,409.1 997.5,414 997.5,418.9 997.7,423.7 997.9,428.6 998.3,433.3 998.7,437.9 999.2,442.5 999.8,446.9 1000.5,451.1 1001.3,455.1 1002.2,459 1003.1,462.6 1004.1,466 1005.2,469.2 1006.3,472 1007.5,474.6 1008.7,476.9 1010,478.9 1011.3,480.6 1012.7,481.9 1014,482.9 1015.4,483.6 1016.8,484 1018.2,484 1019.6,483.6 1021,482.9 1022.3,481.9 1023.7,480.6 1025,478.9 1026.3,476.9 1027.5,474.6 1028.7,472 1029.8,469.2 1030.9,466 1031.9,462.6 1032.8,459 1033.7,455.1 1034.5,451.1 1035.2,446.9 1035.8,442.5 1036.3,437.9 1036.7,433.3 1037.1,428.6 1037.3,423.7 1037.5,418.9 1037.5,414Z M1035,414 1034.2,413.1 1032.3,412.2 1030.5,411.3 1030,410.5 1031.1,409.6 1033,408.6 1034.6,407.7 1034.8,406.8 1033.4,405.9 1031.4,405.1 1030,404.3 1030,403.4 1031.6,402.4 1033.5,401.4 1034.6,400.5 1034.1,399.6 1032.3,398.8 1030.4,398 1029.4,397.2 1030.1,396.3 1031.9,395.3 1033.6,394.2 1034.1,393.3 1033,392.5 1031,391.7 1029.3,391 1028.9,390.2 1030.1,389.2 1032,388.1 1033.3,387 1033.2,386.1 1031.6,385.4 1029.5,384.8 1028.2,384.1 1028.4,383.1 1030,382 1031.7,380.9 1032.5,379.8 1031.8,379 1029.8,378.5 1027.8,377.9 1027,377.1 1027.8,376.1 1029.6,374.9 1031,373.7 1031.2,372.7 1029.8,372.1 1027.7,371.7 1026.1,371.1 1025.8,370.3 1027,369.1 1028.8,367.8 1029.8,366.6 1029.3,365.8 1027.4,365.4 1025.3,365.1 1024.1,364.5 1024.4,363.6 1025.9,362.2 1027.3,360.8 1027.7,359.7 1026.6,359.1 1024.5,359 1022.6,358.9 1021.9,358.3 1022.6,357.1 1024,355.5 1025,354 1024.7,353.2 1023,353.1 1020.9,353.5 1019.4,353.7 1019.2,353.1 1019.9,351.5 1020.8,349.6 1020.8,348.2 1019.8,348.2 1018.4,349.5 1017.6,351.2 1017.5,352 1017.4,351.2 1016.6,349.5 1015.2,348.2 1014.2,348.2 1014.2,349.6 1015.1,351.5 1015.8,353.1 1015.6,353.7 1014.1,353.5 1012,353.1 1010.3,353.2 1010,354 1011,355.5 1012.4,357.1 1013.1,358.3 1012.4,358.9 1010.5,359 1008.4,359.1 1007.3,359.7 1007.7,360.8 1009.1,362.2 1010.6,363.6 1010.9,364.5 1009.7,365.1 1007.6,365.4 1005.7,365.8 1005.2,366.6 1006.2,367.8 1008,369.1 1009.2,370.3 1008.9,371.1 1007.3,371.7 1005.2,372.1 1003.8,372.7 1004,373.7 1005.4,374.9 1007.2,376.1 1008,377.1 1007.2,377.9 1005.2,378.5 1003.2,379 1002.5,379.8 1003.3,380.9 1005,382 1006.6,383.1 1006.8,384.1 1005.5,384.8 1003.4,385.4 1001.8,386.1 1001.7,387 1003,388.1 1004.9,389.2 1006.1,390.2 1005.7,391 1004,391.7 1002,392.5 1000.9,393.3 1001.4,394.2 1003.1,395.3 1004.9,396.3 1005.6,397.2 1004.6,398 1002.7,398.8 1000.9,399.6 1000.4,400.5 1001.5,401.4 1003.4,402.4 1005,403.4 1005,404.3 1003.6,405.1 1001.6,405.9 1000.2,406.8 1000.4,407.7 1002,408.6 1003.9,409.6 1005,410.5 1004.5,411.3 1002.7,412.2 1000.8,413.1 1000,414 1000.8,414.9 1002.7,415.8 1004.5,416.7 1005,417.5 1003.9,418.4 1002,419.4 1000.4,420.3 1000.2,421.2 1001.6,422.1 1003.6,422.9 1005,423.7 1005,424.6 1003.4,425.6 1001.5,426.6 1000.4,427.5 1000.9,428.4 1002.7,429.2 1004.6,430 1005.6,430.8 1004.9,431.7 1003.1,432.7 1001.4,433.8 1000.9,434.7 1002,435.5 1004,436.3 1005.7,437 1006.1,437.8 1004.9,438.8 1003,439.9 1001.7,441 1001.8,441.9 1003.4,442.6 1005.5,443.2 1006.8,443.9 1006.6,444.9 1005,446 1003.3,447.1 1002.5,448.2 1003.2,449 1005.2,449.5 1007.2,450.1 1008,450.9 1007.2,451.9 1005.4,453.1 1004,454.3 1003.8,455.3 1005.2,455.9 1007.3,456.3 1008.9,456.9 1009.2,457.7 1008,458.9 1006.2,460.2 1005.2,461.4 1005.7,462.2 1007.6,462.6 1009.7,462.9 1010.9,463.5 1010.6,464.4 1009.1,465.8 1007.7,467.2 1007.3,468.3 1008.4,468.9 1010.5,469 1012.4,469.1 1013.1,469.7 1012.4,470.9 1011,472.5 1010,474 1010.3,474.8 1012,474.9 1014.1,474.5 1015.6,474.3 1015.8,474.9 1015.1,476.5 1014.2,478.4 1014.2,479.8 1015.2,479.8 1016.6,478.5 1017.4,476.8 1017.5,476 1017.6,476.8 1018.4,478.5 1019.8,479.8 1020.8,479.8 1020.8,478.4 1019.9,476.5 1019.2,474.9 1019.4,474.3 1020.9,474.5 1023,474.9 1024.7,474.8 1025,474 1024,472.5 1022.6,470.9 1021.9,469.7 1022.6,469.1 1024.5,469 1026.6,468.9 1027.7,468.3 1027.3,467.2 1025.9,465.8 1024.4,464.4 1024.1,463.5 1025.3,462.9 1027.4,462.6 1029.3,462.2 1029.8,461.4 1028.8,460.2 1027,458.9 1025.8,457.7 1026.1,456.9 1027.7,456.3 1029.8,455.9 1031.2,455.3 1031,454.3 1029.6,453.1 1027.8,451.9 1027,450.9 1027.8,450.1 1029.8,449.5 1031.8,449 1032.5,448.2 1031.7,447.1 1030,446 1028.4,444.9 1028.2,443.9 1029.5,443.2 1031.6,442.6 1033.2,441.9 1033.3,441 1032,439.9 1030.1,438.8 1028.9,437.8 1029.3,437 1031,436.3 1033,435.5 1034.1,434.7 1033.6,433.8 1031.9,432.7 1030.1,431.7 1029.4,430.8 1030.4,430 1032.3,429.2 1034.1,428.4 1034.6,427.5 1033.5,426.6 1031.6,425.6 1030,424.6 1030,423.7 1031.4,422.9 1033.4,422.1 1034.8,421.2 1034.6,420.3 1033,419.4 1031.1,418.4 1030,417.5 1030.5,416.7 1032.3,415.8 1034.2,414.9 1035,414Z" fill="#fff" stroke="#000" stroke-width="0" fill-rule="evenodd"/>
<path d="M1035,414 1034.2,414.9 1032.3,415.8 1030.5,416.7 1030,417.5 1031.1,418.4 1033,419.4 1034.6,420.3 1034.8,421.2 1033.4,422.1 1031.4,422.9 1030,423.7 1030,424.6 1031.6,425.6 1033.5,426.6 1034.6,427.5 1034.1,428.4 1032.3,429.2 1030.4,430 1029.4,430.8 1030.1,431.7 1031.9,432.7 1033.6,433.8 1034.1,434.7 1033,435.5 1031,436.3 1029.3,437 1028.9,437.8 1030.1,438.8 1032,439.9 1033.3,441 1033.2,441.9 1031.6,442.6 1029.5,443.2 1028.2,443.9 1028.4,444.9 1030,446 1031.7,447.1 1032.5,448.2 1031.8,449 1029.8,449.5 1027.8,450.1 1027,450.9 1027.8,451.9 1029.6,453.1 1031,454.3 1031.2,455.3 1029.8,455.9 1027.7,456.3 1026.1,456.9 1025.8,457.7 1027,458.9 1028.8,460.2 1029.8,461.4 1029.3,462.2 1027.4,462.6 1025.3,462.9 1024.1,463.5 1024.4,464.4 1025.9,465.8 1027.3,467.2 1027.7,468.3 1026.6,468.9 1024.5,469 1022.6,469.1 1021.9,469.7 1022.6,470.9 1024,472.5 1025,474 1024.7,474.8 1023,474.9 1020.9,474.5 1019.4,474.3 1019.2,474.9 1019.9,476.5 1020.8,478.4 1020.8,479.8 1019.8,479.8 1018.4,478.5 1017.6,476.8 1017.5,476 1017.4,476.8 1016.6,478.5 1015.2,479.8 1014.2,479.8 1014.2,478.4 1015.1,476.5 1015.8,474.9 1015.6,474.3 1014.1,474.5 1012,474.9 1010.3,474.8 1010,474 1011,472.5 1012.4,470.9 1013.1,469.7 1012.4,469.1 1010.5,469 1008.4,468.9 1007.3,468.3 1007.7,467.2 1009.1,465.8 1010.6,464.4 1010.9,463.5 1009.7,462.9 1007.6,462.6 1005.7,462.2 1005.2,461.4 1006.2,460.2 1008,458.9 1009.2,457.7 1008.9,456.9 1007.3,456.3 1005.2,455.9 1003.8,455.3 1004,454.3 1005.4,453.1 1007.2,451.9 1008,450.9 1007.2,450.1 1005.2,449.5 1003.2,449 1002.5,448.2 1003.3,447.1 1005,446 1006.6,444.9 1006.8,443.9 1005.5,443.2 1003.4,442.6 1001.8,441.9 1001.7,441 1003,439.9 1004.9,438.8 1006.1,437.8 1005.7,437 1004,436.3 1002,435.5 1000.9,434.7 1001.4,433.8 1003.1,432.7 1004.9,431.7 1005.6,430.8 1004.6,430 1002.7,429.2 1000.9,428.4 1000.4,427.5 1001.5,426.6 1003.4,425.6 1005,424.6 1005,423.7 1003.6,422.9 1001.6,422.1 1000.2,421.2 1000.4,420.3 1002,419.4 1003.9,418.4 1005,417.5 1004.5,416.7 1002.7,415.8 1000.8,414.9 1000,414 1000.8,413.1 1002.7,412.2 1004.5,411.3 1005,410.5 1003.9,409.6 1002,408.6 1000.4,407.7 1000.2,406.8 1001.6,405.9 1003.6,405.1 1005,404.3 1005,403.4 1003.4,402.4 1001.5,401.4 1000.4,400.5 1000.9,399.6 1002.7,398.8 1004.6,398 1005.6,397.2 1004.9,396.3 1003.1,395.3 1001.4,394.2 1000.9,393.3 1002,392.5 1004,391.7 1005.7,391 1006.1,390.2 1004.9,389.2 1003,388.1 1001.7,387 1001.8,386.1 1003.4,385.4 1005.5,384.8 1006.8,384.1 1006.6,383.1 1005,382 1003.3,380.9 1002.5,379.8 1003.2,379 1005.2,378.5 1007.2,377.9 1008,377.1 1007.2,376.1 1005.4,374.9 1004,373.7 1003.8,372.7 1005.2,372.1 1007.3,371.7 1008.9,371.1 1009.2,370.3 1008,369.1 1006.2,367.8 1005.2,366.6 1005.7,365.8 1007.6,365.4 1009.7,365.1 1010.9,364.5 1010.6,363.6 1009.1,362.2 1007.7,360.8 1007.3,359.7 1008.4,359.1 1010.5,359 1012.4,358.9 1013.1,358.3 1012.4,357.1 1011,355.5 1010,354 1010.3,353.2 1012,353.1 1014.1,353.5 1015.6,353.7 1015.8,353.1 1015.1,351.5 1014.2,349.6 1014.2,348.2 1015.2,348.2 1016.6,349.5 1017.4,351.2 1017.5,352 1017.6,351.2 1018.4,349.5 1019.8,348.2 1020.8,348.2 1020.8,349.6 1019.9,351.5 1019.2,353.1 1019.4,353.7 1020.9,353.5 1023,353.1 1024.7,353.2 1025,354 1024,355.5 1022.6,357.1 1021.9,358.3 1022.6,358.9 1024.5,359 1026.6,359.1 1027.7,359.7 1027.3,360.8 1025.9,362.2 1024.4,363.6 1024.1,364.5 1025.3,365.1 1027.4,365.4 1029.3,365.8 1029.8,366.6 1028.8,367.8 1027,369.1 1025.8,370.3 1026.1,371.1 1027.7,371.7 1029.8,372.1 1031.2,372.7 1031,373.7 1029.6,374.9 1027.8,376.1 1027,377.1 1027.8,377.9 1029.8,378.5 1031.8,379 1032.5,379.8 1031.7,380.9 1030,382 1028.4,383.1 1028.2,384.1 1029.5,384.8 1031.6,385.4 1033.2,386.1 1033.3,387 1032,388.1 1030.1,389.2 1028.9,390.2 1029.3,391 1031,391.7 1033,392.5 1034.1,393.3 1033.6,394.2 1031.9,395.3 1030.1,396.3 1029.4,397.2 1030.4,398 1032.3,398.8 1034.1,399.6 1034.6,400.5 1033.5,401.4 1031.6,402.4 1030,403.4 1030,404.3 1031.4,405.1 1033.4,405.9 1034.8,406.8 1034.6,407.7 1033,408.6 1031.1,409.6 1030,410.5 1030.5,411.3 1032.3,412.2 1034.2,413.1 1035,414Z" fill="none" stroke="#000" stroke-width="2.4" />
<path d="M1022.1,474.1 1021.1,473.2 1020.2,472 1019.3,470.6 1018.4,468.8 1017.5,466.8 1016.7,464.6 1015.9,462.1 1015.1,459.3 1014.4,456.4 1013.8,453.2 1013.2,449.9 1012.6,446.3 1012.1,442.6 1011.7,438.8 1011.3,434.9 1011,430.8 1010.8,426.7 1010.6,422.5 1010.5,418.3 1010.5,414 1010.5,409.7 1010.6,405.5 1010.8,401.3 1011,397.2 1011.3,393.1 1011.7,389.2 1012.1,385.4 1012.6,381.7 1013.2,378.1 1013.8,374.8 1014.4,371.6 1015.1,368.7 1015.9,365.9 1016.7,363.4 1017.5,361.2 1018.4,359.2 1019.3,357.4 1020.2,356 1021.1,354.8 1022.1,353.9" fill="none" stroke="#000" stroke-width="1.8" />
<path d="M1025.6,474.1 1024.6,473.2 1023.7,472 1022.8,470.6 1021.9,468.8 1021,466.8 1020.2,464.6 1019.4,462.1 1018.6,459.3 1017.9,456.4 1017.3,453.2 1016.7,449.9 1016.1,446.3 1015.6,442.6 1015.2,438.8 1014.8,434.9 1014.5,430.8 1014.3,426.7 1014.1,422.5 1014,418.3 1014,414 1014,409.7 1014.1,405.5 1014.3,401.3 1014.5,397.2 1014.8,393.1 1015.2,389.2 1015.6,385.4 1016.1,381.7 1016.7,378.1 1017.3,374.8 1017.9,371.6 1018.6,368.7 1019.4,365.9 1020.2,363.4 1021,361.2 1021.9,359.2 1022.8,357.4 1023.7,356 1024.6,354.8 1025.6,353.9" fill="none" stroke="#000" stroke-width="1.4" />
<path d="M934.5,400.8 934.1,399.8 932.9,398.8 931.6,397.8 931,396.8 931.5,395.9 932.8,395.1 934.2,394.4 935.1,393.6 935,392.7 934,391.6 932.8,390.5 932,389.5 932.1,388.6 933.2,387.8 934.7,387.1 935.9,386.4 936.2,385.5 935.5,384.5 934.3,383.4 933.3,382.3 933.2,381.3 934.1,380.5 935.6,379.9 937,379.2 937.6,378.4 937.2,377.4 936.1,376.3 935,375.1 934.7,374 935.3,373.2 936.7,372.6 938.3,372.1 939.2,371.4 939.2,370.5 938.3,369.3 937.2,368 936.7,366.9 937,366 938.3,365.4 939.9,365 941.1,364.4 941.5,363.6 940.9,362.4 939.9,361.1 939.2,359.8 939.3,358.9 940.4,358.3 942,358 943.5,357.6 944.2,356.9 943.9,355.8 943.1,354.4 942.3,353 942.3,351.9 943.1,351.3 944.7,351.1 946.3,350.9 947.3,350.4 947.5,349.4 946.9,348.1 946.2,346.5 946,345.3 946.7,344.6 948.2,344.4 949.9,344.4 951.2,344.3 951.7,343.5 951.5,342.2 951.1,340.6 950.9,339.1 951.5,338.3 952.8,338.2 954.5,338.6 956,338.8 956.9,338.5 957.2,337.4 957.2,335.7 957.4,334.1 958.1,333.2 959.3,333.2 960.8,334 962.2,334.9 963.2,335.2 964,334.6 964.8,333.2 965.6,331.7 966.7,330.9 967.9,331.2 968.9,332.4 969.7,333.9 970.4,335 971.3,335.1 972.5,334.5 974,333.6 975.4,333.1 976.4,333.6 976.8,334.9 976.9,336.6 977,338 977.5,338.8 978.7,338.8 980.4,338.4 981.9,338.2 982.9,338.7 983.1,339.8 982.7,341.4 982.4,343 982.5,344 983.4,344.4 985,344.5 986.6,344.5 987.7,344.9 988,345.9 987.5,347.3 986.8,348.8 986.5,350 987.1,350.7 988.5,351 990.1,351.2 991.4,351.6 991.8,352.5 991.4,353.7 990.5,355.2 989.9,356.4 990.1,357.3 991.2,357.8 992.8,358.2 994.3,358.6 994.9,359.4 994.6,360.5 993.6,361.8 992.7,363.1 992.3,363.2 993.7,367.6 995,372.3 996.1,377.1 997.1,382.1 998,387.3 998.7,392.6 999.3,398 999.7,403.5 999.9,409.1 1000,414.7 999.9,420.2 999.7,425.8 999.3,431.3 998.7,436.7 998,442 997.1,447.2 996.1,452.2 995,457.1 993.7,461.7 992.3,466.1 992.3,466.1 992.5,467.1 993.4,468.4 994.3,469.7 994.6,470.8 993.9,471.6 992.4,472 990.8,472.3 989.7,472.8 989.5,473.7 990.1,475 991,476.4 991.4,477.7 991,478.5 989.7,478.9 988,479.1 986.7,479.4 986.1,480.1 986.3,481.3 987,482.8 987.5,484.2 987.2,485.2 986.1,485.6 984.4,485.6 982.9,485.6 981.9,486 981.8,487 982.1,488.6 982.5,490.2 982.2,491.4 981.2,491.8 979.7,491.5 978,491.1 976.8,491.1 976.2,491.8 976.1,493.2 975.9,494.9 975.4,496.3 974.4,496.7 973.1,496.1 971.6,495.2 970.5,494.4 969.5,494.5 968.8,495.5 967.9,497 966.8,498.2 965.6,498.4 964.6,497.5 963.8,496 963.2,494.6 962.4,493.9 961.3,494.1 959.9,494.9 958.4,495.6 957.2,495.6 956.5,494.7 956.4,493.1 956.4,491.4 956.2,490.3 955.3,489.9 953.9,490.1 952.2,490.4 950.9,490.3 950.3,489.5 950.5,488.1 950.9,486.5 951.2,485.1 950.7,484.4 949.4,484.2 947.7,484.2 946.3,484 945.6,483.3 945.7,482.1 946.4,480.6 947,479.2 946.9,478.2 946,477.7 944.4,477.5 942.8,477.2 941.9,476.6 941.9,475.5 942.7,474.2 943.5,472.8 943.8,471.7 943.2,471 941.8,470.6 940.2,470.2 939,469.6 938.8,468.7 939.5,467.5 940.6,466.1 941.2,465 940.9,464.1 939.7,463.5 938.1,463.1 936.8,462.5 936.4,461.7 936.9,460.5 938,459.3 938.9,458.1 939,457.1 938.1,456.4 936.6,455.9 935.2,455.3 934.5,454.5 934.8,453.5 935.8,452.3 936.9,451.1 937.4,450.1 936.9,449.3 935.5,448.6 934,448 933.1,447.2 933.1,446.3 934,445.2 935.2,444.1 936,443 935.9,442.1 934.8,441.4 933.2,440.7 932.1,439.9 931.8,439 932.5,438 933.8,436.9 934.8,435.9 935.1,435 934.3,434.2 932.8,433.4 931.5,432.6 930.9,431.7 931.4,430.8 932.6,429.7 933.9,428.7 934.4,427.8 934,426.9 932.7,426.1 931.3,425.3 930.5,424.4 930.7,423.4 931.8,422.5 933.1,421.5 934,420.6 933.9,419.7 932.9,418.8 931.4,417.9 930.4,417 930.3,416.1 931.2,415.2 932.6,414.3 933.7,413.4 934,412.5 933.2,411.6 931.9,410.6 930.7,409.7 930.3,408.8 930.9,407.9 932.3,407 933.6,406.1 934.2,405.3 933.8,404.3 932.6,403.4 931.4,402.4 930.7,401.4 931,400.5Z M997,414.7 996.9,409.6 996.7,404.5 996.4,399.5 996,394.5 995.4,389.7 994.7,385 993.8,380.4 992.9,376 991.8,371.8 990.7,367.7 989.4,363.9 988.1,360.4 986.6,357.1 985.1,354.1 983.5,351.4 981.8,349 980.1,347 978.3,345.2 976.5,343.8 974.7,342.8 972.8,342.1 970.9,341.7 969.1,341.7 967.2,342.1 965.3,342.8 963.5,343.8 961.7,345.2 959.9,347 958.2,349 956.5,351.4 954.9,354.1 953.4,357.1 951.9,360.4 950.6,363.9 949.3,367.7 948.2,371.8 947.1,376 946.2,380.4 945.3,385 944.6,389.7 944,394.5 943.6,399.5 943.3,404.5 943.1,409.6 943,414.7 943.1,419.8 943.3,424.8 943.6,429.8 944,434.8 944.6,439.6 945.3,444.4 946.2,448.9 947.1,453.3 948.2,457.6 949.3,461.6 950.6,465.4 951.9,468.9 953.4,472.2 954.9,475.2 956.5,477.9 958.2,480.3 959.9,482.3 961.7,484.1 963.5,485.5 965.3,486.6 967.2,487.3 969.1,487.6 970.9,487.6 972.8,487.3 974.7,486.6 976.5,485.5 978.3,484.1 980.1,482.3 981.8,480.3 983.5,477.9 985.1,475.2 986.6,472.2 988.1,468.9 989.4,465.4 990.7,461.6 991.8,457.6 992.9,453.3 993.8,448.9 994.7,444.4 995.4,439.6 996,434.8 996.4,429.8 996.7,424.8 996.9,419.8 997,414.7Z" fill="#fff" stroke="#000" stroke-width="1.8" fill-rule="evenodd"/>
<path d="M976.3,346.7 978,347.7 979.7,349 981.4,350.7 983,352.6 984.5,354.9 986,357.5 987.4,360.3 988.7,363.4 990,366.7 991.2,370.3 992.2,374.1 993.2,378.1 994.1,382.3 994.8,386.6 995.5,391.1 996,395.6 996.5,400.3 996.8,405.1 996.9,409.8 997,414.7 996.9,419.5 996.8,424.3 996.5,429 996,433.7 995.5,438.3 994.8,442.7 994.1,447.1 993.2,451.2 992.2,455.2 991.2,459 990,462.6 988.7,465.9 987.4,469 986,471.9 984.5,474.4 983,476.7 981.4,478.6 979.7,480.3 978,481.6 976.3,482.6" fill="none" stroke="#000" stroke-width="1.4" />
<path d="M986,414.7 985.9,420 985.7,425.3 985.3,430.6 984.8,435.7 984.1,440.8 983.2,445.8 982.3,450.6 981.1,455.2 979.9,459.6 978.5,463.8 977,467.8 975.4,471.5 973.7,474.9 971.9,478.1 970,480.9 968,483.4 966,485.6 963.9,487.4 961.7,488.9 959.6,490 957.3,490.7 955.1,491.1 952.9,491.1 950.7,490.7 948.4,490 946.3,488.9 944.1,487.4 942,485.6 940,483.4 938,480.9 936.1,478.1 934.3,474.9 932.6,471.5 931,467.8 929.5,463.8 928.1,459.6 926.9,455.2 925.7,450.6 924.8,445.8 923.9,440.8 923.2,435.7 922.7,430.6 922.3,425.3 922.1,420 922,414.7 922.1,409.3 922.3,404 922.7,398.8 923.2,393.6 923.9,388.5 924.8,383.5 925.7,378.7 926.9,374.1 928.1,369.7 929.5,365.5 931,361.5 932.6,357.8 934.3,354.4 936.1,351.2 938,348.4 940,345.9 942,343.7 944.1,341.9 946.3,340.4 948.4,339.3 950.7,338.6 952.9,338.2 955.1,338.2 957.3,338.6 959.6,339.3 961.7,340.4 963.9,341.9 966,343.7 968,345.9 970,348.4 971.9,351.2 973.7,354.4 975.4,357.8 977,361.5 978.5,365.5 979.9,369.7 981.1,374.1 982.3,378.7 983.2,383.5 984.1,388.5 984.8,393.6 985.3,398.8 985.7,404 985.9,409.3 986,414.7Z M973,414.7 972.9,409.8 972.8,404.9 972.5,400.1 972.2,395.4 971.7,390.7 971.1,386.2 970.5,381.8 969.7,377.6 968.8,373.5 967.9,369.7 966.9,366 965.8,362.6 964.6,359.5 963.4,356.6 962.1,354 960.8,351.7 959.4,349.8 958,348.1 956.5,346.7 955,345.7 953.5,345 952,344.7 950.5,344.7 949,345 947.5,345.7 946,346.7 944.5,348.1 943.1,349.8 941.7,351.7 940.4,354 939.1,356.6 937.9,359.5 936.7,362.6 935.6,366 934.6,369.7 933.7,373.5 932.8,377.6 932,381.8 931.4,386.2 930.8,390.7 930.3,395.4 930,400.1 929.7,404.9 929.6,409.8 929.5,414.7 929.6,419.5 929.7,424.4 930,429.2 930.3,434 930.8,438.6 931.4,443.1 932,447.5 932.8,451.8 933.7,455.8 934.6,459.7 935.6,463.3 936.7,466.7 937.9,469.8 939.1,472.7 940.4,475.3 941.7,477.6 943.1,479.6 944.5,481.2 946,482.6 947.5,483.6 949,484.3 950.5,484.6 952,484.6 953.5,484.3 955,483.6 956.5,482.6 958,481.2 959.4,479.6 960.8,477.6 962.1,475.3 963.4,472.7 964.6,469.8 965.8,466.7 966.9,463.3 967.9,459.7 968.8,455.8 969.7,451.8 970.5,447.5 971.1,443.1 971.7,438.6 972.2,434 972.5,429.2 972.8,424.4 972.9,419.5 973,414.7Z" fill="url(#tex)" stroke="#000" stroke-width="2.0" fill-rule="evenodd"/>
<path d="M973,414.7 972.9,409.8 972.8,404.9 972.5,400.1 972.2,395.4 971.7,390.7 971.1,386.2 970.5,381.8 969.7,377.6 968.8,373.5 967.9,369.7 966.9,366 965.8,362.6 964.6,359.5 963.4,356.6 962.1,354 960.8,351.7 959.4,349.8 958,348.1 956.5,346.7 955,345.7 953.5,345 952,344.7 950.5,344.7 949,345 947.5,345.7 946,346.7 944.5,348.1 943.1,349.8 941.7,351.7 940.4,354 939.1,356.6 937.9,359.5 936.7,362.6 935.6,366 934.6,369.7 933.7,373.5 932.8,377.6 932,381.8 931.4,386.2 930.8,390.7 930.3,395.4 930,400.1 929.7,404.9 929.6,409.8 929.5,414.7 929.6,419.5 929.7,424.4 930,429.2 930.3,434 930.8,438.6 931.4,443.1 932,447.5 932.8,451.8 933.7,455.8 934.6,459.7 935.6,463.3 936.7,466.7 937.9,469.8 939.1,472.7 940.4,475.3 941.7,477.6 943.1,479.6 944.5,481.2 946,482.6 947.5,483.6 949,484.3 950.5,484.6 952,484.6 953.5,484.3 955,483.6 956.5,482.6 958,481.2 959.4,479.6 960.8,477.6 962.1,475.3 963.4,472.7 964.6,469.8 965.8,466.7 966.9,463.3 967.9,459.7 968.8,455.8 969.7,451.8 970.5,447.5 971.1,443.1 971.7,438.6 972.2,434 972.5,429.2 972.8,424.4 972.9,419.5 973,414.7Z M970.5,414.7 969.7,413.8 967.8,412.9 966,412 965.5,411.1 966.7,410.2 968.7,409.3 970.2,408.4 970.2,407.5 968.7,406.6 966.7,405.8 965.4,405 965.7,404.1 967.3,403.1 969.2,402.1 970.1,401.1 969.3,400.3 967.4,399.5 965.5,398.8 964.9,397.9 965.9,397 967.8,395.9 969.3,394.9 969.4,394 968,393.2 965.9,392.5 964.4,391.8 964.6,390.9 966.1,389.8 967.9,388.7 968.9,387.7 968.1,386.9 966.2,386.2 964.2,385.6 963.4,384.8 964.3,383.8 966.1,382.6 967.6,381.5 967.7,380.6 966.3,379.9 964.2,379.4 962.6,378.8 962.5,377.9 963.9,376.7 965.7,375.5 966.6,374.3 965.9,373.6 964,373.1 961.9,372.7 961,372 961.6,371 963.2,369.7 964.7,368.3 964.8,367.4 963.4,366.8 961.2,366.6 959.5,366.2 959.3,365.4 960.4,364.1 962,362.6 962.8,361.4 962.2,360.7 960.2,360.5 958.1,360.5 957,360.1 957.3,359 958.7,357.5 959.8,355.9 959.9,354.8 958.5,354.6 956.3,355 954.6,355.3 954.1,354.8 954.7,353.3 955.7,351.4 956,349.9 955.2,349.5 953.6,350.4 952.1,351.9 951.5,352.7 951.4,352 951.3,350.2 950.5,348.4 949.5,348 949.1,349.2 949.4,351.2 949.9,352.9 949.7,353.4 948.3,352.9 946.3,352.1 944.7,351.9 944.3,352.7 945.1,354.3 946.4,356 946.9,357.3 946.1,357.7 944.1,357.6 942,357.5 941,358 941.4,359.2 942.9,360.8 944.2,362.2 944.2,363.1 942.8,363.5 940.6,363.6 938.9,364 938.6,364.8 939.8,366.1 941.5,367.5 942.4,368.7 941.7,369.4 939.8,369.8 937.7,370.2 936.7,370.8 937.2,371.9 938.9,373.2 940.4,374.4 940.7,375.4 939.4,376 937.3,376.5 935.6,377 935.3,377.9 936.6,379 938.4,380.3 939.5,381.4 939.1,382.2 937.3,382.8 935.2,383.4 934.1,384.1 934.7,385.1 936.4,386.2 938.1,387.4 938.6,388.3 937.4,389 935.4,389.7 933.6,390.4 933.3,391.3 934.6,392.3 936.5,393.4 937.8,394.4 937.5,395.3 935.8,396 933.8,396.7 932.7,397.5 933.2,398.5 934.9,399.5 936.7,400.5 937.4,401.4 936.4,402.3 934.4,403.1 932.7,403.9 932.3,404.7 933.5,405.7 935.5,406.7 936.9,407.6 936.8,408.5 935.3,409.3 933.3,410.2 932.1,411.1 932.5,412 934.3,412.9 936.2,413.8 937,414.7 936.2,415.5 934.3,416.4 932.5,417.4 932.1,418.3 933.3,419.1 935.3,420 936.8,420.8 936.9,421.7 935.5,422.7 933.5,423.6 932.3,424.6 932.7,425.5 934.4,426.3 936.4,427.1 937.4,427.9 936.7,428.8 934.9,429.8 933.2,430.8 932.7,431.8 933.8,432.6 935.8,433.3 937.5,434.1 937.8,434.9 936.5,435.9 934.6,437 933.3,438 933.6,438.9 935.4,439.6 937.4,440.3 938.6,441 938.1,442 936.4,443.1 934.7,444.2 934.1,445.2 935.2,446 937.3,446.5 939.1,447.1 939.5,448 938.4,449 936.6,450.3 935.3,451.4 935.6,452.3 937.3,452.9 939.4,453.3 940.7,453.9 940.4,454.9 938.9,456.1 937.2,457.4 936.7,458.5 937.7,459.2 939.8,459.5 941.7,459.9 942.4,460.6 941.5,461.8 939.8,463.2 938.6,464.5 938.9,465.4 940.6,465.7 942.8,465.9 944.2,466.2 944.2,467.1 942.9,468.6 941.4,470.1 941,471.3 942,471.8 944.1,471.7 946.1,471.6 946.9,472.1 946.4,473.3 945.1,475 944.3,476.6 944.7,477.4 946.3,477.2 948.3,476.4 949.7,475.9 949.9,476.4 949.4,478.1 949.1,480.1 949.5,481.4 950.5,480.9 951.2,479.2 951.4,477.3 951.5,476.6 952.1,477.4 953.6,478.9 955.2,479.8 956,479.4 955.7,477.9 954.7,476 954.1,474.5 954.6,474.1 956.3,474.3 958.5,474.7 959.9,474.5 959.8,473.5 958.7,471.9 957.3,470.3 957,469.2 958.1,468.8 960.2,468.8 962.2,468.7 962.8,467.9 962,466.7 960.4,465.2 959.3,463.9 959.5,463.1 961.2,462.7 963.4,462.5 964.8,462 964.7,461 963.2,459.7 961.6,458.3 961,457.3 961.9,456.6 964,456.2 965.9,455.7 966.6,455 965.7,453.9 963.9,452.6 962.5,451.4 962.6,450.5 964.2,449.9 966.3,449.4 967.7,448.8 967.6,447.8 966.1,446.7 964.3,445.5 963.4,444.5 964.2,443.7 966.2,443.1 968.1,442.5 968.9,441.6 967.9,440.6 966.1,439.5 964.6,438.4 964.4,437.5 965.9,436.8 968,436.1 969.4,435.4 969.3,434.4 967.8,433.4 965.9,432.4 964.9,431.4 965.5,430.6 967.4,429.8 969.3,429 970.1,428.2 969.2,427.2 967.3,426.2 965.7,425.3 965.4,424.4 966.7,423.5 968.7,422.7 970.2,421.9 970.2,421 968.7,420 966.7,419.1 965.5,418.2 966,417.3 967.8,416.4 969.7,415.6 970.5,414.7Z" fill="#fff" stroke="#000" stroke-width="0" fill-rule="evenodd"/>
<path d="M970.5,414.7 969.7,415.6 967.8,416.4 966,417.3 965.5,418.2 966.7,419.1 968.7,420 970.2,421 970.2,421.9 968.7,422.7 966.7,423.5 965.4,424.4 965.7,425.3 967.3,426.2 969.2,427.2 970.1,428.2 969.3,429 967.4,429.8 965.5,430.6 964.9,431.4 965.9,432.4 967.8,433.4 969.3,434.4 969.4,435.4 968,436.1 965.9,436.8 964.4,437.5 964.6,438.4 966.1,439.5 967.9,440.6 968.9,441.6 968.1,442.5 966.2,443.1 964.2,443.7 963.4,444.5 964.3,445.5 966.1,446.7 967.6,447.8 967.7,448.8 966.3,449.4 964.2,449.9 962.6,450.5 962.5,451.4 963.9,452.6 965.7,453.9 966.6,455 965.9,455.7 964,456.2 961.9,456.6 961,457.3 961.6,458.3 963.2,459.7 964.7,461 964.8,462 963.4,462.5 961.2,462.7 959.5,463.1 959.3,463.9 960.4,465.2 962,466.7 962.8,467.9 962.2,468.7 960.2,468.8 958.1,468.8 957,469.2 957.3,470.3 958.7,471.9 959.8,473.5 959.9,474.5 958.5,474.7 956.3,474.3 954.6,474.1 954.1,474.5 954.7,476 955.7,477.9 956,479.4 955.2,479.8 953.6,478.9 952.1,477.4 951.5,476.6 951.4,477.3 951.2,479.2 950.5,480.9 949.5,481.4 949.1,480.1 949.4,478.1 949.9,476.4 949.7,475.9 948.3,476.4 946.3,477.2 944.7,477.4 944.3,476.6 945.1,475 946.4,473.3 946.9,472.1 946.1,471.6 944.1,471.7 942,471.8 941,471.3 941.4,470.1 942.9,468.6 944.2,467.1 944.2,466.2 942.8,465.9 940.6,465.7 938.9,465.4 938.6,464.5 939.8,463.2 941.5,461.8 942.4,460.6 941.7,459.9 939.8,459.5 937.7,459.2 936.7,458.5 937.2,457.4 938.9,456.1 940.4,454.9 940.7,453.9 939.4,453.3 937.3,452.9 935.6,452.3 935.3,451.4 936.6,450.3 938.4,449 939.5,448 939.1,447.1 937.3,446.5 935.2,446 934.1,445.2 934.7,444.2 936.4,443.1 938.1,442 938.6,441 937.4,440.3 935.4,439.6 933.6,438.9 933.3,438 934.6,437 936.5,435.9 937.8,434.9 937.5,434.1 935.8,433.3 933.8,432.6 932.7,431.8 933.2,430.8 934.9,429.8 936.7,428.8 937.4,427.9 936.4,427.1 934.4,426.3 932.7,425.5 932.3,424.6 933.5,423.6 935.5,422.7 936.9,421.7 936.8,420.8 935.3,420 933.3,419.1 932.1,418.3 932.5,417.4 934.3,416.4 936.2,415.5 937,414.7 936.2,413.8 934.3,412.9 932.5,412 932.1,411.1 933.3,410.2 935.3,409.3 936.8,408.5 936.9,407.6 935.5,406.7 933.5,405.7 932.3,404.7 932.7,403.9 934.4,403.1 936.4,402.3 937.4,401.4 936.7,400.5 934.9,399.5 933.2,398.5 932.7,397.5 933.8,396.7 935.8,396 937.5,395.3 937.8,394.4 936.5,393.4 934.6,392.3 933.3,391.3 933.6,390.4 935.4,389.7 937.4,389 938.6,388.3 938.1,387.4 936.4,386.2 934.7,385.1 934.1,384.1 935.2,383.4 937.3,382.8 939.1,382.2 939.5,381.4 938.4,380.3 936.6,379 935.3,377.9 935.6,377 937.3,376.5 939.4,376 940.7,375.4 940.4,374.4 938.9,373.2 937.2,371.9 936.7,370.8 937.7,370.2 939.8,369.8 941.7,369.4 942.4,368.7 941.5,367.5 939.8,366.1 938.6,364.8 938.9,364 940.6,363.6 942.8,363.5 944.2,363.1 944.2,362.2 942.9,360.8 941.4,359.2 941,358 942,357.5 944.1,357.6 946.1,357.7 946.9,357.3 946.4,356 945.1,354.3 944.3,352.7 944.7,351.9 946.3,352.1 948.3,352.9 949.7,353.4 949.9,352.9 949.4,351.2 949.1,349.2 949.5,348 950.5,348.4 951.3,350.2 951.4,352 951.5,352.7 952.1,351.9 953.6,350.4 955.2,349.5 956,349.9 955.7,351.4 954.7,353.3 954.1,354.8 954.6,355.3 956.3,355 958.5,354.6 959.9,354.8 959.8,355.9 958.7,357.5 957.3,359 957,360.1 958.1,360.5 960.2,360.5 962.2,360.7 962.8,361.4 962,362.6 960.4,364.1 959.3,365.4 959.5,366.2 961.2,366.6 963.4,366.8 964.8,367.4 964.7,368.3 963.2,369.7 961.6,371 961,372 961.9,372.7 964,373.1 965.9,373.6 966.6,374.3 965.7,375.5 963.9,376.7 962.5,377.9 962.6,378.8 964.2,379.4 966.3,379.9 967.7,380.6 967.6,381.5 966.1,382.6 964.3,383.8 963.4,384.8 964.2,385.6 966.2,386.2 968.1,386.9 968.9,387.7 967.9,388.7 966.1,389.8 964.6,390.9 964.4,391.8 965.9,392.5 968,393.2 969.4,394 969.3,394.9 967.8,395.9 965.9,397 964.9,397.9 965.5,398.8 967.4,399.5 969.3,400.3 970.1,401.1 969.2,402.1 967.3,403.1 965.7,404.1 965.4,405 966.7,405.8 968.7,406.6 970.2,407.5 970.2,408.4 968.7,409.3 966.7,410.2 965.5,411.1 966,412 967.8,412.9 969.7,413.8 970.5,414.7Z" fill="none" stroke="#000" stroke-width="2.4" />
<path d="M956.2,474.7 955.2,473.8 954.2,472.7 953.2,471.2 952.2,469.5 951.2,467.5 950.3,465.2 949.5,462.7 948.7,460 947.9,457 947.2,453.9 946.5,450.5 946,447 945.4,443.3 945,439.5 944.6,435.5 944.2,431.5 944,427.3 943.8,423.1 943.7,418.9 943.6,414.7 943.7,410.4 943.8,406.2 944,402 944.2,397.8 944.6,393.8 945,389.8 945.4,386 946,382.3 946.5,378.8 947.2,375.4 947.9,372.3 948.7,369.3 949.5,366.6 950.3,364.1 951.2,361.8 952.2,359.8 953.2,358.1 954.2,356.6 955.2,355.5 956.2,354.6" fill="none" stroke="#000" stroke-width="1.8" />
<path d="M959.7,474.7 958.7,473.8 957.7,472.7 956.7,471.2 955.7,469.5 954.8,467.5 953.8,465.2 953,462.7 952.2,460 951.4,457 950.7,453.9 950,450.5 949.5,447 948.9,443.3 948.5,439.5 948.1,435.5 947.7,431.5 947.5,427.3 947.3,423.1 947.2,418.9 947.1,414.7 947.2,410.4 947.3,406.2 947.5,402 947.7,397.8 948.1,393.8 948.5,389.8 948.9,386 949.5,382.3 950,378.8 950.7,375.4 951.4,372.3 952.2,369.3 953,366.6 953.8,364.1 954.8,361.8 955.7,359.8 956.7,358.1 957.7,356.6 958.7,355.5 959.7,354.6" fill="none" stroke="#000" stroke-width="1.4" />
<path d="M840.2,401.6 839.8,400.6 838.6,399.6 837.4,398.5 836.8,397.5 837.3,396.7 838.6,395.9 840.1,395.2 841,394.4 841,393.5 840,392.4 838.8,391.3 838,390.2 838.3,389.3 839.4,388.6 841,388 842.2,387.3 842.5,386.4 841.8,385.3 840.6,384.1 839.7,383 839.7,382 840.7,381.3 842.2,380.7 843.6,380.2 844.3,379.4 843.9,378.4 842.9,377.1 842,375.9 841.7,374.8 842.4,374.1 843.9,373.6 845.5,373.1 846.5,372.5 846.5,371.6 845.7,370.3 844.7,368.9 844.3,367.8 844.8,367 846.1,366.5 847.8,366.2 849,365.7 849.4,364.9 848.9,363.7 848,362.3 847.5,360.9 847.7,360 848.9,359.6 850.6,359.4 852,359.2 852.7,358.5 852.6,357.4 851.9,355.9 851.3,354.4 851.4,353.4 852.4,352.9 854,352.8 855.6,352.8 856.6,352.4 856.8,351.4 856.4,350 855.9,348.4 855.9,347.2 856.7,346.6 858.2,346.6 859.9,346.8 861.1,346.8 861.7,346 861.6,344.6 861.3,343 861.3,341.6 862,340.9 863.3,341 865,341.4 866.4,341.7 867.2,341.4 867.5,340.2 867.5,338.5 867.7,337 868.4,336.1 869.5,336.2 871,337 872.4,337.7 873.5,337.8 874.1,336.9 874.5,335.4 875,333.8 875.8,332.9 876.9,333 878.1,333.9 879.4,335.1 880.4,335.7 881.3,335.4 882.1,334.2 883,332.7 884,331.8 885,331.9 886,332.9 886.8,334.4 887.6,335.6 888.5,335.8 889.6,335.1 890.8,334 892.1,333.1 893.2,333.2 893.9,334.2 894.3,335.9 894.7,337.4 895.4,338.1 896.4,337.9 897.9,337.2 899.4,336.6 900.5,336.6 901.1,337.5 901.2,339.1 901.2,340.8 901.5,341.9 902.4,342.2 903.9,341.9 905.5,341.4 906.8,341.4 907.4,342.2 907.3,343.7 907,345.3 906.9,346.7 907.6,347.3 908.9,347.4 910.6,347.2 912,347.2 912.7,347.9 912.6,349.1 912.1,350.7 911.7,352.2 911.9,353.1 913.1,353.4 914.7,353.4 916.2,353.6 917.1,354.1 917.1,355.2 916.5,356.7 915.8,358.1 915.7,359.2 916.5,359.8 918.1,360.1 919.7,360.3 920.8,360.8 920.9,361.7 920.3,363.1 918.2,364.1 920.1,368.5 921.8,373.1 923.4,377.9 924.7,383 925.9,388.1 926.9,393.4 927.6,398.9 928.2,404.4 928.5,409.9 928.6,415.5 928.5,421.1 928.2,426.6 927.6,432.1 926.9,437.5 925.9,442.9 924.7,448 923.4,453 921.8,457.9 920.1,462.5 918.2,466.9 918.2,466.9 918.3,468 919,469.3 919.8,470.8 919.9,471.9 919.2,472.6 917.7,472.8 916,473 914.9,473.3 914.6,474.2 915.1,475.6 915.8,477.1 916,478.4 915.5,479.2 914.1,479.4 912.4,479.3 911,479.5 910.4,480.1 910.5,481.4 911,483 911.3,484.4 910.9,485.3 909.7,485.6 908.1,485.4 906.6,485.2 905.6,485.5 905.4,486.6 905.6,488.2 905.7,489.8 905.4,490.9 904.3,491.1 902.8,490.8 901.3,490.2 900.1,490.2 899.5,490.9 899.3,492.4 899.2,494 898.8,495.3 897.8,495.7 896.5,495.2 895,494.3 893.8,493.7 892.9,494 892.4,495.2 891.9,496.8 891.2,498.1 890.2,498.6 889.1,498 887.9,496.8 886.8,495.7 885.9,495.4 885,496.1 884.1,497.5 883,498.7 882,499.2 881,498.6 880.2,497.2 879.4,495.8 878.7,494.9 877.7,495.1 876.5,496 875.2,497 873.9,497.4 873.1,496.9 872.6,495.5 872.3,493.8 871.9,492.6 871,492.2 869.8,492.6 868.2,493.3 866.8,493.7 865.9,493.2 865.6,491.9 865.7,490.3 865.7,488.8 865.2,488 864,487.9 862.4,488.3 860.8,488.6 859.8,488.2 859.6,487.1 859.8,485.5 860.2,484 860,482.9 859.1,482.5 857.6,482.5 855.9,482.7 854.8,482.4 854.4,481.4 854.8,480 855.4,478.4 855.6,477.2 855,476.5 853.6,476.3 852,476.2 850.6,476 850.1,475.2 850.4,473.9 851.2,472.4 851.7,471.1 851.5,470.2 850.4,469.7 848.7,469.5 847.2,469.2 846.5,468.5 846.7,467.4 847.5,466 848.3,464.7 848.5,463.6 847.7,463 846.1,462.6 844.6,462.2 843.6,461.6 843.6,460.6 844.4,459.3 845.4,458 845.9,456.9 845.4,456.1 844.1,455.5 842.5,455.1 841.3,454.5 841.1,453.6 841.7,452.4 842.8,451.2 843.6,450 843.5,449.1 842.5,448.4 840.9,447.9 839.6,447.2 839.1,446.4 839.6,445.3 840.7,444.2 841.7,443 842,442 841.3,441.3 839.9,440.6 838.4,439.9 837.6,439.1 837.9,438.1 839,437 840.2,435.9 840.8,434.9 840.4,434.1 839.2,433.3 837.7,432.6 836.7,431.7 836.7,430.8 837.6,429.8 838.9,428.7 839.9,427.8 839.8,426.8 838.9,426 837.4,425.2 836.2,424.3 836,423.4 836.7,422.5 838,421.5 839.2,420.5 839.6,419.6 838.9,418.7 837.5,417.9 836.3,417 835.7,416 836.2,415.1 837.5,414.2 838.8,413.3 839.5,412.4 839.2,411.5 838.1,410.6 836.7,409.6 835.9,408.6 836.1,407.7 837.3,406.8 838.7,406 839.7,405.2 839.8,404.3 838.9,403.3 837.6,402.3 836.6,401.2Z M925.6,415.5 925.5,410.4 925.2,405.3 924.8,400.3 924.1,395.4 923.3,390.5 922.3,385.8 921.1,381.2 919.7,376.8 918.2,372.6 916.6,368.6 914.8,364.8 912.8,361.2 910.8,358 908.6,355 906.3,352.3 903.9,349.9 901.5,347.8 899,346.1 896.4,344.7 893.7,343.6 891.1,342.9 888.4,342.5 885.7,342.5 883,342.9 880.4,343.6 877.7,344.7 875.1,346.1 872.6,347.8 870.2,349.9 867.8,352.3 865.5,355 863.3,358 861.3,361.2 859.3,364.8 857.5,368.6 855.9,372.6 854.4,376.8 853,381.2 851.8,385.8 850.8,390.5 850,395.4 849.3,400.3 848.9,405.3 848.6,410.4 848.5,415.5 848.6,420.6 848.9,425.6 849.3,430.7 850,435.6 850.8,440.5 851.8,445.2 853,449.8 854.4,454.2 855.9,458.4 857.5,462.4 859.3,466.2 861.3,469.7 863.3,473 865.5,476 867.8,478.7 870.2,481.1 872.6,483.2 875.1,484.9 877.7,486.3 880.4,487.4 883,488.1 885.7,488.4 888.4,488.4 891.1,488.1 893.7,487.4 896.4,486.3 899,484.9 901.5,483.2 903.9,481.1 906.3,478.7 908.6,476 910.8,473 912.8,469.7 914.8,466.2 916.6,462.4 918.2,458.4 919.7,454.2 921.1,449.8 922.3,445.2 923.3,440.5 924.1,435.6 924.8,430.7 925.2,425.6 925.5,420.6 925.6,415.5Z" fill="#fff" stroke="#000" stroke-width="1.8" fill-rule="evenodd"/>
<path d="M895.4,347.5 897.9,348.5 900.3,349.9 902.7,351.5 905.1,353.5 907.3,355.7 909.5,358.3 911.6,361.1 913.5,364.2 915.3,367.6 917,371.1 918.6,374.9 920,378.9 921.3,383.1 922.4,387.4 923.4,391.9 924.2,396.5 924.8,401.1 925.2,405.9 925.5,410.7 925.6,415.5 925.5,420.3 925.2,425.1 924.8,429.8 924.2,434.5 923.4,439.1 922.4,443.6 921.3,447.9 920,452.1 918.6,456 917,459.8 915.3,463.4 913.5,466.8 911.6,469.9 909.5,472.7 907.3,475.2 905.1,477.5 902.7,479.5 900.3,481.1 897.9,482.4 895.4,483.4" fill="none" stroke="#000" stroke-width="1.4" />
<path d="M914.6,415.5 914.5,420.8 914.2,426.1 913.6,431.4 912.9,436.6 912,441.7 910.8,446.6 909.5,451.4 908,456 906.3,460.5 904.4,464.7 902.4,468.6 900.2,472.3 897.9,475.8 895.4,478.9 892.8,481.7 890.1,484.2 887.4,486.4 884.5,488.2 881.6,489.7 878.6,490.8 875.6,491.6 872.6,491.9 869.5,491.9 866.5,491.6 863.5,490.8 860.5,489.7 857.6,488.2 854.7,486.4 852,484.2 849.3,481.7 846.7,478.9 844.2,475.8 841.9,472.3 839.7,468.6 837.7,464.7 835.8,460.5 834.1,456 832.6,451.4 831.3,446.6 830.1,441.7 829.2,436.6 828.5,431.4 827.9,426.1 827.6,420.8 827.5,415.5 827.6,410.2 827.9,404.8 828.5,399.6 829.2,394.4 830.1,389.3 831.3,384.4 832.6,379.6 834.1,375 835.8,370.5 837.7,366.3 839.7,362.3 841.9,358.6 844.2,355.2 846.7,352.1 849.3,349.2 852,346.7 854.7,344.6 857.6,342.7 860.5,341.3 863.5,340.2 866.5,339.4 869.5,339 872.6,339 875.6,339.4 878.6,340.2 881.6,341.3 884.5,342.7 887.4,344.6 890.1,346.7 892.8,349.2 895.4,352.1 897.9,355.2 900.2,358.6 902.4,362.3 904.4,366.3 906.3,370.5 908,375 909.5,379.6 910.8,384.4 912,389.3 912.9,394.4 913.6,399.6 914.2,404.8 914.5,410.2 914.6,415.5Z M900.6,415.5 900.5,410.6 900.3,405.7 899.9,400.9 899.3,396.2 898.7,391.5 897.8,387 896.8,382.6 895.7,378.4 894.4,374.3 893,370.5 891.5,366.9 889.9,363.5 888.2,360.3 886.4,357.5 884.4,354.9 882.5,352.6 880.4,350.6 878.3,348.9 876.1,347.6 873.9,346.6 871.7,345.9 869.4,345.5 867.2,345.5 864.9,345.9 862.7,346.6 860.5,347.6 858.3,348.9 856.2,350.6 854.1,352.6 852.1,354.9 850.2,357.5 848.4,360.3 846.7,363.5 845.1,366.9 843.6,370.5 842.2,374.3 840.9,378.4 839.8,382.6 838.8,387 837.9,391.5 837.3,396.2 836.7,400.9 836.3,405.7 836.1,410.6 836,415.5 836.1,420.4 836.3,425.2 836.7,430 837.3,434.8 837.9,439.4 838.8,444 839.8,448.4 840.9,452.6 842.2,456.6 843.6,460.5 845.1,464.1 846.7,467.5 848.4,470.7 850.2,473.5 852.1,476.1 854.1,478.4 856.2,480.4 858.3,482.1 860.5,483.4 862.7,484.4 864.9,485.1 867.2,485.4 869.4,485.4 871.7,485.1 873.9,484.4 876.1,483.4 878.3,482.1 880.4,480.4 882.5,478.4 884.4,476.1 886.4,473.5 888.2,470.7 889.9,467.5 891.5,464.1 893,460.5 894.4,456.6 895.7,452.6 896.8,448.4 897.8,444 898.7,439.4 899.3,434.8 899.9,430 900.3,425.2 900.5,420.4 900.6,415.5Z" fill="url(#tex)" stroke="#000" stroke-width="2.0" fill-rule="evenodd"/>
<path d="M900.6,415.5 900.5,410.6 900.3,405.7 899.9,400.9 899.3,396.2 898.7,391.5 897.8,387 896.8,382.6 895.7,378.4 894.4,374.3 893,370.5 891.5,366.9 889.9,363.5 888.2,360.3 886.4,357.5 884.4,354.9 882.5,352.6 880.4,350.6 878.3,348.9 876.1,347.6 873.9,346.6 871.7,345.9 869.4,345.5 867.2,345.5 864.9,345.9 862.7,346.6 860.5,347.6 858.3,348.9 856.2,350.6 854.1,352.6 852.1,354.9 850.2,357.5 848.4,360.3 846.7,363.5 845.1,366.9 843.6,370.5 842.2,374.3 840.9,378.4 839.8,382.6 838.8,387 837.9,391.5 837.3,396.2 836.7,400.9 836.3,405.7 836.1,410.6 836,415.5 836.1,420.4 836.3,425.2 836.7,430 837.3,434.8 837.9,439.4 838.8,444 839.8,448.4 840.9,452.6 842.2,456.6 843.6,460.5 845.1,464.1 846.7,467.5 848.4,470.7 850.2,473.5 852.1,476.1 854.1,478.4 856.2,480.4 858.3,482.1 860.5,483.4 862.7,484.4 864.9,485.1 867.2,485.4 869.4,485.4 871.7,485.1 873.9,484.4 876.1,483.4 878.3,482.1 880.4,480.4 882.5,478.4 884.4,476.1 886.4,473.5 888.2,470.7 889.9,467.5 891.5,464.1 893,460.5 894.4,456.6 895.7,452.6 896.8,448.4 897.8,444 898.7,439.4 899.3,434.8 899.9,430 900.3,425.2 900.5,420.4 900.6,415.5Z M898.1,415.5 897.3,414.6 895.4,413.7 893.6,412.9 893.1,412 894.2,411.1 896.1,410.2 897.7,409.2 897.8,408.3 896.4,407.5 894.4,406.7 892.9,405.9 893,405 894.5,404 896.4,403 897.4,402 896.9,401.1 895.1,400.4 893.1,399.8 892.1,399 892.8,398 894.6,396.9 896.2,395.8 896.6,394.8 895.4,394.1 893.4,393.5 891.6,392.9 891.3,392.1 892.4,391 894.2,389.8 895.4,388.6 895.2,387.8 893.5,387.2 891.3,386.8 890,386.2 890.2,385.2 891.7,384 893.4,382.7 894,381.6 893.1,380.9 891,380.5 889,380.2 888.3,379.5 889,378.4 890.6,377 891.9,375.6 891.8,374.7 890.3,374.3 888.1,374.1 886.5,373.8 886.3,373 887.4,371.7 888.9,370.1 889.6,368.8 888.9,368.1 887,368.1 884.9,368.1 883.7,367.7 883.9,366.7 885.2,365.1 886.4,363.4 886.4,362.3 885.1,362.1 883,362.4 881.2,362.6 880.5,362.1 881,360.7 882.2,358.8 882.8,357.2 882.2,356.6 880.5,356.9 878.4,357.6 877,357.9 876.8,357.1 877.3,355.3 878,353.3 877.8,352 876.7,352 875,353.1 873.4,354.3 872.6,354.6 872.4,353.4 872.4,351.3 872.2,349.5 871.4,348.9 870.3,350 869.3,351.9 868.6,353.3 868,353.3 867.3,351.9 866.3,350 865.2,348.9 864.4,349.5 864.2,351.3 864.2,353.4 864,354.6 863.2,354.3 861.6,353.1 859.9,352 858.8,352 858.6,353.3 859.3,355.3 859.8,357.1 859.6,357.9 858.2,357.6 856.1,356.9 854.4,356.6 853.8,357.2 854.4,358.8 855.6,360.7 856.1,362.1 855.4,362.6 853.6,362.4 851.5,362.1 850.2,362.3 850.2,363.4 851.4,365.1 852.7,366.7 852.9,367.7 851.7,368.1 849.6,368.1 847.7,368.1 847,368.8 847.7,370.1 849.2,371.7 850.3,373 850.1,373.8 848.5,374.1 846.3,374.3 844.8,374.7 844.7,375.6 846,377 847.6,378.4 848.3,379.5 847.6,380.2 845.6,380.5 843.5,380.9 842.6,381.6 843.2,382.7 844.9,384 846.4,385.2 846.6,386.2 845.3,386.8 843.1,387.2 841.4,387.8 841.2,388.6 842.4,389.8 844.2,391 845.3,392.1 845,392.9 843.2,393.5 841.2,394.1 840,394.8 840.4,395.8 842,396.9 843.8,398 844.5,399 843.5,399.8 841.5,400.4 839.7,401.1 839.2,402 840.2,403 842.1,404 843.6,405 843.7,405.9 842.2,406.7 840.2,407.5 838.8,408.3 838.9,409.2 840.5,410.2 842.4,411.1 843.5,412 843,412.9 841.2,413.7 839.3,414.6 838.5,415.5 839.3,416.4 841.2,417.3 843,418.1 843.5,419 842.4,419.9 840.5,420.8 838.9,421.8 838.8,422.7 840.2,423.5 842.2,424.3 843.7,425.1 843.6,426 842.1,426.9 840.2,428 839.2,429 839.7,429.8 841.5,430.6 843.5,431.2 844.5,432 843.8,433 842,434.1 840.4,435.2 840,436.1 841.2,436.9 843.2,437.5 845,438.1 845.3,438.9 844.2,440 842.4,441.2 841.2,442.3 841.4,443.2 843.1,443.8 845.3,444.2 846.6,444.8 846.4,445.7 844.9,447 843.2,448.3 842.6,449.4 843.5,450.1 845.6,450.4 847.6,450.8 848.3,451.4 847.6,452.6 846,454 844.7,455.3 844.8,456.3 846.3,456.7 848.5,456.8 850.1,457.1 850.3,458 849.2,459.3 847.7,460.9 847,462.2 847.7,462.8 849.6,462.9 851.7,462.9 852.9,463.2 852.7,464.3 851.4,465.9 850.2,467.6 850.2,468.6 851.5,468.9 853.6,468.6 855.4,468.4 856.1,468.9 855.6,470.3 854.4,472.2 853.8,473.7 854.4,474.4 856.1,474.1 858.2,473.4 859.6,473.1 859.8,473.9 859.3,475.7 858.6,477.7 858.8,479 859.9,478.9 861.6,477.9 863.2,476.7 864,476.4 864.2,477.6 864.2,479.7 864.4,481.5 865.2,482 866.3,481 867.3,479.1 868,477.7 868.6,477.7 869.3,479.1 870.3,481 871.4,482 872.2,481.5 872.4,479.7 872.4,477.6 872.6,476.4 873.4,476.7 875,477.9 876.7,478.9 877.8,479 878,477.7 877.3,475.7 876.8,473.9 877,473.1 878.4,473.4 880.5,474.1 882.2,474.4 882.8,473.7 882.2,472.2 881,470.3 880.5,468.9 881.2,468.4 883,468.6 885.1,468.9 886.4,468.6 886.4,467.6 885.2,465.9 883.9,464.3 883.7,463.2 884.9,462.9 887,462.9 888.9,462.8 889.6,462.2 888.9,460.9 887.4,459.3 886.3,458 886.5,457.1 888.1,456.8 890.3,456.7 891.8,456.3 891.9,455.3 890.6,454 889,452.6 888.3,451.4 889,450.8 891,450.4 893.1,450.1 894,449.4 893.4,448.3 891.7,447 890.2,445.7 890,444.8 891.3,444.2 893.5,443.8 895.2,443.2 895.4,442.3 894.2,441.2 892.4,440 891.3,438.9 891.6,438.1 893.4,437.5 895.4,436.9 896.6,436.1 896.2,435.2 894.6,434.1 892.8,433 892.1,432 893.1,431.2 895.1,430.6 896.9,429.8 897.4,429 896.4,428 894.5,426.9 893,426 892.9,425.1 894.4,424.3 896.4,423.5 897.8,422.7 897.7,421.8 896.1,420.8 894.2,419.9 893.1,419 893.6,418.1 895.4,417.3 897.3,416.4 898.1,415.5Z" fill="#fff" stroke="#000" stroke-width="0" fill-rule="evenodd"/>
<path d="M898.1,415.5 897.3,416.4 895.4,417.3 893.6,418.1 893.1,419 894.2,419.9 896.1,420.8 897.7,421.8 897.8,422.7 896.4,423.5 894.4,424.3 892.9,425.1 893,426 894.5,426.9 896.4,428 897.4,429 896.9,429.8 895.1,430.6 893.1,431.2 892.1,432 892.8,433 894.6,434.1 896.2,435.2 896.6,436.1 895.4,436.9 893.4,437.5 891.6,438.1 891.3,438.9 892.4,440 894.2,441.2 895.4,442.3 895.2,443.2 893.5,443.8 891.3,444.2 890,444.8 890.2,445.7 891.7,447 893.4,448.3 894,449.4 893.1,450.1 891,450.4 889,450.8 888.3,451.4 889,452.6 890.6,454 891.9,455.3 891.8,456.3 890.3,456.7 888.1,456.8 886.5,457.1 886.3,458 887.4,459.3 888.9,460.9 889.6,462.2 888.9,462.8 887,462.9 884.9,462.9 883.7,463.2 883.9,464.3 885.2,465.9 886.4,467.6 886.4,468.6 885.1,468.9 883,468.6 881.2,468.4 880.5,468.9 881,470.3 882.2,472.2 882.8,473.7 882.2,474.4 880.5,474.1 878.4,473.4 877,473.1 876.8,473.9 877.3,475.7 878,477.7 877.8,479 876.7,478.9 875,477.9 873.4,476.7 872.6,476.4 872.4,477.6 872.4,479.7 872.2,481.5 871.4,482 870.3,481 869.3,479.1 868.6,477.7 868,477.7 867.3,479.1 866.3,481 865.2,482 864.4,481.5 864.2,479.7 864.2,477.6 864,476.4 863.2,476.7 861.6,477.9 859.9,478.9 858.8,479 858.6,477.7 859.3,475.7 859.8,473.9 859.6,473.1 858.2,473.4 856.1,474.1 854.4,474.4 853.8,473.7 854.4,472.2 855.6,470.3 856.1,468.9 855.4,468.4 853.6,468.6 851.5,468.9 850.2,468.6 850.2,467.6 851.4,465.9 852.7,464.3 852.9,463.2 851.7,462.9 849.6,462.9 847.7,462.8 847,462.2 847.7,460.9 849.2,459.3 850.3,458 850.1,457.1 848.5,456.8 846.3,456.7 844.8,456.3 844.7,455.3 846,454 847.6,452.6 848.3,451.4 847.6,450.8 845.6,450.4 843.5,450.1 842.6,449.4 843.2,448.3 844.9,447 846.4,445.7 846.6,444.8 845.3,444.2 843.1,443.8 841.4,443.2 841.2,442.3 842.4,441.2 844.2,440 845.3,438.9 845,438.1 843.2,437.5 841.2,436.9 840,436.1 840.4,435.2 842,434.1 843.8,433 844.5,432 843.5,431.2 841.5,430.6 839.7,429.8 839.2,429 840.2,428 842.1,426.9 843.6,426 843.7,425.1 842.2,424.3 840.2,423.5 838.8,422.7 838.9,421.8 840.5,420.8 842.4,419.9 843.5,419 843,418.1 841.2,417.3 839.3,416.4 838.5,415.5 839.3,414.6 841.2,413.7 843,412.9 843.5,412 842.4,411.1 840.5,410.2 838.9,409.2 838.8,408.3 840.2,407.5 842.2,406.7 843.7,405.9 843.6,405 842.1,404 840.2,403 839.2,402 839.7,401.1 841.5,400.4 843.5,399.8 844.5,399 843.8,398 842,396.9 840.4,395.8 840,394.8 841.2,394.1 843.2,393.5 845,392.9 845.3,392.1 844.2,391 842.4,389.8 841.2,388.6 841.4,387.8 843.1,387.2 845.3,386.8 846.6,386.2 846.4,385.2 844.9,384 843.2,382.7 842.6,381.6 843.5,380.9 845.6,380.5 847.6,380.2 848.3,379.5 847.6,378.4 846,377 844.7,375.6 844.8,374.7 846.3,374.3 848.5,374.1 850.1,373.8 850.3,373 849.2,371.7 847.7,370.1 847,368.8 847.7,368.1 849.6,368.1 851.7,368.1 852.9,367.7 852.7,366.7 851.4,365.1 850.2,363.4 850.2,362.3 851.5,362.1 853.6,362.4 855.4,362.6 856.1,362.1 855.6,360.7 854.4,358.8 853.8,357.2 854.4,356.6 856.1,356.9 858.2,357.6 859.6,357.9 859.8,357.1 859.3,355.3 858.6,353.3 858.8,352 859.9,352 861.6,353.1 863.2,354.3 864,354.6 864.2,353.4 864.2,351.3 864.4,349.5 865.2,348.9 866.3,350 867.3,351.9 868,353.3 868.6,353.3 869.3,351.9 870.3,350 871.4,348.9 872.2,349.5 872.4,351.3 872.4,353.4 872.6,354.6 873.4,354.3 875,353.1 876.7,352 877.8,352 878,353.3 877.3,355.3 876.8,357.1 877,357.9 878.4,357.6 880.5,356.9 882.2,356.6 882.8,357.2 882.2,358.8 881,360.7 880.5,362.1 881.2,362.6 883,362.4 885.1,362.1 886.4,362.3 886.4,363.4 885.2,365.1 883.9,366.7 883.7,367.7 884.9,368.1 887,368.1 888.9,368.1 889.6,368.8 888.9,370.1 887.4,371.7 886.3,373 886.5,373.8 888.1,374.1 890.3,374.3 891.8,374.7 891.9,375.6 890.6,377 889,378.4 888.3,379.5 889,380.2 891,380.5 893.1,380.9 894,381.6 893.4,382.7 891.7,384 890.2,385.2 890,386.2 891.3,386.8 893.5,387.2 895.2,387.8 895.4,388.6 894.2,389.8 892.4,391 891.3,392.1 891.6,392.9 893.4,393.5 895.4,394.1 896.6,394.8 896.2,395.8 894.6,396.9 892.8,398 892.1,399 893.1,399.8 895.1,400.4 896.9,401.1 897.4,402 896.4,403 894.5,404 893,405 892.9,405.9 894.4,406.7 896.4,407.5 897.8,408.3 897.7,409.2 896.1,410.2 894.2,411.1 893.1,412 893.6,412.9 895.4,413.7 897.3,414.6 898.1,415.5Z" fill="none" stroke="#000" stroke-width="2.4" />
<path d="M875.7,475.6 874.1,474.7 872.6,473.5 871.1,472 869.7,470.3 868.3,468.3 867,466.1 865.7,463.6 864.5,460.8 863.3,457.9 862.3,454.7 861.3,451.3 860.4,447.8 859.6,444.1 858.9,440.3 858.4,436.4 857.9,432.3 857.5,428.2 857.2,424 857.1,419.7 857,415.5 857.1,411.2 857.2,407 857.5,402.8 857.9,398.7 858.4,394.6 858.9,390.7 859.6,386.9 860.4,383.2 861.3,379.6 862.3,376.3 863.3,373.1 864.5,370.2 865.7,367.4 867,364.9 868.3,362.7 869.7,360.7 871.1,358.9 872.6,357.5 874.1,356.3 875.7,355.4" fill="none" stroke="#000" stroke-width="1.8" />
<path d="M879.2,475.6 877.6,474.7 876.1,473.5 874.6,472 873.2,470.3 871.8,468.3 870.5,466.1 869.2,463.6 868,460.8 866.8,457.9 865.8,454.7 864.8,451.3 863.9,447.8 863.1,444.1 862.4,440.3 861.9,436.4 861.4,432.3 861,428.2 860.7,424 860.6,419.7 860.5,415.5 860.6,411.2 860.7,407 861,402.8 861.4,398.7 861.9,394.6 862.4,390.7 863.1,386.9 863.9,383.2 864.8,379.6 865.8,376.3 866.8,373.1 868,370.2 869.2,367.4 870.5,364.9 871.8,362.7 873.2,360.7 874.6,358.9 876.1,357.5 877.6,356.3 879.2,355.4" fill="none" stroke="#000" stroke-width="1.4" />
<g transform="translate(98.6,548.9) rotate(-19.1) scale(1,0.953)"><text x="0" y="0" dx="8.5 -2.85 -2.85 -2.8 2.5 0 0 0 0 0 0 -2.5" font-size="134.1" font-weight="bold" fill="none" stroke="#2a2a2a" stroke-width="0.85">www.sinhron-too.kz</text></g>
<path d="M203.2,56.0 L203.2,40.1 L199.2,43.7" fill="none" stroke="#000" stroke-width="2.4" stroke-linejoin="miter"/>
<text transform="translate(207.3,56.5) scale(0.2280,0.2357)" font-size="100">0</text>
<text transform="translate(259.3,56.5) scale(0.2409,0.2186)" font-size="100">9</text>
<text transform="translate(296.3,56.5) scale(0.2468,0.2186)" font-size="100">8</text>
<text transform="translate(402.3,50.9) scale(0.2440,0.2229)" font-size="100">7</text>
<text transform="translate(508.3,50.9) scale(0.2130,0.2157)" font-size="100">6</text>
<text transform="translate(553.6,50.9) scale(0.2274,0.2286)" font-size="100">5</text>
<text transform="translate(583.9,51.3) scale(0.2220,0.2286)" font-size="100">4</text>
<text transform="translate(614.4,52.6) scale(0.2340,0.2114)" font-size="100">3</text>
<text transform="translate(655.9,53.8) scale(0.2440,0.2114)" font-size="100">2</text>
<path d="M706.4,52.8 L706.4,39.1 L702.0,42.7" fill="none" stroke="#000" stroke-width="2.4" stroke-linejoin="miter"/>
<text transform="translate(54.8,562.4) scale(0.2330,0.2300)" font-size="100">2</text>
<text transform="translate(67.9,562.4) scale(0.2255,0.2300)" font-size="100">3</text>
<text transform="translate(122.5,564.8) scale(0.2330,0.2286)" font-size="100">2</text>
<text transform="translate(136.0,564.8) scale(0.2330,0.2286)" font-size="100">2</text>
<text transform="translate(158.2,564.3) scale(0.2330,0.2286)" font-size="100">2</text>
<path d="M178.6,563.8 L178.6,548.4 L174.6,552.0" fill="none" stroke="#000" stroke-width="2.4" stroke-linejoin="miter"/>
<text transform="translate(250.0,569.7) scale(0.2330,0.2214)" font-size="100">2</text>
<text transform="translate(264.0,569.7) scale(0.2280,0.2214)" font-size="100">0</text>
<path d="M344.4,566.8 L344.4,552.6 L340.5,556.2" fill="none" stroke="#000" stroke-width="2.4" stroke-linejoin="miter"/>
<text transform="translate(347.2,567.3) scale(0.2280,0.2114)" font-size="100">9</text>
<path d="M426.4,563.9 L426.4,548.9 L422.5,552.5" fill="none" stroke="#000" stroke-width="2.4" stroke-linejoin="miter"/>
<text transform="translate(429.4,564.4) scale(0.2255,0.2229)" font-size="100">8</text>
<path d="M457.2,563.9 L457.2,548.9 L453.2,552.5" fill="none" stroke="#000" stroke-width="2.4" stroke-linejoin="miter"/>
<text transform="translate(459.2,564.4) scale(0.2330,0.2229)" font-size="100">7</text>
<path d="M521.1,563.9 L521.1,548.9 L517.2,552.5" fill="none" stroke="#000" stroke-width="2.4" stroke-linejoin="miter"/>
<text transform="translate(524.5,564.4) scale(0.2304,0.2229)" font-size="100">6</text>
<path d="M695.9,563.9 L695.9,548.9 L692.0,552.5" fill="none" stroke="#000" stroke-width="2.4" stroke-linejoin="miter"/>
<text transform="translate(699.6,564.4) scale(0.2232,0.2229)" font-size="100">5</text>
<path d="M1171.8,565.3 L1171.8,549.8 L1167.9,553.4" fill="none" stroke="#000" stroke-width="2.4" stroke-linejoin="miter"/>
<text transform="translate(1175.5,565.8) scale(0.2120,0.2300)" font-size="100">4</text>
<path d="M1210.5,565.3 L1210.5,549.8 L1206.6,553.4" fill="none" stroke="#000" stroke-width="2.4" stroke-linejoin="miter"/>
<text transform="translate(1214.3,565.8) scale(0.2255,0.2300)" font-size="100">3</text>
<path d="M1257.0,565.3 L1257.0,549.8 L1253.1,553.4" fill="none" stroke="#000" stroke-width="2.4" stroke-linejoin="miter"/>
<text transform="translate(1261.4,565.8) scale(0.2330,0.2300)" font-size="100">2</text>
<path d="M1304.8,565.3 L1304.8,549.8 L1300.8,553.4" fill="none" stroke="#000" stroke-width="2.4" stroke-linejoin="miter"/>
<path d="M1316.0,565.3 L1316.0,549.8 L1312.0,553.4" fill="none" stroke="#000" stroke-width="2.4" stroke-linejoin="miter"/>
<text transform="translate(194.0,319.5) scale(0.2330,0.2314)" font-size="100">2</text>
<text transform="translate(208.2,319.5) scale(0.2120,0.2314)" font-size="100">4</text>
<text transform="translate(234.8,320.2) scale(0.2330,0.2357)" font-size="100">2</text>
<text transform="translate(248.3,320.2) scale(0.2232,0.2357)" font-size="100">5</text>
<text transform="translate(467.8,51.3) scale(0.2160,0.2000)" font-size="100">4</text>
<path d="M105.2,564.3 L105.2,550.1 L99.6,553.7" fill="none" stroke="#000" stroke-width="2.4" stroke-linejoin="miter"/>
<text transform="translate(199.1,568.5) scale(0.2340,0.2114)" font-size="100">3</text>
<circle cx="474" cy="43.1" r="15.3" fill="none" stroke="#000" stroke-width="1.3"/>
<circle cx="102.9" cy="557.9" r="15.2" fill="none" stroke="#000" stroke-width="1.3"/>
<circle cx="205.9" cy="561" r="15.2" fill="none" stroke="#000" stroke-width="1.3"/>
<line x1="208.5" y1="58.0" x2="208.5" y2="129.0" stroke="#000" stroke-width="1.3" />
<line x1="265.3" y1="58.0" x2="265.3" y2="125.0" stroke="#000" stroke-width="1.3" />
<line x1="303.2" y1="58.0" x2="303.2" y2="133.0" stroke="#000" stroke-width="1.3" />
<line x1="407.7" y1="54.5" x2="407.7" y2="91.0" stroke="#000" stroke-width="1.3" />
<line x1="474.5" y1="58.5" x2="474.5" y2="131.0" stroke="#000" stroke-width="1.3" />
<line x1="514.3" y1="55.8" x2="505.2" y2="127.0" stroke="#000" stroke-width="1.3" />
<line x1="514.3" y1="55.8" x2="521.7" y2="127.0" stroke="#000" stroke-width="1.3" />
<line x1="559.9" y1="55.0" x2="560.7" y2="134.0" stroke="#000" stroke-width="1.3" />
<line x1="592.4" y1="55.0" x2="592.5" y2="130.5" stroke="#000" stroke-width="1.3" />
<line x1="620.7" y1="56.0" x2="620.5" y2="138.0" stroke="#000" stroke-width="1.3" />
<line x1="661.5" y1="57.0" x2="661.5" y2="119.0" stroke="#000" stroke-width="1.3" />
<line x1="704.6" y1="57.0" x2="705.2" y2="126.0" stroke="#000" stroke-width="1.3" />
<line x1="68.3" y1="543.9" x2="55.6" y2="456.0" stroke="#000" stroke-width="1.3" />
<line x1="68.3" y1="543.9" x2="85.2" y2="456.0" stroke="#000" stroke-width="1.3" />
<line x1="103.5" y1="542.9" x2="114.9" y2="458.0" stroke="#000" stroke-width="1.3" />
<line x1="136.0" y1="546.0" x2="135.5" y2="465.7" stroke="#000" stroke-width="1.3" />
<line x1="172.2" y1="542.9" x2="188.0" y2="458.0" stroke="#000" stroke-width="1.3" />
<line x1="205.7" y1="545.8" x2="205.7" y2="446.0" stroke="#000" stroke-width="1.3" />
<line x1="261.0" y1="549.5" x2="228.0" y2="457.0" stroke="#000" stroke-width="1.3" />
<line x1="347.7" y1="549.5" x2="348.2" y2="506.0" stroke="#000" stroke-width="1.3" />
<line x1="430.5" y1="543.7" x2="429.7" y2="490.0" stroke="#000" stroke-width="1.3" />
<line x1="459.3" y1="543.7" x2="438.0" y2="448.0" stroke="#000" stroke-width="1.3" />
<line x1="525.7" y1="543.7" x2="526.0" y2="496.0" stroke="#000" stroke-width="1.3" />
<line x1="700.5" y1="543.7" x2="700.5" y2="443.0" stroke="#000" stroke-width="1.3" />
<line x1="1175.9" y1="545.0" x2="1175.9" y2="487.0" stroke="#000" stroke-width="1.3" />
<line x1="1215.6" y1="543.0" x2="1215.6" y2="486.0" stroke="#000" stroke-width="1.3" />
<line x1="1262.0" y1="543.0" x2="1262.0" y2="486.0" stroke="#000" stroke-width="1.3" />
<line x1="1309.0" y1="544.0" x2="1309.0" y2="486.6" stroke="#000" stroke-width="1.3" />
<line x1="208.7" y1="321.4" x2="215.0" y2="349.3" stroke="#000" stroke-width="1.3" />
<line x1="247.6" y1="320.6" x2="238.4" y2="350.7" stroke="#000" stroke-width="1.3" />
</svg></body></html>
